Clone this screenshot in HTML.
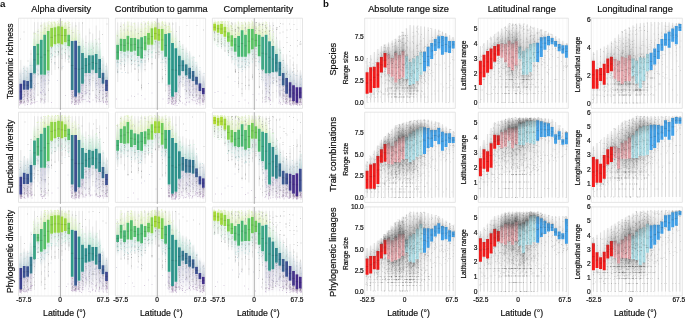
<!DOCTYPE html>
<html><head><meta charset="utf-8"><style>
html,body{margin:0;padding:0;background:#fff;width:685px;height:318px;overflow:hidden}
svg{display:block;will-change:transform}
text{font-family:"Liberation Sans",sans-serif;fill:#111;stroke:#111;stroke-width:.2px;text-anchor:middle}
path{fill:none}
stop{stop-color:#555}
</style></head><body>
<svg xmlns="http://www.w3.org/2000/svg" width="685" height="318" viewBox="0 0 685 318">
<defs><linearGradient id="g0" gradientUnits="userSpaceOnUse" x1="0" y1="58" x2="0" y2="100"><stop offset="0" stop-opacity="0"/><stop offset=".14" stop-opacity=".02"/><stop offset=".24" stop-opacity=".05"/><stop offset=".3" stop-opacity=".07"/><stop offset=".34" stop-opacity=".08"/><stop offset=".49" stop-opacity=".02"/><stop offset=".65" stop-opacity=".01"/><stop offset=".85" stop-opacity="0"/><stop offset=".85" stop-opacity=".04"/><stop offset=".9" stop-opacity=".02"/><stop offset=".94" stop-opacity=".01"/><stop offset="1" stop-opacity="0"/></linearGradient><linearGradient id="g1" gradientUnits="userSpaceOnUse" x1="0" y1="55" x2="0" y2="99.5"><stop offset="0" stop-opacity="0"/><stop offset=".11" stop-opacity=".03"/><stop offset=".19" stop-opacity=".06"/><stop offset=".25" stop-opacity=".09"/><stop offset=".27" stop-opacity=".1"/><stop offset=".45" stop-opacity=".02"/><stop offset=".62" stop-opacity=".01"/><stop offset=".85" stop-opacity="0"/><stop offset=".85" stop-opacity=".04"/><stop offset=".89" stop-opacity=".02"/><stop offset=".94" stop-opacity=".01"/><stop offset="1" stop-opacity="0"/></linearGradient><linearGradient id="g2" gradientUnits="userSpaceOnUse" x1="0" y1="52" x2="0" y2="99"><stop offset="0" stop-opacity="0"/><stop offset=".13" stop-opacity=".03"/><stop offset=".22" stop-opacity=".06"/><stop offset=".28" stop-opacity=".09"/><stop offset=".31" stop-opacity=".1"/><stop offset=".45" stop-opacity=".03"/><stop offset=".58" stop-opacity=".01"/><stop offset=".76" stop-opacity="0"/><stop offset=".77" stop-opacity=".05"/><stop offset=".84" stop-opacity=".03"/><stop offset=".91" stop-opacity=".01"/><stop offset="1" stop-opacity="0"/></linearGradient><linearGradient id="g3" gradientUnits="userSpaceOnUse" x1="0" y1="49" x2="0" y2="98.5"><stop offset="0" stop-opacity="0"/><stop offset=".11" stop-opacity=".05"/><stop offset=".19" stop-opacity=".09"/><stop offset=".24" stop-opacity=".12"/><stop offset=".27" stop-opacity=".14"/><stop offset=".42" stop-opacity=".03"/><stop offset=".58" stop-opacity=".02"/><stop offset=".78" stop-opacity="0"/><stop offset=".78" stop-opacity=".06"/><stop offset=".85" stop-opacity=".04"/><stop offset=".91" stop-opacity=".02"/><stop offset="1" stop-opacity="0"/></linearGradient><linearGradient id="g4" gradientUnits="userSpaceOnUse" x1="0" y1="46" x2="0" y2="98"><stop offset="0" stop-opacity="0"/><stop offset=".08" stop-opacity=".07"/><stop offset=".15" stop-opacity=".15"/><stop offset=".19" stop-opacity=".2"/><stop offset=".21" stop-opacity=".22"/><stop offset=".3" stop-opacity=".06"/><stop offset=".39" stop-opacity=".04"/><stop offset=".51" stop-opacity=".01"/><stop offset=".51" stop-opacity=".08"/><stop offset=".66" stop-opacity=".05"/><stop offset=".8" stop-opacity=".02"/><stop offset="1" stop-opacity="0"/></linearGradient><linearGradient id="g5" gradientUnits="userSpaceOnUse" x1="0" y1="44.1" x2="0" y2="97.9"><stop offset="0" stop-opacity="0"/><stop offset=".07" stop-opacity=".11"/><stop offset=".12" stop-opacity=".21"/><stop offset=".15" stop-opacity=".28"/><stop offset=".16" stop-opacity=".32"/><stop offset=".25" stop-opacity=".09"/><stop offset=".33" stop-opacity=".05"/><stop offset=".44" stop-opacity=".01"/><stop offset=".44" stop-opacity=".09"/><stop offset=".61" stop-opacity=".05"/><stop offset=".77" stop-opacity=".02"/><stop offset="1" stop-opacity="0"/></linearGradient><linearGradient id="g6" gradientUnits="userSpaceOnUse" x1="0" y1="42.3" x2="0" y2="97.8"><stop offset="0" stop-opacity="0"/><stop offset=".09" stop-opacity=".12"/><stop offset=".16" stop-opacity=".24"/><stop offset=".2" stop-opacity=".31"/><stop offset=".22" stop-opacity=".35"/><stop offset=".33" stop-opacity=".1"/><stop offset=".43" stop-opacity=".05"/><stop offset=".57" stop-opacity=".01"/><stop offset=".57" stop-opacity=".15"/><stop offset=".7" stop-opacity=".09"/><stop offset=".83" stop-opacity=".04"/><stop offset="1" stop-opacity="0"/></linearGradient><linearGradient id="g7" gradientUnits="userSpaceOnUse" x1="0" y1="40.5" x2="0" y2="97.6"><stop offset="0" stop-opacity="0"/><stop offset=".12" stop-opacity=".11"/><stop offset=".21" stop-opacity=".21"/><stop offset=".28" stop-opacity=".28"/><stop offset=".31" stop-opacity=".32"/><stop offset=".41" stop-opacity=".12"/><stop offset=".5" stop-opacity=".07"/><stop offset=".63" stop-opacity=".01"/><stop offset=".64" stop-opacity=".2"/><stop offset=".75" stop-opacity=".12"/><stop offset=".85" stop-opacity=".05"/><stop offset="1" stop-opacity="0"/></linearGradient><linearGradient id="g8" gradientUnits="userSpaceOnUse" x1="0" y1="38.6" x2="0" y2="97.5"><stop offset="0" stop-opacity="0"/><stop offset=".1" stop-opacity=".16"/><stop offset=".17" stop-opacity=".3"/><stop offset=".22" stop-opacity=".39"/><stop offset=".24" stop-opacity=".44"/><stop offset=".39" stop-opacity=".1"/><stop offset=".54" stop-opacity=".05"/><stop offset=".74" stop-opacity=".01"/><stop offset=".75" stop-opacity=".24"/><stop offset=".82" stop-opacity=".15"/><stop offset=".9" stop-opacity=".07"/><stop offset="1" stop-opacity="0"/></linearGradient><linearGradient id="g9" gradientUnits="userSpaceOnUse" x1="0" y1="35.2" x2="0" y2="97.5"><stop offset="0" stop-opacity="0"/><stop offset=".13" stop-opacity=".13"/><stop offset=".22" stop-opacity=".25"/><stop offset=".29" stop-opacity=".33"/><stop offset=".32" stop-opacity=".37"/><stop offset=".43" stop-opacity=".13"/><stop offset=".55" stop-opacity=".07"/><stop offset=".7" stop-opacity=".01"/><stop offset=".7" stop-opacity=".26"/><stop offset=".79" stop-opacity=".16"/><stop offset=".88" stop-opacity=".07"/><stop offset="1" stop-opacity="0"/></linearGradient><linearGradient id="g10" gradientUnits="userSpaceOnUse" x1="0" y1="31.8" x2="0" y2="97.5"><stop offset="0" stop-opacity="0"/><stop offset=".12" stop-opacity=".14"/><stop offset=".2" stop-opacity=".27"/><stop offset=".26" stop-opacity=".35"/><stop offset=".29" stop-opacity=".39"/><stop offset=".41" stop-opacity=".12"/><stop offset=".53" stop-opacity=".07"/><stop offset=".69" stop-opacity=".01"/><stop offset=".7" stop-opacity=".27"/><stop offset=".79" stop-opacity=".17"/><stop offset=".88" stop-opacity=".08"/><stop offset="1" stop-opacity="0"/></linearGradient><linearGradient id="g11" gradientUnits="userSpaceOnUse" x1="0" y1="28.4" x2="0" y2="97.5"><stop offset="0" stop-opacity="0"/><stop offset=".16" stop-opacity=".09"/><stop offset=".28" stop-opacity=".19"/><stop offset=".36" stop-opacity=".25"/><stop offset=".4" stop-opacity=".28"/><stop offset=".5" stop-opacity=".14"/><stop offset=".6" stop-opacity=".08"/><stop offset=".73" stop-opacity=".01"/><stop offset=".73" stop-opacity=".26"/><stop offset=".81" stop-opacity=".16"/><stop offset=".89" stop-opacity=".07"/><stop offset="1" stop-opacity="0"/></linearGradient><linearGradient id="g12" gradientUnits="userSpaceOnUse" x1="0" y1="25" x2="0" y2="97.5"><stop offset="0" stop-opacity="0"/><stop offset=".2" stop-opacity=".06"/><stop offset=".36" stop-opacity=".13"/><stop offset=".46" stop-opacity=".18"/><stop offset=".51" stop-opacity=".2"/><stop offset=".61" stop-opacity=".12"/><stop offset=".7" stop-opacity=".07"/><stop offset=".83" stop-opacity=".01"/><stop offset=".83" stop-opacity=".23"/><stop offset=".88" stop-opacity=".15"/><stop offset=".93" stop-opacity=".07"/><stop offset="1" stop-opacity="0"/></linearGradient><linearGradient id="g13" gradientUnits="userSpaceOnUse" x1="0" y1="25.4" x2="0" y2="97.5"><stop offset="0" stop-opacity="0"/><stop offset=".18" stop-opacity=".06"/><stop offset=".32" stop-opacity=".12"/><stop offset=".41" stop-opacity=".16"/><stop offset=".46" stop-opacity=".18"/><stop offset=".56" stop-opacity=".09"/><stop offset=".67" stop-opacity=".05"/><stop offset=".81" stop-opacity=".01"/><stop offset=".81" stop-opacity=".2"/><stop offset=".87" stop-opacity=".12"/><stop offset=".93" stop-opacity=".05"/><stop offset="1" stop-opacity="0"/></linearGradient><linearGradient id="g14" gradientUnits="userSpaceOnUse" x1="0" y1="25.8" x2="0" y2="97.5"><stop offset="0" stop-opacity="0"/><stop offset=".17" stop-opacity=".05"/><stop offset=".29" stop-opacity=".1"/><stop offset=".38" stop-opacity=".14"/><stop offset=".42" stop-opacity=".16"/><stop offset=".53" stop-opacity=".08"/><stop offset=".63" stop-opacity=".04"/><stop offset=".77" stop-opacity=".01"/><stop offset=".77" stop-opacity=".16"/><stop offset=".84" stop-opacity=".1"/><stop offset=".91" stop-opacity=".04"/><stop offset="1" stop-opacity="0"/></linearGradient><linearGradient id="g15" gradientUnits="userSpaceOnUse" x1="0" y1="26.2" x2="0" y2="97.5"><stop offset="0" stop-opacity="0"/><stop offset=".14" stop-opacity=".04"/><stop offset=".25" stop-opacity=".09"/><stop offset=".33" stop-opacity=".12"/><stop offset=".36" stop-opacity=".14"/><stop offset=".46" stop-opacity=".06"/><stop offset=".55" stop-opacity=".03"/><stop offset=".68" stop-opacity="0"/><stop offset=".68" stop-opacity=".11"/><stop offset=".78" stop-opacity=".07"/><stop offset=".87" stop-opacity=".03"/><stop offset="1" stop-opacity="0"/></linearGradient><linearGradient id="g16" gradientUnits="userSpaceOnUse" x1="0" y1="26.6" x2="0" y2="97.5"><stop offset="0" stop-opacity="0"/><stop offset=".14" stop-opacity=".03"/><stop offset=".25" stop-opacity=".07"/><stop offset=".32" stop-opacity=".09"/><stop offset=".36" stop-opacity=".1"/><stop offset=".44" stop-opacity=".05"/><stop offset=".52" stop-opacity=".03"/><stop offset=".63" stop-opacity="0"/><stop offset=".63" stop-opacity=".07"/><stop offset=".74" stop-opacity=".04"/><stop offset=".85" stop-opacity=".02"/><stop offset="1" stop-opacity="0"/></linearGradient><linearGradient id="g17" gradientUnits="userSpaceOnUse" x1="0" y1="27.4" x2="0" y2="96.9"><stop offset="0" stop-opacity="0"/><stop offset=".11" stop-opacity=".03"/><stop offset=".2" stop-opacity=".06"/><stop offset=".25" stop-opacity=".09"/><stop offset=".28" stop-opacity=".1"/><stop offset=".36" stop-opacity=".04"/><stop offset=".45" stop-opacity=".02"/><stop offset=".56" stop-opacity="0"/><stop offset=".56" stop-opacity=".05"/><stop offset=".69" stop-opacity=".03"/><stop offset=".82" stop-opacity=".01"/><stop offset="1" stop-opacity="0"/></linearGradient><linearGradient id="g18" gradientUnits="userSpaceOnUse" x1="0" y1="28.1" x2="0" y2="96.2"><stop offset="0" stop-opacity="0"/><stop offset=".09" stop-opacity=".03"/><stop offset=".15" stop-opacity=".06"/><stop offset=".2" stop-opacity=".09"/><stop offset=".22" stop-opacity=".1"/><stop offset=".29" stop-opacity=".03"/><stop offset=".36" stop-opacity=".02"/><stop offset=".45" stop-opacity="0"/><stop offset=".45" stop-opacity=".03"/><stop offset=".62" stop-opacity=".02"/><stop offset=".78" stop-opacity=".01"/><stop offset="1" stop-opacity="0"/></linearGradient><linearGradient id="g19" gradientUnits="userSpaceOnUse" x1="0" y1="28.9" x2="0" y2="95.6"><stop offset="0" stop-opacity="0"/><stop offset=".06" stop-opacity=".04"/><stop offset=".11" stop-opacity=".07"/><stop offset=".14" stop-opacity=".1"/><stop offset=".15" stop-opacity=".12"/><stop offset=".21" stop-opacity=".04"/><stop offset=".26" stop-opacity=".02"/><stop offset=".33" stop-opacity="0"/><stop offset=".33" stop-opacity=".02"/><stop offset=".53" stop-opacity=".01"/><stop offset=".73" stop-opacity=".01"/><stop offset="1" stop-opacity="0"/></linearGradient><linearGradient id="g20" gradientUnits="userSpaceOnUse" x1="0" y1="29.6" x2="0" y2="95"><stop offset="0" stop-opacity="0"/><stop offset=".04" stop-opacity=".03"/><stop offset=".07" stop-opacity=".07"/><stop offset=".09" stop-opacity=".1"/><stop offset=".1" stop-opacity=".11"/><stop offset=".16" stop-opacity=".03"/><stop offset=".21" stop-opacity=".02"/><stop offset=".29" stop-opacity="0"/><stop offset=".29" stop-opacity=".02"/><stop offset=".5" stop-opacity=".01"/><stop offset=".72" stop-opacity="0"/><stop offset="1" stop-opacity="0"/></linearGradient><linearGradient id="g21" gradientUnits="userSpaceOnUse" x1="0" y1="31.5" x2="0" y2="93.8"><stop offset="0" stop-opacity="0"/><stop offset=".03" stop-opacity=".03"/><stop offset=".05" stop-opacity=".06"/><stop offset=".07" stop-opacity=".09"/><stop offset=".07" stop-opacity=".1"/><stop offset=".16" stop-opacity=".02"/><stop offset=".25" stop-opacity=".01"/><stop offset=".37" stop-opacity="0"/><stop offset=".37" stop-opacity=".02"/><stop offset=".56" stop-opacity=".01"/><stop offset=".75" stop-opacity="0"/><stop offset="1" stop-opacity="0"/></linearGradient><linearGradient id="g22" gradientUnits="userSpaceOnUse" x1="0" y1="33.3" x2="0" y2="92.5"><stop offset="0" stop-opacity="0"/><stop offset=".02" stop-opacity=".03"/><stop offset=".04" stop-opacity=".06"/><stop offset=".05" stop-opacity=".09"/><stop offset=".06" stop-opacity=".1"/><stop offset=".14" stop-opacity=".02"/><stop offset=".22" stop-opacity=".01"/><stop offset=".32" stop-opacity="0"/><stop offset=".32" stop-opacity=".02"/><stop offset=".52" stop-opacity=".01"/><stop offset=".73" stop-opacity="0"/><stop offset="1" stop-opacity="0"/></linearGradient><linearGradient id="g23" gradientUnits="userSpaceOnUse" x1="0" y1="35.1" x2="0" y2="91.2"><stop offset="0" stop-opacity="0"/><stop offset=".04" stop-opacity=".03"/><stop offset=".07" stop-opacity=".06"/><stop offset=".09" stop-opacity=".09"/><stop offset=".1" stop-opacity=".1"/><stop offset=".17" stop-opacity=".03"/><stop offset=".23" stop-opacity=".02"/><stop offset=".32" stop-opacity="0"/><stop offset=".32" stop-opacity=".02"/><stop offset=".52" stop-opacity=".01"/><stop offset=".73" stop-opacity=".01"/><stop offset="1" stop-opacity="0"/></linearGradient><linearGradient id="g24" gradientUnits="userSpaceOnUse" x1="0" y1="37" x2="0" y2="90"><stop offset="0" stop-opacity="0"/><stop offset=".03" stop-opacity=".03"/><stop offset=".05" stop-opacity=".06"/><stop offset=".07" stop-opacity=".09"/><stop offset=".08" stop-opacity=".1"/><stop offset=".12" stop-opacity=".05"/><stop offset=".16" stop-opacity=".03"/><stop offset=".22" stop-opacity="0"/><stop offset=".22" stop-opacity=".02"/><stop offset=".45" stop-opacity=".01"/><stop offset=".69" stop-opacity="0"/><stop offset="1" stop-opacity="0"/></linearGradient><linearGradient id="g25" gradientUnits="userSpaceOnUse" x1="0" y1="46" x2="0" y2="100"><stop offset="0" stop-opacity="0"/><stop offset=".11" stop-opacity=".02"/><stop offset=".19" stop-opacity=".05"/><stop offset=".25" stop-opacity=".07"/><stop offset=".27" stop-opacity=".08"/><stop offset=".41" stop-opacity=".02"/><stop offset=".54" stop-opacity=".01"/><stop offset=".72" stop-opacity="0"/><stop offset=".72" stop-opacity=".04"/><stop offset=".81" stop-opacity=".02"/><stop offset=".89" stop-opacity=".01"/><stop offset="1" stop-opacity="0"/></linearGradient><linearGradient id="g26" gradientUnits="userSpaceOnUse" x1="0" y1="43" x2="0" y2="99"><stop offset="0" stop-opacity="0"/><stop offset=".08" stop-opacity=".03"/><stop offset=".15" stop-opacity=".07"/><stop offset=".19" stop-opacity=".09"/><stop offset=".21" stop-opacity=".1"/><stop offset=".33" stop-opacity=".02"/><stop offset=".45" stop-opacity=".01"/><stop offset=".61" stop-opacity="0"/><stop offset=".61" stop-opacity=".04"/><stop offset=".73" stop-opacity=".02"/><stop offset=".84" stop-opacity=".01"/><stop offset="1" stop-opacity="0"/></linearGradient><linearGradient id="g27" gradientUnits="userSpaceOnUse" x1="0" y1="40" x2="0" y2="98"><stop offset="0" stop-opacity="0"/><stop offset=".08" stop-opacity=".04"/><stop offset=".13" stop-opacity=".08"/><stop offset=".17" stop-opacity=".11"/><stop offset=".19" stop-opacity=".13"/><stop offset=".3" stop-opacity=".03"/><stop offset=".41" stop-opacity=".01"/><stop offset=".56" stop-opacity="0"/><stop offset=".56" stop-opacity=".04"/><stop offset=".69" stop-opacity=".03"/><stop offset=".83" stop-opacity=".01"/><stop offset="1" stop-opacity="0"/></linearGradient><linearGradient id="g28" gradientUnits="userSpaceOnUse" x1="0" y1="37" x2="0" y2="97"><stop offset="0" stop-opacity="0"/><stop offset=".08" stop-opacity=".05"/><stop offset=".13" stop-opacity=".1"/><stop offset=".17" stop-opacity=".14"/><stop offset=".19" stop-opacity=".16"/><stop offset=".3" stop-opacity=".04"/><stop offset=".4" stop-opacity=".02"/><stop offset=".54" stop-opacity="0"/><stop offset=".54" stop-opacity=".05"/><stop offset=".68" stop-opacity=".03"/><stop offset=".82" stop-opacity=".01"/><stop offset="1" stop-opacity="0"/></linearGradient><linearGradient id="g29" gradientUnits="userSpaceOnUse" x1="0" y1="34" x2="0" y2="96"><stop offset="0" stop-opacity="0"/><stop offset=".08" stop-opacity=".07"/><stop offset=".14" stop-opacity=".14"/><stop offset=".17" stop-opacity=".18"/><stop offset=".19" stop-opacity=".21"/><stop offset=".27" stop-opacity=".06"/><stop offset=".35" stop-opacity=".04"/><stop offset=".45" stop-opacity=".01"/><stop offset=".45" stop-opacity=".06"/><stop offset=".61" stop-opacity=".03"/><stop offset=".78" stop-opacity=".01"/><stop offset="1" stop-opacity="0"/></linearGradient><linearGradient id="g30" gradientUnits="userSpaceOnUse" x1="0" y1="31.4" x2="0" y2="95.6"><stop offset="0" stop-opacity="0"/><stop offset=".08" stop-opacity=".09"/><stop offset=".14" stop-opacity=".17"/><stop offset=".18" stop-opacity=".23"/><stop offset=".2" stop-opacity=".26"/><stop offset=".25" stop-opacity=".12"/><stop offset=".31" stop-opacity=".07"/><stop offset=".38" stop-opacity=".01"/><stop offset=".38" stop-opacity=".07"/><stop offset=".57" stop-opacity=".04"/><stop offset=".75" stop-opacity=".02"/><stop offset="1" stop-opacity="0"/></linearGradient><linearGradient id="g31" gradientUnits="userSpaceOnUse" x1="0" y1="28.8" x2="0" y2="95.2"><stop offset="0" stop-opacity="0"/><stop offset=".09" stop-opacity=".1"/><stop offset=".16" stop-opacity=".2"/><stop offset=".2" stop-opacity=".27"/><stop offset=".22" stop-opacity=".3"/><stop offset=".29" stop-opacity=".13"/><stop offset=".35" stop-opacity=".07"/><stop offset=".43" stop-opacity=".01"/><stop offset=".44" stop-opacity=".1"/><stop offset=".6" stop-opacity=".06"/><stop offset=".77" stop-opacity=".03"/><stop offset="1" stop-opacity="0"/></linearGradient><linearGradient id="g32" gradientUnits="userSpaceOnUse" x1="0" y1="26.1" x2="0" y2="94.9"><stop offset="0" stop-opacity="0"/><stop offset=".1" stop-opacity=".11"/><stop offset=".18" stop-opacity=".21"/><stop offset=".23" stop-opacity=".28"/><stop offset=".26" stop-opacity=".31"/><stop offset=".34" stop-opacity=".13"/><stop offset=".42" stop-opacity=".07"/><stop offset=".52" stop-opacity=".01"/><stop offset=".53" stop-opacity=".14"/><stop offset=".67" stop-opacity=".08"/><stop offset=".81" stop-opacity=".04"/><stop offset="1" stop-opacity="0"/></linearGradient><linearGradient id="g33" gradientUnits="userSpaceOnUse" x1="0" y1="23.5" x2="0" y2="94.5"><stop offset="0" stop-opacity="0"/><stop offset=".1" stop-opacity=".13"/><stop offset=".17" stop-opacity=".26"/><stop offset=".22" stop-opacity=".34"/><stop offset=".24" stop-opacity=".38"/><stop offset=".35" stop-opacity=".11"/><stop offset=".47" stop-opacity=".06"/><stop offset=".61" stop-opacity=".01"/><stop offset=".62" stop-opacity=".19"/><stop offset=".73" stop-opacity=".12"/><stop offset=".85" stop-opacity=".05"/><stop offset="1" stop-opacity="0"/></linearGradient><linearGradient id="g34" gradientUnits="userSpaceOnUse" x1="0" y1="23.5" x2="0" y2="94.5"><stop offset="0" stop-opacity="0"/><stop offset=".11" stop-opacity=".13"/><stop offset=".2" stop-opacity=".25"/><stop offset=".25" stop-opacity=".33"/><stop offset=".28" stop-opacity=".37"/><stop offset=".4" stop-opacity=".12"/><stop offset=".51" stop-opacity=".07"/><stop offset=".66" stop-opacity=".01"/><stop offset=".66" stop-opacity=".24"/><stop offset=".76" stop-opacity=".15"/><stop offset=".86" stop-opacity=".07"/><stop offset="1" stop-opacity="0"/></linearGradient><linearGradient id="g35" gradientUnits="userSpaceOnUse" x1="0" y1="23.5" x2="0" y2="94.5"><stop offset="0" stop-opacity="0"/><stop offset=".1" stop-opacity=".15"/><stop offset=".18" stop-opacity=".29"/><stop offset=".23" stop-opacity=".37"/><stop offset=".25" stop-opacity=".41"/><stop offset=".35" stop-opacity=".14"/><stop offset=".46" stop-opacity=".08"/><stop offset=".59" stop-opacity=".01"/><stop offset=".59" stop-opacity=".21"/><stop offset=".71" stop-opacity=".13"/><stop offset=".84" stop-opacity=".06"/><stop offset="1" stop-opacity="0"/></linearGradient><linearGradient id="g36" gradientUnits="userSpaceOnUse" x1="0" y1="23.5" x2="0" y2="94.5"><stop offset="0" stop-opacity="0"/><stop offset=".13" stop-opacity=".11"/><stop offset=".23" stop-opacity=".22"/><stop offset=".3" stop-opacity=".29"/><stop offset=".33" stop-opacity=".32"/><stop offset=".38" stop-opacity=".24"/><stop offset=".43" stop-opacity=".14"/><stop offset=".5" stop-opacity=".02"/><stop offset=".5" stop-opacity=".17"/><stop offset=".65" stop-opacity=".1"/><stop offset=".8" stop-opacity=".05"/><stop offset="1" stop-opacity="0"/></linearGradient><linearGradient id="g37" gradientUnits="userSpaceOnUse" x1="0" y1="23.5" x2="0" y2="94.5"><stop offset="0" stop-opacity="0"/><stop offset=".15" stop-opacity=".09"/><stop offset=".27" stop-opacity=".17"/><stop offset=".35" stop-opacity=".23"/><stop offset=".39" stop-opacity=".26"/><stop offset=".49" stop-opacity=".12"/><stop offset=".59" stop-opacity=".07"/><stop offset=".72" stop-opacity=".01"/><stop offset=".72" stop-opacity=".24"/><stop offset=".8" stop-opacity=".15"/><stop offset=".89" stop-opacity=".07"/><stop offset="1" stop-opacity="0"/></linearGradient><linearGradient id="g38" gradientUnits="userSpaceOnUse" x1="0" y1="24.6" x2="0" y2="94.5"><stop offset="0" stop-opacity="0"/><stop offset=".14" stop-opacity=".08"/><stop offset=".24" stop-opacity=".16"/><stop offset=".31" stop-opacity=".22"/><stop offset=".34" stop-opacity=".25"/><stop offset=".45" stop-opacity=".09"/><stop offset=".57" stop-opacity=".05"/><stop offset=".72" stop-opacity=".01"/><stop offset=".72" stop-opacity=".2"/><stop offset=".8" stop-opacity=".12"/><stop offset=".89" stop-opacity=".05"/><stop offset="1" stop-opacity="0"/></linearGradient><linearGradient id="g39" gradientUnits="userSpaceOnUse" x1="0" y1="25.8" x2="0" y2="94.5"><stop offset="0" stop-opacity="0"/><stop offset=".11" stop-opacity=".08"/><stop offset=".19" stop-opacity=".17"/><stop offset=".24" stop-opacity=".22"/><stop offset=".27" stop-opacity=".25"/><stop offset=".39" stop-opacity=".07"/><stop offset=".51" stop-opacity=".04"/><stop offset=".67" stop-opacity=".01"/><stop offset=".67" stop-opacity=".16"/><stop offset=".77" stop-opacity=".09"/><stop offset=".87" stop-opacity=".04"/><stop offset="1" stop-opacity="0"/></linearGradient><linearGradient id="g40" gradientUnits="userSpaceOnUse" x1="0" y1="26.9" x2="0" y2="94.5"><stop offset="0" stop-opacity="0"/><stop offset=".1" stop-opacity=".07"/><stop offset=".17" stop-opacity=".14"/><stop offset=".21" stop-opacity=".19"/><stop offset=".24" stop-opacity=".21"/><stop offset=".32" stop-opacity=".07"/><stop offset=".41" stop-opacity=".04"/><stop offset=".52" stop-opacity=".01"/><stop offset=".52" stop-opacity=".08"/><stop offset=".66" stop-opacity=".05"/><stop offset=".81" stop-opacity=".02"/><stop offset="1" stop-opacity="0"/></linearGradient><linearGradient id="g41" gradientUnits="userSpaceOnUse" x1="0" y1="28" x2="0" y2="94.5"><stop offset="0" stop-opacity="0"/><stop offset=".09" stop-opacity=".06"/><stop offset=".15" stop-opacity=".11"/><stop offset=".2" stop-opacity=".15"/><stop offset=".22" stop-opacity=".17"/><stop offset=".31" stop-opacity=".05"/><stop offset=".4" stop-opacity=".03"/><stop offset=".51" stop-opacity="0"/><stop offset=".51" stop-opacity=".06"/><stop offset=".66" stop-opacity=".04"/><stop offset=".8" stop-opacity=".02"/><stop offset="1" stop-opacity="0"/></linearGradient><linearGradient id="g42" gradientUnits="userSpaceOnUse" x1="0" y1="29.5" x2="0" y2="93.4"><stop offset="0" stop-opacity="0"/><stop offset=".05" stop-opacity=".06"/><stop offset=".09" stop-opacity=".12"/><stop offset=".11" stop-opacity=".16"/><stop offset=".12" stop-opacity=".18"/><stop offset=".21" stop-opacity=".04"/><stop offset=".31" stop-opacity=".02"/><stop offset=".43" stop-opacity="0"/><stop offset=".43" stop-opacity=".04"/><stop offset=".6" stop-opacity=".02"/><stop offset=".77" stop-opacity=".01"/><stop offset="1" stop-opacity="0"/></linearGradient><linearGradient id="g43" gradientUnits="userSpaceOnUse" x1="0" y1="31" x2="0" y2="92.2"><stop offset="0" stop-opacity="0"/><stop offset=".04" stop-opacity=".05"/><stop offset=".07" stop-opacity=".09"/><stop offset=".09" stop-opacity=".13"/><stop offset=".09" stop-opacity=".14"/><stop offset=".16" stop-opacity=".04"/><stop offset=".22" stop-opacity=".02"/><stop offset=".3" stop-opacity="0"/><stop offset=".31" stop-opacity=".03"/><stop offset=".51" stop-opacity=".02"/><stop offset=".72" stop-opacity=".01"/><stop offset="1" stop-opacity="0"/></linearGradient><linearGradient id="g44" gradientUnits="userSpaceOnUse" x1="0" y1="32.5" x2="0" y2="91.1"><stop offset="0" stop-opacity="0"/><stop offset=".02" stop-opacity=".04"/><stop offset=".04" stop-opacity=".08"/><stop offset=".05" stop-opacity=".1"/><stop offset=".06" stop-opacity=".12"/><stop offset=".11" stop-opacity=".05"/><stop offset=".15" stop-opacity=".03"/><stop offset=".22" stop-opacity="0"/><stop offset=".22" stop-opacity=".02"/><stop offset=".45" stop-opacity=".01"/><stop offset=".69" stop-opacity="0"/><stop offset="1" stop-opacity="0"/></linearGradient><linearGradient id="g45" gradientUnits="userSpaceOnUse" x1="0" y1="34" x2="0" y2="90"><stop offset="0" stop-opacity="0"/><stop offset=".03" stop-opacity=".03"/><stop offset=".05" stop-opacity=".07"/><stop offset=".06" stop-opacity=".1"/><stop offset=".07" stop-opacity=".11"/><stop offset=".11" stop-opacity=".05"/><stop offset=".14" stop-opacity=".03"/><stop offset=".18" stop-opacity="0"/><stop offset=".18" stop-opacity=".02"/><stop offset=".43" stop-opacity=".01"/><stop offset=".67" stop-opacity="0"/><stop offset="1" stop-opacity="0"/></linearGradient><linearGradient id="g46" gradientUnits="userSpaceOnUse" x1="0" y1="36.2" x2="0" y2="87.5"><stop offset="0" stop-opacity="0"/><stop offset=".04" stop-opacity=".03"/><stop offset=".06" stop-opacity=".06"/><stop offset=".08" stop-opacity=".09"/><stop offset=".09" stop-opacity=".1"/><stop offset=".13" stop-opacity=".05"/><stop offset=".16" stop-opacity=".03"/><stop offset=".2" stop-opacity="0"/><stop offset=".21" stop-opacity=".02"/><stop offset=".44" stop-opacity=".01"/><stop offset=".68" stop-opacity="0"/><stop offset="1" stop-opacity="0"/></linearGradient><linearGradient id="g47" gradientUnits="userSpaceOnUse" x1="0" y1="38.5" x2="0" y2="85"><stop offset="0" stop-opacity="0"/><stop offset=".05" stop-opacity=".03"/><stop offset=".08" stop-opacity=".06"/><stop offset=".11" stop-opacity=".09"/><stop offset=".12" stop-opacity=".1"/><stop offset=".17" stop-opacity=".05"/><stop offset=".21" stop-opacity=".03"/><stop offset=".27" stop-opacity="0"/><stop offset=".28" stop-opacity=".02"/><stop offset=".49" stop-opacity=".01"/><stop offset=".71" stop-opacity=".01"/><stop offset="1" stop-opacity="0"/></linearGradient><linearGradient id="g48" gradientUnits="userSpaceOnUse" x1="0" y1="40.8" x2="0" y2="82.5"><stop offset="0" stop-opacity="0"/><stop offset=".04" stop-opacity=".03"/><stop offset=".07" stop-opacity=".06"/><stop offset=".1" stop-opacity=".09"/><stop offset=".11" stop-opacity=".1"/><stop offset=".17" stop-opacity=".05"/><stop offset=".23" stop-opacity=".03"/><stop offset=".3" stop-opacity="0"/><stop offset=".31" stop-opacity=".03"/><stop offset=".51" stop-opacity=".02"/><stop offset=".72" stop-opacity=".01"/><stop offset="1" stop-opacity="0"/></linearGradient><linearGradient id="g49" gradientUnits="userSpaceOnUse" x1="0" y1="43" x2="0" y2="80"><stop offset="0" stop-opacity="0"/><stop offset=".02" stop-opacity=".03"/><stop offset=".04" stop-opacity=".06"/><stop offset=".05" stop-opacity=".09"/><stop offset=".06" stop-opacity=".1"/><stop offset=".16" stop-opacity=".03"/><stop offset=".26" stop-opacity=".02"/><stop offset=".4" stop-opacity="0"/><stop offset=".4" stop-opacity=".03"/><stop offset=".58" stop-opacity=".02"/><stop offset=".76" stop-opacity=".01"/><stop offset="1" stop-opacity="0"/></linearGradient><linearGradient id="g50" gradientUnits="userSpaceOnUse" x1="0" y1="52" x2="0" y2="100"><stop offset="0" stop-opacity="0"/><stop offset=".07" stop-opacity=".03"/><stop offset=".13" stop-opacity=".06"/><stop offset=".16" stop-opacity=".09"/><stop offset=".18" stop-opacity=".1"/><stop offset=".36" stop-opacity=".01"/><stop offset=".53" stop-opacity=".01"/><stop offset=".77" stop-opacity="0"/><stop offset=".77" stop-opacity=".03"/><stop offset=".84" stop-opacity=".02"/><stop offset=".91" stop-opacity=".01"/><stop offset="1" stop-opacity="0"/></linearGradient><linearGradient id="g51" gradientUnits="userSpaceOnUse" x1="0" y1="50.2" x2="0" y2="99.5"><stop offset="0" stop-opacity="0"/><stop offset=".16" stop-opacity=".02"/><stop offset=".27" stop-opacity=".04"/><stop offset=".35" stop-opacity=".05"/><stop offset=".39" stop-opacity=".06"/><stop offset=".51" stop-opacity=".02"/><stop offset=".62" stop-opacity=".01"/><stop offset=".78" stop-opacity="0"/><stop offset=".78" stop-opacity=".04"/><stop offset=".85" stop-opacity=".02"/><stop offset=".91" stop-opacity=".01"/><stop offset="1" stop-opacity="0"/></linearGradient><linearGradient id="g52" gradientUnits="userSpaceOnUse" x1="0" y1="48.4" x2="0" y2="99"><stop offset="0" stop-opacity="0"/><stop offset=".16" stop-opacity=".02"/><stop offset=".27" stop-opacity=".04"/><stop offset=".35" stop-opacity=".06"/><stop offset=".39" stop-opacity=".07"/><stop offset=".46" stop-opacity=".04"/><stop offset=".54" stop-opacity=".02"/><stop offset=".64" stop-opacity="0"/><stop offset=".65" stop-opacity=".05"/><stop offset=".75" stop-opacity=".03"/><stop offset=".86" stop-opacity=".01"/><stop offset="1" stop-opacity="0"/></linearGradient><linearGradient id="g53" gradientUnits="userSpaceOnUse" x1="0" y1="46.5" x2="0" y2="98.5"><stop offset="0" stop-opacity="0"/><stop offset=".13" stop-opacity=".03"/><stop offset=".23" stop-opacity=".07"/><stop offset=".3" stop-opacity=".09"/><stop offset=".33" stop-opacity=".1"/><stop offset=".45" stop-opacity=".03"/><stop offset=".57" stop-opacity=".02"/><stop offset=".73" stop-opacity="0"/><stop offset=".74" stop-opacity=".06"/><stop offset=".81" stop-opacity=".04"/><stop offset=".89" stop-opacity=".02"/><stop offset="1" stop-opacity="0"/></linearGradient><linearGradient id="g54" gradientUnits="userSpaceOnUse" x1="0" y1="44.7" x2="0" y2="98"><stop offset="0" stop-opacity="0"/><stop offset=".1" stop-opacity=".06"/><stop offset=".18" stop-opacity=".11"/><stop offset=".23" stop-opacity=".15"/><stop offset=".26" stop-opacity=".17"/><stop offset=".34" stop-opacity=".06"/><stop offset=".42" stop-opacity=".04"/><stop offset=".53" stop-opacity=".01"/><stop offset=".53" stop-opacity=".07"/><stop offset=".67" stop-opacity=".04"/><stop offset=".81" stop-opacity=".02"/><stop offset="1" stop-opacity="0"/></linearGradient><linearGradient id="g55" gradientUnits="userSpaceOnUse" x1="0" y1="41.3" x2="0" y2="97.5"><stop offset="0" stop-opacity="0"/><stop offset=".11" stop-opacity=".07"/><stop offset=".19" stop-opacity=".14"/><stop offset=".25" stop-opacity=".18"/><stop offset=".28" stop-opacity=".21"/><stop offset=".35" stop-opacity=".09"/><stop offset=".43" stop-opacity=".05"/><stop offset=".53" stop-opacity=".01"/><stop offset=".53" stop-opacity=".1"/><stop offset=".67" stop-opacity=".06"/><stop offset=".81" stop-opacity=".03"/><stop offset="1" stop-opacity="0"/></linearGradient><linearGradient id="g56" gradientUnits="userSpaceOnUse" x1="0" y1="37.9" x2="0" y2="97"><stop offset="0" stop-opacity="0"/><stop offset=".14" stop-opacity=".07"/><stop offset=".25" stop-opacity=".14"/><stop offset=".32" stop-opacity=".18"/><stop offset=".36" stop-opacity=".21"/><stop offset=".46" stop-opacity=".09"/><stop offset=".56" stop-opacity=".05"/><stop offset=".69" stop-opacity=".01"/><stop offset=".69" stop-opacity=".15"/><stop offset=".78" stop-opacity=".09"/><stop offset=".88" stop-opacity=".04"/><stop offset="1" stop-opacity="0"/></linearGradient><linearGradient id="g57" gradientUnits="userSpaceOnUse" x1="0" y1="34.4" x2="0" y2="96.5"><stop offset="0" stop-opacity="0"/><stop offset=".17" stop-opacity=".07"/><stop offset=".3" stop-opacity=".14"/><stop offset=".38" stop-opacity=".19"/><stop offset=".42" stop-opacity=".21"/><stop offset=".52" stop-opacity=".11"/><stop offset=".62" stop-opacity=".06"/><stop offset=".75" stop-opacity=".01"/><stop offset=".76" stop-opacity=".19"/><stop offset=".83" stop-opacity=".11"/><stop offset=".9" stop-opacity=".05"/><stop offset="1" stop-opacity="0"/></linearGradient><linearGradient id="g58" gradientUnits="userSpaceOnUse" x1="0" y1="31" x2="0" y2="96"><stop offset="0" stop-opacity="0"/><stop offset=".16" stop-opacity=".09"/><stop offset=".28" stop-opacity=".17"/><stop offset=".36" stop-opacity=".23"/><stop offset=".4" stop-opacity=".25"/><stop offset=".52" stop-opacity=".1"/><stop offset=".65" stop-opacity=".05"/><stop offset=".82" stop-opacity=".01"/><stop offset=".82" stop-opacity=".22"/><stop offset=".87" stop-opacity=".14"/><stop offset=".93" stop-opacity=".06"/><stop offset="1" stop-opacity="0"/></linearGradient><linearGradient id="g59" gradientUnits="userSpaceOnUse" x1="0" y1="29.1" x2="0" y2="96"><stop offset="0" stop-opacity="0"/><stop offset=".17" stop-opacity=".09"/><stop offset=".3" stop-opacity=".17"/><stop offset=".38" stop-opacity=".23"/><stop offset=".43" stop-opacity=".26"/><stop offset=".53" stop-opacity=".12"/><stop offset=".64" stop-opacity=".07"/><stop offset=".78" stop-opacity=".01"/><stop offset=".78" stop-opacity=".24"/><stop offset=".85" stop-opacity=".15"/><stop offset=".91" stop-opacity=".07"/><stop offset="1" stop-opacity="0"/></linearGradient><linearGradient id="g60" gradientUnits="userSpaceOnUse" x1="0" y1="27.2" x2="0" y2="96"><stop offset="0" stop-opacity="0"/><stop offset=".16" stop-opacity=".09"/><stop offset=".28" stop-opacity=".18"/><stop offset=".37" stop-opacity=".24"/><stop offset=".41" stop-opacity=".27"/><stop offset=".52" stop-opacity=".12"/><stop offset=".63" stop-opacity=".07"/><stop offset=".79" stop-opacity=".01"/><stop offset=".79" stop-opacity=".25"/><stop offset=".85" stop-opacity=".16"/><stop offset=".91" stop-opacity=".07"/><stop offset="1" stop-opacity="0"/></linearGradient><linearGradient id="g61" gradientUnits="userSpaceOnUse" x1="0" y1="25.4" x2="0" y2="96"><stop offset="0" stop-opacity="0"/><stop offset=".19" stop-opacity=".08"/><stop offset=".33" stop-opacity=".15"/><stop offset=".42" stop-opacity=".2"/><stop offset=".47" stop-opacity=".23"/><stop offset=".54" stop-opacity=".16"/><stop offset=".62" stop-opacity=".09"/><stop offset=".72" stop-opacity=".01"/><stop offset=".72" stop-opacity=".24"/><stop offset=".8" stop-opacity=".15"/><stop offset=".89" stop-opacity=".07"/><stop offset="1" stop-opacity="0"/></linearGradient><linearGradient id="g62" gradientUnits="userSpaceOnUse" x1="0" y1="23.5" x2="0" y2="96"><stop offset="0" stop-opacity="0"/><stop offset=".21" stop-opacity=".06"/><stop offset=".36" stop-opacity=".12"/><stop offset=".46" stop-opacity=".16"/><stop offset=".51" stop-opacity=".18"/><stop offset=".61" stop-opacity=".11"/><stop offset=".7" stop-opacity=".06"/><stop offset=".83" stop-opacity=".01"/><stop offset=".83" stop-opacity=".22"/><stop offset=".88" stop-opacity=".14"/><stop offset=".93" stop-opacity=".06"/><stop offset="1" stop-opacity="0"/></linearGradient><linearGradient id="g63" gradientUnits="userSpaceOnUse" x1="0" y1="23.1" x2="0" y2="95.8"><stop offset="0" stop-opacity="0"/><stop offset=".19" stop-opacity=".05"/><stop offset=".33" stop-opacity=".11"/><stop offset=".42" stop-opacity=".15"/><stop offset=".47" stop-opacity=".17"/><stop offset=".6" stop-opacity=".07"/><stop offset=".73" stop-opacity=".04"/><stop offset=".9" stop-opacity=".01"/><stop offset=".9" stop-opacity=".19"/><stop offset=".93" stop-opacity=".11"/><stop offset=".96" stop-opacity=".05"/><stop offset="1" stop-opacity="0"/></linearGradient><linearGradient id="g64" gradientUnits="userSpaceOnUse" x1="0" y1="22.8" x2="0" y2="95.5"><stop offset="0" stop-opacity="0"/><stop offset=".19" stop-opacity=".04"/><stop offset=".34" stop-opacity=".08"/><stop offset=".43" stop-opacity=".11"/><stop offset=".48" stop-opacity=".13"/><stop offset=".58" stop-opacity=".07"/><stop offset=".67" stop-opacity=".04"/><stop offset=".8" stop-opacity=".01"/><stop offset=".8" stop-opacity=".15"/><stop offset=".86" stop-opacity=".09"/><stop offset=".92" stop-opacity=".04"/><stop offset="1" stop-opacity="0"/></linearGradient><linearGradient id="g65" gradientUnits="userSpaceOnUse" x1="0" y1="22.4" x2="0" y2="95.2"><stop offset="0" stop-opacity="0"/><stop offset=".17" stop-opacity=".03"/><stop offset=".3" stop-opacity=".07"/><stop offset=".39" stop-opacity=".1"/><stop offset=".43" stop-opacity=".11"/><stop offset=".51" stop-opacity=".07"/><stop offset=".58" stop-opacity=".04"/><stop offset=".67" stop-opacity=".01"/><stop offset=".67" stop-opacity=".1"/><stop offset=".77" stop-opacity=".06"/><stop offset=".87" stop-opacity=".03"/><stop offset="1" stop-opacity="0"/></linearGradient><linearGradient id="g66" gradientUnits="userSpaceOnUse" x1="0" y1="22" x2="0" y2="95"><stop offset="0" stop-opacity="0"/><stop offset=".17" stop-opacity=".03"/><stop offset=".29" stop-opacity=".05"/><stop offset=".38" stop-opacity=".07"/><stop offset=".42" stop-opacity=".08"/><stop offset=".49" stop-opacity=".05"/><stop offset=".56" stop-opacity=".03"/><stop offset=".66" stop-opacity="0"/><stop offset=".66" stop-opacity=".07"/><stop offset=".76" stop-opacity=".04"/><stop offset=".86" stop-opacity=".02"/><stop offset="1" stop-opacity="0"/></linearGradient><linearGradient id="g67" gradientUnits="userSpaceOnUse" x1="0" y1="22" x2="0" y2="93.8"><stop offset="0" stop-opacity="0"/><stop offset=".15" stop-opacity=".02"/><stop offset=".26" stop-opacity=".04"/><stop offset=".33" stop-opacity=".06"/><stop offset=".37" stop-opacity=".07"/><stop offset=".44" stop-opacity=".04"/><stop offset=".5" stop-opacity=".02"/><stop offset=".59" stop-opacity="0"/><stop offset=".59" stop-opacity=".05"/><stop offset=".71" stop-opacity=".03"/><stop offset=".84" stop-opacity=".01"/><stop offset="1" stop-opacity="0"/></linearGradient><linearGradient id="g68" gradientUnits="userSpaceOnUse" x1="0" y1="22" x2="0" y2="92.5"><stop offset="0" stop-opacity="0"/><stop offset=".12" stop-opacity=".02"/><stop offset=".22" stop-opacity=".04"/><stop offset=".28" stop-opacity=".06"/><stop offset=".31" stop-opacity=".06"/><stop offset=".38" stop-opacity=".03"/><stop offset=".44" stop-opacity=".02"/><stop offset=".52" stop-opacity="0"/><stop offset=".53" stop-opacity=".03"/><stop offset=".67" stop-opacity=".02"/><stop offset=".81" stop-opacity=".01"/><stop offset="1" stop-opacity="0"/></linearGradient><linearGradient id="g69" gradientUnits="userSpaceOnUse" x1="0" y1="22" x2="0" y2="91.2"><stop offset="0" stop-opacity="0"/><stop offset=".1" stop-opacity=".02"/><stop offset=".17" stop-opacity=".04"/><stop offset=".22" stop-opacity=".06"/><stop offset=".25" stop-opacity=".07"/><stop offset=".3" stop-opacity=".04"/><stop offset=".35" stop-opacity=".02"/><stop offset=".41" stop-opacity="0"/><stop offset=".42" stop-opacity=".02"/><stop offset=".59" stop-opacity=".01"/><stop offset=".77" stop-opacity=".01"/><stop offset="1" stop-opacity="0"/></linearGradient><linearGradient id="g70" gradientUnits="userSpaceOnUse" x1="0" y1="22" x2="0" y2="90"><stop offset="0" stop-opacity="0"/><stop offset=".07" stop-opacity=".03"/><stop offset=".12" stop-opacity=".06"/><stop offset=".15" stop-opacity=".08"/><stop offset=".17" stop-opacity=".09"/><stop offset=".22" stop-opacity=".03"/><stop offset=".28" stop-opacity=".02"/><stop offset=".35" stop-opacity="0"/><stop offset=".35" stop-opacity=".02"/><stop offset=".54" stop-opacity=".01"/><stop offset=".74" stop-opacity="0"/><stop offset="1" stop-opacity="0"/></linearGradient><linearGradient id="g71" gradientUnits="userSpaceOnUse" x1="0" y1="22.4" x2="0" y2="87.5"><stop offset="0" stop-opacity="0"/><stop offset=".06" stop-opacity=".03"/><stop offset=".1" stop-opacity=".06"/><stop offset=".13" stop-opacity=".08"/><stop offset=".14" stop-opacity=".09"/><stop offset=".22" stop-opacity=".02"/><stop offset=".29" stop-opacity=".01"/><stop offset=".39" stop-opacity="0"/><stop offset=".39" stop-opacity=".02"/><stop offset=".57" stop-opacity=".01"/><stop offset=".76" stop-opacity="0"/><stop offset="1" stop-opacity="0"/></linearGradient><linearGradient id="g72" gradientUnits="userSpaceOnUse" x1="0" y1="22.8" x2="0" y2="85"><stop offset="0" stop-opacity="0"/><stop offset=".04" stop-opacity=".03"/><stop offset=".06" stop-opacity=".06"/><stop offset=".08" stop-opacity=".08"/><stop offset=".09" stop-opacity=".09"/><stop offset=".16" stop-opacity=".03"/><stop offset=".22" stop-opacity=".01"/><stop offset=".31" stop-opacity="0"/><stop offset=".31" stop-opacity=".02"/><stop offset=".51" stop-opacity=".01"/><stop offset=".72" stop-opacity="0"/><stop offset="1" stop-opacity="0"/></linearGradient><linearGradient id="g73" gradientUnits="userSpaceOnUse" x1="0" y1="23.1" x2="0" y2="82.5"><stop offset="0" stop-opacity="0"/><stop offset=".02" stop-opacity=".03"/><stop offset=".03" stop-opacity=".06"/><stop offset=".04" stop-opacity=".08"/><stop offset=".05" stop-opacity=".09"/><stop offset=".14" stop-opacity=".02"/><stop offset=".23" stop-opacity=".01"/><stop offset=".36" stop-opacity="0"/><stop offset=".36" stop-opacity=".02"/><stop offset=".55" stop-opacity=".01"/><stop offset=".74" stop-opacity="0"/><stop offset="1" stop-opacity="0"/></linearGradient><linearGradient id="g74" gradientUnits="userSpaceOnUse" x1="0" y1="23" x2="0" y2="80"><stop offset="0" stop-opacity="0"/><stop offset=".01" stop-opacity=".03"/><stop offset=".01" stop-opacity=".06"/><stop offset=".02" stop-opacity=".08"/><stop offset=".02" stop-opacity=".09"/><stop offset=".05" stop-opacity=".04"/><stop offset=".09" stop-opacity=".02"/><stop offset=".14" stop-opacity="0"/><stop offset=".14" stop-opacity=".01"/><stop offset=".4" stop-opacity=".01"/><stop offset=".66" stop-opacity="0"/><stop offset="1" stop-opacity="0"/></linearGradient><linearGradient id="g75" gradientUnits="userSpaceOnUse" x1="0" y1="161" x2="0" y2="192"><stop offset="0" stop-opacity="0"/><stop offset=".13" stop-opacity=".05"/><stop offset=".22" stop-opacity=".09"/><stop offset=".28" stop-opacity=".13"/><stop offset=".31" stop-opacity=".14"/><stop offset=".49" stop-opacity=".03"/><stop offset=".66" stop-opacity=".02"/><stop offset=".89" stop-opacity="0"/><stop offset=".9" stop-opacity=".05"/><stop offset=".93" stop-opacity=".03"/><stop offset=".96" stop-opacity=".01"/><stop offset="1" stop-opacity="0"/></linearGradient><linearGradient id="g76" gradientUnits="userSpaceOnUse" x1="0" y1="155.8" x2="0" y2="190.5"><stop offset="0" stop-opacity="0"/><stop offset=".1" stop-opacity=".05"/><stop offset=".18" stop-opacity=".1"/><stop offset=".23" stop-opacity=".14"/><stop offset=".25" stop-opacity=".16"/><stop offset=".46" stop-opacity=".03"/><stop offset=".67" stop-opacity=".01"/><stop offset=".95" stop-opacity="0"/><stop offset=".95" stop-opacity=".05"/><stop offset=".96" stop-opacity=".03"/><stop offset=".98" stop-opacity=".01"/><stop offset="1" stop-opacity="0"/></linearGradient><linearGradient id="g77" gradientUnits="userSpaceOnUse" x1="0" y1="150.5" x2="0" y2="189.7"><stop offset="0" stop-opacity="0"/><stop offset=".13" stop-opacity=".05"/><stop offset=".23" stop-opacity=".1"/><stop offset=".29" stop-opacity=".13"/><stop offset=".33" stop-opacity=".15"/><stop offset=".52" stop-opacity=".03"/><stop offset=".72" stop-opacity=".02"/><stop offset=".97" stop-opacity="0"/><stop offset=".98" stop-opacity=".06"/><stop offset=".98" stop-opacity=".04"/><stop offset=".99" stop-opacity=".02"/><stop offset="1" stop-opacity="0"/></linearGradient><linearGradient id="g78" gradientUnits="userSpaceOnUse" x1="0" y1="145.2" x2="0" y2="187.5"><stop offset="0" stop-opacity="0"/><stop offset=".1" stop-opacity=".08"/><stop offset=".18" stop-opacity=".15"/><stop offset=".23" stop-opacity=".2"/><stop offset=".25" stop-opacity=".23"/><stop offset=".45" stop-opacity=".04"/><stop offset=".65" stop-opacity=".02"/><stop offset=".92" stop-opacity="0"/><stop offset=".92" stop-opacity=".09"/><stop offset=".94" stop-opacity=".05"/><stop offset=".97" stop-opacity=".02"/><stop offset="1" stop-opacity="0"/></linearGradient><linearGradient id="g79" gradientUnits="userSpaceOnUse" x1="0" y1="140" x2="0" y2="186"><stop offset="0" stop-opacity="0"/><stop offset=".08" stop-opacity=".11"/><stop offset=".14" stop-opacity=".21"/><stop offset=".18" stop-opacity=".28"/><stop offset=".2" stop-opacity=".32"/><stop offset=".29" stop-opacity=".1"/><stop offset=".38" stop-opacity=".06"/><stop offset=".49" stop-opacity=".01"/><stop offset=".5" stop-opacity=".11"/><stop offset=".65" stop-opacity=".07"/><stop offset=".8" stop-opacity=".03"/><stop offset="1" stop-opacity="0"/></linearGradient><linearGradient id="g80" gradientUnits="userSpaceOnUse" x1="0" y1="136.2" x2="0" y2="185.1"><stop offset="0" stop-opacity="0"/><stop offset=".06" stop-opacity=".15"/><stop offset=".11" stop-opacity=".29"/><stop offset=".14" stop-opacity=".37"/><stop offset=".16" stop-opacity=".42"/><stop offset=".27" stop-opacity=".11"/><stop offset=".38" stop-opacity=".06"/><stop offset=".52" stop-opacity=".01"/><stop offset=".52" stop-opacity=".15"/><stop offset=".66" stop-opacity=".09"/><stop offset=".81" stop-opacity=".04"/><stop offset="1" stop-opacity="0"/></linearGradient><linearGradient id="g81" gradientUnits="userSpaceOnUse" x1="0" y1="132.5" x2="0" y2="184.2"><stop offset="0" stop-opacity="0"/><stop offset=".08" stop-opacity=".18"/><stop offset=".15" stop-opacity=".34"/><stop offset=".19" stop-opacity=".44"/><stop offset=".21" stop-opacity=".49"/><stop offset=".33" stop-opacity=".12"/><stop offset=".45" stop-opacity=".07"/><stop offset=".6" stop-opacity=".01"/><stop offset=".61" stop-opacity=".21"/><stop offset=".72" stop-opacity=".13"/><stop offset=".84" stop-opacity=".06"/><stop offset="1" stop-opacity="0"/></linearGradient><linearGradient id="g82" gradientUnits="userSpaceOnUse" x1="0" y1="128.8" x2="0" y2="183.4"><stop offset="0" stop-opacity="0"/><stop offset=".13" stop-opacity=".15"/><stop offset=".22" stop-opacity=".29"/><stop offset=".28" stop-opacity=".38"/><stop offset=".32" stop-opacity=".42"/><stop offset=".42" stop-opacity=".17"/><stop offset=".52" stop-opacity=".1"/><stop offset=".65" stop-opacity=".01"/><stop offset=".66" stop-opacity=".26"/><stop offset=".76" stop-opacity=".16"/><stop offset=".86" stop-opacity=".07"/><stop offset="1" stop-opacity="0"/></linearGradient><linearGradient id="g83" gradientUnits="userSpaceOnUse" x1="0" y1="125" x2="0" y2="182.5"><stop offset="0" stop-opacity="0"/><stop offset=".11" stop-opacity=".19"/><stop offset=".2" stop-opacity=".35"/><stop offset=".25" stop-opacity=".45"/><stop offset=".28" stop-opacity=".5"/><stop offset=".39" stop-opacity=".18"/><stop offset=".5" stop-opacity=".1"/><stop offset=".65" stop-opacity=".02"/><stop offset=".65" stop-opacity=".31"/><stop offset=".76" stop-opacity=".2"/><stop offset=".86" stop-opacity=".09"/><stop offset="1" stop-opacity="0"/></linearGradient><linearGradient id="g84" gradientUnits="userSpaceOnUse" x1="0" y1="123.9" x2="0" y2="182.5"><stop offset="0" stop-opacity="0"/><stop offset=".09" stop-opacity=".24"/><stop offset=".16" stop-opacity=".44"/><stop offset=".21" stop-opacity=".55"/><stop offset=".24" stop-opacity=".6"/><stop offset=".36" stop-opacity=".17"/><stop offset=".49" stop-opacity=".1"/><stop offset=".66" stop-opacity=".01"/><stop offset=".66" stop-opacity=".34"/><stop offset=".76" stop-opacity=".22"/><stop offset=".86" stop-opacity=".1"/><stop offset="1" stop-opacity="0"/></linearGradient><linearGradient id="g85" gradientUnits="userSpaceOnUse" x1="0" y1="122.8" x2="0" y2="182.5"><stop offset="0" stop-opacity="0"/><stop offset=".09" stop-opacity=".26"/><stop offset=".16" stop-opacity=".46"/><stop offset=".2" stop-opacity=".57"/><stop offset=".23" stop-opacity=".62"/><stop offset=".34" stop-opacity=".19"/><stop offset=".46" stop-opacity=".11"/><stop offset=".62" stop-opacity=".02"/><stop offset=".62" stop-opacity=".34"/><stop offset=".73" stop-opacity=".22"/><stop offset=".85" stop-opacity=".1"/><stop offset="1" stop-opacity="0"/></linearGradient><linearGradient id="g86" gradientUnits="userSpaceOnUse" x1="0" y1="121.7" x2="0" y2="182.5"><stop offset="0" stop-opacity="0"/><stop offset=".1" stop-opacity=".22"/><stop offset=".18" stop-opacity=".4"/><stop offset=".23" stop-opacity=".51"/><stop offset=".25" stop-opacity=".56"/><stop offset=".36" stop-opacity=".19"/><stop offset=".47" stop-opacity=".11"/><stop offset=".61" stop-opacity=".02"/><stop offset=".61" stop-opacity=".32"/><stop offset=".73" stop-opacity=".2"/><stop offset=".84" stop-opacity=".09"/><stop offset="1" stop-opacity="0"/></linearGradient><linearGradient id="g87" gradientUnits="userSpaceOnUse" x1="0" y1="120.6" x2="0" y2="182.5"><stop offset="0" stop-opacity="0"/><stop offset=".08" stop-opacity=".23"/><stop offset=".14" stop-opacity=".42"/><stop offset=".19" stop-opacity=".54"/><stop offset=".21" stop-opacity=".58"/><stop offset=".35" stop-opacity=".13"/><stop offset=".49" stop-opacity=".08"/><stop offset=".67" stop-opacity=".01"/><stop offset=".68" stop-opacity=".31"/><stop offset=".77" stop-opacity=".2"/><stop offset=".87" stop-opacity=".09"/><stop offset="1" stop-opacity="0"/></linearGradient><linearGradient id="g88" gradientUnits="userSpaceOnUse" x1="0" y1="120.2" x2="0" y2="182.5"><stop offset="0" stop-opacity="0"/><stop offset=".07" stop-opacity=".23"/><stop offset=".12" stop-opacity=".41"/><stop offset=".16" stop-opacity=".52"/><stop offset=".18" stop-opacity=".57"/><stop offset=".32" stop-opacity=".11"/><stop offset=".46" stop-opacity=".06"/><stop offset=".64" stop-opacity=".01"/><stop offset=".64" stop-opacity=".26"/><stop offset=".75" stop-opacity=".16"/><stop offset=".86" stop-opacity=".07"/><stop offset="1" stop-opacity="0"/></linearGradient><linearGradient id="g89" gradientUnits="userSpaceOnUse" x1="0" y1="119.8" x2="0" y2="182.5"><stop offset="0" stop-opacity="0"/><stop offset=".06" stop-opacity=".2"/><stop offset=".1" stop-opacity=".36"/><stop offset=".13" stop-opacity=".47"/><stop offset=".15" stop-opacity=".51"/><stop offset=".28" stop-opacity=".09"/><stop offset=".41" stop-opacity=".05"/><stop offset=".59" stop-opacity=".01"/><stop offset=".59" stop-opacity=".18"/><stop offset=".71" stop-opacity=".11"/><stop offset=".84" stop-opacity=".05"/><stop offset="1" stop-opacity="0"/></linearGradient><linearGradient id="g90" gradientUnits="userSpaceOnUse" x1="0" y1="119.4" x2="0" y2="182.5"><stop offset="0" stop-opacity="0"/><stop offset=".05" stop-opacity=".15"/><stop offset=".08" stop-opacity=".29"/><stop offset=".11" stop-opacity=".37"/><stop offset=".12" stop-opacity=".42"/><stop offset=".26" stop-opacity=".07"/><stop offset=".39" stop-opacity=".04"/><stop offset=".57" stop-opacity=".01"/><stop offset=".57" stop-opacity=".13"/><stop offset=".7" stop-opacity=".08"/><stop offset=".83" stop-opacity=".04"/><stop offset="1" stop-opacity="0"/></linearGradient><linearGradient id="g91" gradientUnits="userSpaceOnUse" x1="0" y1="119" x2="0" y2="182.5"><stop offset="0" stop-opacity="0"/><stop offset=".05" stop-opacity=".11"/><stop offset=".09" stop-opacity=".21"/><stop offset=".12" stop-opacity=".28"/><stop offset=".13" stop-opacity=".32"/><stop offset=".26" stop-opacity=".05"/><stop offset=".38" stop-opacity=".03"/><stop offset=".55" stop-opacity="0"/><stop offset=".55" stop-opacity=".09"/><stop offset=".69" stop-opacity=".06"/><stop offset=".82" stop-opacity=".02"/><stop offset="1" stop-opacity="0"/></linearGradient><linearGradient id="g92" gradientUnits="userSpaceOnUse" x1="0" y1="119.8" x2="0" y2="179.4"><stop offset="0" stop-opacity="0"/><stop offset=".06" stop-opacity=".08"/><stop offset=".1" stop-opacity=".16"/><stop offset=".12" stop-opacity=".22"/><stop offset=".14" stop-opacity=".24"/><stop offset=".24" stop-opacity=".05"/><stop offset=".34" stop-opacity=".03"/><stop offset=".47" stop-opacity="0"/><stop offset=".47" stop-opacity=".06"/><stop offset=".63" stop-opacity=".04"/><stop offset=".79" stop-opacity=".02"/><stop offset="1" stop-opacity="0"/></linearGradient><linearGradient id="g93" gradientUnits="userSpaceOnUse" x1="0" y1="120.5" x2="0" y2="176.2"><stop offset="0" stop-opacity="0"/><stop offset=".07" stop-opacity=".06"/><stop offset=".12" stop-opacity=".12"/><stop offset=".15" stop-opacity=".17"/><stop offset=".17" stop-opacity=".19"/><stop offset=".26" stop-opacity=".04"/><stop offset=".35" stop-opacity=".02"/><stop offset=".47" stop-opacity="0"/><stop offset=".48" stop-opacity=".05"/><stop offset=".63" stop-opacity=".03"/><stop offset=".79" stop-opacity=".01"/><stop offset="1" stop-opacity="0"/></linearGradient><linearGradient id="g94" gradientUnits="userSpaceOnUse" x1="0" y1="121.2" x2="0" y2="173.1"><stop offset="0" stop-opacity="0"/><stop offset=".07" stop-opacity=".05"/><stop offset=".12" stop-opacity=".1"/><stop offset=".15" stop-opacity=".14"/><stop offset=".17" stop-opacity=".16"/><stop offset=".23" stop-opacity=".06"/><stop offset=".3" stop-opacity=".03"/><stop offset=".38" stop-opacity="0"/><stop offset=".38" stop-opacity=".04"/><stop offset=".57" stop-opacity=".02"/><stop offset=".75" stop-opacity=".01"/><stop offset="1" stop-opacity="0"/></linearGradient><linearGradient id="g95" gradientUnits="userSpaceOnUse" x1="0" y1="122" x2="0" y2="170"><stop offset="0" stop-opacity="0"/><stop offset=".05" stop-opacity=".05"/><stop offset=".09" stop-opacity=".09"/><stop offset=".11" stop-opacity=".13"/><stop offset=".12" stop-opacity=".14"/><stop offset=".23" stop-opacity=".03"/><stop offset=".33" stop-opacity=".02"/><stop offset=".46" stop-opacity="0"/><stop offset=".46" stop-opacity=".04"/><stop offset=".62" stop-opacity=".02"/><stop offset=".79" stop-opacity=".01"/><stop offset="1" stop-opacity="0"/></linearGradient><linearGradient id="g96" gradientUnits="userSpaceOnUse" x1="0" y1="124.2" x2="0" y2="167.5"><stop offset="0" stop-opacity="0"/><stop offset=".07" stop-opacity=".05"/><stop offset=".12" stop-opacity=".09"/><stop offset=".16" stop-opacity=".13"/><stop offset=".17" stop-opacity=".14"/><stop offset=".3" stop-opacity=".03"/><stop offset=".44" stop-opacity=".02"/><stop offset=".61" stop-opacity="0"/><stop offset=".62" stop-opacity=".05"/><stop offset=".73" stop-opacity=".03"/><stop offset=".85" stop-opacity=".01"/><stop offset="1" stop-opacity="0"/></linearGradient><linearGradient id="g97" gradientUnits="userSpaceOnUse" x1="0" y1="126.5" x2="0" y2="165"><stop offset="0" stop-opacity="0"/><stop offset=".07" stop-opacity=".04"/><stop offset=".12" stop-opacity=".09"/><stop offset=".16" stop-opacity=".12"/><stop offset=".18" stop-opacity=".13"/><stop offset=".28" stop-opacity=".04"/><stop offset=".39" stop-opacity=".02"/><stop offset=".53" stop-opacity="0"/><stop offset=".53" stop-opacity=".05"/><stop offset=".67" stop-opacity=".03"/><stop offset=".81" stop-opacity=".01"/><stop offset="1" stop-opacity="0"/></linearGradient><linearGradient id="g98" gradientUnits="userSpaceOnUse" x1="0" y1="128.8" x2="0" y2="162.5"><stop offset="0" stop-opacity="0"/><stop offset=".05" stop-opacity=".04"/><stop offset=".09" stop-opacity=".09"/><stop offset=".12" stop-opacity=".12"/><stop offset=".13" stop-opacity=".13"/><stop offset=".22" stop-opacity=".05"/><stop offset=".31" stop-opacity=".03"/><stop offset=".42" stop-opacity="0"/><stop offset=".42" stop-opacity=".05"/><stop offset=".6" stop-opacity=".03"/><stop offset=".77" stop-opacity=".01"/><stop offset="1" stop-opacity="0"/></linearGradient><linearGradient id="g99" gradientUnits="userSpaceOnUse" x1="0" y1="131" x2="0" y2="160"><stop offset="0" stop-opacity="0"/><stop offset=".08" stop-opacity=".04"/><stop offset=".14" stop-opacity=".09"/><stop offset=".19" stop-opacity=".12"/><stop offset=".21" stop-opacity=".13"/><stop offset=".27" stop-opacity=".06"/><stop offset=".33" stop-opacity=".04"/><stop offset=".41" stop-opacity=".01"/><stop offset=".42" stop-opacity=".05"/><stop offset=".59" stop-opacity=".03"/><stop offset=".77" stop-opacity=".01"/><stop offset="1" stop-opacity="0"/></linearGradient><linearGradient id="g100" gradientUnits="userSpaceOnUse" x1="0" y1="146" x2="0" y2="192"><stop offset="0" stop-opacity="0"/><stop offset=".11" stop-opacity=".04"/><stop offset=".19" stop-opacity=".07"/><stop offset=".24" stop-opacity=".1"/><stop offset=".27" stop-opacity=".11"/><stop offset=".38" stop-opacity=".03"/><stop offset=".5" stop-opacity=".02"/><stop offset=".66" stop-opacity="0"/><stop offset=".66" stop-opacity=".05"/><stop offset=".76" stop-opacity=".03"/><stop offset=".86" stop-opacity=".01"/><stop offset="1" stop-opacity="0"/></linearGradient><linearGradient id="g101" gradientUnits="userSpaceOnUse" x1="0" y1="140" x2="0" y2="189"><stop offset="0" stop-opacity="0"/><stop offset=".08" stop-opacity=".05"/><stop offset=".13" stop-opacity=".1"/><stop offset=".17" stop-opacity=".13"/><stop offset=".19" stop-opacity=".15"/><stop offset=".31" stop-opacity=".03"/><stop offset=".43" stop-opacity=".02"/><stop offset=".58" stop-opacity="0"/><stop offset=".59" stop-opacity=".05"/><stop offset=".71" stop-opacity=".03"/><stop offset=".83" stop-opacity=".01"/><stop offset="1" stop-opacity="0"/></linearGradient><linearGradient id="g102" gradientUnits="userSpaceOnUse" x1="0" y1="134" x2="0" y2="186"><stop offset="0" stop-opacity="0"/><stop offset=".13" stop-opacity=".03"/><stop offset=".23" stop-opacity=".07"/><stop offset=".3" stop-opacity=".09"/><stop offset=".33" stop-opacity=".11"/><stop offset=".45" stop-opacity=".03"/><stop offset=".57" stop-opacity=".02"/><stop offset=".72" stop-opacity="0"/><stop offset=".73" stop-opacity=".06"/><stop offset=".81" stop-opacity=".04"/><stop offset=".89" stop-opacity=".02"/><stop offset="1" stop-opacity="0"/></linearGradient><linearGradient id="g103" gradientUnits="userSpaceOnUse" x1="0" y1="128" x2="0" y2="183"><stop offset="0" stop-opacity="0"/><stop offset=".11" stop-opacity=".05"/><stop offset=".19" stop-opacity=".1"/><stop offset=".25" stop-opacity=".14"/><stop offset=".28" stop-opacity=".16"/><stop offset=".41" stop-opacity=".04"/><stop offset=".55" stop-opacity=".02"/><stop offset=".72" stop-opacity="0"/><stop offset=".72" stop-opacity=".08"/><stop offset=".81" stop-opacity=".05"/><stop offset=".89" stop-opacity=".02"/><stop offset="1" stop-opacity="0"/></linearGradient><linearGradient id="g104" gradientUnits="userSpaceOnUse" x1="0" y1="122" x2="0" y2="180"><stop offset="0" stop-opacity="0"/><stop offset=".09" stop-opacity=".08"/><stop offset=".15" stop-opacity=".16"/><stop offset=".2" stop-opacity=".22"/><stop offset=".22" stop-opacity=".24"/><stop offset=".29" stop-opacity=".09"/><stop offset=".36" stop-opacity=".05"/><stop offset=".46" stop-opacity=".01"/><stop offset=".46" stop-opacity=".08"/><stop offset=".62" stop-opacity=".05"/><stop offset=".78" stop-opacity=".02"/><stop offset="1" stop-opacity="0"/></linearGradient><linearGradient id="g105" gradientUnits="userSpaceOnUse" x1="0" y1="120.9" x2="0" y2="179"><stop offset="0" stop-opacity="0"/><stop offset=".1" stop-opacity=".1"/><stop offset=".17" stop-opacity=".19"/><stop offset=".22" stop-opacity=".26"/><stop offset=".25" stop-opacity=".29"/><stop offset=".3" stop-opacity=".17"/><stop offset=".35" stop-opacity=".1"/><stop offset=".41" stop-opacity=".02"/><stop offset=".42" stop-opacity=".1"/><stop offset=".59" stop-opacity=".06"/><stop offset=".77" stop-opacity=".03"/><stop offset="1" stop-opacity="0"/></linearGradient><linearGradient id="g106" gradientUnits="userSpaceOnUse" x1="0" y1="119.8" x2="0" y2="178"><stop offset="0" stop-opacity="0"/><stop offset=".08" stop-opacity=".15"/><stop offset=".15" stop-opacity=".29"/><stop offset=".19" stop-opacity=".37"/><stop offset=".21" stop-opacity=".41"/><stop offset=".29" stop-opacity=".14"/><stop offset=".38" stop-opacity=".08"/><stop offset=".49" stop-opacity=".01"/><stop offset=".49" stop-opacity=".15"/><stop offset=".64" stop-opacity=".09"/><stop offset=".8" stop-opacity=".04"/><stop offset="1" stop-opacity="0"/></linearGradient><linearGradient id="g107" gradientUnits="userSpaceOnUse" x1="0" y1="118.6" x2="0" y2="177"><stop offset="0" stop-opacity="0"/><stop offset=".08" stop-opacity=".2"/><stop offset=".14" stop-opacity=".37"/><stop offset=".18" stop-opacity=".47"/><stop offset=".2" stop-opacity=".52"/><stop offset=".28" stop-opacity=".17"/><stop offset=".37" stop-opacity=".1"/><stop offset=".48" stop-opacity=".02"/><stop offset=".48" stop-opacity=".18"/><stop offset=".64" stop-opacity=".11"/><stop offset=".79" stop-opacity=".05"/><stop offset="1" stop-opacity="0"/></linearGradient><linearGradient id="g108" gradientUnits="userSpaceOnUse" x1="0" y1="117.5" x2="0" y2="176"><stop offset="0" stop-opacity="0"/><stop offset=".07" stop-opacity=".26"/><stop offset=".13" stop-opacity=".46"/><stop offset=".16" stop-opacity=".57"/><stop offset=".18" stop-opacity=".62"/><stop offset=".25" stop-opacity=".25"/><stop offset=".31" stop-opacity=".15"/><stop offset=".4" stop-opacity=".02"/><stop offset=".4" stop-opacity=".19"/><stop offset=".58" stop-opacity=".12"/><stop offset=".76" stop-opacity=".05"/><stop offset="1" stop-opacity="0"/></linearGradient><linearGradient id="g109" gradientUnits="userSpaceOnUse" x1="0" y1="117.5" x2="0" y2="176"><stop offset="0" stop-opacity="0"/><stop offset=".07" stop-opacity=".28"/><stop offset=".13" stop-opacity=".5"/><stop offset=".16" stop-opacity=".61"/><stop offset=".18" stop-opacity=".66"/><stop offset=".28" stop-opacity=".19"/><stop offset=".39" stop-opacity=".11"/><stop offset=".53" stop-opacity=".02"/><stop offset=".53" stop-opacity=".26"/><stop offset=".67" stop-opacity=".16"/><stop offset=".81" stop-opacity=".07"/><stop offset="1" stop-opacity="0"/></linearGradient><linearGradient id="g110" gradientUnits="userSpaceOnUse" x1="0" y1="117.5" x2="0" y2="176"><stop offset="0" stop-opacity="0"/><stop offset=".07" stop-opacity=".3"/><stop offset=".12" stop-opacity=".53"/><stop offset=".15" stop-opacity=".65"/><stop offset=".17" stop-opacity=".7"/><stop offset=".26" stop-opacity=".23"/><stop offset=".34" stop-opacity=".13"/><stop offset=".46" stop-opacity=".02"/><stop offset=".46" stop-opacity=".24"/><stop offset=".62" stop-opacity=".15"/><stop offset=".78" stop-opacity=".07"/><stop offset="1" stop-opacity="0"/></linearGradient><linearGradient id="g111" gradientUnits="userSpaceOnUse" x1="0" y1="117.5" x2="0" y2="176"><stop offset="0" stop-opacity="0"/><stop offset=".04" stop-opacity=".29"/><stop offset=".07" stop-opacity=".51"/><stop offset=".09" stop-opacity=".63"/><stop offset=".1" stop-opacity=".68"/><stop offset=".21" stop-opacity=".18"/><stop offset=".32" stop-opacity=".1"/><stop offset=".47" stop-opacity=".02"/><stop offset=".47" stop-opacity=".23"/><stop offset=".63" stop-opacity=".15"/><stop offset=".79" stop-opacity=".07"/><stop offset="1" stop-opacity="0"/></linearGradient><linearGradient id="g112" gradientUnits="userSpaceOnUse" x1="0" y1="117.5" x2="0" y2="176"><stop offset="0" stop-opacity="0"/><stop offset=".03" stop-opacity=".27"/><stop offset=".06" stop-opacity=".47"/><stop offset=".08" stop-opacity=".59"/><stop offset=".09" stop-opacity=".64"/><stop offset=".2" stop-opacity=".15"/><stop offset=".32" stop-opacity=".09"/><stop offset=".47" stop-opacity=".01"/><stop offset=".47" stop-opacity=".21"/><stop offset=".63" stop-opacity=".13"/><stop offset=".79" stop-opacity=".06"/><stop offset="1" stop-opacity="0"/></linearGradient><linearGradient id="g113" gradientUnits="userSpaceOnUse" x1="0" y1="117.5" x2="0" y2="176"><stop offset="0" stop-opacity="0"/><stop offset=".02" stop-opacity=".23"/><stop offset=".04" stop-opacity=".41"/><stop offset=".05" stop-opacity=".52"/><stop offset=".06" stop-opacity=".57"/><stop offset=".17" stop-opacity=".13"/><stop offset=".28" stop-opacity=".08"/><stop offset=".43" stop-opacity=".01"/><stop offset=".43" stop-opacity=".17"/><stop offset=".6" stop-opacity=".1"/><stop offset=".77" stop-opacity=".05"/><stop offset="1" stop-opacity="0"/></linearGradient><linearGradient id="g114" gradientUnits="userSpaceOnUse" x1="0" y1="117.5" x2="0" y2="176"><stop offset="0" stop-opacity="0"/><stop offset=".02" stop-opacity=".18"/><stop offset=".04" stop-opacity=".34"/><stop offset=".05" stop-opacity=".44"/><stop offset=".06" stop-opacity=".48"/><stop offset=".17" stop-opacity=".1"/><stop offset=".29" stop-opacity=".06"/><stop offset=".44" stop-opacity=".01"/><stop offset=".44" stop-opacity=".13"/><stop offset=".61" stop-opacity=".08"/><stop offset=".78" stop-opacity=".04"/><stop offset="1" stop-opacity="0"/></linearGradient><linearGradient id="g115" gradientUnits="userSpaceOnUse" x1="0" y1="117.5" x2="0" y2="176"><stop offset="0" stop-opacity="0"/><stop offset=".02" stop-opacity=".14"/><stop offset=".04" stop-opacity=".27"/><stop offset=".05" stop-opacity=".35"/><stop offset=".06" stop-opacity=".39"/><stop offset=".18" stop-opacity=".07"/><stop offset=".3" stop-opacity=".04"/><stop offset=".46" stop-opacity=".01"/><stop offset=".46" stop-opacity=".11"/><stop offset=".62" stop-opacity=".06"/><stop offset=".78" stop-opacity=".03"/><stop offset="1" stop-opacity="0"/></linearGradient><linearGradient id="g116" gradientUnits="userSpaceOnUse" x1="0" y1="117.5" x2="0" y2="176"><stop offset="0" stop-opacity="0"/><stop offset=".02" stop-opacity=".1"/><stop offset=".03" stop-opacity=".2"/><stop offset=".04" stop-opacity=".27"/><stop offset=".05" stop-opacity=".3"/><stop offset=".15" stop-opacity=".06"/><stop offset=".26" stop-opacity=".03"/><stop offset=".4" stop-opacity=".01"/><stop offset=".4" stop-opacity=".07"/><stop offset=".58" stop-opacity=".04"/><stop offset=".76" stop-opacity=".02"/><stop offset="1" stop-opacity="0"/></linearGradient><linearGradient id="g117" gradientUnits="userSpaceOnUse" x1="0" y1="117.9" x2="0" y2="173.2"><stop offset="0" stop-opacity="0"/><stop offset=".02" stop-opacity=".08"/><stop offset=".04" stop-opacity=".15"/><stop offset=".06" stop-opacity=".2"/><stop offset=".06" stop-opacity=".23"/><stop offset=".15" stop-opacity=".06"/><stop offset=".23" stop-opacity=".03"/><stop offset=".34" stop-opacity="0"/><stop offset=".35" stop-opacity=".05"/><stop offset=".54" stop-opacity=".03"/><stop offset=".74" stop-opacity=".01"/><stop offset="1" stop-opacity="0"/></linearGradient><linearGradient id="g118" gradientUnits="userSpaceOnUse" x1="0" y1="118.2" x2="0" y2="170.5"><stop offset="0" stop-opacity="0"/><stop offset=".03" stop-opacity=".06"/><stop offset=".06" stop-opacity=".11"/><stop offset=".07" stop-opacity=".15"/><stop offset=".08" stop-opacity=".18"/><stop offset=".16" stop-opacity=".05"/><stop offset=".25" stop-opacity=".03"/><stop offset=".36" stop-opacity="0"/><stop offset=".36" stop-opacity=".04"/><stop offset=".55" stop-opacity=".02"/><stop offset=".74" stop-opacity=".01"/><stop offset="1" stop-opacity="0"/></linearGradient><linearGradient id="g119" gradientUnits="userSpaceOnUse" x1="0" y1="118.6" x2="0" y2="167.8"><stop offset="0" stop-opacity="0"/><stop offset=".04" stop-opacity=".05"/><stop offset=".07" stop-opacity=".1"/><stop offset=".09" stop-opacity=".13"/><stop offset=".1" stop-opacity=".15"/><stop offset=".17" stop-opacity=".05"/><stop offset=".25" stop-opacity=".03"/><stop offset=".36" stop-opacity="0"/><stop offset=".36" stop-opacity=".04"/><stop offset=".55" stop-opacity=".02"/><stop offset=".74" stop-opacity=".01"/><stop offset="1" stop-opacity="0"/></linearGradient><linearGradient id="g120" gradientUnits="userSpaceOnUse" x1="0" y1="119" x2="0" y2="165"><stop offset="0" stop-opacity="0"/><stop offset=".07" stop-opacity=".04"/><stop offset=".12" stop-opacity=".09"/><stop offset=".16" stop-opacity=".12"/><stop offset=".17" stop-opacity=".13"/><stop offset=".24" stop-opacity=".05"/><stop offset=".3" stop-opacity=".03"/><stop offset=".38" stop-opacity="0"/><stop offset=".39" stop-opacity=".04"/><stop offset=".57" stop-opacity=".02"/><stop offset=".75" stop-opacity=".01"/><stop offset="1" stop-opacity="0"/></linearGradient><linearGradient id="g121" gradientUnits="userSpaceOnUse" x1="0" y1="122" x2="0" y2="162.5"><stop offset="0" stop-opacity="0"/><stop offset=".12" stop-opacity=".03"/><stop offset=".21" stop-opacity=".07"/><stop offset=".27" stop-opacity=".09"/><stop offset=".3" stop-opacity=".1"/><stop offset=".37" stop-opacity=".05"/><stop offset=".44" stop-opacity=".03"/><stop offset=".53" stop-opacity="0"/><stop offset=".54" stop-opacity=".04"/><stop offset=".68" stop-opacity=".03"/><stop offset=".81" stop-opacity=".01"/><stop offset="1" stop-opacity="0"/></linearGradient><linearGradient id="g122" gradientUnits="userSpaceOnUse" x1="0" y1="125" x2="0" y2="160"><stop offset="0" stop-opacity="0"/><stop offset=".07" stop-opacity=".04"/><stop offset=".13" stop-opacity=".08"/><stop offset=".16" stop-opacity=".11"/><stop offset=".18" stop-opacity=".13"/><stop offset=".25" stop-opacity=".06"/><stop offset=".32" stop-opacity=".03"/><stop offset=".42" stop-opacity="0"/><stop offset=".42" stop-opacity=".04"/><stop offset=".59" stop-opacity=".03"/><stop offset=".77" stop-opacity=".01"/><stop offset="1" stop-opacity="0"/></linearGradient><linearGradient id="g123" gradientUnits="userSpaceOnUse" x1="0" y1="128" x2="0" y2="157.5"><stop offset="0" stop-opacity="0"/><stop offset=".15" stop-opacity=".04"/><stop offset=".27" stop-opacity=".07"/><stop offset=".34" stop-opacity=".1"/><stop offset=".38" stop-opacity=".11"/><stop offset=".44" stop-opacity=".06"/><stop offset=".49" stop-opacity=".03"/><stop offset=".56" stop-opacity=".01"/><stop offset=".57" stop-opacity=".04"/><stop offset=".7" stop-opacity=".03"/><stop offset=".83" stop-opacity=".01"/><stop offset="1" stop-opacity="0"/></linearGradient><linearGradient id="g124" gradientUnits="userSpaceOnUse" x1="0" y1="131" x2="0" y2="155"><stop offset="0" stop-opacity="0"/><stop offset=".02" stop-opacity=".04"/><stop offset=".04" stop-opacity=".08"/><stop offset=".06" stop-opacity=".11"/><stop offset=".06" stop-opacity=".13"/><stop offset=".21" stop-opacity=".04"/><stop offset=".35" stop-opacity=".02"/><stop offset=".55" stop-opacity="0"/><stop offset=".55" stop-opacity=".04"/><stop offset=".68" stop-opacity=".03"/><stop offset=".82" stop-opacity=".01"/><stop offset="1" stop-opacity="0"/></linearGradient><linearGradient id="g125" gradientUnits="userSpaceOnUse" x1="0" y1="146" x2="0" y2="192"><stop offset="0" stop-opacity="0"/><stop offset=".1" stop-opacity=".04"/><stop offset=".17" stop-opacity=".07"/><stop offset=".22" stop-opacity=".1"/><stop offset=".24" stop-opacity=".11"/><stop offset=".43" stop-opacity=".02"/><stop offset=".63" stop-opacity=".01"/><stop offset=".89" stop-opacity="0"/><stop offset=".89" stop-opacity=".04"/><stop offset=".92" stop-opacity=".03"/><stop offset=".96" stop-opacity=".01"/><stop offset="1" stop-opacity="0"/></linearGradient><linearGradient id="g126" gradientUnits="userSpaceOnUse" x1="0" y1="143" x2="0" y2="190.2"><stop offset="0" stop-opacity="0"/><stop offset=".14" stop-opacity=".03"/><stop offset=".24" stop-opacity=".06"/><stop offset=".31" stop-opacity=".08"/><stop offset=".34" stop-opacity=".09"/><stop offset=".49" stop-opacity=".02"/><stop offset=".64" stop-opacity=".01"/><stop offset=".84" stop-opacity="0"/><stop offset=".84" stop-opacity=".05"/><stop offset=".89" stop-opacity=".03"/><stop offset=".94" stop-opacity=".01"/><stop offset="1" stop-opacity="0"/></linearGradient><linearGradient id="g127" gradientUnits="userSpaceOnUse" x1="0" y1="140" x2="0" y2="188.5"><stop offset="0" stop-opacity="0"/><stop offset=".2" stop-opacity=".02"/><stop offset=".34" stop-opacity=".05"/><stop offset=".44" stop-opacity=".06"/><stop offset=".49" stop-opacity=".07"/><stop offset=".61" stop-opacity=".03"/><stop offset=".72" stop-opacity=".02"/><stop offset=".88" stop-opacity="0"/><stop offset=".88" stop-opacity=".06"/><stop offset=".92" stop-opacity=".03"/><stop offset=".95" stop-opacity=".02"/><stop offset="1" stop-opacity="0"/></linearGradient><linearGradient id="g128" gradientUnits="userSpaceOnUse" x1="0" y1="137" x2="0" y2="186.8"><stop offset="0" stop-opacity="0"/><stop offset=".14" stop-opacity=".04"/><stop offset=".25" stop-opacity=".08"/><stop offset=".33" stop-opacity=".11"/><stop offset=".36" stop-opacity=".12"/><stop offset=".5" stop-opacity=".04"/><stop offset=".65" stop-opacity=".02"/><stop offset=".84" stop-opacity="0"/><stop offset=".84" stop-opacity=".08"/><stop offset=".89" stop-opacity=".05"/><stop offset=".94" stop-opacity=".02"/><stop offset="1" stop-opacity="0"/></linearGradient><linearGradient id="g129" gradientUnits="userSpaceOnUse" x1="0" y1="134" x2="0" y2="185"><stop offset="0" stop-opacity="0"/><stop offset=".12" stop-opacity=".06"/><stop offset=".21" stop-opacity=".13"/><stop offset=".27" stop-opacity=".17"/><stop offset=".3" stop-opacity=".2"/><stop offset=".39" stop-opacity=".08"/><stop offset=".48" stop-opacity=".04"/><stop offset=".6" stop-opacity=".01"/><stop offset=".6" stop-opacity=".1"/><stop offset=".72" stop-opacity=".06"/><stop offset=".84" stop-opacity=".03"/><stop offset="1" stop-opacity="0"/></linearGradient><linearGradient id="g130" gradientUnits="userSpaceOnUse" x1="0" y1="131" x2="0" y2="183.8"><stop offset="0" stop-opacity="0"/><stop offset=".12" stop-opacity=".09"/><stop offset=".21" stop-opacity=".17"/><stop offset=".27" stop-opacity=".23"/><stop offset=".3" stop-opacity=".25"/><stop offset=".38" stop-opacity=".1"/><stop offset=".47" stop-opacity=".06"/><stop offset=".59" stop-opacity=".01"/><stop offset=".59" stop-opacity=".14"/><stop offset=".71" stop-opacity=".08"/><stop offset=".84" stop-opacity=".04"/><stop offset="1" stop-opacity="0"/></linearGradient><linearGradient id="g131" gradientUnits="userSpaceOnUse" x1="0" y1="128" x2="0" y2="182.5"><stop offset="0" stop-opacity="0"/><stop offset=".13" stop-opacity=".1"/><stop offset=".24" stop-opacity=".19"/><stop offset=".3" stop-opacity=".26"/><stop offset=".34" stop-opacity=".29"/><stop offset=".4" stop-opacity=".17"/><stop offset=".47" stop-opacity=".1"/><stop offset=".56" stop-opacity=".02"/><stop offset=".56" stop-opacity=".17"/><stop offset=".69" stop-opacity=".1"/><stop offset=".82" stop-opacity=".05"/><stop offset="1" stop-opacity="0"/></linearGradient><linearGradient id="g132" gradientUnits="userSpaceOnUse" x1="0" y1="125" x2="0" y2="181.2"><stop offset="0" stop-opacity="0"/><stop offset=".16" stop-opacity=".1"/><stop offset=".29" stop-opacity=".2"/><stop offset=".37" stop-opacity=".26"/><stop offset=".41" stop-opacity=".3"/><stop offset=".52" stop-opacity=".13"/><stop offset=".63" stop-opacity=".08"/><stop offset=".78" stop-opacity=".01"/><stop offset=".78" stop-opacity=".23"/><stop offset=".84" stop-opacity=".14"/><stop offset=".91" stop-opacity=".06"/><stop offset="1" stop-opacity="0"/></linearGradient><linearGradient id="g133" gradientUnits="userSpaceOnUse" x1="0" y1="122" x2="0" y2="180"><stop offset="0" stop-opacity="0"/><stop offset=".14" stop-opacity=".13"/><stop offset=".25" stop-opacity=".25"/><stop offset=".33" stop-opacity=".33"/><stop offset=".36" stop-opacity=".37"/><stop offset=".44" stop-opacity=".2"/><stop offset=".52" stop-opacity=".12"/><stop offset=".63" stop-opacity=".02"/><stop offset=".63" stop-opacity=".27"/><stop offset=".74" stop-opacity=".17"/><stop offset=".85" stop-opacity=".08"/><stop offset="1" stop-opacity="0"/></linearGradient><linearGradient id="g134" gradientUnits="userSpaceOnUse" x1="0" y1="120.5" x2="0" y2="180"><stop offset="0" stop-opacity="0"/><stop offset=".14" stop-opacity=".15"/><stop offset=".24" stop-opacity=".28"/><stop offset=".31" stop-opacity=".37"/><stop offset=".34" stop-opacity=".41"/><stop offset=".43" stop-opacity=".2"/><stop offset=".52" stop-opacity=".12"/><stop offset=".64" stop-opacity=".02"/><stop offset=".64" stop-opacity=".3"/><stop offset=".75" stop-opacity=".19"/><stop offset=".86" stop-opacity=".09"/><stop offset="1" stop-opacity="0"/></linearGradient><linearGradient id="g135" gradientUnits="userSpaceOnUse" x1="0" y1="119" x2="0" y2="180"><stop offset="0" stop-opacity="0"/><stop offset=".12" stop-opacity=".17"/><stop offset=".21" stop-opacity=".32"/><stop offset=".27" stop-opacity=".41"/><stop offset=".3" stop-opacity=".45"/><stop offset=".41" stop-opacity=".18"/><stop offset=".51" stop-opacity=".1"/><stop offset=".65" stop-opacity=".02"/><stop offset=".65" stop-opacity=".31"/><stop offset=".76" stop-opacity=".19"/><stop offset=".86" stop-opacity=".09"/><stop offset="1" stop-opacity="0"/></linearGradient><linearGradient id="g136" gradientUnits="userSpaceOnUse" x1="0" y1="117.5" x2="0" y2="180"><stop offset="0" stop-opacity="0"/><stop offset=".11" stop-opacity=".17"/><stop offset=".2" stop-opacity=".32"/><stop offset=".25" stop-opacity=".42"/><stop offset=".28" stop-opacity=".46"/><stop offset=".39" stop-opacity=".16"/><stop offset=".5" stop-opacity=".09"/><stop offset=".65" stop-opacity=".01"/><stop offset=".65" stop-opacity=".3"/><stop offset=".76" stop-opacity=".19"/><stop offset=".86" stop-opacity=".09"/><stop offset="1" stop-opacity="0"/></linearGradient><linearGradient id="g137" gradientUnits="userSpaceOnUse" x1="0" y1="116" x2="0" y2="180"><stop offset="0" stop-opacity="0"/><stop offset=".09" stop-opacity=".18"/><stop offset=".16" stop-opacity=".34"/><stop offset=".21" stop-opacity=".43"/><stop offset=".23" stop-opacity=".48"/><stop offset=".36" stop-opacity=".12"/><stop offset=".49" stop-opacity=".07"/><stop offset=".66" stop-opacity=".01"/><stop offset=".66" stop-opacity=".27"/><stop offset=".76" stop-opacity=".17"/><stop offset=".86" stop-opacity=".08"/><stop offset="1" stop-opacity="0"/></linearGradient><linearGradient id="g138" gradientUnits="userSpaceOnUse" x1="0" y1="116" x2="0" y2="180"><stop offset="0" stop-opacity="0"/><stop offset=".07" stop-opacity=".19"/><stop offset=".13" stop-opacity=".36"/><stop offset=".16" stop-opacity=".46"/><stop offset=".18" stop-opacity=".5"/><stop offset=".31" stop-opacity=".1"/><stop offset=".45" stop-opacity=".06"/><stop offset=".62" stop-opacity=".01"/><stop offset=".62" stop-opacity=".21"/><stop offset=".74" stop-opacity=".13"/><stop offset=".85" stop-opacity=".06"/><stop offset="1" stop-opacity="0"/></linearGradient><linearGradient id="g139" gradientUnits="userSpaceOnUse" x1="0" y1="116" x2="0" y2="180"><stop offset="0" stop-opacity="0"/><stop offset=".06" stop-opacity=".17"/><stop offset=".11" stop-opacity=".32"/><stop offset=".14" stop-opacity=".42"/><stop offset=".15" stop-opacity=".46"/><stop offset=".29" stop-opacity=".07"/><stop offset=".43" stop-opacity=".04"/><stop offset=".62" stop-opacity=".01"/><stop offset=".62" stop-opacity=".17"/><stop offset=".74" stop-opacity=".1"/><stop offset=".85" stop-opacity=".05"/><stop offset="1" stop-opacity="0"/></linearGradient><linearGradient id="g140" gradientUnits="userSpaceOnUse" x1="0" y1="116" x2="0" y2="180"><stop offset="0" stop-opacity="0"/><stop offset=".06" stop-opacity=".13"/><stop offset=".11" stop-opacity=".25"/><stop offset=".14" stop-opacity=".33"/><stop offset=".15" stop-opacity=".37"/><stop offset=".29" stop-opacity=".06"/><stop offset=".42" stop-opacity=".03"/><stop offset=".6" stop-opacity="0"/><stop offset=".61" stop-opacity=".12"/><stop offset=".72" stop-opacity=".07"/><stop offset=".84" stop-opacity=".03"/><stop offset="1" stop-opacity="0"/></linearGradient><linearGradient id="g141" gradientUnits="userSpaceOnUse" x1="0" y1="116" x2="0" y2="180"><stop offset="0" stop-opacity="0"/><stop offset=".05" stop-opacity=".1"/><stop offset=".1" stop-opacity=".19"/><stop offset=".12" stop-opacity=".25"/><stop offset=".14" stop-opacity=".28"/><stop offset=".25" stop-opacity=".05"/><stop offset=".37" stop-opacity=".03"/><stop offset=".53" stop-opacity="0"/><stop offset=".53" stop-opacity=".08"/><stop offset=".67" stop-opacity=".05"/><stop offset=".81" stop-opacity=".02"/><stop offset="1" stop-opacity="0"/></linearGradient><linearGradient id="g142" gradientUnits="userSpaceOnUse" x1="0" y1="116" x2="0" y2="177.5"><stop offset="0" stop-opacity="0"/><stop offset=".06" stop-opacity=".07"/><stop offset=".1" stop-opacity=".14"/><stop offset=".13" stop-opacity=".19"/><stop offset=".14" stop-opacity=".21"/><stop offset=".26" stop-opacity=".04"/><stop offset=".37" stop-opacity=".02"/><stop offset=".52" stop-opacity="0"/><stop offset=".52" stop-opacity=".06"/><stop offset=".66" stop-opacity=".03"/><stop offset=".81" stop-opacity=".01"/><stop offset="1" stop-opacity="0"/></linearGradient><linearGradient id="g143" gradientUnits="userSpaceOnUse" x1="0" y1="116" x2="0" y2="175"><stop offset="0" stop-opacity="0"/><stop offset=".06" stop-opacity=".05"/><stop offset=".11" stop-opacity=".11"/><stop offset=".14" stop-opacity=".15"/><stop offset=".15" stop-opacity=".17"/><stop offset=".24" stop-opacity=".04"/><stop offset=".33" stop-opacity=".02"/><stop offset=".45" stop-opacity="0"/><stop offset=".45" stop-opacity=".04"/><stop offset=".61" stop-opacity=".02"/><stop offset=".78" stop-opacity=".01"/><stop offset="1" stop-opacity="0"/></linearGradient><linearGradient id="g144" gradientUnits="userSpaceOnUse" x1="0" y1="116" x2="0" y2="172.5"><stop offset="0" stop-opacity="0"/><stop offset=".07" stop-opacity=".05"/><stop offset=".12" stop-opacity=".09"/><stop offset=".16" stop-opacity=".13"/><stop offset=".17" stop-opacity=".14"/><stop offset=".25" stop-opacity=".04"/><stop offset=".32" stop-opacity=".02"/><stop offset=".42" stop-opacity="0"/><stop offset=".42" stop-opacity=".03"/><stop offset=".59" stop-opacity=".02"/><stop offset=".77" stop-opacity=".01"/><stop offset="1" stop-opacity="0"/></linearGradient><linearGradient id="g145" gradientUnits="userSpaceOnUse" x1="0" y1="116" x2="0" y2="170"><stop offset="0" stop-opacity="0"/><stop offset=".03" stop-opacity=".04"/><stop offset=".06" stop-opacity=".08"/><stop offset=".07" stop-opacity=".11"/><stop offset=".08" stop-opacity=".13"/><stop offset=".17" stop-opacity=".03"/><stop offset=".26" stop-opacity=".02"/><stop offset=".38" stop-opacity="0"/><stop offset=".38" stop-opacity=".03"/><stop offset=".57" stop-opacity=".02"/><stop offset=".75" stop-opacity=".01"/><stop offset="1" stop-opacity="0"/></linearGradient><linearGradient id="g146" gradientUnits="userSpaceOnUse" x1="0" y1="116" x2="0" y2="166.2"><stop offset="0" stop-opacity="0"/><stop offset=".05" stop-opacity=".04"/><stop offset=".08" stop-opacity=".08"/><stop offset=".11" stop-opacity=".1"/><stop offset=".12" stop-opacity=".12"/><stop offset=".23" stop-opacity=".03"/><stop offset=".33" stop-opacity=".01"/><stop offset=".47" stop-opacity="0"/><stop offset=".47" stop-opacity=".03"/><stop offset=".63" stop-opacity=".02"/><stop offset=".79" stop-opacity=".01"/><stop offset="1" stop-opacity="0"/></linearGradient><linearGradient id="g147" gradientUnits="userSpaceOnUse" x1="0" y1="116" x2="0" y2="162.5"><stop offset="0" stop-opacity="0"/><stop offset=".02" stop-opacity=".04"/><stop offset=".03" stop-opacity=".08"/><stop offset=".04" stop-opacity=".1"/><stop offset=".04" stop-opacity=".12"/><stop offset=".16" stop-opacity=".03"/><stop offset=".27" stop-opacity=".01"/><stop offset=".42" stop-opacity="0"/><stop offset=".43" stop-opacity=".03"/><stop offset=".6" stop-opacity=".02"/><stop offset=".77" stop-opacity=".01"/><stop offset="1" stop-opacity="0"/></linearGradient><linearGradient id="g148" gradientUnits="userSpaceOnUse" x1="0" y1="116" x2="0" y2="158.8"><stop offset="0" stop-opacity="0"/><stop offset=".01" stop-opacity=".04"/><stop offset=".02" stop-opacity=".08"/><stop offset=".02" stop-opacity=".1"/><stop offset=".02" stop-opacity=".12"/><stop offset=".07" stop-opacity=".06"/><stop offset=".12" stop-opacity=".03"/><stop offset=".18" stop-opacity="0"/><stop offset=".18" stop-opacity=".03"/><stop offset=".43" stop-opacity=".01"/><stop offset=".67" stop-opacity=".01"/><stop offset="1" stop-opacity="0"/></linearGradient><linearGradient id="g149" gradientUnits="userSpaceOnUse" x1="0" y1="116" x2="0" y2="155"><stop offset="0" stop-opacity="0"/><stop offset=".02" stop-opacity=".04"/><stop offset=".03" stop-opacity=".08"/><stop offset=".03" stop-opacity=".1"/><stop offset=".04" stop-opacity=".12"/><stop offset=".09" stop-opacity=".06"/><stop offset=".13" stop-opacity=".03"/><stop offset=".2" stop-opacity="0"/><stop offset=".2" stop-opacity=".03"/><stop offset=".44" stop-opacity=".02"/><stop offset=".68" stop-opacity=".01"/><stop offset="1" stop-opacity="0"/></linearGradient><linearGradient id="g150" gradientUnits="userSpaceOnUse" x1="0" y1="248" x2="0" y2="286"><stop offset="0" stop-opacity="0"/><stop offset=".11" stop-opacity=".06"/><stop offset=".19" stop-opacity=".11"/><stop offset=".25" stop-opacity=".15"/><stop offset=".28" stop-opacity=".17"/><stop offset=".4" stop-opacity=".04"/><stop offset=".53" stop-opacity=".02"/><stop offset=".7" stop-opacity="0"/><stop offset=".7" stop-opacity=".06"/><stop offset=".79" stop-opacity=".04"/><stop offset=".88" stop-opacity=".02"/><stop offset="1" stop-opacity="0"/></linearGradient><linearGradient id="g151" gradientUnits="userSpaceOnUse" x1="0" y1="245.5" x2="0" y2="285.2"><stop offset="0" stop-opacity="0"/><stop offset=".11" stop-opacity=".06"/><stop offset=".18" stop-opacity=".13"/><stop offset=".24" stop-opacity=".17"/><stop offset=".26" stop-opacity=".2"/><stop offset=".4" stop-opacity=".05"/><stop offset=".53" stop-opacity=".03"/><stop offset=".7" stop-opacity="0"/><stop offset=".71" stop-opacity=".07"/><stop offset=".79" stop-opacity=".04"/><stop offset=".88" stop-opacity=".02"/><stop offset="1" stop-opacity="0"/></linearGradient><linearGradient id="g152" gradientUnits="userSpaceOnUse" x1="0" y1="243" x2="0" y2="284.5"><stop offset="0" stop-opacity="0"/><stop offset=".13" stop-opacity=".06"/><stop offset=".22" stop-opacity=".13"/><stop offset=".28" stop-opacity=".17"/><stop offset=".31" stop-opacity=".19"/><stop offset=".41" stop-opacity=".07"/><stop offset=".51" stop-opacity=".04"/><stop offset=".63" stop-opacity=".01"/><stop offset=".63" stop-opacity=".09"/><stop offset=".74" stop-opacity=".05"/><stop offset=".85" stop-opacity=".02"/><stop offset="1" stop-opacity="0"/></linearGradient><linearGradient id="g153" gradientUnits="userSpaceOnUse" x1="0" y1="240.5" x2="0" y2="283.8"><stop offset="0" stop-opacity="0"/><stop offset=".1" stop-opacity=".1"/><stop offset=".17" stop-opacity=".19"/><stop offset=".22" stop-opacity=".26"/><stop offset=".24" stop-opacity=".29"/><stop offset=".37" stop-opacity=".07"/><stop offset=".5" stop-opacity=".04"/><stop offset=".67" stop-opacity=".01"/><stop offset=".68" stop-opacity=".11"/><stop offset=".77" stop-opacity=".07"/><stop offset=".87" stop-opacity=".03"/><stop offset="1" stop-opacity="0"/></linearGradient><linearGradient id="g154" gradientUnits="userSpaceOnUse" x1="0" y1="238" x2="0" y2="283"><stop offset="0" stop-opacity="0"/><stop offset=".05" stop-opacity=".14"/><stop offset=".09" stop-opacity=".27"/><stop offset=".12" stop-opacity=".35"/><stop offset=".13" stop-opacity=".39"/><stop offset=".23" stop-opacity=".12"/><stop offset=".33" stop-opacity=".07"/><stop offset=".45" stop-opacity=".01"/><stop offset=".46" stop-opacity=".13"/><stop offset=".62" stop-opacity=".08"/><stop offset=".78" stop-opacity=".04"/><stop offset="1" stop-opacity="0"/></linearGradient><linearGradient id="g155" gradientUnits="userSpaceOnUse" x1="0" y1="234" x2="0" y2="282.9"><stop offset="0" stop-opacity="0"/><stop offset=".05" stop-opacity=".19"/><stop offset=".08" stop-opacity=".35"/><stop offset=".11" stop-opacity=".45"/><stop offset=".12" stop-opacity=".49"/><stop offset=".21" stop-opacity=".16"/><stop offset=".3" stop-opacity=".09"/><stop offset=".41" stop-opacity=".01"/><stop offset=".42" stop-opacity=".16"/><stop offset=".59" stop-opacity=".1"/><stop offset=".77" stop-opacity=".04"/><stop offset="1" stop-opacity="0"/></linearGradient><linearGradient id="g156" gradientUnits="userSpaceOnUse" x1="0" y1="230" x2="0" y2="282.8"><stop offset="0" stop-opacity="0"/><stop offset=".06" stop-opacity=".24"/><stop offset=".11" stop-opacity=".44"/><stop offset=".14" stop-opacity=".55"/><stop offset=".16" stop-opacity=".6"/><stop offset=".28" stop-opacity=".15"/><stop offset=".4" stop-opacity=".08"/><stop offset=".55" stop-opacity=".01"/><stop offset=".56" stop-opacity=".25"/><stop offset=".69" stop-opacity=".15"/><stop offset=".82" stop-opacity=".07"/><stop offset="1" stop-opacity="0"/></linearGradient><linearGradient id="g157" gradientUnits="userSpaceOnUse" x1="0" y1="226" x2="0" y2="282.6"><stop offset="0" stop-opacity="0"/><stop offset=".1" stop-opacity=".22"/><stop offset=".18" stop-opacity=".41"/><stop offset=".23" stop-opacity=".51"/><stop offset=".25" stop-opacity=".56"/><stop offset=".37" stop-opacity=".18"/><stop offset=".48" stop-opacity=".11"/><stop offset=".63" stop-opacity=".02"/><stop offset=".63" stop-opacity=".32"/><stop offset=".74" stop-opacity=".2"/><stop offset=".85" stop-opacity=".09"/><stop offset="1" stop-opacity="0"/></linearGradient><linearGradient id="g158" gradientUnits="userSpaceOnUse" x1="0" y1="222" x2="0" y2="282.5"><stop offset="0" stop-opacity="0"/><stop offset=".1" stop-opacity=".25"/><stop offset=".18" stop-opacity=".45"/><stop offset=".23" stop-opacity=".56"/><stop offset=".25" stop-opacity=".61"/><stop offset=".37" stop-opacity=".21"/><stop offset=".48" stop-opacity=".12"/><stop offset=".63" stop-opacity=".02"/><stop offset=".63" stop-opacity=".37"/><stop offset=".74" stop-opacity=".24"/><stop offset=".85" stop-opacity=".11"/><stop offset="1" stop-opacity="0"/></linearGradient><linearGradient id="g159" gradientUnits="userSpaceOnUse" x1="0" y1="219.4" x2="0" y2="282.5"><stop offset="0" stop-opacity="0"/><stop offset=".09" stop-opacity=".28"/><stop offset=".16" stop-opacity=".5"/><stop offset=".21" stop-opacity=".62"/><stop offset=".23" stop-opacity=".67"/><stop offset=".35" stop-opacity=".21"/><stop offset=".46" stop-opacity=".12"/><stop offset=".62" stop-opacity=".02"/><stop offset=".62" stop-opacity=".38"/><stop offset=".73" stop-opacity=".25"/><stop offset=".85" stop-opacity=".12"/><stop offset="1" stop-opacity="0"/></linearGradient><linearGradient id="g160" gradientUnits="userSpaceOnUse" x1="0" y1="216.8" x2="0" y2="282.5"><stop offset="0" stop-opacity="0"/><stop offset=".1" stop-opacity=".25"/><stop offset=".18" stop-opacity=".45"/><stop offset=".24" stop-opacity=".57"/><stop offset=".26" stop-opacity=".62"/><stop offset=".36" stop-opacity=".24"/><stop offset=".46" stop-opacity=".14"/><stop offset=".6" stop-opacity=".02"/><stop offset=".6" stop-opacity=".36"/><stop offset=".72" stop-opacity=".23"/><stop offset=".84" stop-opacity=".11"/><stop offset="1" stop-opacity="0"/></linearGradient><linearGradient id="g161" gradientUnits="userSpaceOnUse" x1="0" y1="214.1" x2="0" y2="282.5"><stop offset="0" stop-opacity="0"/><stop offset=".15" stop-opacity=".17"/><stop offset=".26" stop-opacity=".33"/><stop offset=".34" stop-opacity=".42"/><stop offset=".38" stop-opacity=".47"/><stop offset=".43" stop-opacity=".37"/><stop offset=".49" stop-opacity=".22"/><stop offset=".56" stop-opacity=".04"/><stop offset=".56" stop-opacity=".32"/><stop offset=".69" stop-opacity=".2"/><stop offset=".83" stop-opacity=".09"/><stop offset="1" stop-opacity="0"/></linearGradient><linearGradient id="g162" gradientUnits="userSpaceOnUse" x1="0" y1="211.5" x2="0" y2="282.5"><stop offset="0" stop-opacity="0"/><stop offset=".14" stop-opacity=".16"/><stop offset=".24" stop-opacity=".31"/><stop offset=".31" stop-opacity=".4"/><stop offset=".34" stop-opacity=".45"/><stop offset=".45" stop-opacity=".18"/><stop offset=".56" stop-opacity=".11"/><stop offset=".71" stop-opacity=".02"/><stop offset=".71" stop-opacity=".38"/><stop offset=".8" stop-opacity=".24"/><stop offset=".88" stop-opacity=".11"/><stop offset="1" stop-opacity="0"/></linearGradient><linearGradient id="g163" gradientUnits="userSpaceOnUse" x1="0" y1="211.6" x2="0" y2="282.5"><stop offset="0" stop-opacity="0"/><stop offset=".12" stop-opacity=".15"/><stop offset=".22" stop-opacity=".29"/><stop offset=".28" stop-opacity=".37"/><stop offset=".31" stop-opacity=".41"/><stop offset=".43" stop-opacity=".14"/><stop offset=".56" stop-opacity=".08"/><stop offset=".72" stop-opacity=".01"/><stop offset=".72" stop-opacity=".32"/><stop offset=".8" stop-opacity=".2"/><stop offset=".89" stop-opacity=".09"/><stop offset="1" stop-opacity="0"/></linearGradient><linearGradient id="g164" gradientUnits="userSpaceOnUse" x1="0" y1="211.8" x2="0" y2="282.5"><stop offset="0" stop-opacity="0"/><stop offset=".1" stop-opacity=".15"/><stop offset=".17" stop-opacity=".29"/><stop offset=".22" stop-opacity=".38"/><stop offset=".24" stop-opacity=".42"/><stop offset=".37" stop-opacity=".11"/><stop offset=".5" stop-opacity=".06"/><stop offset=".67" stop-opacity=".01"/><stop offset=".67" stop-opacity=".25"/><stop offset=".77" stop-opacity=".16"/><stop offset=".87" stop-opacity=".07"/><stop offset="1" stop-opacity="0"/></linearGradient><linearGradient id="g165" gradientUnits="userSpaceOnUse" x1="0" y1="211.9" x2="0" y2="282.5"><stop offset="0" stop-opacity="0"/><stop offset=".07" stop-opacity=".16"/><stop offset=".12" stop-opacity=".3"/><stop offset=".15" stop-opacity=".39"/><stop offset=".17" stop-opacity=".43"/><stop offset=".29" stop-opacity=".08"/><stop offset=".42" stop-opacity=".05"/><stop offset=".58" stop-opacity=".01"/><stop offset=".58" stop-opacity=".15"/><stop offset=".7" stop-opacity=".09"/><stop offset=".83" stop-opacity=".04"/><stop offset="1" stop-opacity="0"/></linearGradient><linearGradient id="g166" gradientUnits="userSpaceOnUse" x1="0" y1="212" x2="0" y2="282.5"><stop offset="0" stop-opacity="0"/><stop offset=".09" stop-opacity=".09"/><stop offset=".16" stop-opacity=".17"/><stop offset=".21" stop-opacity=".23"/><stop offset=".23" stop-opacity=".26"/><stop offset=".33" stop-opacity=".07"/><stop offset=".44" stop-opacity=".04"/><stop offset=".58" stop-opacity=".01"/><stop offset=".58" stop-opacity=".11"/><stop offset=".7" stop-opacity=".07"/><stop offset=".83" stop-opacity=".03"/><stop offset="1" stop-opacity="0"/></linearGradient><linearGradient id="g167" gradientUnits="userSpaceOnUse" x1="0" y1="213" x2="0" y2="279.4"><stop offset="0" stop-opacity="0"/><stop offset=".09" stop-opacity=".07"/><stop offset=".16" stop-opacity=".14"/><stop offset=".21" stop-opacity=".18"/><stop offset=".23" stop-opacity=".21"/><stop offset=".32" stop-opacity=".07"/><stop offset=".41" stop-opacity=".04"/><stop offset=".52" stop-opacity=".01"/><stop offset=".52" stop-opacity=".08"/><stop offset=".67" stop-opacity=".05"/><stop offset=".81" stop-opacity=".02"/><stop offset="1" stop-opacity="0"/></linearGradient><linearGradient id="g168" gradientUnits="userSpaceOnUse" x1="0" y1="214" x2="0" y2="276.2"><stop offset="0" stop-opacity="0"/><stop offset=".09" stop-opacity=".06"/><stop offset=".17" stop-opacity=".11"/><stop offset=".21" stop-opacity=".15"/><stop offset=".24" stop-opacity=".17"/><stop offset=".3" stop-opacity=".08"/><stop offset=".36" stop-opacity=".04"/><stop offset=".44" stop-opacity=".01"/><stop offset=".44" stop-opacity=".06"/><stop offset=".61" stop-opacity=".03"/><stop offset=".78" stop-opacity=".01"/><stop offset="1" stop-opacity="0"/></linearGradient><linearGradient id="g169" gradientUnits="userSpaceOnUse" x1="0" y1="215" x2="0" y2="273.1"><stop offset="0" stop-opacity="0"/><stop offset=".07" stop-opacity=".06"/><stop offset=".13" stop-opacity=".13"/><stop offset=".17" stop-opacity=".17"/><stop offset=".18" stop-opacity=".19"/><stop offset=".24" stop-opacity=".08"/><stop offset=".3" stop-opacity=".04"/><stop offset=".37" stop-opacity=".01"/><stop offset=".37" stop-opacity=".04"/><stop offset=".56" stop-opacity=".03"/><stop offset=".75" stop-opacity=".01"/><stop offset="1" stop-opacity="0"/></linearGradient><linearGradient id="g170" gradientUnits="userSpaceOnUse" x1="0" y1="216" x2="0" y2="270"><stop offset="0" stop-opacity="0"/><stop offset=".05" stop-opacity=".06"/><stop offset=".09" stop-opacity=".12"/><stop offset=".12" stop-opacity=".16"/><stop offset=".13" stop-opacity=".18"/><stop offset=".19" stop-opacity=".07"/><stop offset=".25" stop-opacity=".04"/><stop offset=".33" stop-opacity=".01"/><stop offset=".33" stop-opacity=".04"/><stop offset=".53" stop-opacity=".02"/><stop offset=".73" stop-opacity=".01"/><stop offset="1" stop-opacity="0"/></linearGradient><linearGradient id="g171" gradientUnits="userSpaceOnUse" x1="0" y1="218.2" x2="0" y2="267.5"><stop offset="0" stop-opacity="0"/><stop offset=".06" stop-opacity=".06"/><stop offset=".11" stop-opacity=".11"/><stop offset=".14" stop-opacity=".15"/><stop offset=".16" stop-opacity=".17"/><stop offset=".24" stop-opacity=".05"/><stop offset=".33" stop-opacity=".03"/><stop offset=".45" stop-opacity="0"/><stop offset=".45" stop-opacity=".05"/><stop offset=".61" stop-opacity=".03"/><stop offset=".78" stop-opacity=".01"/><stop offset="1" stop-opacity="0"/></linearGradient><linearGradient id="g172" gradientUnits="userSpaceOnUse" x1="0" y1="220.5" x2="0" y2="265"><stop offset="0" stop-opacity="0"/><stop offset=".06" stop-opacity=".05"/><stop offset=".1" stop-opacity=".11"/><stop offset=".13" stop-opacity=".15"/><stop offset=".15" stop-opacity=".17"/><stop offset=".23" stop-opacity=".05"/><stop offset=".31" stop-opacity=".03"/><stop offset=".42" stop-opacity="0"/><stop offset=".42" stop-opacity=".05"/><stop offset=".6" stop-opacity=".03"/><stop offset=".77" stop-opacity=".01"/><stop offset="1" stop-opacity="0"/></linearGradient><linearGradient id="g173" gradientUnits="userSpaceOnUse" x1="0" y1="222.8" x2="0" y2="262.5"><stop offset="0" stop-opacity="0"/><stop offset=".08" stop-opacity=".05"/><stop offset=".13" stop-opacity=".11"/><stop offset=".17" stop-opacity=".15"/><stop offset=".19" stop-opacity=".17"/><stop offset=".27" stop-opacity=".06"/><stop offset=".36" stop-opacity=".03"/><stop offset=".47" stop-opacity="0"/><stop offset=".47" stop-opacity=".06"/><stop offset=".63" stop-opacity=".03"/><stop offset=".79" stop-opacity=".02"/><stop offset="1" stop-opacity="0"/></linearGradient><linearGradient id="g174" gradientUnits="userSpaceOnUse" x1="0" y1="225" x2="0" y2="260"><stop offset="0" stop-opacity="0"/><stop offset=".07" stop-opacity=".05"/><stop offset=".13" stop-opacity=".11"/><stop offset=".17" stop-opacity=".15"/><stop offset=".19" stop-opacity=".17"/><stop offset=".23" stop-opacity=".08"/><stop offset=".28" stop-opacity=".05"/><stop offset=".34" stop-opacity=".01"/><stop offset=".34" stop-opacity=".06"/><stop offset=".54" stop-opacity=".03"/><stop offset=".74" stop-opacity=".01"/><stop offset="1" stop-opacity="0"/></linearGradient><linearGradient id="g175" gradientUnits="userSpaceOnUse" x1="0" y1="231" x2="0" y2="286"><stop offset="0" stop-opacity="0"/><stop offset=".05" stop-opacity=".06"/><stop offset=".09" stop-opacity=".12"/><stop offset=".12" stop-opacity=".16"/><stop offset=".13" stop-opacity=".18"/><stop offset=".26" stop-opacity=".03"/><stop offset=".39" stop-opacity=".02"/><stop offset=".56" stop-opacity="0"/><stop offset=".56" stop-opacity=".06"/><stop offset=".69" stop-opacity=".03"/><stop offset=".82" stop-opacity=".02"/><stop offset="1" stop-opacity="0"/></linearGradient><linearGradient id="g176" gradientUnits="userSpaceOnUse" x1="0" y1="227.2" x2="0" y2="284"><stop offset="0" stop-opacity="0"/><stop offset=".1" stop-opacity=".05"/><stop offset=".18" stop-opacity=".09"/><stop offset=".23" stop-opacity=".13"/><stop offset=".26" stop-opacity=".15"/><stop offset=".34" stop-opacity=".06"/><stop offset=".42" stop-opacity=".03"/><stop offset=".52" stop-opacity="0"/><stop offset=".52" stop-opacity=".06"/><stop offset=".66" stop-opacity=".04"/><stop offset=".81" stop-opacity=".02"/><stop offset="1" stop-opacity="0"/></linearGradient><linearGradient id="g177" gradientUnits="userSpaceOnUse" x1="0" y1="223.5" x2="0" y2="282"><stop offset="0" stop-opacity="0"/><stop offset=".11" stop-opacity=".05"/><stop offset=".19" stop-opacity=".11"/><stop offset=".24" stop-opacity=".15"/><stop offset=".26" stop-opacity=".16"/><stop offset=".36" stop-opacity=".05"/><stop offset=".46" stop-opacity=".03"/><stop offset=".6" stop-opacity="0"/><stop offset=".6" stop-opacity=".08"/><stop offset=".72" stop-opacity=".05"/><stop offset=".84" stop-opacity=".02"/><stop offset="1" stop-opacity="0"/></linearGradient><linearGradient id="g178" gradientUnits="userSpaceOnUse" x1="0" y1="219.8" x2="0" y2="280"><stop offset="0" stop-opacity="0"/><stop offset=".09" stop-opacity=".08"/><stop offset=".16" stop-opacity=".15"/><stop offset=".2" stop-opacity=".21"/><stop offset=".22" stop-opacity=".23"/><stop offset=".32" stop-opacity=".06"/><stop offset=".43" stop-opacity=".03"/><stop offset=".56" stop-opacity=".01"/><stop offset=".56" stop-opacity=".09"/><stop offset=".69" stop-opacity=".06"/><stop offset=".82" stop-opacity=".02"/><stop offset="1" stop-opacity="0"/></linearGradient><linearGradient id="g179" gradientUnits="userSpaceOnUse" x1="0" y1="216" x2="0" y2="278"><stop offset="0" stop-opacity="0"/><stop offset=".08" stop-opacity=".11"/><stop offset=".15" stop-opacity=".21"/><stop offset=".19" stop-opacity=".28"/><stop offset=".21" stop-opacity=".31"/><stop offset=".29" stop-opacity=".1"/><stop offset=".38" stop-opacity=".06"/><stop offset=".49" stop-opacity=".01"/><stop offset=".49" stop-opacity=".11"/><stop offset=".64" stop-opacity=".06"/><stop offset=".8" stop-opacity=".03"/><stop offset="1" stop-opacity="0"/></linearGradient><linearGradient id="g180" gradientUnits="userSpaceOnUse" x1="0" y1="214.9" x2="0" y2="277.6"><stop offset="0" stop-opacity="0"/><stop offset=".1" stop-opacity=".12"/><stop offset=".18" stop-opacity=".23"/><stop offset=".23" stop-opacity=".31"/><stop offset=".26" stop-opacity=".35"/><stop offset=".31" stop-opacity=".21"/><stop offset=".36" stop-opacity=".12"/><stop offset=".42" stop-opacity=".02"/><stop offset=".43" stop-opacity=".13"/><stop offset=".6" stop-opacity=".08"/><stop offset=".77" stop-opacity=".03"/><stop offset="1" stop-opacity="0"/></linearGradient><linearGradient id="g181" gradientUnits="userSpaceOnUse" x1="0" y1="213.8" x2="0" y2="277.2"><stop offset="0" stop-opacity="0"/><stop offset=".08" stop-opacity=".2"/><stop offset=".14" stop-opacity=".37"/><stop offset=".18" stop-opacity=".47"/><stop offset=".2" stop-opacity=".52"/><stop offset=".28" stop-opacity=".18"/><stop offset=".36" stop-opacity=".11"/><stop offset=".46" stop-opacity=".02"/><stop offset=".46" stop-opacity=".18"/><stop offset=".62" stop-opacity=".11"/><stop offset=".79" stop-opacity=".05"/><stop offset="1" stop-opacity="0"/></linearGradient><linearGradient id="g182" gradientUnits="userSpaceOnUse" x1="0" y1="212.6" x2="0" y2="276.9"><stop offset="0" stop-opacity="0"/><stop offset=".07" stop-opacity=".28"/><stop offset=".12" stop-opacity=".49"/><stop offset=".16" stop-opacity=".61"/><stop offset=".17" stop-opacity=".66"/><stop offset=".27" stop-opacity=".19"/><stop offset=".37" stop-opacity=".11"/><stop offset=".5" stop-opacity=".02"/><stop offset=".5" stop-opacity=".23"/><stop offset=".65" stop-opacity=".15"/><stop offset=".8" stop-opacity=".07"/><stop offset="1" stop-opacity="0"/></linearGradient><linearGradient id="g183" gradientUnits="userSpaceOnUse" x1="0" y1="211.5" x2="0" y2="276.5"><stop offset="0" stop-opacity="0"/><stop offset=".08" stop-opacity=".3"/><stop offset=".13" stop-opacity=".52"/><stop offset=".17" stop-opacity=".64"/><stop offset=".19" stop-opacity=".69"/><stop offset=".27" stop-opacity=".26"/><stop offset=".35" stop-opacity=".15"/><stop offset=".46" stop-opacity=".02"/><stop offset=".46" stop-opacity=".26"/><stop offset=".62" stop-opacity=".16"/><stop offset=".78" stop-opacity=".07"/><stop offset="1" stop-opacity="0"/></linearGradient><linearGradient id="g184" gradientUnits="userSpaceOnUse" x1="0" y1="211.5" x2="0" y2="276.5"><stop offset="0" stop-opacity="0"/><stop offset=".08" stop-opacity=".32"/><stop offset=".13" stop-opacity=".55"/><stop offset=".17" stop-opacity=".67"/><stop offset=".19" stop-opacity=".7"/><stop offset=".29" stop-opacity=".25"/><stop offset=".38" stop-opacity=".15"/><stop offset=".51" stop-opacity=".02"/><stop offset=".51" stop-opacity=".31"/><stop offset=".66" stop-opacity=".19"/><stop offset=".8" stop-opacity=".09"/><stop offset="1" stop-opacity="0"/></linearGradient><linearGradient id="g185" gradientUnits="userSpaceOnUse" x1="0" y1="211.5" x2="0" y2="276.5"><stop offset="0" stop-opacity="0"/><stop offset=".06" stop-opacity=".4"/><stop offset=".11" stop-opacity=".65"/><stop offset=".14" stop-opacity=".7"/><stop offset=".15" stop-opacity=".7"/><stop offset=".25" stop-opacity=".26"/><stop offset=".34" stop-opacity=".16"/><stop offset=".46" stop-opacity=".02"/><stop offset=".46" stop-opacity=".29"/><stop offset=".62" stop-opacity=".18"/><stop offset=".78" stop-opacity=".08"/><stop offset="1" stop-opacity="0"/></linearGradient><linearGradient id="g186" gradientUnits="userSpaceOnUse" x1="0" y1="211.5" x2="0" y2="276.5"><stop offset="0" stop-opacity="0"/><stop offset=".08" stop-opacity=".31"/><stop offset=".14" stop-opacity=".53"/><stop offset=".18" stop-opacity=".65"/><stop offset=".2" stop-opacity=".7"/><stop offset=".3" stop-opacity=".25"/><stop offset=".4" stop-opacity=".14"/><stop offset=".53" stop-opacity=".02"/><stop offset=".53" stop-opacity=".31"/><stop offset=".67" stop-opacity=".2"/><stop offset=".81" stop-opacity=".09"/><stop offset="1" stop-opacity="0"/></linearGradient><linearGradient id="g187" gradientUnits="userSpaceOnUse" x1="0" y1="211.5" x2="0" y2="276.5"><stop offset="0" stop-opacity="0"/><stop offset=".07" stop-opacity=".31"/><stop offset=".13" stop-opacity=".54"/><stop offset=".16" stop-opacity=".66"/><stop offset=".18" stop-opacity=".7"/><stop offset=".32" stop-opacity=".16"/><stop offset=".46" stop-opacity=".09"/><stop offset=".64" stop-opacity=".01"/><stop offset=".64" stop-opacity=".36"/><stop offset=".75" stop-opacity=".23"/><stop offset=".86" stop-opacity=".11"/><stop offset="1" stop-opacity="0"/></linearGradient><linearGradient id="g188" gradientUnits="userSpaceOnUse" x1="0" y1="211.5" x2="0" y2="276.5"><stop offset="0" stop-opacity="0"/><stop offset=".06" stop-opacity=".3"/><stop offset=".1" stop-opacity=".53"/><stop offset=".13" stop-opacity=".64"/><stop offset=".14" stop-opacity=".69"/><stop offset=".25" stop-opacity=".17"/><stop offset=".36" stop-opacity=".09"/><stop offset=".51" stop-opacity=".01"/><stop offset=".51" stop-opacity=".24"/><stop offset=".66" stop-opacity=".15"/><stop offset=".8" stop-opacity=".07"/><stop offset="1" stop-opacity="0"/></linearGradient><linearGradient id="g189" gradientUnits="userSpaceOnUse" x1="0" y1="211.5" x2="0" y2="276.5"><stop offset="0" stop-opacity="0"/><stop offset=".03" stop-opacity=".24"/><stop offset=".05" stop-opacity=".44"/><stop offset=".06" stop-opacity=".55"/><stop offset=".07" stop-opacity=".6"/><stop offset=".2" stop-opacity=".11"/><stop offset=".34" stop-opacity=".06"/><stop offset=".51" stop-opacity=".01"/><stop offset=".51" stop-opacity=".19"/><stop offset=".66" stop-opacity=".12"/><stop offset=".8" stop-opacity=".05"/><stop offset="1" stop-opacity="0"/></linearGradient><linearGradient id="g190" gradientUnits="userSpaceOnUse" x1="0" y1="211.5" x2="0" y2="276.5"><stop offset="0" stop-opacity="0"/><stop offset=".02" stop-opacity=".19"/><stop offset=".04" stop-opacity=".35"/><stop offset=".05" stop-opacity=".45"/><stop offset=".06" stop-opacity=".5"/><stop offset=".18" stop-opacity=".09"/><stop offset=".3" stop-opacity=".05"/><stop offset=".47" stop-opacity=".01"/><stop offset=".47" stop-opacity=".13"/><stop offset=".63" stop-opacity=".08"/><stop offset=".79" stop-opacity=".04"/><stop offset="1" stop-opacity="0"/></linearGradient><linearGradient id="g191" gradientUnits="userSpaceOnUse" x1="0" y1="211.5" x2="0" y2="276.5"><stop offset="0" stop-opacity="0"/><stop offset=".03" stop-opacity=".14"/><stop offset=".05" stop-opacity=".27"/><stop offset=".07" stop-opacity=".35"/><stop offset=".08" stop-opacity=".39"/><stop offset=".2" stop-opacity=".07"/><stop offset=".32" stop-opacity=".04"/><stop offset=".48" stop-opacity=".01"/><stop offset=".48" stop-opacity=".1"/><stop offset=".64" stop-opacity=".06"/><stop offset=".79" stop-opacity=".03"/><stop offset="1" stop-opacity="0"/></linearGradient><linearGradient id="g192" gradientUnits="userSpaceOnUse" x1="0" y1="212.6" x2="0" y2="273.6"><stop offset="0" stop-opacity="0"/><stop offset=".04" stop-opacity=".1"/><stop offset=".06" stop-opacity=".2"/><stop offset=".08" stop-opacity=".27"/><stop offset=".09" stop-opacity=".3"/><stop offset=".18" stop-opacity=".07"/><stop offset=".28" stop-opacity=".04"/><stop offset=".4" stop-opacity=".01"/><stop offset=".4" stop-opacity=".07"/><stop offset=".58" stop-opacity=".04"/><stop offset=".76" stop-opacity=".02"/><stop offset="1" stop-opacity="0"/></linearGradient><linearGradient id="g193" gradientUnits="userSpaceOnUse" x1="0" y1="213.8" x2="0" y2="270.8"><stop offset="0" stop-opacity="0"/><stop offset=".05" stop-opacity=".08"/><stop offset=".09" stop-opacity=".16"/><stop offset=".11" stop-opacity=".22"/><stop offset=".12" stop-opacity=".24"/><stop offset=".19" stop-opacity=".07"/><stop offset=".26" stop-opacity=".04"/><stop offset=".35" stop-opacity=".01"/><stop offset=".36" stop-opacity=".05"/><stop offset=".55" stop-opacity=".03"/><stop offset=".74" stop-opacity=".01"/><stop offset="1" stop-opacity="0"/></linearGradient><linearGradient id="g194" gradientUnits="userSpaceOnUse" x1="0" y1="214.9" x2="0" y2="267.9"><stop offset="0" stop-opacity="0"/><stop offset=".06" stop-opacity=".07"/><stop offset=".11" stop-opacity=".14"/><stop offset=".14" stop-opacity=".18"/><stop offset=".16" stop-opacity=".21"/><stop offset=".2" stop-opacity=".1"/><stop offset=".25" stop-opacity=".05"/><stop offset=".31" stop-opacity=".01"/><stop offset=".31" stop-opacity=".04"/><stop offset=".52" stop-opacity=".03"/><stop offset=".73" stop-opacity=".01"/><stop offset="1" stop-opacity="0"/></linearGradient><linearGradient id="g195" gradientUnits="userSpaceOnUse" x1="0" y1="216" x2="0" y2="265"><stop offset="0" stop-opacity="0"/><stop offset=".07" stop-opacity=".06"/><stop offset=".11" stop-opacity=".12"/><stop offset=".15" stop-opacity=".16"/><stop offset=".16" stop-opacity=".18"/><stop offset=".21" stop-opacity=".09"/><stop offset=".25" stop-opacity=".05"/><stop offset=".31" stop-opacity=".01"/><stop offset=".31" stop-opacity=".04"/><stop offset=".51" stop-opacity=".02"/><stop offset=".72" stop-opacity=".01"/><stop offset="1" stop-opacity="0"/></linearGradient><linearGradient id="g196" gradientUnits="userSpaceOnUse" x1="0" y1="216" x2="0" y2="262.5"><stop offset="0" stop-opacity="0"/><stop offset=".1" stop-opacity=".05"/><stop offset=".18" stop-opacity=".09"/><stop offset=".24" stop-opacity=".13"/><stop offset=".26" stop-opacity=".15"/><stop offset=".31" stop-opacity=".09"/><stop offset=".36" stop-opacity=".05"/><stop offset=".42" stop-opacity=".01"/><stop offset=".42" stop-opacity=".05"/><stop offset=".6" stop-opacity=".03"/><stop offset=".77" stop-opacity=".01"/><stop offset="1" stop-opacity="0"/></linearGradient><linearGradient id="g197" gradientUnits="userSpaceOnUse" x1="0" y1="216" x2="0" y2="260"><stop offset="0" stop-opacity="0"/><stop offset=".14" stop-opacity=".04"/><stop offset=".25" stop-opacity=".07"/><stop offset=".32" stop-opacity=".1"/><stop offset=".35" stop-opacity=".11"/><stop offset=".41" stop-opacity=".08"/><stop offset=".46" stop-opacity=".05"/><stop offset=".53" stop-opacity=".01"/><stop offset=".53" stop-opacity=".06"/><stop offset=".67" stop-opacity=".03"/><stop offset=".81" stop-opacity=".02"/><stop offset="1" stop-opacity="0"/></linearGradient><linearGradient id="g198" gradientUnits="userSpaceOnUse" x1="0" y1="216" x2="0" y2="257.5"><stop offset="0" stop-opacity="0"/><stop offset=".17" stop-opacity=".03"/><stop offset=".29" stop-opacity=".06"/><stop offset=".37" stop-opacity=".09"/><stop offset=".41" stop-opacity=".1"/><stop offset=".46" stop-opacity=".08"/><stop offset=".5" stop-opacity=".05"/><stop offset=".56" stop-opacity=".01"/><stop offset=".56" stop-opacity=".06"/><stop offset=".69" stop-opacity=".03"/><stop offset=".82" stop-opacity=".02"/><stop offset="1" stop-opacity="0"/></linearGradient><linearGradient id="g199" gradientUnits="userSpaceOnUse" x1="0" y1="216" x2="0" y2="255"><stop offset="0" stop-opacity="0"/><stop offset=".03" stop-opacity=".05"/><stop offset=".05" stop-opacity=".11"/><stop offset=".07" stop-opacity=".15"/><stop offset=".08" stop-opacity=".17"/><stop offset=".27" stop-opacity=".03"/><stop offset=".46" stop-opacity=".01"/><stop offset=".71" stop-opacity="0"/><stop offset=".71" stop-opacity=".06"/><stop offset=".8" stop-opacity=".03"/><stop offset=".88" stop-opacity=".02"/><stop offset="1" stop-opacity="0"/></linearGradient><linearGradient id="g200" gradientUnits="userSpaceOnUse" x1="0" y1="237" x2="0" y2="286"><stop offset="0" stop-opacity="0"/><stop offset=".05" stop-opacity=".05"/><stop offset=".09" stop-opacity=".1"/><stop offset=".11" stop-opacity=".13"/><stop offset=".13" stop-opacity=".15"/><stop offset=".29" stop-opacity=".02"/><stop offset=".46" stop-opacity=".01"/><stop offset=".68" stop-opacity="0"/><stop offset=".68" stop-opacity=".05"/><stop offset=".77" stop-opacity=".03"/><stop offset=".87" stop-opacity=".01"/><stop offset="1" stop-opacity="0"/></linearGradient><linearGradient id="g201" gradientUnits="userSpaceOnUse" x1="0" y1="234.8" x2="0" y2="285"><stop offset="0" stop-opacity="0"/><stop offset=".14" stop-opacity=".03"/><stop offset=".24" stop-opacity=".06"/><stop offset=".31" stop-opacity=".09"/><stop offset=".35" stop-opacity=".1"/><stop offset=".44" stop-opacity=".04"/><stop offset=".54" stop-opacity=".02"/><stop offset=".66" stop-opacity="0"/><stop offset=".66" stop-opacity=".06"/><stop offset=".76" stop-opacity=".03"/><stop offset=".86" stop-opacity=".02"/><stop offset="1" stop-opacity="0"/></linearGradient><linearGradient id="g202" gradientUnits="userSpaceOnUse" x1="0" y1="232.5" x2="0" y2="284"><stop offset="0" stop-opacity="0"/><stop offset=".19" stop-opacity=".03"/><stop offset=".34" stop-opacity=".05"/><stop offset=".43" stop-opacity=".07"/><stop offset=".48" stop-opacity=".08"/><stop offset=".55" stop-opacity=".07"/><stop offset=".62" stop-opacity=".04"/><stop offset=".71" stop-opacity=".01"/><stop offset=".71" stop-opacity=".07"/><stop offset=".8" stop-opacity=".04"/><stop offset=".88" stop-opacity=".02"/><stop offset="1" stop-opacity="0"/></linearGradient><linearGradient id="g203" gradientUnits="userSpaceOnUse" x1="0" y1="230.2" x2="0" y2="283"><stop offset="0" stop-opacity="0"/><stop offset=".16" stop-opacity=".04"/><stop offset=".29" stop-opacity=".08"/><stop offset=".37" stop-opacity=".11"/><stop offset=".41" stop-opacity=".13"/><stop offset=".51" stop-opacity=".06"/><stop offset=".62" stop-opacity=".03"/><stop offset=".76" stop-opacity="0"/><stop offset=".76" stop-opacity=".09"/><stop offset=".83" stop-opacity=".06"/><stop offset=".9" stop-opacity=".02"/><stop offset="1" stop-opacity="0"/></linearGradient><linearGradient id="g204" gradientUnits="userSpaceOnUse" x1="0" y1="228" x2="0" y2="282"><stop offset="0" stop-opacity="0"/><stop offset=".12" stop-opacity=".07"/><stop offset=".22" stop-opacity=".14"/><stop offset=".28" stop-opacity=".19"/><stop offset=".31" stop-opacity=".21"/><stop offset=".39" stop-opacity=".1"/><stop offset=".46" stop-opacity=".06"/><stop offset=".56" stop-opacity=".01"/><stop offset=".57" stop-opacity=".12"/><stop offset=".7" stop-opacity=".07"/><stop offset=".83" stop-opacity=".03"/><stop offset="1" stop-opacity="0"/></linearGradient><linearGradient id="g205" gradientUnits="userSpaceOnUse" x1="0" y1="225.8" x2="0" y2="281.4"><stop offset="0" stop-opacity="0"/><stop offset=".11" stop-opacity=".1"/><stop offset=".19" stop-opacity=".2"/><stop offset=".25" stop-opacity=".27"/><stop offset=".27" stop-opacity=".31"/><stop offset=".36" stop-opacity=".13"/><stop offset=".44" stop-opacity=".07"/><stop offset=".55" stop-opacity=".01"/><stop offset=".55" stop-opacity=".15"/><stop offset=".68" stop-opacity=".09"/><stop offset=".82" stop-opacity=".04"/><stop offset="1" stop-opacity="0"/></linearGradient><linearGradient id="g206" gradientUnits="userSpaceOnUse" x1="0" y1="223.5" x2="0" y2="280.8"><stop offset="0" stop-opacity="0"/><stop offset=".12" stop-opacity=".12"/><stop offset=".21" stop-opacity=".24"/><stop offset=".28" stop-opacity=".31"/><stop offset=".31" stop-opacity=".35"/><stop offset=".39" stop-opacity=".15"/><stop offset=".48" stop-opacity=".09"/><stop offset=".6" stop-opacity=".01"/><stop offset=".6" stop-opacity=".21"/><stop offset=".72" stop-opacity=".13"/><stop offset=".84" stop-opacity=".06"/><stop offset="1" stop-opacity="0"/></linearGradient><linearGradient id="g207" gradientUnits="userSpaceOnUse" x1="0" y1="221.2" x2="0" y2="280.1"><stop offset="0" stop-opacity="0"/><stop offset=".15" stop-opacity=".12"/><stop offset=".27" stop-opacity=".24"/><stop offset=".34" stop-opacity=".31"/><stop offset=".38" stop-opacity=".35"/><stop offset=".48" stop-opacity=".16"/><stop offset=".58" stop-opacity=".09"/><stop offset=".72" stop-opacity=".01"/><stop offset=".72" stop-opacity=".27"/><stop offset=".8" stop-opacity=".17"/><stop offset=".89" stop-opacity=".08"/><stop offset="1" stop-opacity="0"/></linearGradient><linearGradient id="g208" gradientUnits="userSpaceOnUse" x1="0" y1="219" x2="0" y2="279.5"><stop offset="0" stop-opacity="0"/><stop offset=".14" stop-opacity=".16"/><stop offset=".24" stop-opacity=".3"/><stop offset=".31" stop-opacity=".39"/><stop offset=".34" stop-opacity=".43"/><stop offset=".44" stop-opacity=".21"/><stop offset=".53" stop-opacity=".12"/><stop offset=".65" stop-opacity=".02"/><stop offset=".65" stop-opacity=".32"/><stop offset=".76" stop-opacity=".2"/><stop offset=".86" stop-opacity=".09"/><stop offset="1" stop-opacity="0"/></linearGradient><linearGradient id="g209" gradientUnits="userSpaceOnUse" x1="0" y1="217.1" x2="0" y2="279.5"><stop offset="0" stop-opacity="0"/><stop offset=".12" stop-opacity=".19"/><stop offset=".22" stop-opacity=".35"/><stop offset=".28" stop-opacity=".45"/><stop offset=".31" stop-opacity=".49"/><stop offset=".42" stop-opacity=".2"/><stop offset=".52" stop-opacity=".11"/><stop offset=".66" stop-opacity=".02"/><stop offset=".66" stop-opacity=".35"/><stop offset=".76" stop-opacity=".22"/><stop offset=".87" stop-opacity=".1"/><stop offset="1" stop-opacity="0"/></linearGradient><linearGradient id="g210" gradientUnits="userSpaceOnUse" x1="0" y1="215.2" x2="0" y2="279.5"><stop offset="0" stop-opacity="0"/><stop offset=".12" stop-opacity=".2"/><stop offset=".2" stop-opacity=".37"/><stop offset=".26" stop-opacity=".47"/><stop offset=".29" stop-opacity=".52"/><stop offset=".41" stop-opacity=".18"/><stop offset=".53" stop-opacity=".1"/><stop offset=".68" stop-opacity=".02"/><stop offset=".69" stop-opacity=".36"/><stop offset=".78" stop-opacity=".23"/><stop offset=".87" stop-opacity=".11"/><stop offset="1" stop-opacity="0"/></linearGradient><linearGradient id="g211" gradientUnits="userSpaceOnUse" x1="0" y1="213.4" x2="0" y2="279.5"><stop offset="0" stop-opacity="0"/><stop offset=".14" stop-opacity=".16"/><stop offset=".24" stop-opacity=".31"/><stop offset=".3" stop-opacity=".4"/><stop offset=".34" stop-opacity=".44"/><stop offset=".44" stop-opacity=".19"/><stop offset=".55" stop-opacity=".11"/><stop offset=".69" stop-opacity=".02"/><stop offset=".7" stop-opacity=".35"/><stop offset=".79" stop-opacity=".22"/><stop offset=".88" stop-opacity=".1"/><stop offset="1" stop-opacity="0"/></linearGradient><linearGradient id="g212" gradientUnits="userSpaceOnUse" x1="0" y1="211.5" x2="0" y2="279.5"><stop offset="0" stop-opacity="0"/><stop offset=".12" stop-opacity=".16"/><stop offset=".21" stop-opacity=".31"/><stop offset=".26" stop-opacity=".4"/><stop offset=".29" stop-opacity=".44"/><stop offset=".42" stop-opacity=".14"/><stop offset=".55" stop-opacity=".08"/><stop offset=".72" stop-opacity=".01"/><stop offset=".72" stop-opacity=".32"/><stop offset=".8" stop-opacity=".2"/><stop offset=".89" stop-opacity=".09"/><stop offset="1" stop-opacity="0"/></linearGradient><linearGradient id="g213" gradientUnits="userSpaceOnUse" x1="0" y1="211.1" x2="0" y2="279.5"><stop offset="0" stop-opacity="0"/><stop offset=".1" stop-opacity=".15"/><stop offset=".18" stop-opacity=".29"/><stop offset=".23" stop-opacity=".38"/><stop offset=".26" stop-opacity=".42"/><stop offset=".42" stop-opacity=".09"/><stop offset=".58" stop-opacity=".05"/><stop offset=".79" stop-opacity=".01"/><stop offset=".79" stop-opacity=".27"/><stop offset=".85" stop-opacity=".17"/><stop offset=".92" stop-opacity=".08"/><stop offset="1" stop-opacity="0"/></linearGradient><linearGradient id="g214" gradientUnits="userSpaceOnUse" x1="0" y1="210.8" x2="0" y2="279.5"><stop offset="0" stop-opacity="0"/><stop offset=".1" stop-opacity=".13"/><stop offset=".17" stop-opacity=".25"/><stop offset=".22" stop-opacity=".33"/><stop offset=".24" stop-opacity=".37"/><stop offset=".4" stop-opacity=".08"/><stop offset=".55" stop-opacity=".04"/><stop offset=".75" stop-opacity=".01"/><stop offset=".76" stop-opacity=".22"/><stop offset=".83" stop-opacity=".14"/><stop offset=".9" stop-opacity=".06"/><stop offset="1" stop-opacity="0"/></linearGradient><linearGradient id="g215" gradientUnits="userSpaceOnUse" x1="0" y1="210.4" x2="0" y2="279.5"><stop offset="0" stop-opacity="0"/><stop offset=".08" stop-opacity=".12"/><stop offset=".13" stop-opacity=".23"/><stop offset=".17" stop-opacity=".3"/><stop offset=".19" stop-opacity=".34"/><stop offset=".32" stop-opacity=".07"/><stop offset=".44" stop-opacity=".04"/><stop offset=".61" stop-opacity=".01"/><stop offset=".61" stop-opacity=".14"/><stop offset=".73" stop-opacity=".08"/><stop offset=".84" stop-opacity=".04"/><stop offset="1" stop-opacity="0"/></linearGradient><linearGradient id="g216" gradientUnits="userSpaceOnUse" x1="0" y1="210" x2="0" y2="279.5"><stop offset="0" stop-opacity="0"/><stop offset=".09" stop-opacity=".08"/><stop offset=".15" stop-opacity=".15"/><stop offset=".2" stop-opacity=".2"/><stop offset=".22" stop-opacity=".23"/><stop offset=".32" stop-opacity=".06"/><stop offset=".42" stop-opacity=".03"/><stop offset=".55" stop-opacity=".01"/><stop offset=".55" stop-opacity=".09"/><stop offset=".69" stop-opacity=".05"/><stop offset=".82" stop-opacity=".02"/><stop offset="1" stop-opacity="0"/></linearGradient><linearGradient id="g217" gradientUnits="userSpaceOnUse" x1="0" y1="210" x2="0" y2="277.1"><stop offset="0" stop-opacity="0"/><stop offset=".09" stop-opacity=".06"/><stop offset=".15" stop-opacity=".12"/><stop offset=".2" stop-opacity=".16"/><stop offset=".22" stop-opacity=".18"/><stop offset=".31" stop-opacity=".05"/><stop offset=".4" stop-opacity=".03"/><stop offset=".52" stop-opacity="0"/><stop offset=".52" stop-opacity=".06"/><stop offset=".66" stop-opacity=".04"/><stop offset=".81" stop-opacity=".02"/><stop offset="1" stop-opacity="0"/></linearGradient><linearGradient id="g218" gradientUnits="userSpaceOnUse" x1="0" y1="210" x2="0" y2="274.8"><stop offset="0" stop-opacity="0"/><stop offset=".09" stop-opacity=".04"/><stop offset=".16" stop-opacity=".09"/><stop offset=".21" stop-opacity=".12"/><stop offset=".23" stop-opacity=".14"/><stop offset=".3" stop-opacity=".05"/><stop offset=".37" stop-opacity=".03"/><stop offset=".46" stop-opacity="0"/><stop offset=".46" stop-opacity=".04"/><stop offset=".62" stop-opacity=".03"/><stop offset=".78" stop-opacity=".01"/><stop offset="1" stop-opacity="0"/></linearGradient><linearGradient id="g219" gradientUnits="userSpaceOnUse" x1="0" y1="210" x2="0" y2="272.4"><stop offset="0" stop-opacity="0"/><stop offset=".07" stop-opacity=".05"/><stop offset=".13" stop-opacity=".09"/><stop offset=".17" stop-opacity=".13"/><stop offset=".18" stop-opacity=".15"/><stop offset=".24" stop-opacity=".05"/><stop offset=".3" stop-opacity=".03"/><stop offset=".38" stop-opacity="0"/><stop offset=".38" stop-opacity=".03"/><stop offset=".57" stop-opacity=".02"/><stop offset=".75" stop-opacity=".01"/><stop offset="1" stop-opacity="0"/></linearGradient><linearGradient id="g220" gradientUnits="userSpaceOnUse" x1="0" y1="210" x2="0" y2="270"><stop offset="0" stop-opacity="0"/><stop offset=".04" stop-opacity=".05"/><stop offset=".06" stop-opacity=".1"/><stop offset=".08" stop-opacity=".13"/><stop offset=".09" stop-opacity=".15"/><stop offset=".15" stop-opacity=".05"/><stop offset=".21" stop-opacity=".03"/><stop offset=".29" stop-opacity="0"/><stop offset=".29" stop-opacity=".03"/><stop offset=".5" stop-opacity=".02"/><stop offset=".72" stop-opacity=".01"/><stop offset="1" stop-opacity="0"/></linearGradient><linearGradient id="g221" gradientUnits="userSpaceOnUse" x1="0" y1="210" x2="0" y2="266.2"><stop offset="0" stop-opacity="0"/><stop offset=".03" stop-opacity=".05"/><stop offset=".06" stop-opacity=".09"/><stop offset=".08" stop-opacity=".13"/><stop offset=".09" stop-opacity=".14"/><stop offset=".17" stop-opacity=".03"/><stop offset=".25" stop-opacity=".02"/><stop offset=".37" stop-opacity="0"/><stop offset=".37" stop-opacity=".03"/><stop offset=".56" stop-opacity=".02"/><stop offset=".75" stop-opacity=".01"/><stop offset="1" stop-opacity="0"/></linearGradient><linearGradient id="g222" gradientUnits="userSpaceOnUse" x1="0" y1="210" x2="0" y2="262.5"><stop offset="0" stop-opacity="0"/><stop offset=".02" stop-opacity=".05"/><stop offset=".03" stop-opacity=".09"/><stop offset=".04" stop-opacity=".13"/><stop offset=".04" stop-opacity=".14"/><stop offset=".13" stop-opacity=".04"/><stop offset=".22" stop-opacity=".02"/><stop offset=".33" stop-opacity="0"/><stop offset=".33" stop-opacity=".03"/><stop offset=".53" stop-opacity=".02"/><stop offset=".73" stop-opacity=".01"/><stop offset="1" stop-opacity="0"/></linearGradient><linearGradient id="g223" gradientUnits="userSpaceOnUse" x1="0" y1="210" x2="0" y2="258.8"><stop offset="0" stop-opacity="0"/><stop offset=".01" stop-opacity=".05"/><stop offset=".02" stop-opacity=".09"/><stop offset=".03" stop-opacity=".13"/><stop offset=".03" stop-opacity=".14"/><stop offset=".12" stop-opacity=".04"/><stop offset=".21" stop-opacity=".02"/><stop offset=".32" stop-opacity="0"/><stop offset=".32" stop-opacity=".03"/><stop offset=".53" stop-opacity=".02"/><stop offset=".73" stop-opacity=".01"/><stop offset="1" stop-opacity="0"/></linearGradient><linearGradient id="g224" gradientUnits="userSpaceOnUse" x1="0" y1="210" x2="0" y2="255"><stop offset="0" stop-opacity="0"/><stop offset=".01" stop-opacity=".05"/><stop offset=".02" stop-opacity=".09"/><stop offset=".02" stop-opacity=".13"/><stop offset=".02" stop-opacity=".14"/><stop offset=".05" stop-opacity=".07"/><stop offset=".08" stop-opacity=".04"/><stop offset=".12" stop-opacity=".01"/><stop offset=".12" stop-opacity=".03"/><stop offset=".38" stop-opacity=".02"/><stop offset=".65" stop-opacity=".01"/><stop offset="1" stop-opacity="0"/></linearGradient><linearGradient id="wu" x1="0" y1="0" x2="0" y2="1"><stop offset="0" style="stop-color:#fff" stop-opacity="0"/><stop offset="1" style="stop-color:#fff"/></linearGradient><linearGradient id="wd" x1="0" y1="0" x2="0" y2="1"><stop offset="0" style="stop-color:#fff"/><stop offset="1" style="stop-color:#fff" stop-opacity="0"/></linearGradient><mask id="mu" maskContentUnits="objectBoundingBox"><rect width="1" height="1" fill="url(#wu)"/></mask><mask id="md" maskContentUnits="objectBoundingBox"><rect width="1" height="1" fill="url(#wd)"/></mask></defs>
<rect width="685" height="318" fill="#fff"/>
<path d="M20.8 18.2V108.4M24.2 18.2V108.4M27.6 18.2V108.4M31 18.2V108.4M34.5 18.2V108.4M37.9 18.2V108.4M41.3 18.2V108.4M44.7 18.2V108.4M48.2 18.2V108.4M51.6 18.2V108.4M55 18.2V108.4M58.5 18.2V108.4M61.9 18.2V108.4M65.3 18.2V108.4M68.7 18.2V108.4M72.2 18.2V108.4M75.6 18.2V108.4M79 18.2V108.4M82.5 18.2V108.4M85.9 18.2V108.4M89.3 18.2V108.4M92.7 18.2V108.4M96.2 18.2V108.4M99.6 18.2V108.4M103 18.2V108.4M106.5 18.2V108.4M117.7 18.2V108.4M121.1 18.2V108.4M124.5 18.2V108.4M127.9 18.2V108.4M131.4 18.2V108.4M134.8 18.2V108.4M138.2 18.2V108.4M141.6 18.2V108.4M145.1 18.2V108.4M148.5 18.2V108.4M151.9 18.2V108.4M155.4 18.2V108.4M158.8 18.2V108.4M162.2 18.2V108.4M165.6 18.2V108.4M169.1 18.2V108.4M172.5 18.2V108.4M175.9 18.2V108.4M179.4 18.2V108.4M182.8 18.2V108.4M186.2 18.2V108.4M189.6 18.2V108.4M193.1 18.2V108.4M196.5 18.2V108.4M199.9 18.2V108.4M203.3 18.2V108.4M214.7 18.2V108.4M218.1 18.2V108.4M221.5 18.2V108.4M224.9 18.2V108.4M228.4 18.2V108.4M231.8 18.2V108.4M235.2 18.2V108.4M238.6 18.2V108.4M242.1 18.2V108.4M245.5 18.2V108.4M248.9 18.2V108.4M252.4 18.2V108.4M255.8 18.2V108.4M259.2 18.2V108.4M262.6 18.2V108.4M266.1 18.2V108.4M269.5 18.2V108.4M272.9 18.2V108.4M276.4 18.2V108.4M279.8 18.2V108.4M283.2 18.2V108.4M286.6 18.2V108.4M290.1 18.2V108.4M293.5 18.2V108.4M296.9 18.2V108.4M300.3 18.2V108.4M20.8 112.2V202.4M24.2 112.2V202.4M27.6 112.2V202.4M31 112.2V202.4M34.5 112.2V202.4M37.9 112.2V202.4M41.3 112.2V202.4M44.7 112.2V202.4M48.2 112.2V202.4M51.6 112.2V202.4M55 112.2V202.4M58.5 112.2V202.4M61.9 112.2V202.4M65.3 112.2V202.4M68.7 112.2V202.4M72.2 112.2V202.4M75.6 112.2V202.4M79 112.2V202.4M82.5 112.2V202.4M85.9 112.2V202.4M89.3 112.2V202.4M92.7 112.2V202.4M96.2 112.2V202.4M99.6 112.2V202.4M103 112.2V202.4M106.5 112.2V202.4M117.7 112.2V202.4M121.1 112.2V202.4M124.5 112.2V202.4M127.9 112.2V202.4M131.4 112.2V202.4M134.8 112.2V202.4M138.2 112.2V202.4M141.6 112.2V202.4M145.1 112.2V202.4M148.5 112.2V202.4M151.9 112.2V202.4M155.4 112.2V202.4M158.8 112.2V202.4M162.2 112.2V202.4M165.6 112.2V202.4M169.1 112.2V202.4M172.5 112.2V202.4M175.9 112.2V202.4M179.4 112.2V202.4M182.8 112.2V202.4M186.2 112.2V202.4M189.6 112.2V202.4M193.1 112.2V202.4M196.5 112.2V202.4M199.9 112.2V202.4M203.3 112.2V202.4M214.7 112.2V202.4M218.1 112.2V202.4M221.5 112.2V202.4M224.9 112.2V202.4M228.4 112.2V202.4M231.8 112.2V202.4M235.2 112.2V202.4M238.6 112.2V202.4M242.1 112.2V202.4M245.5 112.2V202.4M248.9 112.2V202.4M252.4 112.2V202.4M255.8 112.2V202.4M259.2 112.2V202.4M262.6 112.2V202.4M266.1 112.2V202.4M269.5 112.2V202.4M272.9 112.2V202.4M276.4 112.2V202.4M279.8 112.2V202.4M283.2 112.2V202.4M286.6 112.2V202.4M290.1 112.2V202.4M293.5 112.2V202.4M296.9 112.2V202.4M300.3 112.2V202.4M20.8 206.9V296M24.2 206.9V296M27.6 206.9V296M31 206.9V296M34.5 206.9V296M37.9 206.9V296M41.3 206.9V296M44.7 206.9V296M48.2 206.9V296M51.6 206.9V296M55 206.9V296M58.5 206.9V296M61.9 206.9V296M65.3 206.9V296M68.7 206.9V296M72.2 206.9V296M75.6 206.9V296M79 206.9V296M82.5 206.9V296M85.9 206.9V296M89.3 206.9V296M92.7 206.9V296M96.2 206.9V296M99.6 206.9V296M103 206.9V296M106.5 206.9V296M117.7 206.9V296M121.1 206.9V296M124.5 206.9V296M127.9 206.9V296M131.4 206.9V296M134.8 206.9V296M138.2 206.9V296M141.6 206.9V296M145.1 206.9V296M148.5 206.9V296M151.9 206.9V296M155.4 206.9V296M158.8 206.9V296M162.2 206.9V296M165.6 206.9V296M169.1 206.9V296M172.5 206.9V296M175.9 206.9V296M179.4 206.9V296M182.8 206.9V296M186.2 206.9V296M189.6 206.9V296M193.1 206.9V296M196.5 206.9V296M199.9 206.9V296M203.3 206.9V296M214.7 206.9V296M218.1 206.9V296M221.5 206.9V296M224.9 206.9V296M228.4 206.9V296M231.8 206.9V296M235.2 206.9V296M238.6 206.9V296M242.1 206.9V296M245.5 206.9V296M248.9 206.9V296M252.4 206.9V296M255.8 206.9V296M259.2 206.9V296M262.6 206.9V296M266.1 206.9V296M269.5 206.9V296M272.9 206.9V296M276.4 206.9V296M279.8 206.9V296M283.2 206.9V296M286.6 206.9V296M290.1 206.9V296M293.5 206.9V296M296.9 206.9V296M300.3 206.9V296M367.1 18.2V108.4M370.7 18.2V108.4M374.3 18.2V108.4M377.9 18.2V108.4M381.4 18.2V108.4M385 18.2V108.4M388.6 18.2V108.4M392.2 18.2V108.4M395.8 18.2V108.4M399.4 18.2V108.4M403 18.2V108.4M406.6 18.2V108.4M410.1 18.2V108.4M413.7 18.2V108.4M417.3 18.2V108.4M420.9 18.2V108.4M424.5 18.2V108.4M428.1 18.2V108.4M431.7 18.2V108.4M435.3 18.2V108.4M438.8 18.2V108.4M442.4 18.2V108.4M446 18.2V108.4M449.6 18.2V108.4M453.2 18.2V108.4M480.4 18.2V108.4M484 18.2V108.4M487.6 18.2V108.4M491.1 18.2V108.4M494.7 18.2V108.4M498.3 18.2V108.4M501.9 18.2V108.4M505.5 18.2V108.4M509.1 18.2V108.4M512.6 18.2V108.4M516.2 18.2V108.4M519.8 18.2V108.4M523.4 18.2V108.4M527 18.2V108.4M530.6 18.2V108.4M534.1 18.2V108.4M537.7 18.2V108.4M541.3 18.2V108.4M544.9 18.2V108.4M548.5 18.2V108.4M552.1 18.2V108.4M555.6 18.2V108.4M559.2 18.2V108.4M562.8 18.2V108.4M566.4 18.2V108.4M593.4 18.2V108.4M597 18.2V108.4M600.6 18.2V108.4M604.2 18.2V108.4M607.8 18.2V108.4M611.4 18.2V108.4M615 18.2V108.4M618.6 18.2V108.4M622.2 18.2V108.4M625.8 18.2V108.4M629.4 18.2V108.4M633 18.2V108.4M636.6 18.2V108.4M640.3 18.2V108.4M643.9 18.2V108.4M647.5 18.2V108.4M651.1 18.2V108.4M654.7 18.2V108.4M658.3 18.2V108.4M661.9 18.2V108.4M665.5 18.2V108.4M669.1 18.2V108.4M672.7 18.2V108.4M676.3 18.2V108.4M679.9 18.2V108.4M367.1 112.2V202.4M370.7 112.2V202.4M374.3 112.2V202.4M377.9 112.2V202.4M381.4 112.2V202.4M385 112.2V202.4M388.6 112.2V202.4M392.2 112.2V202.4M395.8 112.2V202.4M399.4 112.2V202.4M403 112.2V202.4M406.6 112.2V202.4M410.1 112.2V202.4M413.7 112.2V202.4M417.3 112.2V202.4M420.9 112.2V202.4M424.5 112.2V202.4M428.1 112.2V202.4M431.7 112.2V202.4M435.3 112.2V202.4M438.8 112.2V202.4M442.4 112.2V202.4M446 112.2V202.4M449.6 112.2V202.4M453.2 112.2V202.4M480.4 112.2V202.4M484 112.2V202.4M487.6 112.2V202.4M491.1 112.2V202.4M494.7 112.2V202.4M498.3 112.2V202.4M501.9 112.2V202.4M505.5 112.2V202.4M509.1 112.2V202.4M512.6 112.2V202.4M516.2 112.2V202.4M519.8 112.2V202.4M523.4 112.2V202.4M527 112.2V202.4M530.6 112.2V202.4M534.1 112.2V202.4M537.7 112.2V202.4M541.3 112.2V202.4M544.9 112.2V202.4M548.5 112.2V202.4M552.1 112.2V202.4M555.6 112.2V202.4M559.2 112.2V202.4M562.8 112.2V202.4M566.4 112.2V202.4M593.4 112.2V202.4M597 112.2V202.4M600.6 112.2V202.4M604.2 112.2V202.4M607.8 112.2V202.4M611.4 112.2V202.4M615 112.2V202.4M618.6 112.2V202.4M622.2 112.2V202.4M625.8 112.2V202.4M629.4 112.2V202.4M633 112.2V202.4M636.6 112.2V202.4M640.3 112.2V202.4M643.9 112.2V202.4M647.5 112.2V202.4M651.1 112.2V202.4M654.7 112.2V202.4M658.3 112.2V202.4M661.9 112.2V202.4M665.5 112.2V202.4M669.1 112.2V202.4M672.7 112.2V202.4M676.3 112.2V202.4M679.9 112.2V202.4M367.1 206.9V296M370.7 206.9V296M374.3 206.9V296M377.9 206.9V296M381.4 206.9V296M385 206.9V296M388.6 206.9V296M392.2 206.9V296M395.8 206.9V296M399.4 206.9V296M403 206.9V296M406.6 206.9V296M410.1 206.9V296M413.7 206.9V296M417.3 206.9V296M420.9 206.9V296M424.5 206.9V296M428.1 206.9V296M431.7 206.9V296M435.3 206.9V296M438.8 206.9V296M442.4 206.9V296M446 206.9V296M449.6 206.9V296M453.2 206.9V296M480.4 206.9V296M484 206.9V296M487.6 206.9V296M491.1 206.9V296M494.7 206.9V296M498.3 206.9V296M501.9 206.9V296M505.5 206.9V296M509.1 206.9V296M512.6 206.9V296M516.2 206.9V296M519.8 206.9V296M523.4 206.9V296M527 206.9V296M530.6 206.9V296M534.1 206.9V296M537.7 206.9V296M541.3 206.9V296M544.9 206.9V296M548.5 206.9V296M552.1 206.9V296M555.6 206.9V296M559.2 206.9V296M562.8 206.9V296M566.4 206.9V296M593.4 206.9V296M597 206.9V296M600.6 206.9V296M604.2 206.9V296M607.8 206.9V296M611.4 206.9V296M615 206.9V296M618.6 206.9V296M622.2 206.9V296M625.8 206.9V296M629.4 206.9V296M633 206.9V296M636.6 206.9V296M640.3 206.9V296M643.9 206.9V296M647.5 206.9V296M651.1 206.9V296M654.7 206.9V296M658.3 206.9V296M661.9 206.9V296M665.5 206.9V296M669.1 206.9V296M672.7 206.9V296M676.3 206.9V296M679.9 206.9V296" stroke="#f3f3f3" stroke-width="0.5"/>
<path d="M18.5 18.2H108.6V108.4H18.5ZM115.4 18.2H205.6V108.4H115.4ZM212.4 18.2H302.5V108.4H212.4ZM18.5 112.2H108.6V202.4H18.5ZM115.4 112.2H205.6V202.4H115.4ZM212.4 112.2H302.5V202.4H212.4ZM18.5 206.9H108.6V296H18.5ZM115.4 206.9H205.6V296H115.4ZM212.4 206.9H302.5V296H212.4ZM364.7 18.2H455.3V108.4H364.7ZM478.3 18.2H568.3V108.4H478.3ZM591.3 18.2H682.3V108.4H591.3ZM364.7 112.2H455.3V202.4H364.7ZM478.3 112.2H568.3V202.4H478.3ZM591.3 112.2H682.3V202.4H591.3ZM364.7 206.9H455.3V296H364.7ZM478.3 206.9H568.3V296H478.3ZM591.3 206.9H682.3V296H591.3Z" stroke="#dedede" stroke-width="0.8"/>
<rect x="19.1" y="67.8" width="3.4" height="16" fill="#a3bacc" fill-opacity=".65" mask="url(#mu)"/><rect x="19.1" y="99.7" width="3.4" height="5.7" fill="#b59cbd" fill-opacity=".55" mask="url(#md)"/><rect x="22.5" y="64.2" width="3.4" height="16" fill="#a0bfcc" fill-opacity=".65" mask="url(#mu)"/><rect x="22.5" y="89.7" width="3.4" height="15.7" fill="#b6a6c6" fill-opacity=".55" mask="url(#md)"/><rect x="25.9" y="65" width="3.4" height="16" fill="#a1becc" fill-opacity=".65" mask="url(#mu)"/><rect x="25.9" y="89.7" width="3.4" height="15.7" fill="#b6a6c6" fill-opacity=".55" mask="url(#md)"/><rect x="29.3" y="57" width="3.4" height="16" fill="#9dc9cc" fill-opacity=".65" mask="url(#mu)"/><rect x="29.3" y="88.5" width="3.4" height="16.9" fill="#b6a7c7" fill-opacity=".55" mask="url(#md)"/><rect x="32.8" y="30" width="3.4" height="16" fill="#c0e9b2" fill-opacity=".65" mask="url(#mu)"/><rect x="32.8" y="73.5" width="3.4" height="31.9" fill="#b3b4cf" fill-opacity=".55" mask="url(#md)"/><rect x="36.2" y="27.8" width="3.4" height="16" fill="#c8ebae" fill-opacity=".65" mask="url(#mu)"/><rect x="36.2" y="64.7" width="3.4" height="15" fill="#abc6d2" fill-opacity=".4" mask="url(#md)"/><rect x="39.6" y="23.8" width="3.4" height="16" fill="#d5eea5" fill-opacity=".65" mask="url(#mu)"/><rect x="39.6" y="74.7" width="3.4" height="30.7" fill="#b3b3ce" fill-opacity=".55" mask="url(#md)"/><rect x="43" y="21.2" width="3.4" height="13.6" fill="#d5eea5" fill-opacity=".75" mask="url(#mu)"/><rect x="43" y="74.7" width="3.4" height="30.7" fill="#b3b3ce" fill-opacity=".55" mask="url(#md)"/><rect x="46.5" y="21.2" width="3.4" height="9.8" fill="#d5eea5" fill-opacity=".75" mask="url(#mu)"/><rect x="46.5" y="70.5" width="3.4" height="15" fill="#aebfd1" fill-opacity=".4" mask="url(#md)"/><rect x="49.9" y="21.2" width="3.4" height="6.8" fill="#d5eea5" fill-opacity=".75" mask="url(#mu)"/><rect x="49.9" y="46.8" width="3.4" height="15" fill="#a7d9cf" fill-opacity=".4" mask="url(#md)"/><rect x="53.3" y="21.2" width="3.4" height="6" fill="#d5eea5" fill-opacity=".75" mask="url(#mu)"/><rect x="53.3" y="44.3" width="3.4" height="15" fill="#a7dcce" fill-opacity=".4" mask="url(#md)"/><rect x="56.8" y="21.2" width="3.4" height="5.1" fill="#d5eea5" fill-opacity=".75" mask="url(#mu)"/><rect x="56.8" y="43.5" width="3.4" height="15" fill="#a7ddcd" fill-opacity=".4" mask="url(#md)"/><rect x="60.2" y="21.2" width="3.4" height="5.6" fill="#d5eea5" fill-opacity=".75" mask="url(#mu)"/><rect x="60.2" y="44.3" width="3.4" height="15" fill="#a7dcce" fill-opacity=".4" mask="url(#md)"/><rect x="63.6" y="21.2" width="3.4" height="7.8" fill="#d5eea5" fill-opacity=".75" mask="url(#mu)"/><rect x="63.6" y="42.3" width="3.4" height="15" fill="#a9decd" fill-opacity=".4" mask="url(#md)"/><rect x="67" y="21.2" width="3.4" height="13.6" fill="#d5eea5" fill-opacity=".75" mask="url(#mu)"/><rect x="67" y="46" width="3.4" height="15" fill="#a7dacf" fill-opacity=".4" mask="url(#md)"/><rect x="70.5" y="25" width="3.4" height="16" fill="#d2eda7" fill-opacity=".65" mask="url(#mu)"/><rect x="70.5" y="90" width="3.4" height="15.4" fill="#b5a5c6" fill-opacity=".55" mask="url(#md)"/><rect x="73.9" y="24.7" width="3.4" height="16" fill="#d3eea6" fill-opacity=".65" mask="url(#mu)"/><rect x="73.9" y="96.7" width="3.4" height="8.7" fill="#b59fc0" fill-opacity=".55" mask="url(#md)"/><rect x="77.3" y="29.7" width="3.4" height="16" fill="#c1eab2" fill-opacity=".65" mask="url(#mu)"/><rect x="77.3" y="92.7" width="3.4" height="12.7" fill="#b5a3c3" fill-opacity=".55" mask="url(#md)"/><rect x="80.8" y="37" width="3.4" height="16" fill="#ace3be" fill-opacity=".65" mask="url(#mu)"/><rect x="80.8" y="83.8" width="3.4" height="21.6" fill="#b5abca" fill-opacity=".55" mask="url(#md)"/><rect x="84.2" y="42" width="3.4" height="16" fill="#a2dcc4" fill-opacity=".65" mask="url(#mu)"/><rect x="84.2" y="73" width="3.4" height="32.4" fill="#b3b4cf" fill-opacity=".55" mask="url(#md)"/><rect x="87.6" y="39.2" width="3.4" height="16" fill="#a7e0c1" fill-opacity=".65" mask="url(#mu)"/><rect x="87.6" y="73" width="3.4" height="32.4" fill="#b3b4cf" fill-opacity=".55" mask="url(#md)"/><rect x="91" y="39.2" width="3.4" height="16" fill="#a7e0c1" fill-opacity=".65" mask="url(#mu)"/><rect x="91" y="69.7" width="3.4" height="15" fill="#aec0d1" fill-opacity=".4" mask="url(#md)"/><rect x="94.5" y="38" width="3.4" height="16" fill="#aae1c0" fill-opacity=".65" mask="url(#mu)"/><rect x="94.5" y="73" width="3.4" height="32.4" fill="#b3b4cf" fill-opacity=".55" mask="url(#md)"/><rect x="97.9" y="43" width="3.4" height="16" fill="#a0dbc5" fill-opacity=".65" mask="url(#mu)"/><rect x="97.9" y="78" width="3.4" height="27.4" fill="#b4b0cd" fill-opacity=".55" mask="url(#md)"/><rect x="101.3" y="56.7" width="3.4" height="16" fill="#9cc9cc" fill-opacity=".65" mask="url(#mu)"/><rect x="101.3" y="83.8" width="3.4" height="21.6" fill="#b5abca" fill-opacity=".55" mask="url(#md)"/><rect x="104.8" y="63.7" width="3.4" height="16" fill="#a0c0cc" fill-opacity=".65" mask="url(#mu)"/><rect x="104.8" y="91" width="3.4" height="14.4" fill="#b5a5c5" fill-opacity=".55" mask="url(#md)"/><rect x="116" y="28.8" width="3.4" height="16" fill="#c4ebb0" fill-opacity=".65" mask="url(#mu)"/><rect x="116" y="59.7" width="3.4" height="15" fill="#a9cbd2" fill-opacity=".4" mask="url(#md)"/><rect x="119.4" y="22.8" width="3.4" height="16" fill="#d5eea5" fill-opacity=".65" mask="url(#mu)"/><rect x="119.4" y="51" width="3.4" height="15" fill="#a6d5d0" fill-opacity=".4" mask="url(#md)"/><rect x="122.8" y="23" width="3.4" height="16" fill="#d5eea5" fill-opacity=".65" mask="url(#mu)"/><rect x="122.8" y="51.8" width="3.4" height="15" fill="#a6d4d1" fill-opacity=".4" mask="url(#md)"/><rect x="126.2" y="21.2" width="3.4" height="14.5" fill="#d5eea5" fill-opacity=".75" mask="url(#mu)"/><rect x="126.2" y="50.7" width="3.4" height="15" fill="#a6d5d0" fill-opacity=".4" mask="url(#md)"/><rect x="129.7" y="22" width="3.4" height="16" fill="#d5eea5" fill-opacity=".65" mask="url(#mu)"/><rect x="129.7" y="51.8" width="3.4" height="15" fill="#a6d4d1" fill-opacity=".4" mask="url(#md)"/><rect x="133.1" y="22" width="3.4" height="16" fill="#d5eea5" fill-opacity=".65" mask="url(#mu)"/><rect x="133.1" y="50.7" width="3.4" height="15" fill="#a6d5d0" fill-opacity=".4" mask="url(#md)"/><rect x="136.5" y="23.3" width="3.4" height="16" fill="#d5eea5" fill-opacity=".65" mask="url(#mu)"/><rect x="136.5" y="56" width="3.4" height="15" fill="#a7cfd1" fill-opacity=".4" mask="url(#md)"/><rect x="139.9" y="21.2" width="3.4" height="16" fill="#d5eea5" fill-opacity=".65" mask="url(#mu)"/><rect x="139.9" y="58.5" width="3.4" height="15" fill="#a9cdd1" fill-opacity=".4" mask="url(#md)"/><rect x="143.4" y="21.2" width="3.4" height="14.8" fill="#d5eea5" fill-opacity=".75" mask="url(#mu)"/><rect x="143.4" y="50.2" width="3.4" height="15" fill="#a6d6d0" fill-opacity=".4" mask="url(#md)"/><rect x="146.8" y="21.2" width="3.4" height="11.8" fill="#d5eea5" fill-opacity=".75" mask="url(#mu)"/><rect x="146.8" y="44.7" width="3.4" height="15" fill="#a7dbce" fill-opacity=".4" mask="url(#md)"/><rect x="150.2" y="21.2" width="3.4" height="7" fill="#d5eea5" fill-opacity=".75" mask="url(#mu)"/><rect x="150.2" y="44.7" width="3.4" height="15" fill="#a7dbce" fill-opacity=".4" mask="url(#md)"/><rect x="153.7" y="21.2" width="3.4" height="6" fill="#d5eea5" fill-opacity=".75" mask="url(#mu)"/><rect x="153.7" y="39.8" width="3.4" height="15" fill="#ade0ca" fill-opacity=".4" mask="url(#md)"/><rect x="157.1" y="21.2" width="3.4" height="7.8" fill="#d5eea5" fill-opacity=".75" mask="url(#mu)"/><rect x="157.1" y="40.7" width="3.4" height="15" fill="#abdfcb" fill-opacity=".4" mask="url(#md)"/><rect x="160.5" y="21.2" width="3.4" height="7.8" fill="#d5eea5" fill-opacity=".75" mask="url(#mu)"/><rect x="160.5" y="50.7" width="3.4" height="15" fill="#a6d5d0" fill-opacity=".4" mask="url(#md)"/><rect x="163.9" y="21.2" width="3.4" height="12.8" fill="#d5eea5" fill-opacity=".75" mask="url(#mu)"/><rect x="163.9" y="56.8" width="3.4" height="15" fill="#a8cfd1" fill-opacity=".4" mask="url(#md)"/><rect x="167.4" y="21.2" width="3.4" height="12" fill="#d5eea5" fill-opacity=".75" mask="url(#mu)"/><rect x="167.4" y="84.7" width="3.4" height="20.7" fill="#b5aac9" fill-opacity=".55" mask="url(#md)"/><rect x="170.8" y="27" width="3.4" height="16" fill="#cbecac" fill-opacity=".65" mask="url(#mu)"/><rect x="170.8" y="96.7" width="3.4" height="8.7" fill="#b59fc0" fill-opacity=".55" mask="url(#md)"/><rect x="174.2" y="32.2" width="3.4" height="16" fill="#bae7b6" fill-opacity=".65" mask="url(#mu)"/><rect x="174.2" y="92.2" width="3.4" height="13.2" fill="#b5a3c4" fill-opacity=".55" mask="url(#md)"/><rect x="177.7" y="39.7" width="3.4" height="16" fill="#a6dfc1" fill-opacity=".65" mask="url(#mu)"/><rect x="177.7" y="75.5" width="3.4" height="29.9" fill="#b3b2ce" fill-opacity=".55" mask="url(#md)"/><rect x="181.1" y="44.2" width="3.4" height="16" fill="#9edac6" fill-opacity=".65" mask="url(#mu)"/><rect x="181.1" y="71" width="3.4" height="15" fill="#aebfd1" fill-opacity=".4" mask="url(#md)"/><rect x="184.5" y="48.3" width="3.4" height="16" fill="#9cd4c9" fill-opacity=".65" mask="url(#mu)"/><rect x="184.5" y="75.5" width="3.4" height="29.9" fill="#b3b2ce" fill-opacity=".55" mask="url(#md)"/><rect x="187.9" y="51.7" width="3.4" height="16" fill="#9bd0ca" fill-opacity=".65" mask="url(#mu)"/><rect x="187.9" y="78.8" width="3.4" height="26.6" fill="#b4afcc" fill-opacity=".55" mask="url(#md)"/><rect x="191.4" y="55" width="3.4" height="16" fill="#9ccccb" fill-opacity=".65" mask="url(#mu)"/><rect x="191.4" y="81" width="3.4" height="24.4" fill="#b5adcb" fill-opacity=".55" mask="url(#md)"/><rect x="194.8" y="60.7" width="3.4" height="16" fill="#9fc4cc" fill-opacity=".65" mask="url(#mu)"/><rect x="194.8" y="84.7" width="3.4" height="20.7" fill="#b5aac9" fill-opacity=".55" mask="url(#md)"/><rect x="198.2" y="67.3" width="3.4" height="16" fill="#a2bbcc" fill-opacity=".65" mask="url(#mu)"/><rect x="198.2" y="91" width="3.4" height="14.4" fill="#b5a5c5" fill-opacity=".55" mask="url(#md)"/><rect x="201.6" y="72" width="3.4" height="16" fill="#a5b4cb" fill-opacity=".65" mask="url(#mu)"/><rect x="201.6" y="94.3" width="3.4" height="11.1" fill="#b5a1c2" fill-opacity=".55" mask="url(#md)"/><rect x="212.9" y="21.2" width="3.4" height="2.6" fill="#d5eea5" fill-opacity=".75" mask="url(#mu)"/><rect x="212.9" y="30.7" width="3.4" height="15" fill="#bee9c0" fill-opacity=".4" mask="url(#md)"/><rect x="216.4" y="21.2" width="3.4" height="3.5" fill="#d5eea5" fill-opacity=".75" mask="url(#mu)"/><rect x="216.4" y="32.7" width="3.4" height="15" fill="#b9e7c3" fill-opacity=".4" mask="url(#md)"/><rect x="219.8" y="21.2" width="3.4" height="2.8" fill="#d5eea5" fill-opacity=".75" mask="url(#mu)"/><rect x="219.8" y="34" width="3.4" height="15" fill="#b6e6c5" fill-opacity=".4" mask="url(#md)"/><rect x="223.2" y="21.2" width="3.4" height="5.6" fill="#d5eea5" fill-opacity=".75" mask="url(#mu)"/><rect x="223.2" y="36.8" width="3.4" height="15" fill="#b1e3c8" fill-opacity=".4" mask="url(#md)"/><rect x="226.7" y="21.2" width="3.4" height="11" fill="#d5eea5" fill-opacity=".75" mask="url(#mu)"/><rect x="226.7" y="41.8" width="3.4" height="15" fill="#a9decc" fill-opacity=".4" mask="url(#md)"/><rect x="230.1" y="21.2" width="3.4" height="14" fill="#d5eea5" fill-opacity=".75" mask="url(#mu)"/><rect x="230.1" y="46.5" width="3.4" height="15" fill="#a7d9cf" fill-opacity=".4" mask="url(#md)"/><rect x="233.5" y="22" width="3.4" height="16" fill="#d5eea5" fill-opacity=".65" mask="url(#mu)"/><rect x="233.5" y="51.8" width="3.4" height="15" fill="#a6d4d1" fill-opacity=".4" mask="url(#md)"/><rect x="236.9" y="21.2" width="3.4" height="14.8" fill="#d5eea5" fill-opacity=".75" mask="url(#mu)"/><rect x="236.9" y="56.8" width="3.4" height="15" fill="#a8cfd1" fill-opacity=".4" mask="url(#md)"/><rect x="240.4" y="21.2" width="3.4" height="9" fill="#d5eea5" fill-opacity=".75" mask="url(#mu)"/><rect x="240.4" y="56.8" width="3.4" height="15" fill="#a8cfd1" fill-opacity=".4" mask="url(#md)"/><rect x="243.8" y="21.2" width="3.4" height="13.6" fill="#d5eea5" fill-opacity=".75" mask="url(#mu)"/><rect x="243.8" y="56.8" width="3.4" height="15" fill="#a8cfd1" fill-opacity=".4" mask="url(#md)"/><rect x="247.2" y="21.2" width="3.4" height="7.8" fill="#d5eea5" fill-opacity=".75" mask="url(#mu)"/><rect x="247.2" y="53.5" width="3.4" height="15" fill="#a7d2d1" fill-opacity=".4" mask="url(#md)"/><rect x="250.7" y="21.2" width="3.4" height="7.8" fill="#d5eea5" fill-opacity=".75" mask="url(#mu)"/><rect x="250.7" y="49.3" width="3.4" height="15" fill="#a6d7d0" fill-opacity=".4" mask="url(#md)"/><rect x="254.1" y="21.2" width="3.4" height="12.8" fill="#d5eea5" fill-opacity=".75" mask="url(#mu)"/><rect x="254.1" y="46.8" width="3.4" height="15" fill="#a7d9cf" fill-opacity=".4" mask="url(#md)"/><rect x="257.5" y="21.2" width="3.4" height="13.6" fill="#d5eea5" fill-opacity=".75" mask="url(#mu)"/><rect x="257.5" y="56.2" width="3.4" height="15" fill="#a7cfd1" fill-opacity=".4" mask="url(#md)"/><rect x="260.9" y="21.2" width="3.4" height="15.6" fill="#d5eea5" fill-opacity=".65" mask="url(#mu)"/><rect x="260.9" y="69.7" width="3.4" height="15" fill="#aec0d1" fill-opacity=".4" mask="url(#md)"/><rect x="264.4" y="21.2" width="3.4" height="13.6" fill="#d5eea5" fill-opacity=".75" mask="url(#mu)"/><rect x="264.4" y="73.3" width="3.4" height="32.1" fill="#b3b4cf" fill-opacity=".55" mask="url(#md)"/><rect x="267.8" y="25.3" width="3.4" height="16" fill="#d1eda8" fill-opacity=".65" mask="url(#mu)"/><rect x="267.8" y="73.3" width="3.4" height="32.1" fill="#b3b4cf" fill-opacity=".55" mask="url(#md)"/><rect x="271.2" y="30" width="3.4" height="16" fill="#c0e9b2" fill-opacity=".65" mask="url(#mu)"/><rect x="271.2" y="72.2" width="3.4" height="15" fill="#afbdd1" fill-opacity=".4" mask="url(#md)"/><rect x="274.7" y="38" width="3.4" height="16" fill="#aae1c0" fill-opacity=".65" mask="url(#mu)"/><rect x="274.7" y="71.7" width="3.4" height="15" fill="#afbed1" fill-opacity=".4" mask="url(#md)"/><rect x="278.1" y="45.8" width="3.4" height="16" fill="#9cd7c8" fill-opacity=".65" mask="url(#mu)"/><rect x="278.1" y="76" width="3.4" height="29.4" fill="#b3b1cd" fill-opacity=".55" mask="url(#md)"/><rect x="281.5" y="57" width="3.4" height="16" fill="#9dc9cc" fill-opacity=".65" mask="url(#mu)"/><rect x="281.5" y="85.5" width="3.4" height="19.9" fill="#b5a9c9" fill-opacity=".55" mask="url(#md)"/><rect x="284.9" y="62" width="3.4" height="16" fill="#9fc2cc" fill-opacity=".65" mask="url(#mu)"/><rect x="284.9" y="93.8" width="3.4" height="11.6" fill="#b5a2c3" fill-opacity=".55" mask="url(#md)"/><rect x="288.4" y="66.2" width="3.4" height="16" fill="#a2bccc" fill-opacity=".65" mask="url(#mu)"/><rect x="288.4" y="97.7" width="3.4" height="7.7" fill="#b59ebf" fill-opacity=".55" mask="url(#md)"/><rect x="291.8" y="69.2" width="3.4" height="16" fill="#a4b8cc" fill-opacity=".65" mask="url(#mu)"/><rect x="291.8" y="101" width="3.4" height="4.4" fill="#b59bbc" fill-opacity=".55" mask="url(#md)"/><rect x="295.2" y="71.2" width="3.4" height="16" fill="#a5b5cb" fill-opacity=".65" mask="url(#mu)"/><rect x="295.2" y="102.7" width="3.4" height="2.7" fill="#b499bb" fill-opacity=".55" mask="url(#md)"/><rect x="298.6" y="71.2" width="3.4" height="16" fill="#a5b5cb" fill-opacity=".65" mask="url(#mu)"/><rect x="298.6" y="98.5" width="3.4" height="6.9" fill="#b59dbf" fill-opacity=".55" mask="url(#md)"/><rect x="19.1" y="160.7" width="3.4" height="16" fill="#a2bccc" fill-opacity=".65" mask="url(#mu)"/><rect x="19.1" y="194.5" width="3.4" height="4.9" fill="#b59cbd" fill-opacity=".55" mask="url(#md)"/><rect x="22.5" y="156.8" width="3.4" height="16" fill="#a0c1cc" fill-opacity=".65" mask="url(#mu)"/><rect x="22.5" y="184" width="3.4" height="15.4" fill="#b5a5c6" fill-opacity=".55" mask="url(#md)"/><rect x="25.9" y="157.7" width="3.4" height="16" fill="#a0c0cc" fill-opacity=".65" mask="url(#mu)"/><rect x="25.9" y="184" width="3.4" height="15.4" fill="#b5a5c6" fill-opacity=".55" mask="url(#md)"/><rect x="29.3" y="149" width="3.4" height="16" fill="#9ccccb" fill-opacity=".65" mask="url(#mu)"/><rect x="29.3" y="182.5" width="3.4" height="16.9" fill="#b6a7c7" fill-opacity=".55" mask="url(#md)"/><rect x="32.8" y="124.5" width="3.4" height="16" fill="#bfe9b3" fill-opacity=".65" mask="url(#mu)"/><rect x="32.8" y="165.3" width="3.4" height="15" fill="#afbfd1" fill-opacity=".4" mask="url(#md)"/><rect x="36.2" y="122" width="3.4" height="16" fill="#c7ebae" fill-opacity=".65" mask="url(#mu)"/><rect x="36.2" y="155.7" width="3.4" height="15" fill="#aac9d2" fill-opacity=".4" mask="url(#md)"/><rect x="39.6" y="117.8" width="3.4" height="16" fill="#d5eea5" fill-opacity=".65" mask="url(#mu)"/><rect x="39.6" y="167.8" width="3.4" height="31.6" fill="#b3b3cf" fill-opacity=".55" mask="url(#md)"/><rect x="43" y="115.2" width="3.4" height="12.6" fill="#d5eea5" fill-opacity=".75" mask="url(#mu)"/><rect x="43" y="167.8" width="3.4" height="31.6" fill="#b3b3cf" fill-opacity=".55" mask="url(#md)"/><rect x="46.5" y="115.2" width="3.4" height="10.6" fill="#d5eea5" fill-opacity=".75" mask="url(#mu)"/><rect x="46.5" y="161.2" width="3.4" height="15" fill="#adc3d1" fill-opacity=".4" mask="url(#md)"/><rect x="49.9" y="115.2" width="3.4" height="6.8" fill="#d5eea5" fill-opacity=".75" mask="url(#mu)"/><rect x="49.9" y="140.8" width="3.4" height="15" fill="#a7d9cf" fill-opacity=".4" mask="url(#md)"/><rect x="53.3" y="115.2" width="3.4" height="6.8" fill="#d5eea5" fill-opacity=".75" mask="url(#mu)"/><rect x="53.3" y="138.3" width="3.4" height="15" fill="#a7dcce" fill-opacity=".4" mask="url(#md)"/><rect x="56.8" y="115.2" width="3.4" height="5.6" fill="#d5eea5" fill-opacity=".75" mask="url(#mu)"/><rect x="56.8" y="137" width="3.4" height="15" fill="#a8ddcd" fill-opacity=".4" mask="url(#md)"/><rect x="60.2" y="115.2" width="3.4" height="6.1" fill="#d5eea5" fill-opacity=".75" mask="url(#mu)"/><rect x="60.2" y="138.3" width="3.4" height="15" fill="#a7dcce" fill-opacity=".4" mask="url(#md)"/><rect x="63.6" y="115.2" width="3.4" height="9" fill="#d5eea5" fill-opacity=".75" mask="url(#mu)"/><rect x="63.6" y="137" width="3.4" height="15" fill="#a8ddcd" fill-opacity=".4" mask="url(#md)"/><rect x="67" y="115.2" width="3.4" height="13.6" fill="#d5eea5" fill-opacity=".75" mask="url(#mu)"/><rect x="67" y="140" width="3.4" height="15" fill="#a7dacf" fill-opacity=".4" mask="url(#md)"/><rect x="70.5" y="119" width="3.4" height="16" fill="#d2eda7" fill-opacity=".65" mask="url(#mu)"/><rect x="70.5" y="184.5" width="3.4" height="14.9" fill="#b5a5c5" fill-opacity=".55" mask="url(#md)"/><rect x="73.9" y="119" width="3.4" height="16" fill="#d2eda7" fill-opacity=".65" mask="url(#mu)"/><rect x="73.9" y="191.7" width="3.4" height="7.7" fill="#b59ebf" fill-opacity=".55" mask="url(#md)"/><rect x="77.3" y="124" width="3.4" height="16" fill="#c0e9b2" fill-opacity=".65" mask="url(#mu)"/><rect x="77.3" y="187.3" width="3.4" height="12.1" fill="#b5a2c3" fill-opacity=".55" mask="url(#md)"/><rect x="80.8" y="132" width="3.4" height="16" fill="#aae1c0" fill-opacity=".65" mask="url(#mu)"/><rect x="80.8" y="178.7" width="3.4" height="20.7" fill="#b5aac9" fill-opacity=".55" mask="url(#md)"/><rect x="84.2" y="137" width="3.4" height="16" fill="#a0dbc5" fill-opacity=".65" mask="url(#mu)"/><rect x="84.2" y="167.3" width="3.4" height="32.1" fill="#b3b4cf" fill-opacity=".55" mask="url(#md)"/><rect x="87.6" y="133.7" width="3.4" height="16" fill="#a6dfc1" fill-opacity=".65" mask="url(#mu)"/><rect x="87.6" y="167.8" width="3.4" height="31.6" fill="#b3b3cf" fill-opacity=".55" mask="url(#md)"/><rect x="91" y="134.8" width="3.4" height="16" fill="#a4dec3" fill-opacity=".65" mask="url(#mu)"/><rect x="91" y="165" width="3.4" height="15" fill="#aebfd1" fill-opacity=".4" mask="url(#md)"/><rect x="94.5" y="132.8" width="3.4" height="16" fill="#a8e0c0" fill-opacity=".65" mask="url(#mu)"/><rect x="94.5" y="168.7" width="3.4" height="30.7" fill="#b3b3ce" fill-opacity=".55" mask="url(#md)"/><rect x="97.9" y="137.3" width="3.4" height="16" fill="#a0dbc5" fill-opacity=".65" mask="url(#mu)"/><rect x="97.9" y="172" width="3.4" height="27.4" fill="#b4b0cd" fill-opacity=".55" mask="url(#md)"/><rect x="101.3" y="151" width="3.4" height="16" fill="#9dc9cc" fill-opacity=".65" mask="url(#mu)"/><rect x="101.3" y="178.3" width="3.4" height="21.1" fill="#b5abc9" fill-opacity=".55" mask="url(#md)"/><rect x="104.8" y="158" width="3.4" height="16" fill="#a0c0cc" fill-opacity=".65" mask="url(#mu)"/><rect x="104.8" y="185" width="3.4" height="14.4" fill="#b5a5c5" fill-opacity=".55" mask="url(#md)"/><rect x="116" y="124" width="3.4" height="16" fill="#c0e9b2" fill-opacity=".65" mask="url(#mu)"/><rect x="116" y="150.8" width="3.4" height="15" fill="#a8cfd1" fill-opacity=".4" mask="url(#md)"/><rect x="119.4" y="115.2" width="3.4" height="13.6" fill="#d5eea5" fill-opacity=".75" mask="url(#mu)"/><rect x="119.4" y="143" width="3.4" height="15" fill="#a6d7d0" fill-opacity=".4" mask="url(#md)"/><rect x="122.8" y="115.2" width="3.4" height="11" fill="#d5eea5" fill-opacity=".75" mask="url(#mu)"/><rect x="122.8" y="143.8" width="3.4" height="15" fill="#a6d6d0" fill-opacity=".4" mask="url(#md)"/><rect x="126.2" y="115.2" width="3.4" height="6.8" fill="#d5eea5" fill-opacity=".75" mask="url(#mu)"/><rect x="126.2" y="143.3" width="3.4" height="15" fill="#a6d7d0" fill-opacity=".4" mask="url(#md)"/><rect x="129.7" y="115.2" width="3.4" height="14.5" fill="#d5eea5" fill-opacity=".75" mask="url(#mu)"/><rect x="129.7" y="147" width="3.4" height="15" fill="#a6d3d1" fill-opacity=".4" mask="url(#md)"/><rect x="133.1" y="117.3" width="3.4" height="16" fill="#d5eea5" fill-opacity=".65" mask="url(#mu)"/><rect x="133.1" y="145" width="3.4" height="15" fill="#a6d5d0" fill-opacity=".4" mask="url(#md)"/><rect x="136.5" y="118.2" width="3.4" height="16" fill="#d5eea5" fill-opacity=".65" mask="url(#mu)"/><rect x="136.5" y="150" width="3.4" height="15" fill="#a7cfd1" fill-opacity=".4" mask="url(#md)"/><rect x="139.9" y="116" width="3.4" height="16" fill="#d5eea5" fill-opacity=".65" mask="url(#mu)"/><rect x="139.9" y="150.8" width="3.4" height="15" fill="#a8cfd1" fill-opacity=".4" mask="url(#md)"/><rect x="143.4" y="115.2" width="3.4" height="16" fill="#d5eea5" fill-opacity=".65" mask="url(#mu)"/><rect x="143.4" y="144.2" width="3.4" height="15" fill="#a6d6d0" fill-opacity=".4" mask="url(#md)"/><rect x="146.8" y="115.2" width="3.4" height="13.6" fill="#d5eea5" fill-opacity=".75" mask="url(#mu)"/><rect x="146.8" y="139.7" width="3.4" height="15" fill="#a7dacf" fill-opacity=".4" mask="url(#md)"/><rect x="150.2" y="115.2" width="3.4" height="9" fill="#d5eea5" fill-opacity=".75" mask="url(#mu)"/><rect x="150.2" y="139.7" width="3.4" height="15" fill="#a7dacf" fill-opacity=".4" mask="url(#md)"/><rect x="153.7" y="115.2" width="3.4" height="6" fill="#d5eea5" fill-opacity=".75" mask="url(#mu)"/><rect x="153.7" y="133" width="3.4" height="15" fill="#aee1c9" fill-opacity=".4" mask="url(#md)"/><rect x="157.1" y="115.2" width="3.4" height="6" fill="#d5eea5" fill-opacity=".75" mask="url(#mu)"/><rect x="157.1" y="133" width="3.4" height="15" fill="#aee1c9" fill-opacity=".4" mask="url(#md)"/><rect x="160.5" y="115.2" width="3.4" height="7.8" fill="#d5eea5" fill-opacity=".75" mask="url(#mu)"/><rect x="160.5" y="144.7" width="3.4" height="15" fill="#a6d5d0" fill-opacity=".4" mask="url(#md)"/><rect x="163.9" y="115.2" width="3.4" height="14.8" fill="#d5eea5" fill-opacity=".75" mask="url(#mu)"/><rect x="163.9" y="148.7" width="3.4" height="15" fill="#a7d1d1" fill-opacity=".4" mask="url(#md)"/><rect x="167.4" y="115.2" width="3.4" height="14.8" fill="#d5eea5" fill-opacity=".75" mask="url(#mu)"/><rect x="167.4" y="184.5" width="3.4" height="14.9" fill="#b5a5c5" fill-opacity=".55" mask="url(#md)"/><rect x="170.8" y="122" width="3.4" height="16" fill="#c7ebae" fill-opacity=".65" mask="url(#mu)"/><rect x="170.8" y="193.7" width="3.4" height="5.7" fill="#b59cbd" fill-opacity=".55" mask="url(#md)"/><rect x="174.2" y="127" width="3.4" height="16" fill="#b7e6b7" fill-opacity=".65" mask="url(#mu)"/><rect x="174.2" y="191.7" width="3.4" height="7.7" fill="#b59ebf" fill-opacity=".55" mask="url(#md)"/><rect x="177.7" y="135.3" width="3.4" height="16" fill="#a3ddc3" fill-opacity=".65" mask="url(#mu)"/><rect x="177.7" y="178.7" width="3.4" height="20.7" fill="#b5aac9" fill-opacity=".55" mask="url(#md)"/><rect x="181.1" y="141" width="3.4" height="16" fill="#9cd6c8" fill-opacity=".65" mask="url(#mu)"/><rect x="181.1" y="170.8" width="3.4" height="28.6" fill="#b4b1cd" fill-opacity=".55" mask="url(#md)"/><rect x="184.5" y="143" width="3.4" height="16" fill="#9cd3c9" fill-opacity=".65" mask="url(#mu)"/><rect x="184.5" y="172.8" width="3.4" height="26.6" fill="#b4afcc" fill-opacity=".55" mask="url(#md)"/><rect x="187.9" y="143.5" width="3.4" height="16" fill="#9cd3c9" fill-opacity=".65" mask="url(#mu)"/><rect x="187.9" y="172.8" width="3.4" height="26.6" fill="#b4afcc" fill-opacity=".55" mask="url(#md)"/><rect x="191.4" y="144" width="3.4" height="16" fill="#9bd2c9" fill-opacity=".65" mask="url(#mu)"/><rect x="191.4" y="173.7" width="3.4" height="25.7" fill="#b4aecc" fill-opacity=".55" mask="url(#md)"/><rect x="194.8" y="152.3" width="3.4" height="16" fill="#9dc7cc" fill-opacity=".65" mask="url(#mu)"/><rect x="194.8" y="177.3" width="3.4" height="22.1" fill="#b5abca" fill-opacity=".55" mask="url(#md)"/><rect x="198.2" y="160.2" width="3.4" height="16" fill="#a2bccc" fill-opacity=".65" mask="url(#mu)"/><rect x="198.2" y="184.5" width="3.4" height="14.9" fill="#b5a5c5" fill-opacity=".55" mask="url(#md)"/><rect x="201.6" y="162.3" width="3.4" height="16" fill="#a3b9cc" fill-opacity=".65" mask="url(#mu)"/><rect x="201.6" y="187.8" width="3.4" height="11.6" fill="#b5a2c3" fill-opacity=".55" mask="url(#md)"/><rect x="212.9" y="115.2" width="3.4" height="1.8" fill="#d5eea5" fill-opacity=".75" mask="url(#mu)"/><rect x="212.9" y="124.2" width="3.4" height="15" fill="#bfe9bf" fill-opacity=".4" mask="url(#md)"/><rect x="216.4" y="115.2" width="3.4" height="2.8" fill="#d5eea5" fill-opacity=".75" mask="url(#mu)"/><rect x="216.4" y="125.8" width="3.4" height="15" fill="#bbe8c2" fill-opacity=".4" mask="url(#md)"/><rect x="219.8" y="115.2" width="3.4" height="1.8" fill="#d5eea5" fill-opacity=".75" mask="url(#mu)"/><rect x="219.8" y="125.3" width="3.4" height="15" fill="#bde8c1" fill-opacity=".4" mask="url(#md)"/><rect x="223.2" y="115.2" width="3.4" height="3.5" fill="#d5eea5" fill-opacity=".75" mask="url(#mu)"/><rect x="223.2" y="129.7" width="3.4" height="15" fill="#b3e5c7" fill-opacity=".4" mask="url(#md)"/><rect x="226.7" y="115.2" width="3.4" height="10.1" fill="#d5eea5" fill-opacity=".75" mask="url(#mu)"/><rect x="226.7" y="139.7" width="3.4" height="15" fill="#a7dacf" fill-opacity=".4" mask="url(#md)"/><rect x="230.1" y="115.2" width="3.4" height="14.8" fill="#d5eea5" fill-opacity=".75" mask="url(#mu)"/><rect x="230.1" y="142.5" width="3.4" height="15" fill="#a6d7cf" fill-opacity=".4" mask="url(#md)"/><rect x="233.5" y="116" width="3.4" height="16" fill="#d5eea5" fill-opacity=".65" mask="url(#mu)"/><rect x="233.5" y="146.3" width="3.4" height="15" fill="#a6d3d1" fill-opacity=".4" mask="url(#md)"/><rect x="236.9" y="115.2" width="3.4" height="14.5" fill="#d5eea5" fill-opacity=".75" mask="url(#mu)"/><rect x="236.9" y="147" width="3.4" height="15" fill="#a6d3d1" fill-opacity=".4" mask="url(#md)"/><rect x="240.4" y="115.2" width="3.4" height="9" fill="#d5eea5" fill-opacity=".75" mask="url(#mu)"/><rect x="240.4" y="146.7" width="3.4" height="15" fill="#a6d3d1" fill-opacity=".4" mask="url(#md)"/><rect x="243.8" y="115.2" width="3.4" height="14.8" fill="#d5eea5" fill-opacity=".75" mask="url(#mu)"/><rect x="243.8" y="149.7" width="3.4" height="15" fill="#a7d0d1" fill-opacity=".4" mask="url(#md)"/><rect x="247.2" y="115.2" width="3.4" height="9.8" fill="#d5eea5" fill-opacity=".75" mask="url(#mu)"/><rect x="247.2" y="148" width="3.4" height="15" fill="#a7d2d1" fill-opacity=".4" mask="url(#md)"/><rect x="250.7" y="115.2" width="3.4" height="7.8" fill="#d5eea5" fill-opacity=".75" mask="url(#mu)"/><rect x="250.7" y="138.7" width="3.4" height="15" fill="#a7dbce" fill-opacity=".4" mask="url(#md)"/><rect x="254.1" y="115.2" width="3.4" height="11" fill="#d5eea5" fill-opacity=".75" mask="url(#mu)"/><rect x="254.1" y="138.7" width="3.4" height="15" fill="#a7dbce" fill-opacity=".4" mask="url(#md)"/><rect x="257.5" y="115.2" width="3.4" height="13.5" fill="#d5eea5" fill-opacity=".75" mask="url(#mu)"/><rect x="257.5" y="151.7" width="3.4" height="15" fill="#a8cdd1" fill-opacity=".4" mask="url(#md)"/><rect x="260.9" y="115.7" width="3.4" height="16" fill="#d5eea5" fill-opacity=".65" mask="url(#mu)"/><rect x="260.9" y="161.2" width="3.4" height="15" fill="#adc3d1" fill-opacity=".4" mask="url(#md)"/><rect x="264.4" y="117" width="3.4" height="16" fill="#d5eea5" fill-opacity=".65" mask="url(#mu)"/><rect x="264.4" y="169.5" width="3.4" height="29.9" fill="#b3b2ce" fill-opacity=".55" mask="url(#md)"/><rect x="267.8" y="127" width="3.4" height="16" fill="#b7e6b7" fill-opacity=".65" mask="url(#mu)"/><rect x="267.8" y="184.5" width="3.4" height="14.9" fill="#b5a5c5" fill-opacity=".55" mask="url(#md)"/><rect x="271.2" y="131" width="3.4" height="16" fill="#ace3be" fill-opacity=".65" mask="url(#mu)"/><rect x="271.2" y="176.7" width="3.4" height="22.7" fill="#b5acca" fill-opacity=".55" mask="url(#md)"/><rect x="274.7" y="138.7" width="3.4" height="16" fill="#9dd9c7" fill-opacity=".65" mask="url(#mu)"/><rect x="274.7" y="178.7" width="3.4" height="20.7" fill="#b5aac9" fill-opacity=".55" mask="url(#md)"/><rect x="278.1" y="147.3" width="3.4" height="16" fill="#9bcecb" fill-opacity=".65" mask="url(#mu)"/><rect x="278.1" y="176.7" width="3.4" height="22.7" fill="#b5acca" fill-opacity=".55" mask="url(#md)"/><rect x="281.5" y="154.8" width="3.4" height="16" fill="#9fc4cc" fill-opacity=".65" mask="url(#mu)"/><rect x="281.5" y="184.5" width="3.4" height="14.9" fill="#b5a5c5" fill-opacity=".55" mask="url(#md)"/><rect x="284.9" y="157.3" width="3.4" height="16" fill="#a0c0cc" fill-opacity=".65" mask="url(#mu)"/><rect x="284.9" y="184.5" width="3.4" height="14.9" fill="#b5a5c5" fill-opacity=".55" mask="url(#md)"/><rect x="288.4" y="157.7" width="3.4" height="16" fill="#a0c0cc" fill-opacity=".65" mask="url(#mu)"/><rect x="288.4" y="190.7" width="3.4" height="8.7" fill="#b59fc0" fill-opacity=".55" mask="url(#md)"/><rect x="291.8" y="159" width="3.4" height="16" fill="#a1becc" fill-opacity=".65" mask="url(#mu)"/><rect x="291.8" y="193.7" width="3.4" height="5.7" fill="#b59cbd" fill-opacity=".55" mask="url(#md)"/><rect x="295.2" y="157.3" width="3.4" height="16" fill="#a0c0cc" fill-opacity=".65" mask="url(#mu)"/><rect x="295.2" y="196.2" width="3.4" height="3.2" fill="#b49abb" fill-opacity=".55" mask="url(#md)"/><rect x="298.6" y="152.7" width="3.4" height="16" fill="#9dc7cc" fill-opacity=".65" mask="url(#mu)"/><rect x="298.6" y="191.7" width="3.4" height="7.7" fill="#b59ebf" fill-opacity=".55" mask="url(#md)"/><rect x="19.1" y="252" width="3.4" height="16" fill="#a0c0cc" fill-opacity=".65" mask="url(#mu)"/><rect x="19.1" y="289.3" width="3.4" height="3.7" fill="#b49bbc" fill-opacity=".55" mask="url(#md)"/><rect x="22.5" y="250" width="3.4" height="16" fill="#9fc2cc" fill-opacity=".65" mask="url(#mu)"/><rect x="22.5" y="277.7" width="3.4" height="15.3" fill="#b5a5c6" fill-opacity=".55" mask="url(#md)"/><rect x="25.9" y="250.3" width="3.4" height="16" fill="#9fc2cc" fill-opacity=".65" mask="url(#mu)"/><rect x="25.9" y="276.8" width="3.4" height="16.2" fill="#b6a6c7" fill-opacity=".55" mask="url(#md)"/><rect x="29.3" y="240.8" width="3.4" height="16" fill="#9bcfcb" fill-opacity=".65" mask="url(#mu)"/><rect x="29.3" y="273.5" width="3.4" height="19.5" fill="#b5a9c9" fill-opacity=".55" mask="url(#md)"/><rect x="32.8" y="218" width="3.4" height="16" fill="#c2eab2" fill-opacity=".65" mask="url(#mu)"/><rect x="32.8" y="259.3" width="3.4" height="15" fill="#afbfd1" fill-opacity=".4" mask="url(#md)"/><rect x="36.2" y="218" width="3.4" height="16" fill="#c2eab2" fill-opacity=".65" mask="url(#mu)"/><rect x="36.2" y="241.5" width="3.4" height="15" fill="#a7d3d1" fill-opacity=".4" mask="url(#md)"/><rect x="39.6" y="213" width="3.4" height="16" fill="#d4eea6" fill-opacity=".65" mask="url(#mu)"/><rect x="39.6" y="251.8" width="3.4" height="15" fill="#abc7d2" fill-opacity=".4" mask="url(#md)"/><rect x="43" y="209.9" width="3.4" height="12.1" fill="#d5eea5" fill-opacity=".75" mask="url(#mu)"/><rect x="43" y="249.3" width="3.4" height="15" fill="#a9cad2" fill-opacity=".4" mask="url(#md)"/><rect x="46.5" y="209.9" width="3.4" height="9.9" fill="#d5eea5" fill-opacity=".75" mask="url(#mu)"/><rect x="46.5" y="242.8" width="3.4" height="15" fill="#a7d1d1" fill-opacity=".4" mask="url(#md)"/><rect x="49.9" y="209.9" width="3.4" height="6.1" fill="#d5eea5" fill-opacity=".75" mask="url(#mu)"/><rect x="49.9" y="233.7" width="3.4" height="15" fill="#a7dbce" fill-opacity=".4" mask="url(#md)"/><rect x="53.3" y="209.9" width="3.4" height="5.3" fill="#d5eea5" fill-opacity=".75" mask="url(#mu)"/><rect x="53.3" y="232.7" width="3.4" height="15" fill="#a7dbce" fill-opacity=".4" mask="url(#md)"/><rect x="56.8" y="209.9" width="3.4" height="5.3" fill="#d5eea5" fill-opacity=".75" mask="url(#mu)"/><rect x="56.8" y="232.7" width="3.4" height="15" fill="#a7dbce" fill-opacity=".4" mask="url(#md)"/><rect x="60.2" y="209.9" width="3.4" height="6.6" fill="#d5eea5" fill-opacity=".75" mask="url(#mu)"/><rect x="60.2" y="232.3" width="3.4" height="15" fill="#a7dcce" fill-opacity=".4" mask="url(#md)"/><rect x="63.6" y="209.9" width="3.4" height="8.3" fill="#d5eea5" fill-opacity=".75" mask="url(#mu)"/><rect x="63.6" y="231" width="3.4" height="15" fill="#a8ddcd" fill-opacity=".4" mask="url(#md)"/><rect x="67" y="209.9" width="3.4" height="12.8" fill="#d5eea5" fill-opacity=".75" mask="url(#mu)"/><rect x="67" y="234" width="3.4" height="15" fill="#a7dacf" fill-opacity=".4" mask="url(#md)"/><rect x="70.5" y="213.8" width="3.4" height="16" fill="#d1eda8" fill-opacity=".65" mask="url(#mu)"/><rect x="70.5" y="276.8" width="3.4" height="16.2" fill="#b6a6c7" fill-opacity=".55" mask="url(#md)"/><rect x="73.9" y="214.7" width="3.4" height="16" fill="#ceedaa" fill-opacity=".65" mask="url(#mu)"/><rect x="73.9" y="285.7" width="3.4" height="7.3" fill="#b59ebf" fill-opacity=".55" mask="url(#md)"/><rect x="77.3" y="220.5" width="3.4" height="16" fill="#bae7b6" fill-opacity=".65" mask="url(#mu)"/><rect x="77.3" y="280.7" width="3.4" height="12.3" fill="#b5a3c3" fill-opacity=".55" mask="url(#md)"/><rect x="80.8" y="228.8" width="3.4" height="16" fill="#a5dec2" fill-opacity=".65" mask="url(#mu)"/><rect x="80.8" y="271.8" width="3.4" height="21.2" fill="#b5abca" fill-opacity=".55" mask="url(#md)"/><rect x="84.2" y="232.2" width="3.4" height="16" fill="#9fdac6" fill-opacity=".65" mask="url(#mu)"/><rect x="84.2" y="262.7" width="3.4" height="30.3" fill="#b3b3ce" fill-opacity=".55" mask="url(#md)"/><rect x="87.6" y="228.8" width="3.4" height="16" fill="#a5dec2" fill-opacity=".65" mask="url(#mu)"/><rect x="87.6" y="261.8" width="3.4" height="31.2" fill="#b3b3cf" fill-opacity=".55" mask="url(#md)"/><rect x="91" y="231" width="3.4" height="16" fill="#a1dbc4" fill-opacity=".65" mask="url(#mu)"/><rect x="91" y="260.7" width="3.4" height="32.3" fill="#b3b4cf" fill-opacity=".55" mask="url(#md)"/><rect x="94.5" y="231" width="3.4" height="16" fill="#a1dbc4" fill-opacity=".65" mask="url(#mu)"/><rect x="94.5" y="264.7" width="3.4" height="28.3" fill="#b4b1cd" fill-opacity=".55" mask="url(#md)"/><rect x="97.9" y="237.5" width="3.4" height="16" fill="#9cd3c9" fill-opacity=".65" mask="url(#mu)"/><rect x="97.9" y="269.3" width="3.4" height="23.7" fill="#b5adcb" fill-opacity=".55" mask="url(#md)"/><rect x="101.3" y="249.2" width="3.4" height="16" fill="#9fc3cc" fill-opacity=".65" mask="url(#mu)"/><rect x="101.3" y="274.3" width="3.4" height="18.7" fill="#b5a9c9" fill-opacity=".55" mask="url(#md)"/><rect x="104.8" y="255.8" width="3.4" height="16" fill="#a3bacc" fill-opacity=".65" mask="url(#mu)"/><rect x="104.8" y="281" width="3.4" height="12" fill="#b5a3c3" fill-opacity=".55" mask="url(#md)"/><rect x="116" y="218.8" width="3.4" height="16" fill="#c0e9b3" fill-opacity=".65" mask="url(#mu)"/><rect x="116" y="242" width="3.4" height="15" fill="#a7d2d1" fill-opacity=".4" mask="url(#md)"/><rect x="119.4" y="209.9" width="3.4" height="14.9" fill="#d5eea5" fill-opacity=".65" mask="url(#mu)"/><rect x="119.4" y="238.7" width="3.4" height="15" fill="#a6d5d0" fill-opacity=".4" mask="url(#md)"/><rect x="122.8" y="214.3" width="3.4" height="16" fill="#cfeda9" fill-opacity=".65" mask="url(#mu)"/><rect x="122.8" y="242" width="3.4" height="15" fill="#a7d2d1" fill-opacity=".4" mask="url(#md)"/><rect x="126.2" y="209.9" width="3.4" height="12.9" fill="#d5eea5" fill-opacity=".75" mask="url(#mu)"/><rect x="126.2" y="239.5" width="3.4" height="15" fill="#a6d5d1" fill-opacity=".4" mask="url(#md)"/><rect x="129.7" y="209.9" width="3.4" height="10.3" fill="#d5eea5" fill-opacity=".75" mask="url(#mu)"/><rect x="129.7" y="239.8" width="3.4" height="15" fill="#a6d4d1" fill-opacity=".4" mask="url(#md)"/><rect x="133.1" y="210" width="3.4" height="16" fill="#d5eea5" fill-opacity=".65" mask="url(#mu)"/><rect x="133.1" y="237" width="3.4" height="15" fill="#a6d7cf" fill-opacity=".4" mask="url(#md)"/><rect x="136.5" y="211.8" width="3.4" height="16" fill="#d5eea5" fill-opacity=".65" mask="url(#mu)"/><rect x="136.5" y="241.5" width="3.4" height="15" fill="#a7d3d1" fill-opacity=".4" mask="url(#md)"/><rect x="139.9" y="209.9" width="3.4" height="14.4" fill="#d5eea5" fill-opacity=".75" mask="url(#mu)"/><rect x="139.9" y="243.2" width="3.4" height="15" fill="#a7d1d1" fill-opacity=".4" mask="url(#md)"/><rect x="143.4" y="210" width="3.4" height="16" fill="#d5eea5" fill-opacity=".65" mask="url(#mu)"/><rect x="143.4" y="237" width="3.4" height="15" fill="#a6d7cf" fill-opacity=".4" mask="url(#md)"/><rect x="146.8" y="209.9" width="3.4" height="12.9" fill="#d5eea5" fill-opacity=".75" mask="url(#mu)"/><rect x="146.8" y="232.3" width="3.4" height="15" fill="#a7dcce" fill-opacity=".4" mask="url(#md)"/><rect x="150.2" y="209.9" width="3.4" height="7.4" fill="#d5eea5" fill-opacity=".75" mask="url(#mu)"/><rect x="150.2" y="233.2" width="3.4" height="15" fill="#a7dbce" fill-opacity=".4" mask="url(#md)"/><rect x="153.7" y="209.9" width="3.4" height="5.8" fill="#d5eea5" fill-opacity=".75" mask="url(#mu)"/><rect x="153.7" y="227.3" width="3.4" height="15" fill="#aee1c9" fill-opacity=".4" mask="url(#md)"/><rect x="157.1" y="209.9" width="3.4" height="6.6" fill="#d5eea5" fill-opacity=".75" mask="url(#mu)"/><rect x="157.1" y="228.7" width="3.4" height="15" fill="#ace0cb" fill-opacity=".4" mask="url(#md)"/><rect x="160.5" y="209.9" width="3.4" height="8.3" fill="#d5eea5" fill-opacity=".75" mask="url(#mu)"/><rect x="160.5" y="239" width="3.4" height="15" fill="#a6d5d0" fill-opacity=".4" mask="url(#md)"/><rect x="163.9" y="209.9" width="3.4" height="15.8" fill="#d5eea5" fill-opacity=".65" mask="url(#mu)"/><rect x="163.9" y="243.7" width="3.4" height="15" fill="#a7d0d1" fill-opacity=".4" mask="url(#md)"/><rect x="167.4" y="209.9" width="3.4" height="14.9" fill="#d5eea5" fill-opacity=".65" mask="url(#mu)"/><rect x="167.4" y="271.8" width="3.4" height="21.2" fill="#b5abca" fill-opacity=".55" mask="url(#md)"/><rect x="170.8" y="218.8" width="3.4" height="16" fill="#c0e9b3" fill-opacity=".65" mask="url(#mu)"/><rect x="170.8" y="286" width="3.4" height="7" fill="#b59ebf" fill-opacity=".55" mask="url(#md)"/><rect x="174.2" y="223.8" width="3.4" height="16" fill="#b0e4bc" fill-opacity=".65" mask="url(#mu)"/><rect x="174.2" y="281.8" width="3.4" height="11.2" fill="#b5a2c2" fill-opacity=".55" mask="url(#md)"/><rect x="177.7" y="231.3" width="3.4" height="16" fill="#a0dbc5" fill-opacity=".65" mask="url(#mu)"/><rect x="177.7" y="266" width="3.4" height="27" fill="#b4b0cd" fill-opacity=".55" mask="url(#md)"/><rect x="181.1" y="234.7" width="3.4" height="16" fill="#9cd6c8" fill-opacity=".65" mask="url(#mu)"/><rect x="181.1" y="260.7" width="3.4" height="32.3" fill="#b3b4cf" fill-opacity=".55" mask="url(#md)"/><rect x="184.5" y="237" width="3.4" height="16" fill="#9cd4c9" fill-opacity=".65" mask="url(#mu)"/><rect x="184.5" y="264" width="3.4" height="29" fill="#b3b1cd" fill-opacity=".55" mask="url(#md)"/><rect x="187.9" y="239.7" width="3.4" height="16" fill="#9bd0ca" fill-opacity=".65" mask="url(#mu)"/><rect x="187.9" y="266.8" width="3.4" height="26.2" fill="#b4afcc" fill-opacity=".55" mask="url(#md)"/><rect x="191.4" y="243.3" width="3.4" height="16" fill="#9ccccb" fill-opacity=".65" mask="url(#mu)"/><rect x="191.4" y="268.5" width="3.4" height="24.5" fill="#b5aecb" fill-opacity=".55" mask="url(#md)"/><rect x="194.8" y="250.8" width="3.4" height="16" fill="#a0c1cc" fill-opacity=".65" mask="url(#mu)"/><rect x="194.8" y="274" width="3.4" height="19" fill="#b5a9c9" fill-opacity=".55" mask="url(#md)"/><rect x="198.2" y="257" width="3.4" height="16" fill="#a4b8cc" fill-opacity=".65" mask="url(#mu)"/><rect x="198.2" y="279" width="3.4" height="14" fill="#b5a4c5" fill-opacity=".55" mask="url(#md)"/><rect x="201.6" y="260.8" width="3.4" height="16" fill="#a6b3cb" fill-opacity=".65" mask="url(#mu)"/><rect x="201.6" y="284" width="3.4" height="9" fill="#b59fc1" fill-opacity=".55" mask="url(#md)"/><rect x="212.9" y="209.9" width="3.4" height="1.6" fill="#d5eea5" fill-opacity=".75" mask="url(#mu)"/><rect x="212.9" y="220.7" width="3.4" height="15" fill="#bae7c2" fill-opacity=".4" mask="url(#md)"/><rect x="216.4" y="209.9" width="3.4" height="2.8" fill="#d5eea5" fill-opacity=".75" mask="url(#mu)"/><rect x="216.4" y="221.2" width="3.4" height="15" fill="#b9e7c3" fill-opacity=".4" mask="url(#md)"/><rect x="219.8" y="209.9" width="3.4" height="3.3" fill="#d5eea5" fill-opacity=".75" mask="url(#mu)"/><rect x="219.8" y="224.8" width="3.4" height="15" fill="#b2e4c7" fill-opacity=".4" mask="url(#md)"/><rect x="223.2" y="209.9" width="3.4" height="4.9" fill="#d5eea5" fill-opacity=".75" mask="url(#mu)"/><rect x="223.2" y="226" width="3.4" height="15" fill="#b0e3c8" fill-opacity=".4" mask="url(#md)"/><rect x="226.7" y="209.9" width="3.4" height="9.1" fill="#d5eea5" fill-opacity=".75" mask="url(#mu)"/><rect x="226.7" y="231.5" width="3.4" height="15" fill="#a7ddcd" fill-opacity=".4" mask="url(#md)"/><rect x="230.1" y="209.9" width="3.4" height="13.3" fill="#d5eea5" fill-opacity=".75" mask="url(#mu)"/><rect x="230.1" y="234" width="3.4" height="15" fill="#a7dacf" fill-opacity=".4" mask="url(#md)"/><rect x="233.5" y="210" width="3.4" height="16" fill="#d5eea5" fill-opacity=".65" mask="url(#mu)"/><rect x="233.5" y="240.7" width="3.4" height="15" fill="#a6d3d1" fill-opacity=".4" mask="url(#md)"/><rect x="236.9" y="209.9" width="3.4" height="14.1" fill="#d5eea5" fill-opacity=".75" mask="url(#mu)"/><rect x="236.9" y="245.7" width="3.4" height="15" fill="#a8ced1" fill-opacity=".4" mask="url(#md)"/><rect x="240.4" y="209.9" width="3.4" height="10.8" fill="#d5eea5" fill-opacity=".75" mask="url(#mu)"/><rect x="240.4" y="241.5" width="3.4" height="15" fill="#a7d3d1" fill-opacity=".4" mask="url(#md)"/><rect x="243.8" y="209.9" width="3.4" height="14.9" fill="#d5eea5" fill-opacity=".65" mask="url(#mu)"/><rect x="243.8" y="241" width="3.4" height="15" fill="#a6d3d1" fill-opacity=".4" mask="url(#md)"/><rect x="247.2" y="209.9" width="3.4" height="8.3" fill="#d5eea5" fill-opacity=".75" mask="url(#mu)"/><rect x="247.2" y="241" width="3.4" height="15" fill="#a6d3d1" fill-opacity=".4" mask="url(#md)"/><rect x="250.7" y="209.9" width="3.4" height="7.1" fill="#d5eea5" fill-opacity=".75" mask="url(#mu)"/><rect x="250.7" y="233.2" width="3.4" height="15" fill="#a7dbce" fill-opacity=".4" mask="url(#md)"/><rect x="254.1" y="209.9" width="3.4" height="10.8" fill="#d5eea5" fill-opacity=".75" mask="url(#mu)"/><rect x="254.1" y="232" width="3.4" height="15" fill="#a7dcce" fill-opacity=".4" mask="url(#md)"/><rect x="257.5" y="209.9" width="3.4" height="12.9" fill="#d5eea5" fill-opacity=".75" mask="url(#mu)"/><rect x="257.5" y="244.8" width="3.4" height="15" fill="#a8cfd1" fill-opacity=".4" mask="url(#md)"/><rect x="260.9" y="209.9" width="3.4" height="15.8" fill="#d5eea5" fill-opacity=".65" mask="url(#mu)"/><rect x="260.9" y="251.3" width="3.4" height="15" fill="#abc7d2" fill-opacity=".4" mask="url(#md)"/><rect x="264.4" y="209.9" width="3.4" height="14.9" fill="#d5eea5" fill-opacity=".65" mask="url(#mu)"/><rect x="264.4" y="261.3" width="3.4" height="31.7" fill="#b3b4cf" fill-opacity=".55" mask="url(#md)"/><rect x="267.8" y="221.3" width="3.4" height="16" fill="#b8e7b7" fill-opacity=".65" mask="url(#mu)"/><rect x="267.8" y="270.7" width="3.4" height="22.3" fill="#b5acca" fill-opacity=".55" mask="url(#md)"/><rect x="271.2" y="225.5" width="3.4" height="16" fill="#abe2be" fill-opacity=".65" mask="url(#mu)"/><rect x="271.2" y="269.3" width="3.4" height="23.7" fill="#b5adcb" fill-opacity=".55" mask="url(#md)"/><rect x="274.7" y="232" width="3.4" height="16" fill="#9fdac6" fill-opacity=".65" mask="url(#mu)"/><rect x="274.7" y="262.7" width="3.4" height="30.3" fill="#b3b3ce" fill-opacity=".55" mask="url(#md)"/><rect x="278.1" y="237" width="3.4" height="16" fill="#9cd4c9" fill-opacity=".65" mask="url(#mu)"/><rect x="278.1" y="265.7" width="3.4" height="27.3" fill="#b4b0cd" fill-opacity=".55" mask="url(#md)"/><rect x="281.5" y="243" width="3.4" height="16" fill="#9ccccb" fill-opacity=".65" mask="url(#mu)"/><rect x="281.5" y="271.8" width="3.4" height="21.2" fill="#b5abca" fill-opacity=".55" mask="url(#md)"/><rect x="284.9" y="245.3" width="3.4" height="16" fill="#9dc9cc" fill-opacity=".65" mask="url(#mu)"/><rect x="284.9" y="276.8" width="3.4" height="16.2" fill="#b6a6c7" fill-opacity=".55" mask="url(#md)"/><rect x="288.4" y="250" width="3.4" height="16" fill="#9fc2cc" fill-opacity=".65" mask="url(#mu)"/><rect x="288.4" y="280.7" width="3.4" height="12.3" fill="#b5a3c3" fill-opacity=".55" mask="url(#md)"/><rect x="291.8" y="255" width="3.4" height="16" fill="#a2bbcc" fill-opacity=".65" mask="url(#mu)"/><rect x="291.8" y="285.7" width="3.4" height="7.3" fill="#b59ebf" fill-opacity=".55" mask="url(#md)"/><rect x="295.2" y="258.3" width="3.4" height="16" fill="#a4b7cc" fill-opacity=".65" mask="url(#mu)"/><rect x="295.2" y="289" width="3.4" height="4" fill="#b49bbc" fill-opacity=".55" mask="url(#md)"/><rect x="298.6" y="260.8" width="3.4" height="16" fill="#a6b3cb" fill-opacity=".65" mask="url(#mu)"/><rect x="298.6" y="288.5" width="3.4" height="4.5" fill="#b59bbd" fill-opacity=".55" mask="url(#md)"/>
<path d="M20.8 59.9V102.4M24.2 66V102.4M27.6 67.9V102.4M31 49.8V102.4M34.5 22.2V102.4M37.9 22.2V96.1M41.3 22.2V102.4M44.7 22.2V102.4M48.2 22.2V102.4M51.6 22.2V75M55 22.2V69.9M58.5 22.2V69.3M61.9 22.2V70.5M65.3 22.2V62.2M68.7 22.2V62.8M72.2 22.2V102.4M75.6 22.2V102.4M79 22.2V102.4M82.5 22.2V102.4M85.9 35.5V95.5M89.3 28.5V99.7M92.7 33.5V91.5M96.2 25.5V101.5M99.6 30.5V102.4M103 56.1V100.4M106.5 62.8V102.4M117.7 22.4V82.1M121.1 22.2V69.3M124.5 22.2V71M127.9 22.2V73.2M131.4 22.2V72.5M134.8 22.2V69.8M138.2 22.2V81.1M141.6 22.2V90.4M145.1 22.2V71.5M148.5 22.2V62.3M151.9 22.2V69.5M155.4 22.2V58.7M158.8 22.2V58.3M162.2 22.2V83.2M165.6 22.2V91M169.1 22.2V102.4M172.5 22.2V102.4M175.9 22.2V102.4M179.4 26V102.4M182.8 44V87.2M186.2 47.5V92.3M189.6 51.1V95.4M193.1 56V96M196.5 64.7V96.7M199.9 71.3V102.4M203.3 76V102.4M214.7 22.2V41M218.1 22.2V44.7M221.5 22.2V49M224.9 22.2V51.8M228.4 22.2V56.2M231.8 22.2V63.4M235.2 22.2V72.5M238.6 22.2V88M242.1 22.2V96.7M245.5 22.2V89.8M248.9 22.2V90.2M252.4 22.2V79.8M255.8 22.2V66M259.2 22.2V88.3M262.6 22.2V102.4M266.1 22.2V102.4M269.5 22.2V102.4M272.9 22.2V102.4M276.4 27.4V98.2M279.8 40.5V97.3M283.2 54.2V102.4M286.6 54.3V102.4M290.1 59V102.4M293.5 61.5V102.4M296.9 64V102.4M300.3 70.2V102.4M20.8 150V196.4M24.2 156V196.4M27.6 158.2V196.4M31 138.8V196.4M34.5 116.2V196.4M37.9 116.2V182.2M41.3 116.2V196.4M44.7 116.2V196.4M48.2 116.2V196.4M51.6 116.2V169M55 116.2V162.8M58.5 116.2V161.3M61.9 116.2V163.8M65.3 116.2V156.2M68.7 116.2V156.8M72.2 116.2V196.4M75.6 116.2V196.4M79 116.2V196.4M82.5 116.2V196.4M85.9 131.5V188.8M89.3 122.5V195M92.7 129.5V186.3M96.2 119V196.4M99.6 125.3V196.4M103 150V195.3M106.5 157.5V196.4M117.7 123.8V167M121.1 116.2V164.3M124.5 116.2V170.2M127.9 116.2V175.3M131.4 116.2V173M134.8 116.2V162.5M138.2 116.2V173.7M141.6 116.2V179M145.1 116.2V163.7M148.5 116.2V156M151.9 116.2V162.9M155.4 116.2V150.7M158.8 116.2V150.7M162.2 116.2V177.2M165.6 116.2V176.7M169.1 116.2V196.4M172.5 116.2V196.4M175.9 116.2V196.4M179.4 116.2V196.4M182.8 136.3V191.5M186.2 138.3V193.5M189.6 139.5V192.8M193.1 139.5V194.2M196.5 154.8V190.8M199.9 163.7V196.4M203.3 164.1V196.4M214.7 116.2V135M218.1 116.2V137.5M221.5 116.2V137.8M224.9 116.2V146.2M228.4 116.2V161.3M231.8 116.2V161.2M235.2 116.2V167.8M238.6 116.2V173M242.1 116.2V180.4M245.5 116.2V179.2M248.9 116.2V182.5M252.4 116.2V162.2M255.8 116.2V157.4M259.2 116.2V186.2M262.6 116.2V196.4M266.1 116.2V196.4M269.5 116.2V196.4M272.9 116.2V196.4M276.4 118.7V196.4M279.8 143.2V196.4M283.2 150.3V196.4M286.6 156.5V196.4M290.1 148.2V196.4M293.5 147V196.4M296.9 139V196.4M300.3 134.2V196.4M20.8 236V290M24.2 248.5V290M27.6 250.6V290M31 231.8V290M34.5 210.9V290M37.9 222V252.8M41.3 210.9V286M44.7 210.9V290M48.2 210.9V277.3M51.6 210.9V260.2M55 210.9V258.9M58.5 210.9V258.9M61.9 210.9V256M65.3 210.9V250.2M68.7 210.9V251M72.2 210.9V290M75.6 210.9V290M79 210.9V290M82.5 210.9V290M85.9 226.4V284.4M89.3 219.3V287.3M92.7 226.5V281.2M96.2 220.5V290M99.6 229.8V290M103 251.5V288M106.5 258V290M117.7 222.8V252.8M121.1 210.9V259.5M124.5 212.8V259.5M127.9 210.9V264.5M131.4 210.9V269.2M134.8 210.9V253.5M138.2 210.9V262M141.6 210.9V271.5M145.1 210.9V253.5M148.5 210.9V246.6M151.9 210.9V257M155.4 210.9V244.7M158.8 210.9V247M162.2 210.9V270.2M165.6 210.9V270.7M169.1 210.9V290M172.5 210.9V290M175.9 210.9V290M179.4 219.3V290M182.8 235.7V275.7M186.2 236.5V280.5M189.6 239V283.5M193.1 245.5V282.3M196.5 254.8V284.8M199.9 261V289M203.3 264.8V290M214.7 210.9V234.5M218.1 210.9V233.9M221.5 210.9V242.2M224.9 210.9V242.8M228.4 210.9V250.2M231.8 210.9V250.2M235.2 210.9V262.8M238.6 210.9V278.2M242.1 210.9V272.7M245.5 210.9V265.3M248.9 210.9V275.2M252.4 210.9V257.5M255.8 210.9V249M259.2 210.9V277.8M262.6 210.9V289.7M266.1 210.9V290M269.5 210.9V290M272.9 210.9V290M276.4 226V284.8M279.8 234V284.8M283.2 239.8V290M286.6 238.1V290M290.1 244V290M293.5 249V290M296.9 252.3V290M300.3 259.2V290" stroke="#d0d0d0" stroke-width="0.5"/>
<path d="M367.1 58V102.5M370.7 55V102.5M374.3 52V102.5M377.9 49V102.5M381.4 46V102.5M385 44.1V102.5M388.6 42.3V102.5M392.2 40.5V102.5M395.8 38.6V102.5M399.4 35.2V102.5M403 31.8V102.5M406.6 28.4V102.5M410.1 25V102.5M413.7 25.4V102.5M417.3 25.8V102.5M420.9 26.2V102.5M424.5 26.6V102.5M428.1 27.4V102.5M431.7 28.1V102.5M435.3 28.9V102.5M438.8 29.6V102.5M442.4 31.5V102.5M446 33.3V102.5M449.6 35.1V102.5M453.2 37V102.5M480.4 46V102.7M484 43V102.7M487.6 40V102.7M491.1 37V102.7M494.7 34V102.7M498.3 31.4V102.7M501.9 28.8V102.7M505.5 26.1V102.7M509.1 23.5V102.7M512.6 23.5V102.7M516.2 23.5V102.7M519.8 23.5V102.7M523.4 23.5V102.7M527 24.6V102.7M530.6 25.8V102.7M534.1 26.9V102.7M537.7 28V102.7M541.3 29.5V102.7M544.9 31V102.7M548.5 32.5V102.7M552.1 34V102.7M555.6 36.2V102.7M559.2 38.5V102.7M562.8 40.8V102.7M566.4 43V102.7M593.4 52V103.2M597 50.2V103.2M600.6 48.4V103.2M604.2 46.5V103.2M607.8 44.7V103.2M611.4 41.3V103.2M615 37.9V103.2M618.6 34.4V103.2M622.2 31V103.2M625.8 29.1V103.2M629.4 27.2V103.2M633 25.4V103.2M636.6 23.5V103.2M640.3 23.1V103.2M643.9 22.8V103.2M647.5 22.4V103.2M651.1 22V103.2M654.7 22V103.2M658.3 22V103.2M661.9 22V103.2M665.5 22V103.2M669.1 22.4V103.2M672.7 22.8V103.2M676.3 23.1V103.2M679.9 23V103.2M367.1 161V197.6M370.7 155.8V197.6M374.3 150.5V197.6M377.9 145.2V197.6M381.4 140V197.6M385 136.2V197.6M388.6 132.5V197.6M392.2 128.8V197.6M395.8 125V197.6M399.4 123.9V197.6M403 122.8V197.6M406.6 121.7V197.6M410.1 120.6V197.6M413.7 120.2V197.6M417.3 119.8V197.6M420.9 119.4V197.6M424.5 119V197.6M428.1 119.8V197.6M431.7 120.5V197.6M435.3 121.2V197.6M438.8 122V197.6M442.4 124.2V197.6M446 126.5V197.6M449.6 128.8V197.6M453.2 131V197.6M480.4 146V197.6M484 140V197.6M487.6 134V197.6M491.1 128V197.6M494.7 122V197.6M498.3 120.9V197.6M501.9 119.8V197.6M505.5 118.6V197.6M509.1 117.5V197.6M512.6 117.5V197.6M516.2 117.5V197.6M519.8 117.5V197.6M523.4 117.5V197.6M527 117.5V197.6M530.6 117.5V197.6M534.1 117.5V197.6M537.7 117.5V197.6M541.3 117.9V197.6M544.9 118.2V197.6M548.5 118.6V197.6M552.1 119V197.6M555.6 122V197.6M559.2 125V197.6M562.8 128V197.6M566.4 131V197.6M593.4 146V197M597 143V197M600.6 140V197M604.2 137V197M607.8 134V197M611.4 131V197M615 128V197M618.6 125V197M622.2 122V197M625.8 120.5V197M629.4 119V197M633 117.5V197M636.6 116V197M640.3 116V197M643.9 116V197M647.5 116V197M651.1 116V197M654.7 116V197M658.3 116V197M661.9 116V197M665.5 116V197M669.1 116V197M672.7 116V197M676.3 116V197M679.9 116V197M367.1 248V291M370.7 245.5V291M374.3 243V291M377.9 240.5V291M381.4 238V291M385 234V291M388.6 230V291M392.2 226V291M395.8 222V291M399.4 219.4V291M403 216.8V291M406.6 214.1V291M410.1 211.5V291M413.7 211.6V291M417.3 211.8V291M420.9 211.9V291M424.5 212V291M428.1 213V291M431.7 214V291M435.3 215V291M438.8 216V291M442.4 218.2V291M446 220.5V291M449.6 222.8V291M453.2 225V291M480.4 231V291.6M484 227.2V291.6M487.6 223.5V291.6M491.1 219.8V291.6M494.7 216V291.6M498.3 214.9V291.6M501.9 213.8V291.6M505.5 212.6V291.6M509.1 211.5V291.6M512.6 211.5V291.6M516.2 211.5V291.6M519.8 211.5V291.6M523.4 211.5V291.6M527 211.5V291.6M530.6 211.5V291.6M534.1 211.5V291.6M537.7 211.5V291.6M541.3 212.6V291.6M544.9 213.8V291.6M548.5 214.9V291.6M552.1 216V291.6M555.6 216V291.6M559.2 216V291.6M562.8 216V291.6M566.4 216V291.6M593.4 237V291.6M597 234.8V291.6M600.6 232.5V291.6M604.2 230.2V291.6M607.8 228V291.6M611.4 225.8V291.6M615 223.5V291.6M618.6 221.2V291.6M622.2 219V291.6M625.8 217.1V291.6M629.4 215.2V291.6M633 213.4V291.6M636.6 211.5V291.6M640.3 211.1V291.6M643.9 210.8V291.6M647.5 210.4V291.6M651.1 210V291.6M654.7 210V291.6M658.3 210V291.6M661.9 210V291.6M665.5 210V291.6M669.1 210V291.6M672.7 210V291.6M676.3 210V291.6M679.9 210V291.6" stroke="#bbb" stroke-width="0.5"/>
<path transform="scale(.5)" d="M0 0m66 149h2m2 0h2m-3 184h2m-3 1h2m-2 185h2m-3 0h2m-2 0h2m-2 3h2m-2 3h2m-2 1h2m4-388h2m0 2h2m-1 9h2m-3 179h2m6-177h2m-4 187h2m0 176h2m-5 1h2m0 3h2m-4 4h2m5-372h2m-2 366h2m-1 2h2m4-374h2m-2 2h2m-6 4h2m1 179h2m-1 5h2m1-193h2m-2 3h2m-3 1h2m-2 187h2m-1 2h2m-2 1h2m70-189h2m-2 5h2m-2 188h2m0 188h2m6-381h2m-2 5h2m-3 0h2m-4 188h2m-2 186h2m5-385h2m0 0h2m-3 2h2m-3 5h2m0 1h2m-3 182h2m-2 1h2m-3 0h2m0 1h2m-4 190h2m-1 0h2m-3 2h2m0 1h2m-1-385h2m3 6h2m-6 185h2m1 8h2m-6 187h2m47-382h2m43 181h2m48-188h2m27 14h2m3-8h2m-1 0h2m-4 379h2m-1 1h2m-1 2h2m-2 2h2m-1-383h2m106 371h2m8-376h2m2 187h2m26-187h2m-1 189h2m-2 189h2m5-375h2m-3 4h2m-2 182h2m0 5h2m-3 1h2m-2 191h2m6-2h2m4-376h2m-4 2h2m-1 1h2m-2 1h2m6-1h2m4-6h2m-7 1h2m2 382h2m1-382h2m-2 381h2" stroke="#9cc0cc"/>
<path transform="scale(.5)" d="M0 0m76 130h2m-5 0h2m-2 0h2m1 184h2m-5 3h2m-1 2h2m0 1h2m-5 1h2m-2 177h2m0 5h2m4 2h2m-3 2h2m6-8h2m-3 2h2m-1 6h2m3-184h2m0 181h2m-4 1h2m-5 1h2m141-381h2m-2 190h2m0-191h2m-1 1h2m-4 7h2m0 184h2m-2 185h2m-2 0h2m5-378h2m-5 4h2m0 372h2m5-377h2m-3 6h2m-2 373h2m-1 3h2m-4 7h2m5-198h2m-2 192h2m-2 1h2m0 1h2m5-380h2m-3 187h2m-2 5h2m-2 182h2m-4 3h2m6-381h2m-2 187h2m-1 8h2m-3 183h2m-1 1h2m3-379h2m-1 9h2m-3 183h2m-6 1h2m2 183h2m5-378h2m-2 2h2m-2 2h2m-6 5h2m-2 1h2m-3 179h2m3 9h2m-6 6h2m-2 174h2m2 2h2m-1-379h2m-1 3h2m-3 191h2m-1 195h2m4-387h2m-1 377h2m29-376h2m-1 186h2m1-186h2m2 8h2m-2 179h2m-6 185h2m-2 5h2m-3 2h2m3 1h2m0-382h2m-1 3h2m-4 183h2m-2 198h2m-2 3h2m136-382h2m1 185h2m-2 1h2m-2 2h2m-2 188h2m-3 2h2m-1 3h2m3-387h2m-3 8h2m0 0h2m-4 2h2m0 3h2m-3 175h2m0 4h2m-3 0h2m-4 7h2m-1 176h2m-2 0h2m-2 6h2m-3 0h2m5-371h2m0 0h2m-5 3h2m-1 175h2m-1 3h2m-2 188h2m4-378h2m-1 6h2m-4 5h2m-1 176h2m-1 14h2m-1 0h2m-3 174h2m-3 8h2m-1 0h2m0-382h2m1 7h2m-5 193h2m1 184h2m1-381h2m-2 197h2m-2 176h2m-2 3h2m4-379h2m9 381h2m-1-382h2m0 1h2m-3 0h2m-1 187h2m-1 1h2m-2 4h2m-3 6h2m-1 176h2m-5 7h2m4 0h2m2 1h2m-3 1h2m-1 1h2m-6 5h2" stroke="#9ccccc"/>
<path transform="scale(.5)" d="M0 0m100 108h2m0 187h2m-1 0h2m5-190h2m-1 191h2m3-192h2m-3 188h2m-3 190h2m6-374h2m-2 184h2m1 192h2m1-379h2m-2 190h2m0 186h2m-3 2h2m6-1h2m104-378h2m-2 377h2m-4 3h2m5-377h2m-1 186h2m-3 1h2m0 0h2m-6 190h2m1 1h2m2-381h2m-1 2h2m1 0h2m4 188h2m-2 0h2m-5 2h2m6-192h2m-2 0h2m-2 4h2m-6 374h2m2 1h2m0-1h2m15-190h2m2 1h2m3 0h2m-3 187h2m-3 1h2m8-377h2m-4 1h2m-1 1h2m-2 190h2m7-191h2m9 0h2m-4 1h2m-1 186h2m-2 189h2m0 0h2m-1 2h2m137-191h2m-2 1h2m-3 191h2m3-378h2m-1 2h2m-2 185h2m-2 1h2m0 189h2m9 0h2m13-1h2m3-186h2m-1 185h2m-7 1h2m6-374h2m-3 186h2m-3 190h2m5-192h2m-2 2h2m-2 2h2" stroke="#9cd8c0"/>
<path transform="scale(.5)" d="M0 0m75 485h2m-2 0h2m-1 3h2m-2 7h2m16-8h2m-1 4h2m-2 1h2m3-378h2m-1 373h2m-6 5h2m5-382h2m-2 0h2m-3 2h2m-1 190h2m-3 4h2m-2 181h2m-3 1h2m-2 3h2m-2 0h2m5-195h2m0 4h2m-2 187h2m-2 3h2m2-380h2m-2 382h2m7-193h2m-5 2h2m-2 186h2m14-374h2m-4 6h2m-2 179h2m-2 5h2m-1 2h2m0-191h2m93 191h2m-2 187h2m-2 2h2m0-374h2m2 177h2m-7 6h2m-2 0h2m-1 4h2m-2 186h2m-2 1h2m4-382h2m0 3h2m-3 181h2m-4 4h2m0 1h2m-1 1h2m-4 3h2m-3 183h2m0 2h2m-3 3h2m4-384h2m1 1h2m-3 4h2m-4 185h2m-2 8h2m0 189h2m2-386h2m1 190h2m-5 1h2m-1 186h2m1 7h2m-6 1h2m8-384h2m-4 1h2m-3 6h2m0 1h2m-1 1h2m-2 181h2m-2 188h2m-2 2h2m-2 2h2m3-191h2m-1 0h2m-2 2h2m-2 187h2m-3 1h2m4-377h2m-2 1h2m-5 2h2m2 186h2m-2 182h2m-2 6h2m-1-189h2m-2 1h2m3 183h2m-3 4h2m-5 2h2m-3 2h2m9-379h2m-6 1h2m-3 185h2m0 0h2m-2 3h2m-2 185h2m-3 6h2m3-386h2m-2 5h2m1 187h2m-3 193h2m3-387h2m-2 4h2m0 193h2m-4 1h2m1 180h2m3-372h2m-2 0h2m-3 190h2m19-1h2m-2 1h2m0-190h2m2 2h2m-7 1h2m3 183h2m0-184h2m-3 183h2m0 2h2m-2 4h2m-2 184h2m-2 4h2m-4 2h2m122-188h2m0-196h2m-1 190h2m-3 1h2m6-184h2m-1 0h2m-4 181h2m-2 6h2m-2 183h2m4-379h2m-2 6h2m0 4h2m-5 187h2m-1 183h2m-2 5h2m6-378h2m-2 180h2m-4 5h2m-2 191h2m7-378h2m-2 6h2m-4 176h2m0 2h2m-1 0h2m-5 2h2m-1 186h2m-2 3h2m-2 1h2m-3 5h2m7-379h2m-5 3h2m0 189h2m-1 180h2m-4 1h2m0 6h2m2-387h2m0 1h2m-4 10h2m0 177h2m-2 3h2m-3 2h2m-1 189h2m-1-380h2m-1 196h2m-3 0h2m6-192h2m1 0h2m-3 2h2m-5 187h2m4-3h2m6-187h2m-3 3h2m-1 192h2m-2 184h2m-2 1h2" stroke="#9cd8cc"/>
<path transform="scale(.5)" d="M0 0m40 204h2m-1 185h2m-3 1h2m-1 7h2m-4 182h2m0 0h2m-3 0h2m-2 0h2m-2 5h2m0-381h2m-2 2h2m3 0h2m-7 185h2m-2 1h2m-2 1h2m-2 194h2m4-192h2m-1 188h2m5-380h2m-3 3h2m-1 373h2m85 2h2m-3 1h2m4-376h2m-1 4h2m-7 182h2m3 2h2m-2 5h2m-6 180h2m1 1h2m-2 2h2m0-378h2m0 1h2m-2 4h2m-2 182h2m-2 186h2m1 3h2m0-378h2m0 3h2m-5 4h2m56-4h2m-3 5h2m-2 183h2m-3 190h2m-1 3h2m122-191h2m4-185h2m1 0h2m-4 181h2m-4 0h2m1 3h2m-4 5h2m-2 179h2m-1 4h2m-2 0h2m4-380h2m-3 6h2m-2 3h2m2 1h2m-6 178h2m-1 7h2m-3 1h2m-1 1h2m-1 182h2m47-186h2m2-192h2m-1 3h2m-2 188h2m0 190h2m-5 2h2m131-195h2m26-1h2m-3 3h2m7-192h2m-3 4h2m-4 2h2m1 2h2m3-7h2m1 0h2m-2 10h2m-4 178h2m-2 2h2m-3 3h2m0 1h2m-4 1h2m1 183h2m-2 1h2m-4 5h2m4-383h2m-2 1h2m-2 0h2m-1 0h2m-3 3h2m0 1h2m-2 183h2m-3 0h2m-1 1h2m-5 1h2m0 2h2m-4 183h2m-1 0h2m-3 1h2m-2 2h2m-1 4h2m6-378h2m-3 3h2m-2 184h2m-6 1h2m1 0h2m0 2h2m-3 2h2m-3 181h2m0 0h2m-4 2h2m-1 0h2m-2 3h2m5-380h2m-7 1h2m-2 1h2m2 3h2m-6 1h2m-2 0h2m3 0h2m-7 182h2m-2 6h2m3 179h2m-2 3h2m-7 6h2m5-382h2m-2 1h2m-3 185h2m-1 4h2m-2 4h2m-1 179h2m-4 0h2m-2 2h2m-1 6h2" stroke="#a890b4"/>
<path transform="scale(.5)" d="M0 0m40 199h2m-3 1h2m-2 0h2m11 187h2m5 0h2m1-188h2m82 376h2m9-188h2m-1 1h2m-1 187h2m50-188h2m129 1h2m-2 0h2m6 0h2m0 186h2m47-187h2m5-188h2m127 188h2m31-188h2m-1 189h2m7-189h2m17 1h2m-1 188h2" stroke="#a890c0"/>
<path transform="scale(.5)" d="M0 0m45 195h2m-1 180h2m-1 189h2m-2 4h2m0-380h2m-2 4h2m-3 0h2m-1 186h2m2 1h2m-2 3h2m-2 4h2m-3 178h2m2-376h2m-4 3h2m-1 3h2m-2 186h2m5-192h2m-1 9h2m-3 187h2m-4 188h2m-1 0h2m79-383h2m-2 8h2m-1 189h2m-2 180h2m-3 3h2m1-380h2m-2 5h2m-2 182h2m-3 8h2m3 0h2m-2 1h2m-3 189h2m2-379h2m-4 189h2m3 179h2m-5 10h2m-3 0h2m5-380h2m-2 182h2m-3 0h2m-3 2h2m0 7h2m-3 181h2m-2 5h2m4-383h2m-2 5h2m1 371h2m-3 7h2m36-6h2m0 4h2m-3 4h2m6-379h2m-4 0h2m2 187h2m-2 5h2m-2 179h2m-4 0h2m-3 2h2m-3 5h2m123-7h2m-1-373h2m1 2h2m-4 4h2m-1 180h2m-4 2h2m0 7h2m-4 176h2m-1 1h2m-1 4h2m5-374h2m-2 1h2m-4 1h2m-3 0h2m2 377h2m-5 1h2m-2 0h2m8-383h2m-5 195h2m1 182h2m-6 3h2m0 0h2m-3 3h2m32-383h2m0 185h2m-2 189h2m5-374h2m-3 190h2m-1 190h2m5-383h2m-4 7h2m0 1h2m-3 2h2m-4 1h2m0 181h2m-2 4h2m-1 180h2m-4 0h2m-1 3h2m-3 3h2m5-378h2m0 1h2m-5 184h2m-2 0h2m0 1h2m-4 1h2m-2 6h2m-1 186h2m-1 0h2m-1 1h2m-3 1h2m0-376h2m126 373h2m13-192h2m4 1h2m-6 2h2m8 1h2m0-194h2m0 5h2m-3 187h2m-1 2h2m-2 182h2m-5 0h2m5-365h2m-2 178h2m-2 9h2m1 0h2m-2 178h2m-4 1h2m-2 5h2m7-373h2m-4 0h2m0 188h2m-3 185h2m-4 2h2m-3 1h2m5 0h2m12-187h2m0 1h2" stroke="#a89cc0"/>
<path transform="scale(.5)" d="M0 0m47 558h2m-1-374h2m3 0h2m-6 187h2m-2 3h2m-2 184h2m5-184h2m-4 185h2m4-377h2m81 187h2m-4 5h2m2-191h2m8 379h2m1-376h2m-2 0h2m5 184h2m-5 2h2m-2 186h2m0 3h2m34-380h2m-4 376h2m0 5h2m3-381h2m-1 1h2m-2 187h2m-4 3h2m-1 185h2m-1 5h2m6-380h2m-2 3h2m-6 185h2m0 1h2m123 0h2m-1 2h2m-3 187h2m11-375h2m6 185h2m-1 1h2m12-1h2m2 0h2m-2 2h2m0-1h2m4 186h2m6-184h2m4-189h2m-2 186h2m-1 4h2m-5 184h2m1 1h2m134-186h2m2-4h2m3 0h2m-7 1h2m-2 1h2m2 190h2m0 1h2m9-189h2m-6 1h2m8-193h2m3 2h2m-4 187h2m5 1h2m-1 2h2m-3 184h2" stroke="#a8a8c0"/>
<path transform="scale(.5)" d="M0 0m46 556h2m0-188h2m9 0h2m-2 180h2m-5 6h2m-4 0h2m-1 1h2m5-376h2m-4 2h2m-1 187h2m-1 0h2m-1 0h2m-5 179h2m-1 3h2m-3 4h2m7-381h2m11 2h2m3 184h2m0 1h2m-1 0h2m50-180h2m19-9h2m-2 0h2m-2 1h2m-2 4h2m-2 184h2m-1 2h2m-1 2h2m-2 191h2m2-4h2m6-3h2m11-184h2m4-5h2m-1 9h2m4-196h2m-6 2h2m2 195h2m-5 186h2m1 1h2m2-377h2m-5 184h2m1 1h2m-4 3h2m131-191h2m-1 3h2m-5 374h2m21-192h2m-2 3h2m-5 5h2m1 183h2m11-186h2m0 2h2m2-197h2m3 2h2m-6 6h2m2 183h2m-6 191h2m5-377h2m-3 3h2m0 181h2m-5 187h2m-1 3h2m0 4h2m3-377h2m-2 0h2m-4 1h2m2 184h2m-3 0h2m-3 1h2m-3 1h2m-3 186h2m-1 1h2m-1 3h2m-2 1h2m-1 1h2m135-385h2m0 1h2m-5 187h2m-1 5h2m1 184h2m4 4h2m-5 0h2m-1 3h2m4-193h2m-1 3h2m-3 3h2m-1 184h2m1-193h2m-3 2h2m2 5h2m-6 183h2m3 3h2m0-381h2m-2 189h2m-2 3h2m2 193h2m-1-384h2m3 8h2m-7 186h2m3 184h2m-7 4h2m0 1h2m3-382h2m-1 378h2m-1 3h2m5 0h2m-2 0h2" stroke="#a8a8cc"/>
<path transform="scale(.5)" d="M0 0m41 167h2m23 0h2m2 1h2m-5 179h2m-2 4h2m-1 6h2m-2 1h2m11-202h2m-2 2h2m-2 7h2m-2 185h2m0 8h2m3-200h2m-3 2h2m0 188h2m-7 2h2m4-189h2m3 7h2m-7 191h2m72 0h2m-1 186h2m2-385h2m-2 2h2m0 4h2m-4 179h2m2 3h2m-3 7h2m-4 1h2m-2 177h2m-2 3h2m-2 8h2m4-384h2m0 3h2m-1 3h2m-4 180h2m-3 4h2m-1 5h2m-2 1h2m0 185h2m-3 1h2m3-193h2m-5 184h2m2 5h2m4-374h2m-2 3h2m-2 3h2m-1 188h2m-2 178h2m-4 2h2m0 0h2m-4 0h2m-2 1h2m2-383h2m2 3h2m-3 3h2m-5 4h2m2 180h2m-2 6h2m-7 2h2m3 0h2m-7 183h2m2 7h2m1-378h2m-3 4h2m-1 177h2m-3 192h2m-1 2h2m3-372h2m-2 1h2m4 374h2m123-374h2m22-7h2m-4 3h2m-3 4h2m-1 188h2m0 176h2m-4 3h2m-1 2h2m-4 1h2m1 5h2m-1-388h2m-2 6h2m1 1h2m0 187h2m-3 1h2m-3 1h2m0 4h2m-2 180h2m-2 3h2m3-384h2m-1 7h2m-4 3h2m-1 184h2m-6 5h2m2 182h2m-2 7h2m1-387h2m-2 193h2m2 1h2m-6 3h2m-3 183h2m2 3h2m-5 4h2m3-386h2m-1 2h2m-3 6h2m-1 4h2m-2 179h2m-2 1h2m-1 184h2m-4 0h2m0 4h2m-4 6h2m5-381h2m0 6h2m-5 180h2m1 6h2m-2 1h2m-2 183h2m4-369h2m-4 0h2m5-4h2m-2 186h2m-3 189h2m7-377h2m-1 4h2m-5 2h2m-1 186h2m-1 193h2m114-390h2m2 1h2m-3 186h2m-1 1h2m3-181h2m-3 1h2m1 179h2m-2 7h2m-4 5h2m-3 175h2m-1 0h2m0 4h2m-3 1h2m4 5h2m4-380h2m-6 3h2m2 373h2m-6 4h2m5-387h2m-2 4h2m-3 6h2m2 366h2m-6 10h2m9-384h2m-6 5h2m2 193h2m-7 176h2m3 4h2m0-377h2m-2 0h2m-3 1h2m-2 9h2m-2 187h2m-2 1h2m0 182h2m4 5h2m16-375h2m0 373h2m3-375h2m-1 3h2m-3 371h2m7-372h2m-1 378h2" stroke="#a8b4cc"/>
<path transform="scale(.5)" d="M0 0m39 148h2m-1 4h2m-3 7h2m-3 180h2m-1 189h2m-2 2h2m-1 4h2m3-387h2m0 11h2m-3 371h2m5-374h2m-5 176h2m1 8h2m-6 2h2m-3 1h2m2 188h2m1-383h2m-1 188h2m-2 191h2m5-380h2m2 8h2m6 363h2m4-365h2m-3 188h2m-2 2h2m5-189h2m0 191h2m33 176h2m45-367h2m-4 186h2m-1 190h2m5-189h2m-3 191h2m12-190h2m-1 1h2m18-187h2m1 1h2m-6 188h2m2 4h2m-4 173h2m-3 10h2m-3 3h2m31-389h2m5 0h2m49 188h2m14 185h2m13-187h2m30-179h2m-2 191h2m4-191h2m-6 2h2m2 374h2m-2 1h2m0-376h2m17 0h2m-3 179h2m2 200h2m2-383h2m1 185h2m-6 15h2m-1 173h2m-1 4h2m-1 12h2m5-391h2m-5 188h2m1 14h2m-5 185h2m1 3h2m48-21h2m11 6h2m11-379h2m37 11h2m0 1h2m-2 185h2m5-189h2m-3 4h2m-2 185h2m8-186h2m10-2h2m-2 2h2m-1 377h2m4 0h2m6-387h2m-3 197h2m6-197h2m-2 0h2m-4 11h2m-1 176h2m-1 15h2m-5 0h2m4-197h2m1 3h2m-2 1h2m-1 9h2m-3 171h2m-1 2h2m-5 4h2m1 5h2m-5 180h2m-3 8h2m5-387h2m1 4h2m-2 12h2m-5 171h2m1 1h2m-5 5h2m1 185h2m2-372h2m0 0h2m-2 374h2m-2 7h2m-3 0h2m0-198h2m-2 2h2m2 1h2m-1 189h2m-2 4h2m0-378h2m-2 6h2m-1 0h2" stroke="#a8c0cc"/>
<path transform="scale(.5)" d="M0 0m125 133h2m-6 189h2" stroke="#a8c0d8"/>
<path transform="scale(.5)" d="M0 0m39 322h2m0 1h2m-4 5h2m0 179h2m3-370h2m-1 369h2m-2 12h2m4-382h2m-6 5h2m1 2h2m-6 171h2m3 200h2m-6 3h2m8-386h2m-7 193h2m-1 5h2m2 177h2m-6 1h2m3-376h2m1 0h2m-3 194h2m-3 5h2m0 179h2m138-369h2m-2 365h2m0-375h2m-1 196h2m-1 0h2m-5 185h2m5-378h2m-2 9h2m1 180h2m-5 8h2m28 156h2m4-182h2m121 11h2m5-187h2m-2 5h2m-7 184h2m4-189h2m-2 187h2m-1 1h2m2 192h2m-1-369h2m0 177h2m-2 0h2m-2 190h2m-3 8h2m-2 0h2m5-379h2m-3 3h2m-1 176h2m-4 15h2m0 180h2m0 1h2m-5 5h2m6-380h2m-3 8h2m0 185h2m2-1h2m157-197h2m-7 193h2m-1 1h2m-3 180h2m0 2h2m4-380h2m-1 190h2m-3 6h2m-2 3h2m-2 180h2m-4 1h2m7-375h2m-3 188h2m-2 185h2m-1 5h2m-4 5h2m6-9h2m-4 11h2m5-195h2m0 190h2m-2 7h2m5-194h2m-4 4h2m5 0h2m-2 2h2" stroke="#a8cccc"/>
<path transform="scale(.5)" d="M0 0m108 126h2m19 189h2" stroke="#a8ccd8"/>
<path transform="scale(.5)" d="M0 0m102 290h2m11-187h2m-1 185h2m-2 1h2m-3 1h2m4-190h2m0 192h2m-4 0h2m1 186h2m10-189h2m-2 189h2m-4 0h2m2-378h2m-2 377h2m-2 0h2m102-374h2m5 186h2m6-187h2m-5 1h2m-3 185h2m15-187h2m19 0h2m-4 1h2m-2 187h2m0 1h2m-4 1h2m4-188h2m-2 188h2m1 188h2m3-376h2m-4 187h2m2 2h2m-4 186h2m-1 1h2m9-377h2m0 189h2m-2 187h2m4-188h2m-4 0h2m124 187h2m-2 2h2m6-378h2m-2 1h2m-2 187h2m4-189h2m-5 378h2m1 1h2m1-191h2m37-185h2m-1-1h2m3 188h2m-6 190h2m4-377h2m-3 375h2m-1 2h2" stroke="#a8d8c0"/>
<path transform="scale(.5)" d="M0 0m59 301h2m-1 0h2m-2 187h2m-1 6h2m72-398h2m27 384h2m0 8h2m3-378h2m-4 3h2m-1 3h2m-2 184h2m-3 5h2m-2 180h2m5-378h2m-1 191h2m-3 190h2m6-189h2m-1 190h2m-3 3h2m0-387h2m2 190h2m-6 5h2m2 192h2m1-388h2m2 0h2m-3 382h2m-5 3h2m4-376h2m2 4h2m-2 5h2m-5 369h2m-4 2h2m-2 1h2m5-188h2m-1 0h2m-3 192h2m-3 4h2m36-209h2m63-197h2m48 14h2m-1 182h2m-1 1h2m-3 8h2m-2 180h2m-4 7h2m7-382h2m-2 12h2m-3 175h2m-3 2h2m-2 1h2m0 14h2m-3 175h2m-4 5h2m1 1h2m-1-373h2m3 2h2m-4 189h2m-1 0h2m-3 177h2m0 8h2m-6 6h2m4-393h2m-1 5h2m-3 6h2m2 2h2m-2 188h2m-7 172h2m0 11h2m7-375h2m-2 191h2m-7 174h2m0 5h2m-2 1h2m-3 2h2m6-374h2m-5 9h2m5 1h2m-1 182h2m151-15h2m-4 1h2m5-188h2m-1 379h2m-3 0h2m1-187h2m-3 7h2m3 8h2m-6 184h2m5-391h2m-4 14h2m0 190h2m-2 176h2m-4 10h2m4-374h2m0 368h2m-2 3h2m3 8h2m28-191h2" stroke="#a8d8cc"/>
<path transform="scale(.5)" d="M0 0m103 94h2m-2 189h2m-3 185h2m6-374h2m-1 4h2m-3 184h2m-3 192h2m-3 2h2m6-383h2m-3 381h2m-1 2h2m6-380h2m-3 0h2m-4 379h2m0 1h2m6-385h2m-3 189h2m-1 3h2m-5 190h2m-1 3h2m4-381h2m-2 186h2m0 2h2m-4 191h2m1-381h2m24 7h2m-1 187h2m-2 1h2m2-191h2m-2 380h2m8-377h2m-2 376h2m-2 1h2m1-378h2m12 189h2m55-1h2m1 0h2m31 187h2m-3 1h2m-2 1h2m1 0h2m5-377h2m-4 0h2m-3 181h2m-2 1h2m-1 190h2m7-187h2m-3 1h2m-2 185h2m-5 1h2m8 1h2m2-190h2m-2 2h2m-1 1h2m-3 190h2m33-190h2m11-186h2m22 190h2m38 179h2m6-375h2m5-1h2m-3 379h2m-1 3h2m0-5h2m9-189h2m-7 4h2m2 184h2m1-375h2m2 4h2m-5 1h2m-2 186h2m-3 187h2m-3 3h2m6-380h2m-4 2h2m-2 189h2m-2 184h2m0 4h2m-1 1h2m35-375h2m-1 374h2m-3 2h2m0-194h2m0 3h2m-4 192h2m4-382h2m-2 0h2m-1 4h2m-2 187h2m-3 184h2m27-185h2m-1 2h2m15-188h2m-6 1h2m4 0h2" stroke="#a8e4c0"/>
<path transform="scale(.5)" d="M0 0m162 102h2m12-1h2m1 190h2m3 187h2m0 1h2m164-1h2m3-376h2m21 188h2m163 187h2m3-375h2" stroke="#a8e4cc"/>
<path transform="scale(.5)" d="M0 0m39 201h2m-2 1h2m0 1h2m-2 1h2m-5 1h2m0 0h2m-2 1h2m-2 0h2m-1 1h2m-4 1h2m-3 2h2m1 181h2m-2 2h2m-2 0h2m-3 1h2m-1 0h2m-2 2h2m-3 0h2m-3 183h2m0 1h2m-2 0h2m-2 1h2m-4 0h2m-2 1h2m-1 0h2m-2 2h2m-3 0h2m-2 0h2m5-385h2m-3 3h2m-5 2h2m2 0h2m-3 2h2m-1 0h2m-3 181h2m-5 3h2m-1 3h2m-2 0h2m-3 0h2m3 2h2m-7 1h2m2 175h2m-2 7h2m-3 0h2m0 1h2m-6 2h2m0 0h2m-1 1h2m-6 1h2m2 0h2m5-386h2m-7 1h2m2 4h2m-6 1h2m-1 3h2m-2 4h2m-2 174h2m-3 1h2m-2 2h2m-1 1h2m-3 0h2m-2 7h2m-1 2h2m2 178h2m-5 3h2m0 2h2m-2 1h2m-5 1h2m-2 1h2m1 0h2m-5 1h2m8-389h2m-7 2h2m0 3h2m-4 1h2m0 1h2m-4 7h2m-2 0h2m0 175h2m-4 0h2m0 2h2m1 1h2m-5 3h2m-3 0h2m-2 2h2m-3 0h2m-1 1h2m-2 2h2m0 181h2m0 1h2m-5 2h2m-2 0h2m-2 1h2m-2 0h2m1 0h2m-7 4h2m7-383h2m-2 4h2m-3 0h2m-1 2h2m-4 1h2m-3 0h2m-2 176h2m1 0h2m-2 4h2m-4 1h2m0 0h2m-2 1h2m-3 1h2m-1 5h2m-2 175h2m-2 0h2m-2 0h2m-4 2h2m-2 2h2m-3 1h2m-1 5h2m4-385h2m-1 0h2m-1 8h2m-4 1h2m-1 1h2m3-3h2m5-6h2m-2 3h2m-2 4h2m-1 185h2m-1 0h2m-4 1h2m1 3h2m-2 0h2m-1-195h2m3 1h2m-4 1h2m-1 2h2m-3 4h2m-2 178h2m-2 7h2m-3 1h2m-1 1h2m-5 1h2m-2 3h2m4-13h2m-2 2h2m1 0h2m-5 11h2m10-192h2m-1 181h2m12 187h2m13 0h2m9-370h2m-2 1h2m-3 0h2m-2 3h2m-2 177h2m-1 1h2m-3 2h2m-2 4h2m-2 2h2m-2 1h2m-2 1h2m-1 181h2m-2 0h2m0-381h2m-3 3h2m2 1h2m-1 2h2m-2 1h2m-3 6h2m-2 1h2m-1 0h2m-2 176h2m-3 6h2m-5 3h2m1 2h2m-5 1h2m-1 174h2m-3 2h2m2 0h2m-6 6h2m2 0h2m-6 2h2m1 0h2m-6 1h2m-1 0h2m3-385h2m3 2h2m-7 1h2m3 1h2m-5 1h2m-2 0h2m-2 0h2m1 2h2m-2 1h2m-7 1h2m-1 182h2m-1 2h2m-2 0h2m-4 1h2m0 1h2m-2 3h2m-4 0h2m-1 0h2m-2 1h2m0 178h2m-3 2h2m1 1h2m-5 1h2m-4 0h2m-1 1h2m-3 1h2m-1 1h2m-3 0h2m-1 2h2m6-387h2m-3 4h2m-2 0h2m-3 1h2m-2 2h2m0 2h2m-5 3h2m-2 176h2m-1 1h2m0 3h2m-5 3h2m0 1h2m-2 0h2m-4 1h2m-2 2h2m0 1h2m-4 0h2m1 175h2m-5 2h2m-2 3h2m-2 2h2m-2 0h2m-2 1h2m0 0h2m-2 3h2m-1 1h2m1-387h2m1 3h2m-2 0h2m-5 1h2m-2 186h2m-1 1h2m0 2h2m-1 3h2m-3 2h2m-2 181h2m-3 0h2m-3 3h2m0 1h2m-3 1h2m-4 5h2m5-386h2m2 4h2m-4 185h2m-2 2h2m-2 0h2m-2 1h2m-4 3h2m-1 178h2m6-375h2m-4 5h2m0 1h2m-2 1h2m-1 0h2m-4 179h2m-2 4h2m0 2h2m-2 3h2m-3 180h2m-4 6h2m-1 5h2m6-383h2m-4 190h2m-5 1h2m1 183h2m-1 4h2m-1 1h2m-3 2h2m-6 3h2m9-389h2m-2 193h2m-3 2h2m-1 181h2m-3 1h2m-2 9h2m-2 2h2m1-386h2m2 1h2m-2 5h2m-7 1h2m-2 184h2m-1 2h2m-1 3h2m0 0h2m-6 179h2m3 8h2m-2 3h2m-1-384h2m3 3h2m-5 1h2m-2 188h2m-3 0h2m-1 1h2m-4 0h2m0 1h2m-4 2h2m3 179h2m-7 1h2m-2 1h2m-2 0h2m3 1h2m-7 1h2m3 0h2m-1-381h2m0 5h2m-2 2h2m-2 0h2m-2 1h2m-1 180h2m-2 5h2m-5 1h2m-2 1h2m1 1h2m-3 3h2m-2 176h2m-1 1h2m-3 5h2m-3 4h2m-1 2h2m4-382h2m-4 1h2m2 0h2m-6 1h2m-1 1h2m-1 3h2m-4 179h2m-2 0h2m-1 2h2m-2 1h2m1 3h2m-5 0h2m0 179h2m-2 1h2m-2 1h2m-3 0h2m-1 1h2m-2 1h2m-2 1h2m-2 0h2m-2 1h2m-5 0h2m20-380h2m21 2h2m-2 195h2m9-9h2m-1 187h2m6-175h2m12-200h2m-3 373h2m35-373h2m8 0h2m-2 4h2m-2 5h2m-2 369h2m-1-379h2m0 0h2m-1 3h2m-4 5h2m-3 1h2m-2 178h2m-2 1h2m0 1h2m-4 1h2m0 4h2m-4 0h2m-2 1h2m0 0h2m-3 1h2m-1 0h2m-1 181h2m-3 1h2m-3 3h2m0 6h2m4-387h2m-4 2h2m1 2h2m-2 1h2m-6 0h2m-2 1h2m1 0h2m-5 1h2m0 1h2m-4 2h2m-1 0h2m1 1h2m-6 181h2m0 0h2m-1 0h2m-2 1h2m-3 1h2m-1 0h2m-5 1h2m-2 1h2m-1 1h2m-3 1h2m2 3h2m-5 0h2m-2 179h2m0 0h2m-2 1h2m-5 1h2m0 1h2m0 0h2m-4 1h2m-2 1h2m-1 0h2m-1 2h2m-6 0h2m0 0h2m3-387h2m-2 5h2m0 1h2m-1 0h2m-5 1h2m-1 1h2m-1 1h2m-4 1h2m1 179h2m-4 1h2m-2 4h2m0 0h2m-4 2h2m0 0h2m-3 1h2m-2 0h2m-3 1h2m-1 0h2m-4 3h2m-2 0h2m1 176h2m-4 0h2m-3 0h2m1 1h2m-3 3h2m-4 2h2m-1 1h2m-3 0h2m-1 1h2m-1 1h2m-1 2h2m3-386h2m0 2h2m-5 6h2m-1 178h2m-3 5h2m-1 3h2m0 1h2m-3 3h2m-4 1h2m-1 175h2m-2 0h2m0 2h2m-6 0h2m0 0h2m0 2h2m-3 2h2m0-376h2m2 3h2m-4 178h2m-1 1h2m-2 3h2m-2 3h2m0 0h2m-5 180h2m1 2h2m-3 4h2m-3 1h2m-1 3h2m-2 0h2m4-384h2m-3 11h2m0 2h2m-6 184h2m1 1h2m-6 1h2m2 185h2m-3 4h2m2-389h2m-3 8h2m3 0h2m-7 1h2m-1 180h2m1 2h2m-1 1h2m-6 1h2m2 3h2m-2 0h2m-7 2h2m3 182h2m-6 3h2m8-380h2m-7 5h2m0 179h2m-4 5h2m0 3h2m-4 5h2m3 0h2m-5 175h2m-4 3h2m-2 0h2m-2 3h2m-2 0h2m-2 0h2m0 3h2m4-385h2m-1 0h2m-5 5h2m1 1h2m-2 190h2m-5 1h2m-2 1h2m-2 1h2m0 178h2m-2 1h2m-4 0h2m-2 1h2m0 3h2m-1 2h2m4-380h2m-1 1h2m-6 2h2m2 1h2m-4 4h2m-1 1h2m-3 177h2m0 0h2m-5 1h2m1 1h2m-3 1h2m-5 0h2m-1 2h2m1 3h2m-2 181h2m-3 1h2m-3 0h2m-4 0h2m-1 3h2m0 0h2m-3 2h2m0 1h2m1-386h2m1 2h2m-5 0h2m-2 1h2m0 7h2m-4 0h2m0 2h2m-2 3h2m-4 175h2m0 0h2m-1 2h2m-2 2h2m-2 0h2m-4 1h2m-3 0h2m-2 3h2m-2 178h2m0 1h2m0 0h2m-5 4h2m1 3h2m-2 2h2m-4 1h2m0 1h2m-3 0h2m-3 1h2m6-389h2m-4 2h2m-3 1h2m-3 0h2m-1 2h2m-2 0h2m-2 1h2m1 1h2m-4 0h2m-3 1h2m-1 1h2m-2 5h2m-3 177h2m0 0h2m-3 3h2m-3 1h2m1 1h2m-4 0h2m-1 1h2m-4 1h2m-1 0h2m-3 1h2m-1 2h2m-3 177h2m0 2h2m-4 2h2m-2 0h2m-2 1h2m1 1h2m-3 1h2m-1 1h2m-4 0h2m-1 0h2m-3 1h2m1-11h2m20-183h2m-2 185h2m10-369h2m-2 184h2m3 183h2m28-368h2m10-3h2m-1 189h2m-4 183h2m6-366h2m-3 180h2m-1 192h2m14-378h2m-4 195h2m-2 187h2m12-378h2m-4 370h2m7-378h2m-4 3h2m-2 5h2m1 185h2m-2 0h2m-4 4h2m-3 2h2m2 180h2m-5 1h2m-1 4h2m-3 3h2m-1 1h2m4-389h2m-3 1h2m1 2h2m-3 0h2m-3 1h2m-3 187h2m-1 0h2m-3 2h2m1 0h2m-3 3h2m-2 0h2m-4 1h2m-2 4h2m-2 2h2m0 174h2m-1 0h2m-3 4h2m-4 1h2m-1 0h2m-1 0h2m-3 3h2m1-380h2m-2 1h2m-2 8h2m3 175h2m-2 6h2m-2 5h2m-7 1h2m1 176h2m-2 3h2m-2 4h2m6-189h2m-3 4h2m-2 177h2m-2 1h2m-1 1h2m4-367h2m-2 178h2m-6 1h2m-2 2h2m-2 0h2m-1 7h2m1 0h2m-6 1h2m-3 3h2m4-198h2m-2 3h2m0 2h2m-2 3h2m-4 180h2m-2 1h2m-2 4h2m3 0h2m-7 1h2m-1 2h2m-3 175h2m-1 4h2m0 0h2m-5 5h2m6-383h2m-3 1h2m0 6h2m-5 5h2m-2 175h2m0 1h2m-1 1h2m-3 4h2m-4 0h2m1 1h2m-4 0h2m-1 2h2m-4 1h2m1 2h2m-2 2h2m-2 174h2m-4 0h2m-3 1h2m0 1h2m-1 0h2m-3 2h2m-4 5h2m5-383h2m1 0h2m-5 0h2m0 2h2m-4 3h2m-2 1h2m1 1h2m-5 1h2m-2 1h2m1 177h2m-6 2h2m1 0h2m-3 3h2m-3 2h2m-1 1h2m-4 1h2m1 0h2m-1 1h2m-5 182h2m-1 0h2m0 1h2m-4 3h2m-2 5h2m-2 0h2m6-387h2m-4 0h2m-2 2h2m1 1h2m-5 2h2m-3 1h2m-1 2h2m-2 0h2m0 1h2m-1 1h2m-5 1h2m0 0h2m-4 176h2m1 1h2m-6 0h2m0 4h2m-2 2h2m-1 1h2m-3 1h2m-1 0h2m-5 0h2m-2 2h2m-2 1h2m0 175h2m-4 2h2m1 0h2m-1 1h2m-4 2h2m0 0h2m-5 0h2m1 1h2m-3 1h2m-4 1h2m1 3h2m2-380h2m0 0h2m-5 1h2m-1 2h2m-3 0h2m-1 1h2m-3 0h2m-1 2h2m0 0h2m-3 1h2m-2 179h2m-2 1h2m-1 1h2m-3 2h2m-2 0h2m-1 0h2m-3 1h2m-2 2h2m-2 1h2m-3 1h2m-2 178h2m-2 1h2m0 1h2m-4 0h2m0 1h2m-3 2h2m-1 0h2m-4 0h2m0 2h2m-4 0h2m1-379h2m3 1h2m-7 1h2m1 0h2m-1 0h2m-3 1h2m-1 0h2m-3 1h2m-1 0h2m-3 1h2m-2 183h2m-5 1h2m-2 0h2m3 0h2m-2 1h2m-2 1h2m-2 1h2m-3 1h2m-2 0h2m-2 1h2m-6 175h2m-2 5h2m1 1h2m0 0h2m-4 0h2m-2 2h2m-1 3h2m-3 0h2m6-385h2m-3 4h2m-1 1h2m-2 0h2m-6 1h2m1 0h2m-2 0h2m-5 2h2m-3 0h2m-2 0h2m3 1h2m-3 2h2m-2 181h2m-6 2h2m-1 0h2m2 2h2m-6 1h2m-3 0h2m-2 183h2m-1 1h2m-3 0h2m2 0h2m-6 2h2m2 0h2m-1 0h2m-7 1h2m-2 3h2m4-383h2m-2 1h2m0 2h2m-2 3h2m-3 177h2m-1 1h2m-3 1h2m-3 1h2m-1 1h2m-2 1h2m-2 1h2m-2 0h2m-2 1h2m-1 2h2m-3 183h2m-3 1h2m-2 1h2m0 0h2m-4 0h2m-1 1h2m-2 2h2m-1 0h2m-3 1h2" stroke="#b49cc0"/>
<path transform="scale(.5)" d="M0 0m45 189h2m0 4h2m-2 1h2m4 183h2m-6 3h2m-2 2h2m2 0h2m-3 188h2m0-381h2m-2 3h2m3 189h2m-1-190h2m-2 0h2m-1 1h2m-1 1h2m-4 189h2m-2 183h2m4-373h2m-1 2h2m14-5h2m-5 189h2m5-187h2m-1 187h2m-3 4h2m1-192h2m-2 191h2m38-190h2m3 377h2m5-375h2m-3 188h2m-1 186h2m1-375h2m-1 1h2m-4 1h2m-1 376h2m8-191h2m0-185h2m-3 188h2m0 183h2m-4 3h2m8-376h2m-6 3h2m2 371h2m-5 1h2m1 3h2m2-191h2m0 189h2m2-374h2m-1 183h2m-2 2h2m0 1h2m1 185h2m0 2h2m-4 1h2m1 1h2m3-379h2m-1 5h2m-4 187h2m6-193h2m-6 4h2m2 2h2m-5 182h2m-3 188h2m-3 5h2m4-377h2m-1 186h2m2 3h2m-7 184h2m3 0h2m1-372h2m-2 1h2m-4 0h2m0 187h2m-4 0h2m6-191h2m0 1h2m-3 0h2m-5 1h2m1 186h2m-2 1h2m-1 1h2m-6 1h2m1 0h2m-2 183h2m-1 3h2m34-1h2m10-375h2m4 1h2m-6 373h2m16-375h2m19 378h2m6-191h2m9-1h2m6 193h2m4-379h2m-2 190h2m-2 185h2m0 1h2m-4 0h2m1 2h2m-5 1h2m11-379h2m-3 2h2m1 1h2m-1 0h2m-2 371h2m6-372h2m-2 1h2m1 189h2m-5 182h2m8-188h2m-6 1h2m2 1h2m-6 3h2m3 188h2m0-190h2m4-189h2m-3 4h2m0 185h2m-4 188h2m-1 0h2m3-379h2m-2 1h2m-1 2h2m-1 186h2m-1 190h2m-4 1h2m4-379h2m-2 2h2m-1 2h2m-1 183h2m-5 6h2m-1 185h2m-3 1h2m5-379h2m1 2h2m-3 1h2m0 185h2m-5 1h2m-2 0h2m1 4h2m-5 183h2m4-184h2m59-191h2m35 190h2m1-192h2m13 189h2m8-185h2m0 0h2m-5 2h2m2 186h2m-6 2h2m0 182h2m3-370h2m0 184h2m-2 186h2m-3 1h2m-1 3h2m0-379h2m3 188h2m-2 0h2m-7 1h2m1 2h2m-2 184h2m-1 3h2m-6 2h2m2 0h2m-1 0h2m3-188h2m-2 1h2m-2 184h2m2 1h2m1 2h2m0-381h2m-3 1h2m0 0h2m-3 2h2m2 3h2m-5 185h2m-4 0h2m0 0h2m3-190h2m0 0h2m-5 0h2m1 1h2m-4 2h2m0 0h2m-4 375h2m6-376h2m-1 0h2m-6 2h2m2 183h2m-5 1h2m-2 1h2m1 187h2m-4 3h2m-4 0h2m0 1h2m4-187h2m-1 185h2" stroke="#b4a8c0"/>
<path transform="scale(.5)" d="M0 0m46 375h2m4 182h2m-4 3h2m3-372h2m-2 1h2m2 185h2m-7 1h2m3 179h2m-1-372h2m-2 382h2m5-384h2m-3 6h2m0 2h2m-3 176h2m-3 191h2m6-183h2m4-188h2m-2 1h2m-1 0h2m-2 1h2m-1 0h2m-5 180h2m-1 10h2m4-197h2m-4 2h2m2 1h2m-4 2h2m1 2h2m-1 178h2m-2 13h2m23-1h2m26-192h2m-2 1h2m-3 188h2m-1 3h2m0 187h2m-2 1h2m16-386h2m-3 7h2m0 2h2m-2 0h2m-4 0h2m2 179h2m-4 1h2m-4 1h2m-1 1h2m-3 4h2m0 1h2m-4 2h2m-1 177h2m1 2h2m-5 5h2m8-380h2m-4 0h2m-3 3h2m-3 0h2m2 2h2m-5 1h2m0 0h2m-5 2h2m-3 187h2m1 1h2m-4 1h2m1 179h2m-3 0h2m-3 1h2m-1 1h2m-1 1h2m-1 1h2m-3 2h2m3-381h2m-1 7h2m-1 0h2m-2 186h2m-4 179h2m-2 1h2m-2 6h2m4-2h2m5-188h2m-1 3h2m-2 183h2m0-185h2m1 4h2m2-2h2m-3 2h2m-3 185h2m-2 2h2m0 1h2m-4 1h2m4-383h2m-1 7h2m-2 176h2m0 6h2m-3 5h2m-2 177h2m-3 2h2m0 4h2m1-371h2m2 1h2m-3 188h2m42 177h2m16-365h2m5 178h2m12 194h2m5-374h2m4 366h2m28-371h2m-2 4h2m-3 3h2m-4 188h2m0 178h2m-4 6h2m18-378h2m-2 3h2m-1 182h2m-3 3h2m1 2h2m-6 3h2m-1 2h2m1 183h2m3-186h2m-1 181h2m-4 4h2m0 4h2m2-384h2m0 9h2m-4 182h2m0 6h2m-3 182h2m-2 1h2m-6 5h2m8-386h2m-1 8h2m-7 179h2m0 4h2m-4 2h2m-2 181h2m-1 2h2m-1 4h2m-4 0h2m-1 4h2m3-381h2m1 3h2m-3 1h2m-3 4h2m-2 175h2m-1 2h2m1 2h2m-5 5h2m1 186h2m-7 4h2m3 0h2m2-386h2m-2 3h2m-2 4h2m-3 2h2m-4 183h2m1 2h2m-5 3h2m-2 178h2m5-372h2m-3 4h2m1 1h2m-4 181h2m-1 197h2m6-378h2m-1 378h2m26-378h2m4-2h2m-3 381h2m13-378h2m-2 190h2m4-4h2m6 1h2m18 2h2m32-187h2m-3 369h2m15-375h2m-3 1h2m-2 3h2m-3 2h2m-1 183h2m-1 1h2m-2 2h2m-3 1h2m-2 177h2m-3 2h2m0 1h2m-5 9h2m4-380h2m0 2h2m-4 374h2m6-196h2m-2 6h2m-3 190h2m-2 0h2m1-192h2m-2 2h2m-2 187h2m-2 6h2m-2 0h2m2 1h2m0-382h2m3 2h2m-6 187h2m2 4h2m-7 183h2m3 0h2m-2 1h2m-6 3h2m-1 1h2m3-377h2m-3 185h2m0 182h2m-4 3h2m-1 2h2m2 3h2m-6 1h2m5-383h2m-4 374h2m1 8h2m-1 1h2m2-1h2m-3 3h2" stroke="#b4a8cc"/>
<path transform="scale(.5)" d="M0 0m67 175h2m12-4h2m-3 184h2m0 0h2m3-193h2m-1 13h2m-2 367h2m7-381h2m-3 389h2m10-6h2m4-383h2m19 189h2m29-180h2m4 1h2m-5 178h2m1 9h2m-2 179h2m-5 5h2m-2 5h2m6-377h2m-2 176h2m0 5h2m-3 1h2m-1 187h2m-3 7h2m-3 2h2m-2 2h2m1-391h2m-2 11h2m0 379h2m6-391h2m-1 9h2m-3 7h2m-1 189h2m-2 173h2m-4 7h2m-4 5h2m0 1h2m0 1h2m1-384h2m0 1h2m-2 2h2m-5 2h2m-2 0h2m-2 189h2m5-198h2m-2 6h2m-4 7h2m0 187h2m-2 181h2m2-368h2m26 360h2m29-176h2m10 175h2m11-172h2m6-195h2m0 182h2m17-184h2m0 193h2m3 193h2m5-381h2m26-10h2m-3 8h2m-4 4h2m-1 2h2m-3 364h2m-2 6h2m-1 6h2m1-187h2m1 173h2m0 3h2m3-377h2m-1 8h2m-4 1h2m-5 177h2m6-185h2m-4 382h2m4-382h2m-2 7h2m0 379h2m3-190h2m0 4h2m-5 187h2m7-191h2m-1 192h2m10 0h2m25-195h2m29 184h2m3-377h2m-2 185h2m7 200h2m2-5h2m22 1h2m18-199h2m5-178h2m-3 2h2m-1 182h2m-2 7h2m-2 187h2m-4 1h2m12-189h2m-3 6h2m0-202h2m3 200h2m-3 190h2m0-16h2m-2 4h2m5-378h2m-2 389h2m37 3h2" stroke="#b4b4cc"/>
<path transform="scale(.5)" d="M0 0m70 154h2m9 372h2m18 0h2m7-183h2m61-192h2m-4 193h2m6 188h2m2-2h2m48-191h2m48 192h2m158-3h2m10-374h2m20 184h2" stroke="#b4c0cc"/>
<path transform="scale(.5)" d="M0 0m131 85h2m-3 2h2m-3 0h2m-1 187h2m-3 0h2m179-188h2m-2 186h2m5-184h2m-3 374h2m0-376h2m-2 188h2m-2 190h2m108-191h2m5 2h2m4-188h2m-1 187h2m0-188h2m4 377h2m2 1h2m54 0h2" stroke="#b4e4b4"/>
<path transform="scale(.5)" d="M0 0m68 280h2m-3 186h2m1 2h2m38-379h2m-3 1h2m-2 1h2m-3 186h2m0 1h2m-3 188h2m-1 1h2m6-378h2m-6 2h2m-2 187h2m2 0h2m-5 188h2m-1 0h2m6-377h2m-1 0h2m-6 188h2m0 188h2m4-375h2m-2 187h2m-1 189h2m-3 2h2m24 0h2m1-378h2m-1 189h2m5-186h2m-3 182h2m-5 195h2m6-191h2m-3 188h2m-2 2h2m5-381h2m1 191h2m-2 188h2m3-375h2m-2 186h2m-2 6h2m11-196h2m-6 6h2m-2 181h2m2 4h2m-6 188h2m-3 3h2m6-383h2m-2 191h2m-4 5h2m32-5h2m1-190h2m60 2h2m-2 375h2m4 3h2m0 0h2m1-380h2m-1 1h2m-1 187h2m-4 2h2m5-187h2m28 377h2m3-378h2m1 5h2m-4 185h2m4 185h2m1-372h2m67 373h2m2-377h2m-2 1h2m2 189h2m8-191h2m0 2h2m-4 0h2m-1 186h2m0 1h2m4 188h2m47-186h2m3 186h2m-2 2h2m28-1h2m9-1h2m1-184h2m-4 1h2" stroke="#b4e4c0"/>
<path transform="scale(.5)" d="M0 0m310 81h2m-4 1h2m1 185h2m-4 0h2m-3 1h2m-1 189h2m6-376h2m-2 186h2m-7 189h2m-2 1h2m1 0h2m-2 2h2m-5 1h2m4-377h2m109-4h2m-2 1h2m4 2h2m-3 375h2m5-375h2m-1 187h2m-3 187h2m-2 1h2m5 0h2m-3 3h2m1-377h2m4 1h2" stroke="#c0e4b4"/>
<path transform="scale(.5)" d="M0 0m70 274h2m1-190h2m1 187h2m79 192h2m6-381h2m-4 190h2m4 3h2m5-4h2m6-184h2m7-1h2m41 1h2m106-4h2m0 188h2m-6 1h2m2 190h2m2-379h2m1 377h2m-3 2h2m-4 0h2m6-379h2m-3 191h2m-1 190h2m178-190h2m3-191h2m0 381h2m-1-3h2" stroke="#c0e4c0"/>
<path transform="scale(.5)" d="M0 0m67 79h2m-1 189h2m73-187h2m-2 186h2m-2 189h2m3-378h2m-6 191h2m4-191h2m-2 2h2m-2 378h2m11 1h2m25-380h2m-1 190h2m-1-2h2m41 190h2m37-191h2m1 0h2m-2 1h2m-3 189h2m30-1h2m34-377h2m-2 189h2m5 0h2m-3 3h2m74 184h2m6-375h2m1 374h2m2-374h2m-1 186h2m100 2h2m0 0h2" stroke="#c0f0b4"/>
<path transform="scale(.5)" d="M0 0m156 82h2m395 0h2" stroke="#c0f0c0"/>
<path transform="scale(.5)" d="M0 0m427 72h2m-1 187h2m-2 188h2m-1 1h2m3-378h2m1 191h2m10-186h2m-4 186h2m-1 1h2m-6 188h2m2 2h2m0-378h2m-2 188h2" stroke="#ccf0a8"/>
<path transform="scale(.5)" d="M0 0m68 264h2m-4 185h2m8 0h2m-5 6h2m4-192h2m1 189h2m60-375h2m3 183h2m1-184h2m-4 379h2m4-196h2m-2 5h2m-1 186h2m81-373h2m5-4h2m-3 377h2m0 3h2m19-191h2m-3 187h2m0-373h2m2 2h2m-5 184h2m-3 1h2m-2 186h2m57-189h2m12-182h2m5-1h2m112 183h2m-4 0h2m4 0h2m2 189h2m50-188h2m-3 0h2m7 1h2m-4 2h2m-2 1h2m4-188h2m0 187h2m0-188h2m4-3h2m-2 380h2" stroke="#ccf0b4"/>
<path transform="scale(.5)" d="M0 0m426 63h2m1 188h2m11 0h2m-2 1h2m0-1h2" stroke="#d8f09c"/>
<path transform="scale(.5)" d="M0 0m70 67h2m-3 1h2m-4 0h2m-3 376h2m8-384h2m-2 10h2m-5 0h2m1 174h2m-4 1h2m-3 0h2m-2 191h2m0 2h2m6-388h2m-5 2h2m-1 13h2m0 0h2m-2 174h2m-5 7h2m-2 188h2m-2 4h2m5-390h2m-1 4h2m-1 4h2m-4 8h2m-2 4h2m-3 165h2m-2 11h2m-4 1h2m3 4h2m-2 3h2m-3 0h2m-1 2h2m-3 167h2m-2 1h2m-1 5h2m-4 1h2m0 1h2m-3 13h2m3-396h2m0 4h2m-7 4h2m1 1h2m0 1h2m-4 2h2m-5 2h2m2 2h2m-6 5h2m-2 1h2m-2 0h2m2 164h2m-6 1h2m-1 3h2m1 0h2m-6 10h2m1 3h2m0 0h2m-7 5h2m-2 167h2m2 0h2m-6 4h2m-2 4h2m3 1h2m-2 1h2m-6 1h2m2 0h2m-2 0h2m-3 1h2m-1 5h2m-2 1h2m-3 0h2m1-396h2m2 2h2m-6 6h2m-3 0h2m-1 2h2m-3 178h2m-2 1h2m-1 1h2m1 11h2m-5 5h2m-2 1h2m-2 2h2m2 168h2m-2 1h2m-2 7h2m-7 11h2m5-395h2m2 0h2m-2 1h2m-7 2h2m-2 0h2m-1 2h2m-1 1h2m-3 1h2m-2 2h2m-1 2h2m-2 0h2m-3 176h2m-1 2h2m-4 4h2m-1 4h2m-3 1h2m0 1h2m-3 0h2m-3 0h2m-1 0h2m2 182h2m-6 1h2m-2 2h2m2 0h2m-5 1h2m-4 0h2m0 1h2m-2 2h2m-3 0h2m3-388h2m-2 1h2m-2 1h2m-1 1h2m-1 2h2m-2 1h2m-3 2h2m0 2h2m-3 177h2m-2 0h2m-1 2h2m-5 1h2m0 5h2m-4 1h2m-2 1h2m-1 0h2m0 1h2m-4 1h2m-1 178h2m-4 0h2m-2 1h2m1 0h2m-4 4h2m-1 0h2m-3 0h2m-3 4h2m6-388h2m0 0h2m-6 1h2m0 4h2m-3 1h2m1 1h2m-6 1h2m-1 1h2m-1 1h2m-1 0h2m-3 179h2m-4 0h2m-2 0h2m1 1h2m-5 0h2m1 2h2m-3 1h2m-1 2h2m-2 2h2m-4 1h2m-3 180h2m0 1h2m-3 0h2m-2 0h2m-1 2h2m-4 2h2m1 1h2m-4 3h2m-1 1h2m-4 0h2m8-387h2m-4 0h2m-3 1h2m-1 0h2m-2 2h2m-3 1h2m1 4h2m-5 1h2m-1 1h2m-1 0h2m-1 178h2m-4 0h2m-3 2h2m-1 0h2m-3 1h2m0 1h2m-1 5h2m-4 0h2m-3 1h2m0 1h2m0 178h2m-6 2h2m-2 0h2m1 1h2m-5 3h2m0 0h2m0 2h2m-5 2h2m-3 1h2m2 2h2m3-387h2m-2 1h2m-3 0h2m-2 3h2m-1 1h2m-3 1h2m-3 1h2m-1 2h2m-1 2h2m-2 0h2m-3 174h2m-3 3h2m-1 1h2m-2 0h2m-3 1h2m0 7h2m-1 0h2m-5 2h2m-1 2h2m-4 1h2m-1 179h2m-2 1h2m1 0h2m-4 0h2m0 2h2m-4 1h2m-1 1h2m-2 4h2m3-393h2m-1 3h2m-3 1h2m-1 7h2m-2 3h2m-3 1h2m0 174h2m-2 0h2m-4 3h2m0 4h2m-3 11h2m-2 3h2m-3 0h2m-2 3h2m-2 0h2m0 166h2m-3 0h2m-1 2h2m-7 4h2m1 1h2m0 0h2m-2 1h2m-7 2h2m2 6h2m-4 2h2m-1 4h2m1-399h2m-1 4h2m-3 11h2m2 1h2m-6 2h2m3 2h2m-6 170h2m1 201h2m-6 2h2m2 2h2m-3 5h2m5-201h2m-6 3h2m-2 4h2m3 1h2m-2 188h2m4-379h2m-7 197h2m-2 182h2m6-371h2m-4 180h2m1 198h2m72-376h2m-3 180h2m-1 188h2m-3 8h2m5-198h2m-7 1h2m-1 6h2m-1 191h2m2-386h2m-1 5h2m-1 4h2m-2 166h2m-2 2h2m-3 7h2m-2 1h2m-3 1h2m1 0h2m-3 3h2m-3 3h2m-1 3h2m-3 165h2m0 6h2m-3 2h2m-1 9h2m1-388h2m-2 0h2m0 17h2m-1 165h2m-2 1h2m-3 9h2m-2 1h2m-3 0h2m-1 2h2m0 1h2m-4 0h2m-4 4h2m-1 2h2m-1 194h2m-1 0h2m3-402h2m1 0h2m-4 4h2m0 4h2m-4 0h2m-2 1h2m-3 10h2m-1 1h2m-1 1h2m-2 3h2m-3 163h2m-4 0h2m-2 1h2m0 0h2m-3 1h2m-1 1h2m0 1h2m-3 6h2m-2 1h2m-1 1h2m-5 183h2m-1 2h2m-3 3h2m1 2h2m-6 2h2m-1 8h2m-2 0h2m1 0h2m-3 0h2m-3 2h2m4-392h2m-1 11h2m-1 7h2m-2 161h2m-3 2h2m-4 6h2m-2 1h2m0 3h2m-1 5h2m-2 2h2m-4 1h2m-3 4h2m0 2h2m-3 163h2m-1 2h2m-2 0h2m-3 4h2m-3 0h2m0 1h2m-3 7h2m0 1h2m-2 3h2m-4 1h2m4-393h2m-1 1h2m-6 6h2m1 16h2m-3 179h2m-1 185h2m-1 7h2m5-383h2m-2 9h2m-4 1h2m-1 373h2m-2 0h2m5-393h2m-2 11h2m-2 3h2m-2 179h2m-3 3h2m-1 7h2m-7 5h2m3 167h2m-2 5h2m-7 1h2m3 7h2m4-393h2m-7 6h2m3 18h2m-7 165h2m-2 194h2m-2 4h2m-2 3h2m3 2h2m-7 1h2m3 0h2m-7 3h2m-1 1h2m-1 7h2m2-397h2m0 6h2m-2 1h2m-1 0h2m-5 1h2m-1 4h2m-1 3h2m-3 3h2m-3 166h2m-2 2h2m1 7h2m-5 13h2m-2 165h2m-1 24h2m5-402h2m-3 1h2m-3 2h2m0 1h2m-3 0h2m-3 5h2m1 1h2m-2 1h2m-1 4h2m-3 7h2m-1 167h2m-5 2h2m-2 9h2m-1 1h2m-1 0h2m-3 3h2m-3 5h2m-3 2h2m1 1h2m-3 0h2m-1 172h2m-5 1h2m-2 1h2m1 4h2m-2 1h2m-4 1h2m-3 4h2m-1 3h2m1 0h2m-3 2h2m4-400h2m-1 4h2m-2 0h2m-4 2h2m1 0h2m-5 3h2m-1 0h2m-1 3h2m-4 0h2m-3 0h2m-2 175h2m0 5h2m-1 1h2m-4 0h2m-2 5h2m0 2h2m-5 0h2m-2 1h2m0 1h2m-2 2h2m-1 173h2m-3 1h2m-3 1h2m-3 0h2m-1 2h2m-3 3h2m-2 0h2m-2 4h2m1 1h2m-2 1h2m2-391h2m0 1h2m-2 1h2m-4 3h2m-1 2h2m-1 0h2m-1 1h2m-4 1h2m0 1h2m-5 178h2m0 1h2m-1 4h2m-4 1h2m0 1h2m-2 0h2m-4 1h2m-3 3h2m-1 0h2m-2 178h2m-2 1h2m0 1h2m-5 0h2m-2 0h2m-2 2h2m1 1h2m-3 1h2m-4 3h2m5-382h2m-2 0h2m-2 0h2m-5 1h2m0 0h2m1 1h2m-5 8h2m-1 174h2m-2 0h2m0 2h2m-3 5h2m-3 1h2m-5 2h2m2 0h2m-3 180h2m-1 3h2m-6 1h2m1 1h2m0 0h2m-4 1h2m0 4h2m-3 2h2m-2 0h2m5-389h2m-2 2h2m-7 2h2m-2 4h2m3 1h2m-4 1h2m0 0h2m-6 1h2m-3 3h2m-2 176h2m-2 5h2m2 0h2m-2 2h2m-5 1h2m-3 0h2m2 1h2m-1 0h2m-2 0h2m-2 1h2m-2 1h2m-4 1h2m-1 174h2m-2 0h2m-1 0h2m-7 3h2m-2 3h2m3 0h2m-2 3h2m-4 3h2m-1 4h2m-1 0h2m-1-393h2m3 1h2m-6 2h2m-3 0h2m-2 0h2m0 3h2m1 9h2m-3 3h2m-1 171h2m-7 4h2m-1 3h2m2 16h2m-3 3h2m-1 164h2m-2 2h2m-6 3h2m-2 5h2m1 6h2m0-389h2m0 3h2m1 1h2m-6 1h2m-1 1h2m1 6h2m-6 2h2m-2 1h2m-1 3h2m-3 164h2m-1 7h2m-2 6h2m-3 5h2m-1 7h2m-2 3h2m-4 166h2m4-372h2m0 1h2m-2 3h2m-3 2h2m0 4h2m-2 0h2m-5 2h2m-2 1h2m1 172h2m-2 5h2m-2 1h2m-5 1h2m-1 2h2m-1 0h2m-3 0h2m-2 5h2m0 1h2m-5 2h2m1 175h2m-2 11h2m-3 3h2m-4 0h2m4-381h2m1 191h2m-1 188h2m-6 3h2m85-403h2m-1 2h2m-3 1h2m-3 0h2m0 1h2m-4 0h2m0 0h2m-4 1h2m-2 0h2m0 0h2m-2 184h2m-5 0h2m-3 0h2m1 1h2m-4 0h2m-2 0h2m-2 1h2m1 0h2m-4 0h2m-1 0h2m-1 20h2m-3 1h2m-4 166h2m-2 0h2m-1 1h2m-3 0h2m0 1h2m-1 1h2m-2 0h2m-3 0h2m-1 0h2m-5 0h2m1 19h2m4-399h2m-4 1h2m-1 0h2m0 0h2m-3 0h2m-5 1h2m1 0h2m-3 2h2m0 1h2m-4 1h2m-3 182h2m-1 0h2m-4 1h2m0 1h2m-3 0h2m-1 1h2m-2 0h2m-1 0h2m-3 1h2m-4 1h2m0 18h2m-4 0h2m1 3h2m-1 163h2m-3 0h2m-1 0h2m-3 0h2m-1 2h2m-6 1h2m2 1h2m-4 1h2m0 0h2m-4 0h2m-3 18h2m-1 0h2m-4 1h2m-1 0h2m6-401h2m-4 0h2m1 0h2m-2 1h2m-2 1h2m-3 0h2m-1 0h2m-3 2h2m-3 21h2m-3 163h2m0 0h2m-4 1h2m0 1h2m-1 0h2m-3 0h2m-2 0h2m-3 0h2m-2 1h2m-1 187h2m-4 1h2m-2 0h2m-1 1h2m-3 0h2m-1 2h2m-2 1h2m0 0h2m-1-383h2m1 0h2m-5 2h2m1 3h2m-1 1h2m-3 1h2m-1 2h2m-6 179h2m2 0h2m-2 2h2m-3 1h2m0 0h2m-3 1h2m-1 0h2m-2 1h2m-2 1h2m-4 183h2m-1 1h2m-3 0h2m0 0h2m-3 1h2m-6 2h2m-2 2h2m3 0h2m-4 0h2m1-383h2m2 0h2m-6 1h2m3 1h2m-7 4h2m2 1h2m-2 1h2m-6 1h2m-2 0h2m2 3h2m-2 2h2m-1 6h2m-3 170h2m-6 3h2m-2 0h2m2 6h2m-2 1h2m-2 1h2m-2 3h2m-2 3h2m-1 0h2m-7 172h2m3 1h2m-7 2h2m-1 1h2m2 4h2m-3 1h2m1-388h2m1 8h2m-1 2h2m-2 1h2m-7 2h2m-2 3h2m3 2h2m-2 5h2m-6 167h2m-3 12h2m3 3h2m-6 2h2m-2 175h2m-3 1h2m-1 1h2m-2 2h2m-3 2h2m-1 2h2m-1 3h2m2-384h2m-2 2h2m-2 1h2m0 2h2m-1 5h2m-5 172h2m-2 2h2m-1 6h2m-3 2h2m-1 0h2m-1 4h2m-3 1h2m-1 171h2m-4 3h2m-1 1h2m-2 0h2m-3 2h2m-2 3h2m0 2h2m-2 3h2m-4 1h2m0 5h2m5-390h2m-4 2h2m-2 10h2m-1 7h2m-1 164h2m-3 8h2m-1 1h2m-3 181h2m-4 5h2m0 14h2m4-398h2m-3 0h2m-1 3h2m-3 6h2m-2 1h2m1 1h2m-3 2h2m-4 9h2m0 1h2m-3 0h2m-3 166h2m-3 1h2m-1 0h2m1 1h2m-6 11h2m2 1h2m-3 1h2m-3 1h2m-3 7h2m1 1h2m-3 165h2m-4 1h2m-1 1h2m0 1h2m-2 1h2m-3 5h2m-2 5h2m-4 5h2m-1 3h2m-4 0h2m6-399h2m1 5h2m-3 1h2m-4 0h2m1 0h2m-2 3h2m-6 1h2m1 1h2m-2 3h2m-4 1h2m-1 173h2m-1 2h2m-5 1h2m-2 1h2m-2 5h2m2 1h2m-5 0h2m0 2h2m-5 1h2m-2 0h2m-1 175h2m-1 4h2m-3 1h2m-2 1h2m0 7h2m-3 0h2m0 3h2m-6 1h2m-2 2h2m-2 1h2m5-397h2m0 2h2m-2 2h2m-1 4h2m-5 9h2m1 2h2m-3 3h2m-2 0h2m-4 2h2m1 0h2m-3 163h2m-3 3h2m-2 1h2m-2 7h2m0 5h2m-2 4h2m-5 3h2m0 3h2m-1 1h2m-3 177h2m-4 7h2m6-398h2m-1 1h2m-4 5h2m0 3h2m-2 1h2m-3 1h2m-2 1h2m-2 175h2m-6 8h2m3 1h2m-2 2h2m-3 2h2m-3 1h2m-1 2h2m-1 2h2m-4 172h2m0 1h2m-2 4h2m-2 3h2m-4 1h2m-1 1h2m-1 1h2m-7 1h2m1 2h2m-5 10h2m8-403h2m-5 6h2m2 0h2m-7 1h2m-1 8h2m-3 175h2m3 0h2m-7 4h2m-2 2h2m2 3h2m-1 1h2m-3 2h2m-2 1h2m-2 0h2m-6 175h2m2 3h2m-2 1h2m-2 0h2m-1 1h2m-2 0h2m-7 5h2m2 2h2m-1 1h2m-2 1h2m0-390h2m-3 0h2m-2 2h2m-1 2h2m1 3h2m-5 2h2m2 0h2m-6 1h2m-2 2h2m-2 0h2m2 10h2m-2 1h2m-2 0h2m-2 1h2m-2 164h2m-6 7h2m-2 2h2m2 0h2m-6 1h2m-2 3h2m2 184h2m-6 1h2m-2 1h2m2 2h2m-2 1h2m-2 4h2m0-390h2m-1 8h2m-2 2h2m1 0h2m-6 4h2m2 5h2m-7 173h2m-2 1h2m-2 1h2m-1 2h2m-2 2h2m-2 0h2m-2 3h2m-2 3h2m-3 175h2m3 2h2m-5 3h2m-2 8h2m-3 0h2m-1 0h2m-4 1h2m5-393h2m0 4h2m-3 1h2m-1 1h2m-5 2h2m-1 6h2m-1 3h2m0 2h2m-5 164h2m-3 2h2m1 5h2m-5 2h2m1 2h2m-4 9h2m-2 0h2m0 3h2m-4 1h2m-2 2h2m-2 170h2m-2 1h2m-2 0h2m0 6h2m-3 1h2m0 1h2m-3 4h2m-5 0h2m-1 3h2m7-397h2m-5 2h2m-1 5h2m-2 6h2m-3 192h2m0 6h2m-5 167h2m-1 1h2m1 14h2m-5 1h2m5-396h2m0 1h2m-3 4h2m0 0h2m-6 2h2m2 4h2m-6 8h2m-1 1h2m-3 1h2m2 5h2m-5 181h2m0 178h2m-3 1h2m-4 4h2m-2 13h2m5-385h2m0 381h2m-2 2h2m0-389h2m2 5h2m-6 383h2m4-376h2" stroke="#d8f0a8"/>
<path transform="scale(.5)" d="M0 0m80 448h2m152-377h2" stroke="#d8f0b4"/>
<path transform="scale(.5)" d="M0 0m430 62h2m-3 0h2m-2 188h2" stroke="#e4f09c"/>
<path transform="scale(.5)" d="M0 0m40 78h2m-1 123h2m-2 1h2m-2 1h2m-2 0h2m-2 1h2m-3 131h2m-1 54h2m-2 1h2m-2 0h2m-2 2h2m-2 1h2m-2 117h2m-2 69h2m-2 0h2m-2 0h2m-2 0h2m-2 1h2m4-516h2m-1 119h2m-2 6h2m-2 1h2m-2 12h2m-2 2h2m-1 40h2m-3 132h2m-2 1h2m-2 3h2m-2 5h2m-2 3h2m-2 99h2m-2 69h2m-2 8h2m-2 7h2m-2 3h2m-2 2h2m5-454h2m-3 61h2m-2 4h2m-2 5h2m-2 6h2m-2 0h2m-1 91h2m-3 84h2m-2 4h2m-2 4h2m-2 7h2m-2 2h2m-2 38h2m-2 132h2m-2 2h2m-2 1h2m-2 10h2m-2 7h2m5-472h2m-2 71h2m-2 11h2m-2 5h2m-2 4h2m-2 1h2m-2 79h2m-2 92h2m-2 6h2m-2 1h2m-2 8h2m-2 6h2m-1 77h2m-3 88h2m-2 9h2m-2 3h2m-2 4h2m-2 4h2m4-511h2m-1 105h2m-2 5h2m-2 2h2m-2 21h2m-2 1h2m-2 73h2m-2 63h2m-2 2h2m-2 10h2m-2 7h2m-2 35h2m-2 68h2m-2 61h2m-2 14h2m-2 16h2m-2 15h2m-2 6h2m5-507h2m-2 79h2m-2 5h2m-2 3h2m-2 17h2m-2 23h2m-2 69h2m-2 63h2m-2 0h2m-2 4h2m-2 15h2m-2 8h2m-3 84h2m-1 53h2m-2 10h2m-2 8h2m-2 1h2m-2 0h2m4-453h2m-1 102h2m-2 2h2m-2 6h2m-2 36h2m-2 2h2m-3 36h2m-1 122h2m-2 3h2m-2 16h2m-2 5h2m-2 2h2m-3 54h2m-1 72h2m-2 9h2m-2 25h2m-2 4h2m-2 16h2m5-507h2m-2 111h2m-2 20h2m-2 1h2m-2 7h2m-2 8h2m-3 42h2m-1 90h2m-2 23h2m-2 3h2m-2 27h2m-2 1h2m-3 43h2m-1 101h2m-2 22h2m-2 3h2m-2 10h2m-2 8h2m5-427h2m-2 10h2m-2 6h2m-2 12h2m-2 3h2m-2 150h2m-2 24h2m-2 13h2m-2 12h2m-2 1h2m-2 128h2m-2 18h2m-2 3h2m-2 13h2m-2 9h2m4-457h2m-2 1h2m-2 11h2m-2 12h2m-2 5h2m-2 159h2m-2 23h2m-2 14h2m-2 10h2m-2 1h2m-2 139h2m-2 6h2m-2 18h2m-2 4h2m-2 16h2m5-411h2m-2 10h2m-2 1h2m-2 11h2m-2 3h2m-2 156h2m-2 11h2m-2 8h2m-2 0h2m-2 21h2m-2 149h2m-2 19h2m-2 12h2m-2 9h2m-2 3h2m5-412h2m-2 0h2m-2 0h2m-2 4h2m-2 27h2m-2 140h2m-2 2h2m-2 0h2m-2 4h2m-2 11h2m-2 176h2m-2 3h2m-2 1h2m-2 7h2m-2 20h2m5-401h2m-2 12h2m-2 4h2m-2 3h2m-2 19h2m-2 152h2m-2 8h2m-2 10h2m-2 4h2m-2 17h2m-2 141h2m-2 2h2m-2 6h2m-2 15h2m-2 11h2m5-403h2m-2 7h2m-2 2h2m-2 4h2m-2 4h2m-2 162h2m-2 1h2m-2 2h2m-2 11h2m-2 9h2m-2 162h2m-2 2h2m-2 7h2m-2 14h2m-2 12h2m5-443h2m-2 38h2m-2 18h2m-2 2h2m-2 3h2m-2 8h2m-3 118h2m-1 38h2m-2 6h2m-2 10h2m-2 6h2m-2 11h2m-2 109h2m-2 47h2m-2 16h2m-2 3h2m-2 2h2m-2 2h2m6-427h2m-3 120h2m-2 1h2m-2 4h2m-2 2h2m-2 12h2m-1 51h2m-3 115h2m-2 3h2m-2 6h2m-2 8h2m-2 5h2m-2 38h2m-2 127h2m-2 11h2m-2 5h2m-2 1h2m-2 2h2m5-524h2m-3 142h2m-2 0h2m-2 0h2m-2 8h2m-2 2h2m-1 54h2m-3 126h2m-2 2h2m-2 2h2m-2 1h2m-2 1h2m-1 41h2m-3 143h2m-2 3h2m-2 0h2m-2 1h2m-2 0h2m5-493h2m-2 102h2m-2 0h2m-2 2h2m-2 5h2m-2 4h2m-2 58h2m-2 120h2m-2 6h2m-2 0h2m-2 3h2m-2 7h2m-1 55h2m-3 118h2m-2 3h2m-2 4h2m-2 4h2m-2 0h2m5-530h2m-2 122h2m-2 13h2m-2 10h2m-2 1h2m-2 2h2m-3 58h2m-1 108h2m-2 8h2m-2 2h2m-2 14h2m-2 4h2m-2 65h2m-2 96h2m-2 0h2m-2 5h2m-2 7h2m-2 2h2m5-478h2m-2 62h2m-2 3h2m-2 21h2m-2 4h2m-2 12h2m-1 112h2m-3 43h2m-2 1h2m-2 1h2m-2 10h2m-2 11h2m-3 74h2m-1 94h2m-2 3h2m-2 4h2m-2 14h2m-2 11h2m6-499h2m-3 93h2m-2 3h2m-2 5h2m-2 14h2m-2 7h2m-1 97h2m-3 53h2m-2 2h2m-2 3h2m-2 34h2m-2 9h2m-3 38h2m-1 121h2m-2 8h2m-2 4h2m-2 6h2m-2 3h2m5-424h2m-2 3h2m-2 11h2m-2 5h2m-2 20h2m-2 154h2m-2 2h2m-2 7h2m-2 4h2m-2 15h2m-2 60h2m-2 120h2m-2 4h2m-2 1h2m-2 1h2m-2 13h2m-1-466h2m-2 152h2m3 226h2m4-396h2m-7 10h2m-2 73h2m-2 6h2m-2 12h2m-2 12h2m-2 11h2m-1 55h2m-3 87h2m-2 6h2m-2 7h2m-2 1h2m-2 30h2m-2 146h2m-2 14h2m-2 11h2m-2 9h2m-2 8h2m4-395h2m-2 3h2m-2 1h2m-2 0h2m-2 15h2m-2 65h2m-2 82h2m-2 12h2m-2 9h2m-2 7h2m-2 11h2m-2 39h2m-2 116h2m-2 4h2m-2 2h2m-2 13h2m-2 14h2m4-505h2m-1 99h2m-2 7h2m-2 14h2m-2 8h2m-2 3h2m-1 85h2m-3 78h2m-2 0h2m-2 4h2m-2 1h2m-2 13h2m-2 61h2m-2 108h2m-2 1h2m-2 1h2m-2 16h2m-2 3h2m6-523h2m-3 139h2m-2 1h2m-2 3h2m-2 7h2m-2 1h2m-2 57h2m-2 117h2m-2 8h2m-2 3h2m-2 2h2m-2 6h2m-3 54h2m-1 117h2m-2 4h2m-2 0h2m-2 4h2m-2 2h2m20-501h2m-2 50h2m-2 2h2m-2 16h2m-2 3h2m-2 2h2m-2 107h2m-2 52h2m-2 4h2m-2 0h2m-2 4h2m-2 6h2m-2 126h2m-2 40h2m-2 1h2m-2 5h2m-2 3h2m-2 8h2m4-448h2m-1 53h2m-2 14h2m-2 3h2m-2 7h2m-2 8h2m-3 99h2m-1 63h2m-2 3h2m-2 7h2m-2 3h2m-2 2h2m-3 125h2m-1 41h2m-2 5h2m-2 2h2m-2 9h2m-2 21h2m4-458h2m-1 50h2m-2 10h2m-2 9h2m-2 3h2m-2 1h2m-2 158h2m-2 0h2m-2 4h2m-2 5h2m-2 30h2m-3 120h2m-1 35h2m-2 2h2m-2 6h2m-2 16h2m-2 7h2m4-456h2m-1 42h2m-2 9h2m-2 2h2m-2 2h2m-2 31h2m-2 155h2m-2 2h2m-2 9h2m-2 37h2m-2 1h2m-2 73h2m-2 61h2m-2 25h2m-2 4h2m-2 5h2m-2 0h2m4-456h2m-1 52h2m-2 7h2m-2 0h2m-2 1h2m-2 7h2m-1 123h2m-3 63h2m-2 9h2m-2 8h2m-2 12h2m-2 0h2m-2 150h2m-2 15h2m-2 6h2m-2 0h2m-2 17h2m5-424h2m-2 13h2m-2 8h2m-2 8h2m-2 2h2m-3 113h2m-1 41h2m-2 7h2m-2 5h2m-2 0h2m-2 3h2m-2 173h2m-2 4h2m-2 9h2m-2 0h2m-2 12h2m-1-446h2m-2 380h2m9-377h2m-7 4h2m-2 56h2m-2 7h2m-2 10h2m-2 4h2m-2 16h2m3 76h2m-6 8h2m-3 78h2m-2 5h2m-2 9h2m-2 2h2m-2 3h2m-1 91h2m2 8h2m-7 55h2m-2 3h2m-2 5h2m-2 10h2m-2 11h2m4-403h2m-2 49h2m-2 2h2m-2 3h2m-2 1h2m-2 136h2m-2 9h2m-2 21h2m-2 1h2m-2 11h2m-2 132h2m-2 15h2m-2 8h2m-2 20h2m-2 8h2m6-489h2m-3 63h2m-2 10h2m-2 3h2m-2 6h2m-2 9h2m-2 98h2m-2 54h2m-2 12h2m-2 4h2m-2 2h2m-2 5h2m-3 110h2m-1 55h2m-2 0h2m-2 8h2m-2 14h2m-2 5h2m5-406h2m-2 4h2m-2 5h2m-2 9h2m-2 0h2m-2 126h2m-2 47h2m-2 6h2m-2 3h2m-2 1h2m-2 7h2m-2 120h2m-2 38h2m-2 10h2m-2 3h2m-2 1h2m-2 7h2m5-396h2m-2 3h2m-2 4h2m-2 29h2m-2 1h2m-2 169h2m-2 10h2m-2 4h2m-2 3h2m-2 10h2m-2 157h2m-2 5h2m-2 25h2m-2 1h2m-2 2h2m5-431h2m-2 1h2m-2 21h2m-2 7h2m-2 4h2m-2 150h2m-2 5h2m-2 3h2m-2 24h2m-2 1h2m-2 157h2m-2 5h2m-2 0h2m-2 2h2m-2 10h2m5-387h2m-2 8h2m-2 10h2m-2 0h2m-2 5h2m-2 167h2m-2 16h2m-2 0h2m-2 2h2m-2 1h2m-2 167h2m-2 7h2m-2 21h2m-2 1h2m-2 2h2m10-442h2m-7 68h2m-2 20h2m-2 15h2m-2 3h2m-2 1h2m-2 136h2m-2 2h2m-2 23h2m-2 7h2m-2 24h2m-2 158h2m-2 14h2m-2 8h2m-2 2h2m-2 3h2m4-418h2m-2 7h2m-2 17h2m-2 8h2m-2 33h2m-1 57h2m-3 63h2m-2 1h2m-2 3h2m-2 4h2m-2 36h2m-2 78h2m-2 65h2m-2 10h2m-2 7h2m-2 13h2m-2 4h2m6-475h2m-3 122h2m-2 3h2m-2 8h2m-2 6h2m-2 9h2m-3 54h2m-1 120h2m-2 11h2m-2 4h2m-2 7h2m-2 0h2m-3 51h2m-1 112h2m-2 1h2m-2 9h2m-2 7h2m-2 0h2m6-524h2m-3 147h2m-2 2h2m-2 0h2m-2 2h2m-2 5h2m-3 55h2m-1 129h2m-2 1h2m-2 0h2m-2 1h2m-2 1h2m-3 69h2m-1 113h2m-2 0h2m-2 2h2m-2 3h2m-2 1h2m6-516h2m-3 123h2m-2 3h2m-2 7h2m-2 3h2m-2 2h2m-2 49h2m-2 133h2m-2 1h2m-2 0h2m-2 1h2m-2 3h2m-3 35h2m-1 147h2m-2 4h2m-2 1h2m-2 0h2m-2 3h2m5-495h2m-2 69h2m-2 13h2m-2 26h2m-2 5h2m-2 5h2m-1 83h2m-3 75h2m-2 10h2m-2 3h2m-2 5h2m-2 12h2m-3 39h2m-1 115h2m-2 5h2m-2 3h2m-2 4h2m-2 7h2m5-463h2m-2 56h2m-2 1h2m-2 3h2m-2 10h2m-2 3h2m-2 188h2m-2 4h2m-2 6h2m-2 6h2m-2 1h2m-2 57h2m-2 91h2m-2 3h2m-2 5h2m-2 17h2m-2 1h2m-1-303h2m3 13h2m0-210h2m-3 102h2m-2 4h2m-2 24h2m-2 1h2m-2 1h2m3 108h2m-7 56h2m-2 19h2m-2 10h2m-2 1h2m-2 5h2m-1 60h2m-3 89h2m-2 2h2m-2 2h2m-2 20h2m-2 1h2m4-483h2m-2 88h2m-2 2h2m-2 2h2m-2 17h2m-2 8h2m-2 160h2m-2 7h2m-2 1h2m-2 5h2m-2 8h2m-1 125h2m-3 39h2m-2 1h2m-2 16h2m-2 2h2m-2 11h2m4-432h2m-1 36h2m-2 3h2m-2 0h2m-2 8h2m-2 11h2m-3 43h2m-1 118h2m-2 14h2m-2 2h2m-2 10h2m-2 5h2m-1 57h2m-3 101h2m-2 3h2m-2 1h2m-2 14h2m-2 3h2m6-511h2m-3 123h2m-2 5h2m-2 3h2m-2 7h2m-2 2h2m-2 107h2m-2 60h2m-2 5h2m-2 1h2m-2 3h2m-2 4h2m-2 140h2m-2 40h2m-2 6h2m-2 3h2m-2 1h2m-2 5h2m4-454h2m-1 71h2m-2 7h2m-2 1h2m-2 1h2m-2 10h2m-2 134h2m-2 33h2m-2 2h2m-2 13h2m-2 1h2m-2 3h2m-3 60h2m-1 112h2m-2 11h2m-2 2h2m-2 3h2m-2 0h2m5-516h2m-2 130h2m-2 1h2m-2 2h2m-2 7h2m-2 2h2m-1 91h2m-3 84h2m-2 1h2m-2 2h2m-2 4h2m-2 5h2m-2 143h2m-2 41h2m-2 1h2m-2 2h2m-2 1h2m-2 3h2m20-517h2m-2 2h2m-2 1h2m-2 11h2m-2 3h2m-2 173h2m-2 4h2m-2 4h2m-2 2h2m-2 0h2m-2 179h2m-2 9h2m-2 13h2m-2 1h2m-2 3h2m5-399h2m-2 7h2m-2 4h2m-2 3h2m-2 1h2m-2 174h2m-2 6h2m-2 7h2m-2 3h2m-2 1h2m-2 171h2m-2 9h2m-2 3h2m-2 4h2m-2 4h2m5-388h2m-2 5h2m-2 4h2m-2 2h2m-2 4h2m-2 160h2m-2 2h2m-2 4h2m-2 11h2m-2 5h2m-2 176h2m-2 0h2m-2 9h2m-2 12h2m-2 11h2m5-406h2m-2 4h2m-2 5h2m-2 6h2m-2 10h2m-2 159h2m-2 0h2m-2 13h2m-2 12h2m-2 1h2m-2 169h2m-2 13h2m-2 6h2m-2 7h2m-2 3h2m5-399h2m-2 6h2m-2 9h2m-2 3h2m-2 1h2m-2 179h2m-2 0h2m-2 17h2m-2 1h2m-2 19h2m-2 157h2m-2 0h2m-2 4h2m-2 4h2m-2 6h2m4-446h2m0 2h2m-4 4h2m-1 5h2m-2 4h2m-2 37h2m-2 0h2m-2 3h2m-2 12h2m-2 1h2m-2 119h2m-1 0h2m-4 1h2m0 5h2m-2 9h2m-3 39h2m-2 3h2m-2 6h2m-2 17h2m-2 6h2m-2 105h2m-3 3h2m-1 1h2m-2 2h2m-1 6h2m-3 38h2m-2 3h2m-2 7h2m-2 4h2m-2 5h2m5-434h2m-3 1h2m-1 0h2m-2 3h2m-2 6h2m-2 70h2m-2 2h2m-2 2h2m-2 1h2m-2 0h2m-1 88h2m-3 2h2m-2 0h2m-2 2h2m-1 14h2m-3 45h2m-2 3h2m-2 17h2m-2 12h2m-2 2h2m-1 95h2m-3 7h2m-1 9h2m-2 3h2m-2 2h2m-3 39h2m-2 4h2m-2 26h2m-2 0h2m-2 6h2m3-465h2m-1 1h2m-3 0h2m0 2h2m-3 4h2m-2 60h2m-2 23h2m-2 11h2m-2 8h2m-2 3h2m-2 70h2m-1 1h2m-2 1h2m-2 3h2m-3 6h2m-2 47h2m-2 7h2m-2 11h2m-2 17h2m-2 9h2m-3 85h2m-1 6h2m-3 1h2m0 3h2m-2 2h2m-3 72h2m-2 4h2m-2 14h2m-2 4h2m-2 24h2m5-431h2m-2 11h2m-2 33h2m-2 11h2m-2 9h2m-2 132h2m-2 5h2m-2 8h2m-2 24h2m-2 1h2m-2 130h2m-2 2h2m-2 29h2m-2 20h2m-2 2h2m5-492h2m-2 7h2m-3 1h2m-1 2h2m-1 4h2m-3 57h2m-2 9h2m-2 7h2m-2 19h2m-2 17h2m-3 71h2m-1 1h2m-1 5h2m-4 2h2m0 0h2m-3 51h2m-2 21h2m-2 26h2m-2 2h2m-2 8h2m-1 70h2m-3 3h2m-2 6h2m-2 2h2m-2 3h2m-2 49h2m-2 5h2m-2 2h2m-2 15h2m-2 3h2m5-391h2m-2 9h2m-2 26h2m-2 10h2m-2 1h2m-2 130h2m-2 10h2m-2 6h2m-2 0h2m-2 13h2m-2 157h2m-2 1h2m-2 1h2m-2 30h2m-2 19h2m5-429h2m-2 9h2m-2 32h2m-2 3h2m-2 2h2m-2 134h2m-2 1h2m-2 2h2m-2 2h2m-2 22h2m-2 158h2m-2 2h2m-2 9h2m-2 6h2m-2 13h2m5-459h2m-1 0h2m-3 9h2m-2 3h2m-3 4h2m-1 36h2m-2 12h2m-2 8h2m-2 6h2m-2 9h2m-2 156h2m-2 2h2m-2 13h2m-2 4h2m-2 4h2m-2 153h2m-2 10h2m-2 4h2m-2 7h2m-2 2h2m4-439h2m0 1h2m-4 2h2m-2 10h2m0 1h2m-3 58h2m-2 27h2m-2 6h2m-2 20h2m-2 2h2m-1 58h2m-3 2h2m-2 2h2m-3 1h2m-1 4h2m-2 77h2m-2 0h2m-2 35h2m-2 3h2m-2 1h2m-3 64h2m0 2h2m-3 5h2m-1 8h2m-4 1h2m-1 57h2m-2 0h2m-2 16h2m-2 18h2m-2 12h2m4-492h2m-1 0h2m-3 1h2m-2 9h2m-2 6h2m-2 76h2m-2 0h2m-2 41h2m-2 4h2m-2 10h2m-2 47h2m-3 6h2m-2 0h2m-1 4h2m-2 1h2m-2 71h2m-2 14h2m-2 21h2m-2 12h2m-2 13h2m-1 40h2m-3 2h2m-3 5h2m-2 0h2m0 6h2m-3 73h2m-2 19h2m-2 28h2m-2 1h2m-2 7h2m4-515h2m-2 3h2m-1 1h2m-1 2h2m-4 6h2m-1 84h2m-2 13h2m-2 17h2m-2 1h2m-2 25h2m-2 35h2m-1 0h2m-4 8h2m-1 5h2m-1 8h2m-3 81h2m-2 15h2m-2 9h2m-2 4h2m-2 15h2m-1 48h2m-4 0h2m0 10h2m-2 1h2m-2 1h2m-3 81h2m-2 8h2m-2 38h2m-2 6h2m-2 1h2m6-525h2m-2 9h2m-3 1h2m-2 1h2m-2 5h2m-2 104h2m-2 1h2m-2 6h2m-2 6h2m-2 1h2m-3 51h2m0 4h2m-4 2h2m-2 4h2m0 10h2m-3 118h2m-2 5h2m-2 3h2m-2 1h2m-2 6h2m-1 42h2m-2 7h2m-2 6h2m-4 10h2m0 2h2m-3 92h2m-2 5h2m-2 1h2m-2 3h2m-2 4h2m5-504h2m-3 22h2m-1 75h2m-2 2h2m-2 9h2m-2 0h2m-2 19h2m-3 48h2m-2 27h2m-1 5h2m-2 20h2m-2 73h2m-2 7h2m-2 1h2m-2 5h2m-2 6h2m-2 58h2m-3 11h2m-1 15h2m-2 16h2m-2 66h2m-2 19h2m-2 4h2m-2 8h2m-2 1h2m-1-524h2m-2 13h2m-2 20h2m-2 150h2m3 60h2m-2 5h2m-2 133h2m-2 13h2m-7 4h2m3 5h2m0-399h2m-2 1h2m-2 3h2m-3 0h2m-2 17h2m-2 68h2m-2 12h2m-2 5h2m-2 2h2m-2 1h2m-2 76h2m-2 38h2m-2 14h2m-2 68h2m-2 16h2m-2 7h2m-2 0h2m-2 9h2m-1 41h2m-2 17h2m-3 77h2m-2 0h2m-2 4h2m-2 13h2m-2 19h2m6-516h2m-4 6h2m-1 13h2m-2 35h2m-1 5h2m-3 63h2m-2 5h2m-2 7h2m-2 3h2m-2 3h2m-2 51h2m-3 2h2m-1 14h2m-1 22h2m-2 29h2m-3 48h2m-2 17h2m-2 5h2m-2 5h2m-2 1h2m-1 50h2m-2 2h2m-3 12h2m-1 16h2m-3 8h2m-2 64h2m-2 3h2m-2 11h2m-2 5h2m-2 2h2m4-506h2m-2 16h2m-1 31h2m-2 26h2m-2 14h2m-2 38h2m-2 5h2m-2 4h2m-2 8h2m-2 12h2m-1 55h2m-2 6h2m-4 22h2m-2 4h2m-2 34h2m-1 52h2m-2 6h2m-2 3h2m-2 6h2m-2 2h2m-1 31h2m-2 9h2m-2 38h2m-2 1h2m-2 14h2m-3 66h2m-2 2h2m-2 1h2m-2 1h2m-2 22h2m5-517h2m-2 15h2m-2 10h2m-3 62h2m-2 1h2m-2 42h2m-2 3h2m-2 4h2m-2 5h2m-2 1h2m-3 64h2m0 3h2m-3 37h2m-2 6h2m-2 5h2m-2 53h2m-2 6h2m-2 2h2m-2 3h2m-2 4h2m-3 61h2m-2 2h2m-2 5h2m-1 39h2m-2 19h2m-2 49h2m-2 6h2m-2 2h2m-2 2h2m-2 6h2m4-529h2m0 11h2m-2 32h2m-4 12h2m-1 9h2m-2 84h2m-2 0h2m-2 5h2m-2 0h2m-2 2h2m-3 30h2m-1 60h2m-2 14h2m-2 7h2m-2 24h2m-2 45h2m-2 4h2m-2 0h2m-2 3h2m-2 2h2m-3 37h2m-1 11h2m-3 6h2m-2 5h2m-1 10h2m-2 107h2m-2 1h2m-2 5h2m-2 0h2m-2 1h2m6-526h2m-4 67h2m-2 14h2m0 7h2m-4 6h2m-1 59h2m-2 1h2m-2 0h2m-2 1h2m-2 0h2m-2 31h2m-2 24h2m-3 5h2m-1 27h2m-1 44h2m-3 54h2m-2 0h2m-2 1h2m-2 1h2m-2 1h2m-3 38h2m0 31h2m-2 8h2m-2 20h2m-2 15h2m-3 69h2m-2 0h2m-2 1h2m-2 2h2m-2 1h2m5-518h2m-2 146h2m-2 0h2m-2 0h2m-2 0h2m-2 0h2m-2 88h2m-2 34h2m-2 6h2m-2 59h2m-2 1h2m-2 0h2m-2 0h2m-2 0h2m-3 60h2m-1 9h2m-2 52h2m-2 64h2m-2 1h2m-2 0h2m-2 1h2m-2 0h2m-1-499h2m3 5h2m-2 3h2m-7 3h2m-2 18h2m-2 32h2m-2 98h2m-2 50h2m3 13h2m-2 17h2m-7 165h2m-2 6h2m4-408h2m-1 5h2m-3 66h2m-2 45h2m-2 1h2m-2 0h2m-2 2h2m-2 2h2m-2 41h2m-2 47h2m-1 20h2m-3 73h2m-2 1h2m-2 3h2m-2 1h2m-2 1h2m-2 46h2m-1 49h2m-3 36h2m-2 14h2m-2 0h2m-2 42h2m-2 0h2m-2 2h2m-2 0h2m-2 0h2" stroke="#777" stroke-opacity=".6"/>
<path d="M60.4 18.2V109.9M157.3 18.2V109.9M254.3 18.2V109.9M60.4 112.2V203.9M157.3 112.2V203.9M254.3 112.2V203.9M60.4 206.9V297.5M157.3 206.9V297.5M254.3 206.9V297.5" stroke="#9a9a9a" stroke-width="0.8"/>
<path d="M19.4 83.8h2.8v15.9h-2.8zM19.4 268h2.8v21.3h-2.8z" fill="#3b3f8d" style="fill:#3b3f8d"/>
<path d="M22.8 80.2h2.8v9.5h-2.8zM22.8 172.8h2.8v11.2h-2.8zM22.8 266h2.8v11.7h-2.8z" fill="#3b5192" style="fill:#3b5192"/>
<path d="M26.2 81h2.8v8.7h-2.8zM26.2 173.7h2.8v10.3h-2.8zM26.2 266.3h2.8v10.5h-2.8z" fill="#3c5491" style="fill:#3c5491"/>
<path d="M29.6 73h2.8v15.5h-2.8zM101.6 72.7h2.8v11.1h-2.8zM29.6 165h2.8v17.5h-2.8zM101.6 167h2.8v11.3h-2.8zM98.2 253.5h2.8v15.8h-2.8z" fill="#3a6a92" style="fill:#3a6a92"/>
<path d="M33.1 46h2.8v27.5h-2.8z" fill="#36918c" style="fill:#36918c"/>
<path d="M36.5 43.8h2.8v20.9h-2.8z" fill="#4ab472" style="fill:#4ab472"/>
<path d="M39.9 39.8h2.8v34.9h-2.8z" fill="#3aa587" style="fill:#3aa587"/>
<path d="M43.3 34.8h2.8v39.9h-2.8zM43.3 127.8h2.8v40h-2.8z" fill="#43ad7b" style="fill:#43ad7b"/>
<path d="M46.8 31h2.8v39.5h-2.8z" fill="#6cc85a" style="fill:#6cc85a"/>
<path d="M50.2 28h2.8v18.8h-2.8zM50.2 122h2.8v18.8h-2.8z" fill="#8fd445" style="fill:#8fd445"/>
<path d="M53.6 27.2h2.8v17.1h-2.8zM57.1 26.3h2.8v17.2h-2.8zM53.6 122h2.8v16.3h-2.8zM57.1 120.8h2.8v16.2h-2.8z" fill="#8ed445" style="fill:#8ed445"/>
<path d="M60.5 26.8h2.8v17.5h-2.8zM60.5 121.3h2.8v17h-2.8zM63.9 218.2h2.8v12.8h-2.8z" fill="#98d53f" style="fill:#98d53f"/>
<path d="M63.9 29h2.8v13.3h-2.8zM63.9 124.2h2.8v12.8h-2.8z" fill="#8bd247" style="fill:#8bd247"/>
<path d="M67.3 34.8h2.8v11.2h-2.8zM67.3 128.8h2.8v11.2h-2.8z" fill="#5bc264" style="fill:#5bc264"/>
<path d="M70.8 41h2.8v49h-2.8zM70.8 135h2.8v49.5h-2.8z" fill="#36808d" style="fill:#36808d"/>
<path d="M74.2 40.7h2.8v56h-2.8z" fill="#3b5796" style="fill:#3b5796"/>
<path d="M77.6 45.7h2.8v47h-2.8zM77.6 140h2.8v47.3h-2.8z" fill="#36838d" style="fill:#36838d"/>
<path d="M81.1 53h2.8v30.8h-2.8zM81.1 148h2.8v30.7h-2.8z" fill="#338d8c" style="fill:#338d8c"/>
<path d="M84.5 58h2.8v15h-2.8zM84.5 153h2.8v14.3h-2.8z" fill="#32908b" style="fill:#32908b"/>
<path d="M87.9 55.2h2.8v17.8h-2.8zM94.8 54h2.8v19h-2.8zM87.9 149.7h2.8v18.1h-2.8zM94.8 148.8h2.8v19.9h-2.8z" fill="#33908b" style="fill:#33908b"/>
<path d="M91.3 55.2h2.8v14.5h-2.8zM91.3 150.8h2.8v14.2h-2.8z" fill="#32938a" style="fill:#32938a"/>
<path d="M98.2 59h2.8v19h-2.8zM98.2 153.3h2.8v18.7h-2.8z" fill="#34858d" style="fill:#34858d"/>
<path d="M105.1 79.7h2.8v11.3h-2.8zM105.1 174h2.8v11h-2.8z" fill="#3d4f90" style="fill:#3d4f90"/>
<path d="M116.2 44.8h2.8v14.9h-2.8z" fill="#48b26f" style="fill:#48b26f"/>
<path d="M119.7 38.8h2.8v12.2h-2.8zM123.1 39h2.8v12.8h-2.8zM130 38h2.8v13.8h-2.8zM133.4 38h2.8v12.7h-2.8zM119.7 128.8h2.8v14.2h-2.8zM143.7 131.2h2.8v13h-2.8z" fill="#55bd6a" style="fill:#55bd6a"/>
<path d="M126.5 35.7h2.8v15h-2.8zM247.5 125h2.8v23h-2.8z" fill="#5cc264" style="fill:#5cc264"/>
<path d="M136.8 39.3h2.8v16.7h-2.8zM136.8 227.8h2.8v13.7h-2.8zM140.2 224.3h2.8v18.9h-2.8z" fill="#4ab570" style="fill:#4ab570"/>
<path d="M140.2 37.2h2.8v21.3h-2.8z" fill="#48b371" style="fill:#48b371"/>
<path d="M143.7 36h2.8v14.2h-2.8zM247.5 29h2.8v24.5h-2.8zM254.4 34h2.8v12.8h-2.8z" fill="#5ac365" style="fill:#5ac365"/>
<path d="M147.1 33h2.8v11.7h-2.8zM160.8 123h2.8v21.7h-2.8z" fill="#6ecb57" style="fill:#6ecb57"/>
<path d="M150.5 28.2h2.8v16.5h-2.8zM150.5 217.3h2.8v15.9h-2.8z" fill="#85d24a" style="fill:#85d24a"/>
<path d="M154 27.2h2.8v12.6h-2.8zM60.5 216.5h2.8v15.8h-2.8zM157.4 216.5h2.8v12.2h-2.8z" fill="#a0d83b" style="fill:#a0d83b"/>
<path d="M157.4 29h2.8v11.7h-2.8zM157.4 121.2h2.8v11.8h-2.8z" fill="#9cd83b" style="fill:#9cd83b"/>
<path d="M160.8 29h2.8v21.7h-2.8z" fill="#7ccf52" style="fill:#7ccf52"/>
<path d="M164.2 34h2.8v22.8h-2.8z" fill="#3eaa7f" style="fill:#3eaa7f"/>
<path d="M167.7 33.2h2.8v51.5h-2.8z" fill="#2fa287" style="fill:#2fa287"/>
<path d="M171.1 43h2.8v53.7h-2.8z" fill="#2a9689" style="fill:#2a9689"/>
<path d="M174.5 48.2h2.8v44h-2.8z" fill="#2c958a" style="fill:#2c958a"/>
<path d="M178 55.7h2.8v19.8h-2.8zM178 151.3h2.8v27.4h-2.8zM87.9 244.8h2.8v17h-2.8z" fill="#2f8d8c" style="fill:#2f8d8c"/>
<path d="M181.4 60.2h2.8v10.8h-2.8z" fill="#30858d" style="fill:#30858d"/>
<path d="M184.8 64.3h2.8v11.2h-2.8z" fill="#31808d" style="fill:#31808d"/>
<path d="M188.2 67.7h2.8v11.1h-2.8z" fill="#34728f" style="fill:#34728f"/>
<path d="M191.7 71h2.8v10h-2.8z" fill="#36678f" style="fill:#36678f"/>
<path d="M195.1 76.7h2.8v8h-2.8z" fill="#3a5890" style="fill:#3a5890"/>
<path d="M198.5 83.3h2.8v7.7h-2.8z" fill="#3d4590" style="fill:#3d4590"/>
<path d="M201.9 88h2.8v6.3h-2.8z" fill="#40348c" style="fill:#40348c"/>
<path d="M213.2 23.8h2.8v6.9h-2.8z" fill="#a8d833" style="fill:#a8d833"/>
<path d="M216.7 24.7h2.8v8h-2.8z" fill="#9ed63a" style="fill:#9ed63a"/>
<path d="M220.1 24h2.8v10h-2.8z" fill="#a4d836" style="fill:#a4d836"/>
<path d="M223.5 26.8h2.8v10h-2.8z" fill="#a0d93d" style="fill:#a0d93d"/>
<path d="M227 32.2h2.8v9.6h-2.8z" fill="#7bd24f" style="fill:#7bd24f"/>
<path d="M230.4 35.2h2.8v11.3h-2.8z" fill="#6bcb5c" style="fill:#6bcb5c"/>
<path d="M233.8 38h2.8v13.8h-2.8zM257.8 34.8h2.8v21.4h-2.8z" fill="#4cba6e" style="fill:#4cba6e"/>
<path d="M237.2 36h2.8v20.8h-2.8z" fill="#41b475" style="fill:#41b475"/>
<path d="M240.7 30.2h2.8v26.6h-2.8z" fill="#47b873" style="fill:#47b873"/>
<path d="M244.1 34.8h2.8v22h-2.8z" fill="#4ab970" style="fill:#4ab970"/>
<path d="M251 29h2.8v20.3h-2.8z" fill="#5bc464" style="fill:#5bc464"/>
<path d="M261.2 36.8h2.8v32.9h-2.8z" fill="#3fa986" style="fill:#3fa986"/>
<path d="M264.7 34.8h2.8v38.5h-2.8z" fill="#3aa187" style="fill:#3aa187"/>
<path d="M268.1 41.3h2.8v32h-2.8z" fill="#379a89" style="fill:#379a89"/>
<path d="M271.5 46h2.8v26.2h-2.8z" fill="#34908c" style="fill:#34908c"/>
<path d="M275 54h2.8v17.7h-2.8z" fill="#33878d" style="fill:#33878d"/>
<path d="M278.4 61.8h2.8v14.2h-2.8z" fill="#2e7d8e" style="fill:#2e7d8e"/>
<path d="M281.8 73h2.8v12.5h-2.8zM281.8 259h2.8v12.8h-2.8z" fill="#3a5f8f" style="fill:#3a5f8f"/>
<path d="M285.2 78h2.8v15.8h-2.8z" fill="#3d4f8f" style="fill:#3d4f8f"/>
<path d="M288.7 82.2h2.8v15.5h-2.8z" fill="#433b8a" style="fill:#433b8a"/>
<path d="M292.1 85.2h2.8v15.8h-2.8z" fill="#45308a" style="fill:#45308a"/>
<path d="M295.5 87.2h2.8v15.5h-2.8z" fill="#45298a" style="fill:#45298a"/>
<path d="M298.9 87.2h2.8v11.3h-2.8z" fill="#432d88" style="fill:#432d88"/>
<path d="M19.4 176.7h2.8v17.8h-2.8z" fill="#3c418d" style="fill:#3c418d"/>
<path d="M33.1 140.5h2.8v24.8h-2.8zM33.1 234h2.8v25.3h-2.8z" fill="#3aa386" style="fill:#3aa386"/>
<path d="M36.5 138h2.8v17.7h-2.8z" fill="#49b172" style="fill:#49b172"/>
<path d="M39.9 133.8h2.8v34h-2.8z" fill="#3fa88a" style="fill:#3fa88a"/>
<path d="M46.8 125.8h2.8v35.4h-2.8z" fill="#5ec865" style="fill:#5ec865"/>
<path d="M74.2 135h2.8v56.7h-2.8z" fill="#3e4f8e" style="fill:#3e4f8e"/>
<path d="M116.2 140h2.8v10.8h-2.8z" fill="#45b074" style="fill:#45b074"/>
<path d="M123.1 126.2h2.8v17.6h-2.8z" fill="#58c067" style="fill:#58c067"/>
<path d="M126.5 122h2.8v21.3h-2.8z" fill="#5fc462" style="fill:#5fc462"/>
<path d="M130 129.7h2.8v17.3h-2.8z" fill="#51bb6c" style="fill:#51bb6c"/>
<path d="M133.4 133.3h2.8v11.7h-2.8z" fill="#4db86f" style="fill:#4db86f"/>
<path d="M136.8 134.2h2.8v15.8h-2.8z" fill="#46b272" style="fill:#46b272"/>
<path d="M140.2 132h2.8v18.8h-2.8z" fill="#4bb670" style="fill:#4bb670"/>
<path d="M147.1 128.8h2.8v10.9h-2.8z" fill="#64c75f" style="fill:#64c75f"/>
<path d="M150.5 124.2h2.8v15.5h-2.8z" fill="#7fd34e" style="fill:#7fd34e"/>
<path d="M154 121.2h2.8v11.8h-2.8z" fill="#a2da37" style="fill:#a2da37"/>
<path d="M164.2 130h2.8v18.7h-2.8zM39.9 229h2.8v22.8h-2.8z" fill="#4cb870" style="fill:#4cb870"/>
<path d="M167.7 130h2.8v54.5h-2.8z" fill="#2e9a89" style="fill:#2e9a89"/>
<path d="M171.1 138h2.8v55.7h-2.8z" fill="#2b8f8b" style="fill:#2b8f8b"/>
<path d="M174.5 143h2.8v48.7h-2.8z" fill="#2d958a" style="fill:#2d958a"/>
<path d="M181.4 157h2.8v13.8h-2.8z" fill="#33798e" style="fill:#33798e"/>
<path d="M184.8 159h2.8v13.8h-2.8zM184.8 253h2.8v11h-2.8z" fill="#35718e" style="fill:#35718e"/>
<path d="M188.2 159.5h2.8v13.3h-2.8z" fill="#36708e" style="fill:#36708e"/>
<path d="M191.7 160h2.8v13.7h-2.8z" fill="#34758e" style="fill:#34758e"/>
<path d="M195.1 168.3h2.8v9h-2.8z" fill="#3b5b8f" style="fill:#3b5b8f"/>
<path d="M198.5 176.2h2.8v8.3h-2.8z" fill="#3b4990" style="fill:#3b4990"/>
<path d="M201.9 178.3h2.8v9.5h-2.8z" fill="#3f3e8e" style="fill:#3f3e8e"/>
<path d="M213.2 117h2.8v7.2h-2.8z" fill="#b0d92e" style="fill:#b0d92e"/>
<path d="M216.7 118h2.8v7.8h-2.8z" fill="#a8d934" style="fill:#a8d934"/>
<path d="M220.1 117h2.8v8.3h-2.8z" fill="#acd832" style="fill:#acd832"/>
<path d="M223.5 118.7h2.8v11h-2.8z" fill="#9fd73a" style="fill:#9fd73a"/>
<path d="M227 125.3h2.8v14.4h-2.8z" fill="#83d24b" style="fill:#83d24b"/>
<path d="M230.4 130h2.8v12.5h-2.8z" fill="#6fca57" style="fill:#6fca57"/>
<path d="M233.8 132h2.8v14.3h-2.8z" fill="#52bb6b" style="fill:#52bb6b"/>
<path d="M237.2 129.7h2.8v17.3h-2.8z" fill="#4fba6d" style="fill:#4fba6d"/>
<path d="M240.7 124.2h2.8v22.5h-2.8z" fill="#48b473" style="fill:#48b473"/>
<path d="M244.1 130h2.8v19.7h-2.8z" fill="#50ba6d" style="fill:#50ba6d"/>
<path d="M251 123h2.8v15.7h-2.8z" fill="#74cc55" style="fill:#74cc55"/>
<path d="M254.4 126.2h2.8v12.5h-2.8z" fill="#6dc959" style="fill:#6dc959"/>
<path d="M257.8 128.7h2.8v23h-2.8zM244.1 224.8h2.8v16.2h-2.8z" fill="#4db86e" style="fill:#4db86e"/>
<path d="M261.2 131.7h2.8v29.5h-2.8z" fill="#3ca886" style="fill:#3ca886"/>
<path d="M264.7 133h2.8v36.5h-2.8z" fill="#3a9e88" style="fill:#3a9e88"/>
<path d="M268.1 143h2.8v41.5h-2.8z" fill="#2f998a" style="fill:#2f998a"/>
<path d="M271.5 147h2.8v29.7h-2.8z" fill="#348d8c" style="fill:#348d8c"/>
<path d="M275 154.7h2.8v24h-2.8z" fill="#33808d" style="fill:#33808d"/>
<path d="M278.4 163.3h2.8v13.4h-2.8z" fill="#34708e" style="fill:#34708e"/>
<path d="M281.8 170.8h2.8v13.7h-2.8z" fill="#3b5a90" style="fill:#3b5a90"/>
<path d="M285.2 173.3h2.8v11.2h-2.8zM285.2 261.3h2.8v15.5h-2.8z" fill="#3d5190" style="fill:#3d5190"/>
<path d="M288.7 173.7h2.8v17h-2.8z" fill="#43398b" style="fill:#43398b"/>
<path d="M292.1 175h2.8v18.7h-2.8z" fill="#462f8a" style="fill:#462f8a"/>
<path d="M295.5 173.3h2.8v22.9h-2.8z" fill="#46298a" style="fill:#46298a"/>
<path d="M298.9 168.7h2.8v23h-2.8z" fill="#3d4d8f" style="fill:#3d4d8f"/>
<path d="M29.6 256.8h2.8v16.7h-2.8z" fill="#3a7a8f" style="fill:#3a7a8f"/>
<path d="M36.5 234h2.8v7.5h-2.8z" fill="#52bc6a" style="fill:#52bc6a"/>
<path d="M43.3 222h2.8v27.3h-2.8z" fill="#56bf69" style="fill:#56bf69"/>
<path d="M46.8 219.8h2.8v23h-2.8zM254.4 220.7h2.8v11.3h-2.8z" fill="#6ac95a" style="fill:#6ac95a"/>
<path d="M50.2 216h2.8v17.7h-2.8z" fill="#8bd448" style="fill:#8bd448"/>
<path d="M53.6 215.2h2.8v17.5h-2.8zM57.1 215.2h2.8v17.5h-2.8z" fill="#94d542" style="fill:#94d542"/>
<path d="M67.3 222.7h2.8v11.3h-2.8z" fill="#6ec858" style="fill:#6ec858"/>
<path d="M70.8 229.8h2.8v47h-2.8z" fill="#2f9a89" style="fill:#2f9a89"/>
<path d="M74.2 230.7h2.8v55h-2.8z" fill="#3b5a91" style="fill:#3b5a91"/>
<path d="M77.6 236.5h2.8v44.2h-2.8z" fill="#2e968a" style="fill:#2e968a"/>
<path d="M81.1 244.8h2.8v27h-2.8zM91.3 247h2.8v13.7h-2.8z" fill="#2f8f8b" style="fill:#2f8f8b"/>
<path d="M84.5 248.2h2.8v14.5h-2.8z" fill="#2d8a8c" style="fill:#2d8a8c"/>
<path d="M94.8 247h2.8v17.7h-2.8z" fill="#30898c" style="fill:#30898c"/>
<path d="M101.6 265.2h2.8v9.1h-2.8z" fill="#3b5b91" style="fill:#3b5b91"/>
<path d="M105.1 271.8h2.8v9.2h-2.8z" fill="#3e488f" style="fill:#3e488f"/>
<path d="M116.2 234.8h2.8v7.2h-2.8z" fill="#3ea879" style="fill:#3ea879"/>
<path d="M119.7 224.8h2.8v13.9h-2.8z" fill="#50b96d" style="fill:#50b96d"/>
<path d="M123.1 230.3h2.8v11.7h-2.8z" fill="#46b273" style="fill:#46b273"/>
<path d="M126.5 222.8h2.8v16.7h-2.8zM133.4 226h2.8v11h-2.8z" fill="#53bd6b" style="fill:#53bd6b"/>
<path d="M130 220.2h2.8v19.6h-2.8z" fill="#55be69" style="fill:#55be69"/>
<path d="M143.7 226h2.8v11h-2.8z" fill="#57bf68" style="fill:#57bf68"/>
<path d="M147.1 222.8h2.8v9.5h-2.8z" fill="#68c85b" style="fill:#68c85b"/>
<path d="M154 215.7h2.8v11.6h-2.8z" fill="#a4d937" style="fill:#a4d937"/>
<path d="M160.8 218.2h2.8v20.8h-2.8z" fill="#7ccf51" style="fill:#7ccf51"/>
<path d="M164.2 225.7h2.8v18h-2.8zM257.8 222.8h2.8v22h-2.8z" fill="#47b472" style="fill:#47b472"/>
<path d="M167.7 224.8h2.8v47h-2.8z" fill="#2fa087" style="fill:#2fa087"/>
<path d="M171.1 234.8h2.8v51.2h-2.8z" fill="#2c908b" style="fill:#2c908b"/>
<path d="M174.5 239.8h2.8v42h-2.8z" fill="#2f988a" style="fill:#2f988a"/>
<path d="M178 247.3h2.8v18.7h-2.8z" fill="#31878c" style="fill:#31878c"/>
<path d="M181.4 250.7h2.8v10h-2.8z" fill="#33778e" style="fill:#33778e"/>
<path d="M188.2 255.7h2.8v11.1h-2.8z" fill="#37688f" style="fill:#37688f"/>
<path d="M191.7 259.3h2.8v9.2h-2.8z" fill="#3a618f" style="fill:#3a618f"/>
<path d="M195.1 266.8h2.8v7.2h-2.8z" fill="#3c4f90" style="fill:#3c4f90"/>
<path d="M198.5 273h2.8v6h-2.8z" fill="#3e3f8e" style="fill:#3e3f8e"/>
<path d="M201.9 276.8h2.8v7.2h-2.8z" fill="#45318b" style="fill:#45318b"/>
<path d="M213.2 211.5h2.8v9.2h-2.8z" fill="#a6d836" style="fill:#a6d836"/>
<path d="M216.7 212.7h2.8v8.5h-2.8z" fill="#a0d83a" style="fill:#a0d83a"/>
<path d="M220.1 213.2h2.8v11.6h-2.8z" fill="#9ed73a" style="fill:#9ed73a"/>
<path d="M223.5 214.8h2.8v11.2h-2.8z" fill="#8fd545" style="fill:#8fd545"/>
<path d="M227 219h2.8v12.5h-2.8z" fill="#7ed04f" style="fill:#7ed04f"/>
<path d="M230.4 223.2h2.8v10.8h-2.8z" fill="#6acb5a" style="fill:#6acb5a"/>
<path d="M233.8 226h2.8v14.7h-2.8z" fill="#4fbb6c" style="fill:#4fbb6c"/>
<path d="M237.2 224h2.8v21.7h-2.8z" fill="#45b274" style="fill:#45b274"/>
<path d="M240.7 220.7h2.8v20.8h-2.8z" fill="#4ab770" style="fill:#4ab770"/>
<path d="M247.5 218.2h2.8v22.8h-2.8z" fill="#5bc364" style="fill:#5bc364"/>
<path d="M251 217h2.8v16.2h-2.8z" fill="#6dca58" style="fill:#6dca58"/>
<path d="M261.2 225.7h2.8v25.6h-2.8z" fill="#3ca885" style="fill:#3ca885"/>
<path d="M264.7 224.8h2.8v36.5h-2.8z" fill="#3aa087" style="fill:#3aa087"/>
<path d="M268.1 237.3h2.8v33.4h-2.8z" fill="#35958a" style="fill:#35958a"/>
<path d="M271.5 241.5h2.8v27.8h-2.8z" fill="#348e8c" style="fill:#348e8c"/>
<path d="M275 248h2.8v14.7h-2.8z" fill="#31868d" style="fill:#31868d"/>
<path d="M278.4 253h2.8v12.7h-2.8z" fill="#33788e" style="fill:#33788e"/>
<path d="M288.7 266h2.8v14.7h-2.8z" fill="#41408c" style="fill:#41408c"/>
<path d="M292.1 271h2.8v14.7h-2.8z" fill="#44348a" style="fill:#44348a"/>
<path d="M295.5 274.3h2.8v14.7h-2.8z" fill="#462a8a" style="fill:#462a8a"/>
<path d="M298.9 276.8h2.8v11.7h-2.8z" fill="#452b89" style="fill:#452b89"/>
<path d="M365.6 72.2h3v21.6h-3zM369.2 67.2h3v25.5h-3zM372.8 66.7h3v21.3h-3zM376.4 62.2h3v25.5h-3zM379.9 57h3v15.6h-3zM383.5 53h3v14.6h-3zM478.9 60.7h3v24.3h-3zM482.5 54.7h3v22.5h-3zM486.1 51h3v21.7h-3zM489.6 48.5h3v20.8h-3zM493.2 46h3v15.8h-3zM496.8 44.3h3v11.4h-3zM591.9 60.7h3v28.1h-3zM595.5 69.3h3v19.5h-3zM599.1 68h3v13h-3zM602.7 63.8h3v20.9h-3zM606.3 58.5h3v14.5h-3zM609.9 56.8h3v14.5h-3zM365.6 170.7h3v18h-3zM369.2 164.5h3v24.2h-3zM372.8 163.3h3v25.4h-3zM376.4 156h3v28h-3zM379.9 149.2h3v13.6h-3zM383.5 144h3v17.7h-3zM478.9 158.3h3v17.9h-3zM482.5 149.2h3v19.5h-3zM486.1 151.3h3v20.4h-3zM489.6 143.3h3v24.5h-3zM493.2 134.7h3v14h-3zM496.8 135.3h3v9.7h-3zM591.9 157h3v30h-3zM595.5 159.2h3v23.6h-3zM599.1 163.7h3v19.1h-3zM602.7 155h3v23.7h-3zM606.3 149.2h3v15.3h-3zM609.9 146.7h3v15.3h-3zM365.6 258.5h3v16.2h-3zM369.2 256h3v17.5h-3zM372.8 256h3v13.3h-3zM376.4 251h3v18.7h-3zM379.9 244h3v14.5h-3zM383.5 239.8h3v14.5h-3zM478.9 238.2h3v23.6h-3zM482.5 242h3v14.8h-3zM486.1 239h3v19.5h-3zM489.6 233.2h3v20.3h-3zM493.2 229h3v17.5h-3zM496.8 231h3v10.5h-3zM591.9 243.2h3v27h-3zM595.5 252.3h3v15.7h-3zM599.1 257.3h3v11.7h-3zM602.7 251.8h3v18.4h-3zM606.3 244.8h3v13.7h-3zM609.9 241h3v15.3h-3z" fill="#f41818" style="fill:#f41818"/>
<path d="M387.1 54.6h3v19.4h-3zM390.7 58h3v18.8h-3zM394.3 52.8h3v29.7h-3zM397.9 55h3v24h-3zM401.5 51h3v26.5h-3zM500.4 43.5h3v14.2h-3zM504 44h3v18.2h-3zM507.6 40.7h3v26.5h-3zM511.1 43.5h3v27h-3zM514.7 41.3h3v24.2h-3zM613.5 59h3v19.8h-3zM617.1 60.7h3v20.6h-3zM620.7 56.8h3v27.5h-3zM624.3 57.7h3v23.6h-3zM627.9 55.2h3v26.1h-3zM387.1 143.3h3v20.5h-3zM390.7 146h3v18.5h-3zM394.3 141.2h3v21.2h-3zM397.9 137.7h3v24.7h-3zM401.5 136.3h3v23.3h-3zM500.4 132h3v16.3h-3zM504 130.3h3v16.4h-3zM507.6 128h3v12.8h-3zM511.1 128h3v20.3h-3zM514.7 127.5h3v16.7h-3zM613.5 146.3h3v12h-3zM617.1 148h3v20.7h-3zM620.7 143h3v15.7h-3zM624.3 140.8h3v17.9h-3zM627.9 137.5h3v21.2h-3zM387.1 238.2h3v21.1h-3zM390.7 240.3h3v21.5h-3zM394.3 237.3h3v22.9h-3zM397.9 234h3v24.5h-3zM401.5 234h3v22h-3zM500.4 226.5h3v16.7h-3zM504 223.7h3v21.1h-3zM507.6 223.7h3v17.8h-3zM511.1 224h3v20.8h-3zM514.7 221.5h3v20h-3zM613.5 241h3v16.7h-3zM617.1 243.7h3v19.8h-3zM620.7 239.8h3v18.7h-3zM624.3 236.5h3v22h-3zM627.9 234h3v25.3h-3z" fill="#e9a6ac" style="fill:#e9a6ac"/>
<path d="M405.1 56.3h3v22.7h-3zM408.6 62h3v23.3h-3zM412.2 58.4h3v25.6h-3zM415.8 56h3v25h-3zM419.4 52h3v22.7h-3zM518.3 46.8h3v12.3h-3zM521.9 51h3v23.7h-3zM525.5 48.5h3v26.2h-3zM529.1 44h3v27.9h-3zM532.6 43h3v19h-3zM631.5 58.5h3v17.8h-3zM635.1 60.7h3v23.1h-3zM638.8 57.3h3v31h-3zM642.4 57.7h3v23.3h-3zM646 54h3v17.3h-3zM405.1 137h3v21.9h-3zM408.6 133.4h3v29h-3zM412.2 131.3h3v29h-3zM415.8 129.2h3v27.6h-3zM419.4 127h3v28.4h-3zM518.3 123.3h3v21.7h-3zM521.9 122.5h3v22.7h-3zM525.5 120.8h3v21.7h-3zM529.1 120.8h3v22.5h-3zM532.6 120.8h3v23.4h-3zM631.5 135h3v23.3h-3zM635.1 130.8h3v27.5h-3zM638.8 127.5h3v28.3h-3zM642.4 125.8h3v30h-3zM646 125.8h3v28.9h-3zM405.1 239.8h3v12.9h-3zM408.6 235.7h3v26.1h-3zM412.2 233.7h3v29h-3zM415.8 228.7h3v30.6h-3zM419.4 224h3v28.7h-3zM518.3 224.8h3v20.9h-3zM521.9 223.2h3v30h-3zM525.5 220.7h3v24.1h-3zM529.1 216h3v28.8h-3zM532.6 215.3h3v26.7h-3zM631.5 235.7h3v23.6h-3zM635.1 231.5h3v28.7h-3zM638.8 228.7h3v36.5h-3zM642.4 227.3h3v35.4h-3zM646 223.7h3v29h-3z" fill="#aadde6" style="fill:#aadde6"/>
<path d="M423 51.8h3v19.4h-3zM426.6 46.8h3v19.4h-3zM430.2 43h3v16h-3zM433.8 39h3v12h-3zM437.3 36.3h3v12.2h-3zM440.9 36h3v18.7h-3zM444.5 36.8h3v15.5h-3zM448.1 41h3v12h-3zM451.7 41h3v7.5h-3zM536.2 42.7h3v19.3h-3zM539.8 37.3h3v19.7h-3zM543.4 36.8h3v12.9h-3zM547 36h3v9.2h-3zM550.6 38h3v6.3h-3zM554.1 41h3v5.8h-3zM557.7 44h3v7.3h-3zM561.3 45.2h3v8.3h-3zM564.9 45.2h3v12.5h-3zM649.6 52.7h3v17.3h-3zM653.2 48.5h3v16h-3zM656.8 44h3v15h-3zM660.4 39h3v11.7h-3zM664 33.5h3v12.2h-3zM667.6 31.8h3v15.9h-3zM671.2 28.5h3v13.3h-3zM674.8 26h3v18.3h-3zM678.4 24h3v7h-3zM423 127.3h3v26.8h-3zM426.6 128h3v20h-3zM430.2 130h3v17h-3zM433.8 130h3v11h-3zM437.3 128h3v16.2h-3zM440.9 131.7h3v19.1h-3zM444.5 133.3h3v13.7h-3zM448.1 133.3h3v9.7h-3zM451.7 137h3v6h-3zM536.2 120.3h3v20.5h-3zM539.8 121.3h3v15.7h-3zM543.4 122.5h3v14.5h-3zM547 123.3h3v13h-3zM550.6 127h3v9.7h-3zM554.1 134.2h3v9.5h-3zM557.7 131.3h3v8.4h-3zM561.3 139.2h3v5.5h-3zM564.9 132.5h3v11.7h-3zM649.6 124.7h3v25.3h-3zM653.2 124.7h3v23.3h-3zM656.8 125h3v17.5h-3zM660.4 125.8h3v13.9h-3zM664 120.3h3v16.4h-3zM667.6 122h3v17.7h-3zM671.2 118h3v17.8h-3zM674.8 117h3v6.7h-3zM678.4 117.5h3v6.2h-3zM423 228.2h3v24.5h-3zM426.6 228.2h3v19.5h-3zM430.2 228.7h3v12.8h-3zM433.8 225.7h3v10.8h-3zM437.3 223.2h3v10.5h-3zM440.9 226h3v14.3h-3zM444.5 227h3v12.3h-3zM448.1 230.3h3v11.2h-3zM451.7 231.5h3v5.5h-3zM536.2 216.5h3v26.2h-3zM539.8 218.2h3v18.8h-3zM543.4 220.7h3v13.3h-3zM547 223.2h3v8.3h-3zM550.6 224h3v7h-3zM554.1 228.2h3v7.5h-3zM557.7 231.5h3v7.8h-3zM561.3 233.2h3v6.1h-3zM564.9 219h3v24.7h-3zM649.6 225.3h3v23.2h-3zM653.2 224.8h3v20h-3zM656.8 224.8h3v15h-3zM660.4 221.5h3v12.2h-3zM664 215.3h3v12h-3zM667.6 214.8h3v15.9h-3zM671.2 212.3h3v15h-3zM674.8 211.5h3v14.2h-3zM678.4 211h3v4.3h-3z" fill="#40a0e8" style="fill:#40a0e8"/>
<path d="M19.4 91.8h2.8M22.8 85h2.8M26.2 85.3h2.8M29.6 80.8h2.8M33.1 59.8h2.8M36.5 54.2h2.8M39.9 57.2h2.8M43.3 54.8h2.8M46.8 50.8h2.8M50.2 37.4h2.8M53.6 35.8h2.8M57.1 34.9h2.8M60.5 35.5h2.8M63.9 35.6h2.8M67.3 40.4h2.8M70.8 65.5h2.8M74.2 68.7h2.8M77.6 69.2h2.8M81.1 68.4h2.8M84.5 65.5h2.8M87.9 64.1h2.8M91.3 62.5h2.8M94.8 63.5h2.8M98.2 68.5h2.8M101.6 78.2h2.8M105.1 85.3h2.8M116.2 52.2h2.8M119.7 44.9h2.8M123.1 45.4h2.8M126.5 43.2h2.8M130 44.9h2.8M133.4 44.4h2.8M136.8 47.6h2.8M140.2 47.9h2.8M143.7 43.1h2.8M147.1 38.9h2.8M150.5 36.5h2.8M154 33.5h2.8M157.4 34.9h2.8M160.8 39.9h2.8M164.2 45.4h2.8M167.7 59h2.8M171.1 69.8h2.8M174.5 70.2h2.8M178 65.6h2.8M181.4 65.6h2.8M184.8 69.9h2.8M188.2 73.2h2.8M191.7 76h2.8M195.1 80.7h2.8M198.5 87.2h2.8M201.9 91.2h2.8M213.2 27.2h2.8M216.7 28.7h2.8M220.1 29h2.8M223.5 31.8h2.8M227 37h2.8M230.4 40.9h2.8M233.8 44.9h2.8M237.2 46.4h2.8M240.7 43.5h2.8M244.1 45.8h2.8M247.5 41.2h2.8M251 39.1h2.8M254.4 40.4h2.8M257.8 45.5h2.8M261.2 53.2h2.8M264.7 54h2.8M268.1 57.3h2.8M271.5 59.1h2.8M275 62.9h2.8M278.4 68.9h2.8M281.8 79.2h2.8M285.2 85.9h2.8M288.7 90h2.8M292.1 93.1h2.8M295.5 95h2.8M298.9 92.8h2.8M19.4 185.6h2.8M22.8 178.4h2.8M26.2 178.8h2.8M29.6 173.8h2.8M33.1 152.9h2.8M36.5 146.8h2.8M39.9 150.8h2.8M43.3 147.8h2.8M46.8 143.5h2.8M50.2 131.4h2.8M53.6 130.2h2.8M57.1 128.9h2.8M60.5 129.8h2.8M63.9 130.6h2.8M67.3 134.4h2.8M70.8 159.8h2.8M74.2 163.3h2.8M77.6 163.7h2.8M81.1 163.3h2.8M84.5 160.2h2.8M87.9 158.8h2.8M91.3 157.9h2.8M94.8 158.8h2.8M98.2 162.7h2.8M101.6 172.7h2.8M105.1 179.5h2.8M116.2 145.4h2.8M119.7 135.9h2.8M123.1 135h2.8M126.5 132.7h2.8M130 138.3h2.8M133.4 139.2h2.8M136.8 142.1h2.8M140.2 141.4h2.8M143.7 137.7h2.8M147.1 134.2h2.8M150.5 131.9h2.8M154 127.1h2.8M157.4 127.1h2.8M160.8 133.8h2.8M164.2 139.3h2.8M167.7 157.2h2.8M171.1 165.8h2.8M174.5 167.3h2.8M178 165h2.8M181.4 163.9h2.8M184.8 165.9h2.8M188.2 166.2h2.8M191.7 166.8h2.8M195.1 172.8h2.8M198.5 180.3h2.8M201.9 183.1h2.8M213.2 120.6h2.8M216.7 121.9h2.8M220.1 121.2h2.8M223.5 124.2h2.8M227 132.5h2.8M230.4 136.2h2.8M233.8 139.2h2.8M237.2 138.3h2.8M240.7 135.4h2.8M244.1 139.8h2.8M247.5 136.5h2.8M251 130.8h2.8M254.4 132.4h2.8M257.8 140.2h2.8M261.2 146.4h2.8M264.7 151.2h2.8M268.1 163.8h2.8M271.5 161.8h2.8M275 166.7h2.8M278.4 170h2.8M281.8 177.7h2.8M285.2 178.9h2.8M288.7 182.2h2.8M292.1 184.3h2.8M295.5 184.8h2.8M298.9 180.2h2.8M19.4 278.6h2.8M22.8 271.9h2.8M26.2 271.6h2.8M29.6 265.1h2.8M33.1 246.7h2.8M36.5 237.8h2.8M39.9 240.4h2.8M43.3 235.7h2.8M46.8 231.3h2.8M50.2 224.8h2.8M53.6 223.9h2.8M57.1 223.9h2.8M60.5 224.4h2.8M63.9 224.6h2.8M67.3 228.3h2.8M70.8 253.3h2.8M74.2 258.2h2.8M77.6 258.6h2.8M81.1 258.3h2.8M84.5 255.4h2.8M87.9 253.3h2.8M91.3 253.8h2.8M94.8 255.8h2.8M98.2 261.4h2.8M101.6 269.8h2.8M105.1 276.4h2.8M116.2 238.4h2.8M119.7 231.8h2.8M123.1 236.2h2.8M126.5 231.2h2.8M130 230h2.8M133.4 231.5h2.8M136.8 234.7h2.8M140.2 233.8h2.8M143.7 231.5h2.8M147.1 227.6h2.8M150.5 225.2h2.8M154 221.5h2.8M157.4 222.6h2.8M160.8 228.6h2.8M164.2 234.7h2.8M167.7 248.3h2.8M171.1 260.4h2.8M174.5 260.8h2.8M178 256.6h2.8M181.4 255.7h2.8M184.8 258.5h2.8M188.2 261.2h2.8M191.7 263.9h2.8M195.1 270.4h2.8M198.5 276h2.8M201.9 280.4h2.8M213.2 216.1h2.8M216.7 216.9h2.8M220.1 219h2.8M223.5 220.4h2.8M227 225.2h2.8M230.4 228.6h2.8M233.8 233.3h2.8M237.2 234.8h2.8M240.7 231.1h2.8M244.1 232.9h2.8M247.5 229.6h2.8M251 225.1h2.8M254.4 226.3h2.8M257.8 233.8h2.8M261.2 238.5h2.8M264.7 243.1h2.8M268.1 254h2.8M271.5 255.4h2.8M275 255.3h2.8M278.4 259.4h2.8M281.8 265.4h2.8M285.2 269.1h2.8M288.7 273.4h2.8M292.1 278.4h2.8M295.5 281.6h2.8M298.9 282.6h2.8M365.7 83h2.8M369.3 80h2.8M372.9 77.3h2.8M376.5 75h2.8M380.1 64.8h2.8M383.6 60.3h2.8M387.2 64.3h2.8M390.8 67.4h2.8M394.4 67.7h2.8M398 67h2.8M401.6 64.2h2.8M405.2 67.7h2.8M408.8 73.7h2.8M412.3 71.2h2.8M415.9 68.5h2.8M419.5 63.4h2.8M423.1 61.5h2.8M426.7 56.5h2.8M430.3 51h2.8M433.9 45h2.8M437.4 42.4h2.8M441 45.4h2.8M444.6 44.5h2.8M448.2 47h2.8M451.8 44.8h2.8M479 72.8h2.8M482.6 66h2.8M486.2 61.9h2.8M489.7 58.9h2.8M493.3 53.9h2.8M496.9 50h2.8M500.5 50.6h2.8M504.1 53.1h2.8M507.7 54h2.8M511.2 57h2.8M514.8 53.4h2.8M518.4 53h2.8M522 62.9h2.8M525.6 61.6h2.8M529.2 58h2.8M532.7 52.5h2.8M536.3 52.4h2.8M539.9 47.1h2.8M543.5 43.2h2.8M547.1 40.6h2.8M550.7 41.1h2.8M554.2 43.9h2.8M557.8 47.6h2.8M561.4 49.4h2.8M565 51.5h2.8M592 74.8h2.8M595.6 79h2.8M599.2 74.5h2.8M602.8 74.2h2.8M606.4 65.8h2.8M610 64h2.8M613.6 68.9h2.8M617.2 71h2.8M620.8 70.5h2.8M624.4 69.5h2.8M628 68.2h2.8M631.6 67.4h2.8M635.2 72.2h2.8M638.9 72.8h2.8M642.5 69.3h2.8M646.1 62.6h2.8M649.7 61.4h2.8M653.3 56.5h2.8M656.9 51.5h2.8M660.5 44.9h2.8M664.1 39.6h2.8M667.7 39.8h2.8M671.3 35.1h2.8M674.9 35.1h2.8M678.5 27.5h2.8M365.7 179.7h2.8M369.3 176.6h2.8M372.9 176h2.8M376.5 170h2.8M380.1 156h2.8M383.6 152.8h2.8M387.2 153.6h2.8M390.8 155.2h2.8M394.4 151.8h2.8M398 150.1h2.8M401.6 147.9h2.8M405.2 147.9h2.8M408.8 147.9h2.8M412.3 145.8h2.8M415.9 143h2.8M419.5 141.2h2.8M423.1 140.7h2.8M426.7 138h2.8M430.3 138.5h2.8M433.9 135.5h2.8M437.4 136.1h2.8M441 141.2h2.8M444.6 140.2h2.8M448.2 138.2h2.8M451.8 140h2.8M479 167.2h2.8M482.6 158.9h2.8M486.2 161.5h2.8M489.7 155.6h2.8M493.3 141.7h2.8M496.9 140.2h2.8M500.5 140.2h2.8M504.1 138.5h2.8M507.7 134.4h2.8M511.2 138.2h2.8M514.8 135.8h2.8M518.4 134.2h2.8M522 133.8h2.8M525.6 131.7h2.8M529.2 132.1h2.8M532.7 132.5h2.8M536.3 130.6h2.8M539.9 129.2h2.8M543.5 129.8h2.8M547.1 129.8h2.8M550.7 131.8h2.8M554.2 138.9h2.8M557.8 135.5h2.8M561.4 141.9h2.8M565 138.3h2.8M592 172h2.8M595.6 171h2.8M599.2 173.2h2.8M602.8 166.8h2.8M606.4 156.8h2.8M610 154.3h2.8M613.6 152.3h2.8M617.2 158.3h2.8M620.8 150.8h2.8M624.4 149.8h2.8M628 148.1h2.8M631.6 146.7h2.8M635.2 144.6h2.8M638.9 141.7h2.8M642.5 140.8h2.8M646.1 140.2h2.8M649.7 137.3h2.8M653.3 136.3h2.8M656.9 133.8h2.8M660.5 132.8h2.8M664.1 128.5h2.8M667.7 130.8h2.8M671.3 126.9h2.8M674.9 120.3h2.8M678.5 120.6h2.8M365.7 266.6h2.8M369.3 264.8h2.8M372.9 262.6h2.8M376.5 260.4h2.8M380.1 251.2h2.8M383.6 247.1h2.8M387.2 248.8h2.8M390.8 251.1h2.8M394.4 248.8h2.8M398 246.2h2.8M401.6 245h2.8M405.2 246.2h2.8M408.8 248.8h2.8M412.3 248.2h2.8M415.9 244h2.8M419.5 238.3h2.8M423.1 240.4h2.8M426.7 237.9h2.8M430.3 235.1h2.8M433.9 231.1h2.8M437.4 228.4h2.8M441 233.2h2.8M444.6 233.2h2.8M448.2 235.9h2.8M451.8 234.2h2.8M479 250h2.8M482.6 249.4h2.8M486.2 248.8h2.8M489.7 243.3h2.8M493.3 237.8h2.8M496.9 236.2h2.8M500.5 234.8h2.8M504.1 234.2h2.8M507.7 232.6h2.8M511.2 234.4h2.8M514.8 231.5h2.8M518.4 235.2h2.8M522 238.2h2.8M525.6 232.8h2.8M529.2 230.4h2.8M532.7 228.7h2.8M536.3 229.6h2.8M539.9 227.6h2.8M543.5 227.3h2.8M547.1 227.3h2.8M550.7 227.5h2.8M554.2 231.9h2.8M557.8 235.4h2.8M561.4 236.2h2.8M565 231.3h2.8M592 256.7h2.8M595.6 260.1h2.8M599.2 263.1h2.8M602.8 261h2.8M606.4 251.7h2.8M610 248.7h2.8M613.6 249.3h2.8M617.2 253.6h2.8M620.8 249.2h2.8M624.4 247.5h2.8M628 246.7h2.8M631.6 247.5h2.8M635.2 245.8h2.8M638.9 246.9h2.8M642.5 245h2.8M646.1 238.2h2.8M649.7 236.9h2.8M653.3 234.8h2.8M656.9 232.3h2.8M660.5 227.6h2.8M664.1 221.3h2.8M667.7 222.8h2.8M671.3 219.8h2.8M674.9 218.6h2.8M678.5 213.2h2.8" stroke="#000" stroke-opacity=".2" stroke-width="0.6"/>
<rect x="365.1" y="58" width="3.6" height="42" fill="url(#g0)"/><rect x="368.7" y="55" width="3.6" height="44.5" fill="url(#g1)"/><rect x="372.3" y="52" width="3.6" height="47" fill="url(#g2)"/><rect x="375.9" y="49" width="3.6" height="49.5" fill="url(#g3)"/><rect x="379.5" y="46" width="3.6" height="52" fill="url(#g4)"/><rect x="383" y="44.1" width="3.6" height="53.7" fill="url(#g5)"/><rect x="386.6" y="42.3" width="3.6" height="55.5" fill="url(#g6)"/><rect x="390.2" y="40.5" width="3.6" height="57.2" fill="url(#g7)"/><rect x="393.8" y="38.6" width="3.6" height="58.9" fill="url(#g8)"/><rect x="397.4" y="35.2" width="3.6" height="62.3" fill="url(#g9)"/><rect x="401" y="31.8" width="3.6" height="65.7" fill="url(#g10)"/><rect x="404.6" y="28.4" width="3.6" height="69.1" fill="url(#g11)"/><rect x="408.2" y="25" width="3.6" height="72.5" fill="url(#g12)"/><rect x="411.7" y="25.4" width="3.6" height="72.1" fill="url(#g13)"/><rect x="415.3" y="25.8" width="3.6" height="71.7" fill="url(#g14)"/><rect x="418.9" y="26.2" width="3.6" height="71.3" fill="url(#g15)"/><rect x="422.5" y="26.6" width="3.6" height="70.9" fill="url(#g16)"/><rect x="426.1" y="27.4" width="3.6" height="69.5" fill="url(#g17)"/><rect x="429.7" y="28.1" width="3.6" height="68.2" fill="url(#g18)"/><rect x="433.3" y="28.9" width="3.6" height="66.8" fill="url(#g19)"/><rect x="436.9" y="29.6" width="3.6" height="65.4" fill="url(#g20)"/><rect x="440.4" y="31.5" width="3.6" height="62.3" fill="url(#g21)"/><rect x="444" y="33.3" width="3.6" height="59.2" fill="url(#g22)"/><rect x="447.6" y="35.1" width="3.6" height="56.1" fill="url(#g23)"/><rect x="451.2" y="37" width="3.6" height="53" fill="url(#g24)"/><rect x="478.4" y="46" width="3.6" height="54" fill="url(#g25)"/><rect x="482" y="43" width="3.6" height="56" fill="url(#g26)"/><rect x="485.6" y="40" width="3.6" height="58" fill="url(#g27)"/><rect x="489.2" y="37" width="3.6" height="60" fill="url(#g28)"/><rect x="492.7" y="34" width="3.6" height="62" fill="url(#g29)"/><rect x="496.3" y="31.4" width="3.6" height="64.2" fill="url(#g30)"/><rect x="499.9" y="28.8" width="3.6" height="66.5" fill="url(#g31)"/><rect x="503.5" y="26.1" width="3.6" height="68.8" fill="url(#g32)"/><rect x="507.1" y="23.5" width="3.6" height="71" fill="url(#g33)"/><rect x="510.7" y="23.5" width="3.6" height="71" fill="url(#g34)"/><rect x="514.2" y="23.5" width="3.6" height="71" fill="url(#g35)"/><rect x="517.8" y="23.5" width="3.6" height="71" fill="url(#g36)"/><rect x="521.4" y="23.5" width="3.6" height="71" fill="url(#g37)"/><rect x="525" y="24.6" width="3.6" height="69.9" fill="url(#g38)"/><rect x="528.6" y="25.8" width="3.6" height="68.8" fill="url(#g39)"/><rect x="532.2" y="26.9" width="3.6" height="67.6" fill="url(#g40)"/><rect x="535.7" y="28" width="3.6" height="66.5" fill="url(#g41)"/><rect x="539.3" y="29.5" width="3.6" height="63.9" fill="url(#g42)"/><rect x="542.9" y="31" width="3.6" height="61.2" fill="url(#g43)"/><rect x="546.5" y="32.5" width="3.6" height="58.6" fill="url(#g44)"/><rect x="550.1" y="34" width="3.6" height="56" fill="url(#g45)"/><rect x="553.7" y="36.2" width="3.6" height="51.2" fill="url(#g46)"/><rect x="557.2" y="38.5" width="3.6" height="46.5" fill="url(#g47)"/><rect x="560.8" y="40.8" width="3.6" height="41.8" fill="url(#g48)"/><rect x="564.4" y="43" width="3.6" height="37" fill="url(#g49)"/><rect x="591.4" y="52" width="3.6" height="48" fill="url(#g50)"/><rect x="595" y="50.2" width="3.6" height="49.3" fill="url(#g51)"/><rect x="598.6" y="48.4" width="3.6" height="50.6" fill="url(#g52)"/><rect x="602.2" y="46.5" width="3.6" height="52" fill="url(#g53)"/><rect x="605.8" y="44.7" width="3.6" height="53.3" fill="url(#g54)"/><rect x="609.4" y="41.3" width="3.6" height="56.2" fill="url(#g55)"/><rect x="613" y="37.9" width="3.6" height="59.1" fill="url(#g56)"/><rect x="616.6" y="34.4" width="3.6" height="62.1" fill="url(#g57)"/><rect x="620.2" y="31" width="3.6" height="65" fill="url(#g58)"/><rect x="623.8" y="29.1" width="3.6" height="66.9" fill="url(#g59)"/><rect x="627.4" y="27.2" width="3.6" height="68.8" fill="url(#g60)"/><rect x="631" y="25.4" width="3.6" height="70.6" fill="url(#g61)"/><rect x="634.6" y="23.5" width="3.6" height="72.5" fill="url(#g62)"/><rect x="638.2" y="23.1" width="3.6" height="72.6" fill="url(#g63)"/><rect x="641.9" y="22.8" width="3.6" height="72.8" fill="url(#g64)"/><rect x="645.5" y="22.4" width="3.6" height="72.9" fill="url(#g65)"/><rect x="649.1" y="22" width="3.6" height="73" fill="url(#g66)"/><rect x="652.7" y="22" width="3.6" height="71.8" fill="url(#g67)"/><rect x="656.3" y="22" width="3.6" height="70.5" fill="url(#g68)"/><rect x="659.9" y="22" width="3.6" height="69.2" fill="url(#g69)"/><rect x="663.5" y="22" width="3.6" height="68" fill="url(#g70)"/><rect x="667.1" y="22.4" width="3.6" height="65.1" fill="url(#g71)"/><rect x="670.7" y="22.8" width="3.6" height="62.2" fill="url(#g72)"/><rect x="674.3" y="23.1" width="3.6" height="59.4" fill="url(#g73)"/><rect x="677.9" y="23" width="3.6" height="57" fill="url(#g74)"/><rect x="365.1" y="161" width="3.6" height="31" fill="url(#g75)"/><rect x="368.7" y="155.8" width="3.6" height="34.8" fill="url(#g76)"/><rect x="372.3" y="150.5" width="3.6" height="39.2" fill="url(#g77)"/><rect x="375.9" y="145.2" width="3.6" height="42.2" fill="url(#g78)"/><rect x="379.5" y="140" width="3.6" height="46" fill="url(#g79)"/><rect x="383" y="136.2" width="3.6" height="48.9" fill="url(#g80)"/><rect x="386.6" y="132.5" width="3.6" height="51.8" fill="url(#g81)"/><rect x="390.2" y="128.8" width="3.6" height="54.6" fill="url(#g82)"/><rect x="393.8" y="125" width="3.6" height="57.5" fill="url(#g83)"/><rect x="397.4" y="123.9" width="3.6" height="58.6" fill="url(#g84)"/><rect x="401" y="122.8" width="3.6" height="59.7" fill="url(#g85)"/><rect x="404.6" y="121.7" width="3.6" height="60.8" fill="url(#g86)"/><rect x="408.2" y="120.6" width="3.6" height="61.9" fill="url(#g87)"/><rect x="411.7" y="120.2" width="3.6" height="62.3" fill="url(#g88)"/><rect x="415.3" y="119.8" width="3.6" height="62.7" fill="url(#g89)"/><rect x="418.9" y="119.4" width="3.6" height="63.1" fill="url(#g90)"/><rect x="422.5" y="119" width="3.6" height="63.5" fill="url(#g91)"/><rect x="426.1" y="119.8" width="3.6" height="59.6" fill="url(#g92)"/><rect x="429.7" y="120.5" width="3.6" height="55.8" fill="url(#g93)"/><rect x="433.3" y="121.2" width="3.6" height="51.9" fill="url(#g94)"/><rect x="436.9" y="122" width="3.6" height="48" fill="url(#g95)"/><rect x="440.4" y="124.2" width="3.6" height="43.2" fill="url(#g96)"/><rect x="444" y="126.5" width="3.6" height="38.5" fill="url(#g97)"/><rect x="447.6" y="128.8" width="3.6" height="33.8" fill="url(#g98)"/><rect x="451.2" y="131" width="3.6" height="29" fill="url(#g99)"/><rect x="478.4" y="146" width="3.6" height="46" fill="url(#g100)"/><rect x="482" y="140" width="3.6" height="49" fill="url(#g101)"/><rect x="485.6" y="134" width="3.6" height="52" fill="url(#g102)"/><rect x="489.2" y="128" width="3.6" height="55" fill="url(#g103)"/><rect x="492.7" y="122" width="3.6" height="58" fill="url(#g104)"/><rect x="496.3" y="120.9" width="3.6" height="58.1" fill="url(#g105)"/><rect x="499.9" y="119.8" width="3.6" height="58.2" fill="url(#g106)"/><rect x="503.5" y="118.6" width="3.6" height="58.4" fill="url(#g107)"/><rect x="507.1" y="117.5" width="3.6" height="58.5" fill="url(#g108)"/><rect x="510.7" y="117.5" width="3.6" height="58.5" fill="url(#g109)"/><rect x="514.2" y="117.5" width="3.6" height="58.5" fill="url(#g110)"/><rect x="517.8" y="117.5" width="3.6" height="58.5" fill="url(#g111)"/><rect x="521.4" y="117.5" width="3.6" height="58.5" fill="url(#g112)"/><rect x="525" y="117.5" width="3.6" height="58.5" fill="url(#g113)"/><rect x="528.6" y="117.5" width="3.6" height="58.5" fill="url(#g114)"/><rect x="532.2" y="117.5" width="3.6" height="58.5" fill="url(#g115)"/><rect x="535.7" y="117.5" width="3.6" height="58.5" fill="url(#g116)"/><rect x="539.3" y="117.9" width="3.6" height="55.4" fill="url(#g117)"/><rect x="542.9" y="118.2" width="3.6" height="52.2" fill="url(#g118)"/><rect x="546.5" y="118.6" width="3.6" height="49.1" fill="url(#g119)"/><rect x="550.1" y="119" width="3.6" height="46" fill="url(#g120)"/><rect x="553.7" y="122" width="3.6" height="40.5" fill="url(#g121)"/><rect x="557.2" y="125" width="3.6" height="35" fill="url(#g122)"/><rect x="560.8" y="128" width="3.6" height="29.5" fill="url(#g123)"/><rect x="564.4" y="131" width="3.6" height="24" fill="url(#g124)"/><rect x="591.4" y="146" width="3.6" height="46" fill="url(#g125)"/><rect x="595" y="143" width="3.6" height="47.2" fill="url(#g126)"/><rect x="598.6" y="140" width="3.6" height="48.5" fill="url(#g127)"/><rect x="602.2" y="137" width="3.6" height="49.8" fill="url(#g128)"/><rect x="605.8" y="134" width="3.6" height="51" fill="url(#g129)"/><rect x="609.4" y="131" width="3.6" height="52.8" fill="url(#g130)"/><rect x="613" y="128" width="3.6" height="54.5" fill="url(#g131)"/><rect x="616.6" y="125" width="3.6" height="56.2" fill="url(#g132)"/><rect x="620.2" y="122" width="3.6" height="58" fill="url(#g133)"/><rect x="623.8" y="120.5" width="3.6" height="59.5" fill="url(#g134)"/><rect x="627.4" y="119" width="3.6" height="61" fill="url(#g135)"/><rect x="631" y="117.5" width="3.6" height="62.5" fill="url(#g136)"/><rect x="634.6" y="116" width="3.6" height="64" fill="url(#g137)"/><rect x="638.2" y="116" width="3.6" height="64" fill="url(#g138)"/><rect x="641.9" y="116" width="3.6" height="64" fill="url(#g139)"/><rect x="645.5" y="116" width="3.6" height="64" fill="url(#g140)"/><rect x="649.1" y="116" width="3.6" height="64" fill="url(#g141)"/><rect x="652.7" y="116" width="3.6" height="61.5" fill="url(#g142)"/><rect x="656.3" y="116" width="3.6" height="59" fill="url(#g143)"/><rect x="659.9" y="116" width="3.6" height="56.5" fill="url(#g144)"/><rect x="663.5" y="116" width="3.6" height="54" fill="url(#g145)"/><rect x="667.1" y="116" width="3.6" height="50.2" fill="url(#g146)"/><rect x="670.7" y="116" width="3.6" height="46.5" fill="url(#g147)"/><rect x="674.3" y="116" width="3.6" height="42.8" fill="url(#g148)"/><rect x="677.9" y="116" width="3.6" height="39" fill="url(#g149)"/><rect x="365.1" y="248" width="3.6" height="38" fill="url(#g150)"/><rect x="368.7" y="245.5" width="3.6" height="39.8" fill="url(#g151)"/><rect x="372.3" y="243" width="3.6" height="41.5" fill="url(#g152)"/><rect x="375.9" y="240.5" width="3.6" height="43.2" fill="url(#g153)"/><rect x="379.5" y="238" width="3.6" height="45" fill="url(#g154)"/><rect x="383" y="234" width="3.6" height="48.9" fill="url(#g155)"/><rect x="386.6" y="230" width="3.6" height="52.8" fill="url(#g156)"/><rect x="390.2" y="226" width="3.6" height="56.6" fill="url(#g157)"/><rect x="393.8" y="222" width="3.6" height="60.5" fill="url(#g158)"/><rect x="397.4" y="219.4" width="3.6" height="63.1" fill="url(#g159)"/><rect x="401" y="216.8" width="3.6" height="65.8" fill="url(#g160)"/><rect x="404.6" y="214.1" width="3.6" height="68.4" fill="url(#g161)"/><rect x="408.2" y="211.5" width="3.6" height="71" fill="url(#g162)"/><rect x="411.7" y="211.6" width="3.6" height="70.9" fill="url(#g163)"/><rect x="415.3" y="211.8" width="3.6" height="70.8" fill="url(#g164)"/><rect x="418.9" y="211.9" width="3.6" height="70.6" fill="url(#g165)"/><rect x="422.5" y="212" width="3.6" height="70.5" fill="url(#g166)"/><rect x="426.1" y="213" width="3.6" height="66.4" fill="url(#g167)"/><rect x="429.7" y="214" width="3.6" height="62.2" fill="url(#g168)"/><rect x="433.3" y="215" width="3.6" height="58.1" fill="url(#g169)"/><rect x="436.9" y="216" width="3.6" height="54" fill="url(#g170)"/><rect x="440.4" y="218.2" width="3.6" height="49.2" fill="url(#g171)"/><rect x="444" y="220.5" width="3.6" height="44.5" fill="url(#g172)"/><rect x="447.6" y="222.8" width="3.6" height="39.8" fill="url(#g173)"/><rect x="451.2" y="225" width="3.6" height="35" fill="url(#g174)"/><rect x="478.4" y="231" width="3.6" height="55" fill="url(#g175)"/><rect x="482" y="227.2" width="3.6" height="56.8" fill="url(#g176)"/><rect x="485.6" y="223.5" width="3.6" height="58.5" fill="url(#g177)"/><rect x="489.2" y="219.8" width="3.6" height="60.2" fill="url(#g178)"/><rect x="492.7" y="216" width="3.6" height="62" fill="url(#g179)"/><rect x="496.3" y="214.9" width="3.6" height="62.8" fill="url(#g180)"/><rect x="499.9" y="213.8" width="3.6" height="63.5" fill="url(#g181)"/><rect x="503.5" y="212.6" width="3.6" height="64.2" fill="url(#g182)"/><rect x="507.1" y="211.5" width="3.6" height="65" fill="url(#g183)"/><rect x="510.7" y="211.5" width="3.6" height="65" fill="url(#g184)"/><rect x="514.2" y="211.5" width="3.6" height="65" fill="url(#g185)"/><rect x="517.8" y="211.5" width="3.6" height="65" fill="url(#g186)"/><rect x="521.4" y="211.5" width="3.6" height="65" fill="url(#g187)"/><rect x="525" y="211.5" width="3.6" height="65" fill="url(#g188)"/><rect x="528.6" y="211.5" width="3.6" height="65" fill="url(#g189)"/><rect x="532.2" y="211.5" width="3.6" height="65" fill="url(#g190)"/><rect x="535.7" y="211.5" width="3.6" height="65" fill="url(#g191)"/><rect x="539.3" y="212.6" width="3.6" height="61" fill="url(#g192)"/><rect x="542.9" y="213.8" width="3.6" height="57" fill="url(#g193)"/><rect x="546.5" y="214.9" width="3.6" height="53" fill="url(#g194)"/><rect x="550.1" y="216" width="3.6" height="49" fill="url(#g195)"/><rect x="553.7" y="216" width="3.6" height="46.5" fill="url(#g196)"/><rect x="557.2" y="216" width="3.6" height="44" fill="url(#g197)"/><rect x="560.8" y="216" width="3.6" height="41.5" fill="url(#g198)"/><rect x="564.4" y="216" width="3.6" height="39" fill="url(#g199)"/><rect x="591.4" y="237" width="3.6" height="49" fill="url(#g200)"/><rect x="595" y="234.8" width="3.6" height="50.2" fill="url(#g201)"/><rect x="598.6" y="232.5" width="3.6" height="51.5" fill="url(#g202)"/><rect x="602.2" y="230.2" width="3.6" height="52.8" fill="url(#g203)"/><rect x="605.8" y="228" width="3.6" height="54" fill="url(#g204)"/><rect x="609.4" y="225.8" width="3.6" height="55.6" fill="url(#g205)"/><rect x="613" y="223.5" width="3.6" height="57.2" fill="url(#g206)"/><rect x="616.6" y="221.2" width="3.6" height="58.9" fill="url(#g207)"/><rect x="620.2" y="219" width="3.6" height="60.5" fill="url(#g208)"/><rect x="623.8" y="217.1" width="3.6" height="62.4" fill="url(#g209)"/><rect x="627.4" y="215.2" width="3.6" height="64.2" fill="url(#g210)"/><rect x="631" y="213.4" width="3.6" height="66.1" fill="url(#g211)"/><rect x="634.6" y="211.5" width="3.6" height="68" fill="url(#g212)"/><rect x="638.2" y="211.1" width="3.6" height="68.4" fill="url(#g213)"/><rect x="641.9" y="210.8" width="3.6" height="68.8" fill="url(#g214)"/><rect x="645.5" y="210.4" width="3.6" height="69.1" fill="url(#g215)"/><rect x="649.1" y="210" width="3.6" height="69.5" fill="url(#g216)"/><rect x="652.7" y="210" width="3.6" height="67.1" fill="url(#g217)"/><rect x="656.3" y="210" width="3.6" height="64.8" fill="url(#g218)"/><rect x="659.9" y="210" width="3.6" height="62.4" fill="url(#g219)"/><rect x="663.5" y="210" width="3.6" height="60" fill="url(#g220)"/><rect x="667.1" y="210" width="3.6" height="56.2" fill="url(#g221)"/><rect x="670.7" y="210" width="3.6" height="52.5" fill="url(#g222)"/><rect x="674.3" y="210" width="3.6" height="48.8" fill="url(#g223)"/><rect x="677.9" y="210" width="3.6" height="45" fill="url(#g224)"/>
<path transform="scale(.5)" d="M0 0m731 123h2m-2 3h2m-2 30h2m-2 174h2m-2 2h2m-2 45h2m-2 5h2m-2 2h2m-3 11h2m-1 119h2m-3 26h2m-1 7h2m-2 6h2m-2 15h2m-2 1h2m1-452h2m-1 15h2m-3 6h2m-3 5h2m-3 24h2m2 18h2m-6 3h2m-2 6h2m0 0h2m-1 11h2m-3 120h2m-3 8h2m-3 5h2m-2 6h2m-2 21h2m-2 0h2m-1 13h2m-2 0h2m-1 2h2m-2 4h2m-2 0h2m-4 129h2m0 2h2m-2 2h2m-3 1h2m0 11h2m-2 8h2m-5 4h2m1 3h2m-4 6h2m-3 1h2m2 2h2m-6 0h2m2 2h2m-3 3h2m-5 7h2m0 3h2m-2 3h2m5-453h2m-1 2h2m-6 5h2m2 25h2m-3 15h2m-2 5h2m-1 4h2m-5 14h2m2 0h2m-3 2h2m-3 2h2m-1 2h2m-6 1h2m0 3h2m-4 114h2m3 4h2m-7 2h2m2 0h2m-4 9h2m-4 1h2m2 21h2m-3 7h2m-1 5h2m-3 2h2m-4 0h2m1 15h2m-6 0h2m0 0h2m-4 1h2m0 1h2m-1 4h2m-1 0h2m-1 0h2m-4 11h2m-1 108h2m-4 5h2m1 4h2m-3 1h2m-3 7h2m-1 8h2m-4 2h2m-1 5h2m-3 1h2m-3 4h2m1 1h2m-5 3h2m-2 2h2m-2 1h2m-1 6h2m-3 0h2m-1 2h2m-4 4h2m1 0h2m-4 6h2m2 0h2m-5 0h2m-2 2h2m-2 4h2m-2 0h2m-4 0h2m5-444h2m-2 6h2m-2 7h2m-1 1h2m-3 32h2m0 5h2m-3 4h2m-1 3h2m-2 3h2m-2 0h2m-2 0h2m-4 0h2m0 6h2m-3 115h2m-2 9h2m0 2h2m-1 7h2m-5 5h2m-1 15h2m-4 7h2m-1 10h2m-1 13h2m-4 1h2m2 0h2m-2 0h2m-3 0h2m-1 0h2m-3 1h2m-3 0h2m-4 16h2m-2 104h2m2 2h2m-4 1h2m-2 3h2m-2 1h2m0 4h2m-3 5h2m-5 12h2m2 1h2m-6 1h2m0 3h2m-1 0h2m-2 0h2m-3 1h2m-1 3h2m-1 0h2m-6 6h2m2 2h2m-3 1h2m-2 2h2m-2 3h2m-3 9h2m0 0h2m-5 6h2m-3 17h2m-1 0h2m7-466h2m-3 3h2m-2 5h2m-6 1h2m2 0h2m-1 4h2m-3 0h2m-6 1h2m2 11h2m-1 2h2m-3 4h2m-2 9h2m-2 0h2m-6 4h2m2 3h2m-1 13h2m-5 0h2m1 4h2m-5 2h2m0 6h2m-2 0h2m-2 6h2m-6 1h2m2 99h2m-1 3h2m-4 8h2m0 3h2m-3 1h2m-1 1h2m-2 1h2m-3 1h2m-3 0h2m-5 7h2m-2 8h2m3 1h2m-7 2h2m1 12h2m-2 3h2m-5 23h2m-2 4h2m1 0h2m0 1h2m-2 0h2m-4 0h2m0 0h2m-7 5h2m3 0h2m-7 6h2m2 11h2m-2 106h2m-6 3h2m1 6h2m-5 2h2m0 0h2m1 1h2m-2 8h2m-7 2h2m0 2h2m0 3h2m-2 0h2m-1 2h2m-7 5h2m3 2h2m-2 2h2m-5 1h2m0 0h2m-3 4h2m-3 1h2m-1 0h2m0 1h2m-4 1h2m-2 1h2m-1 1h2m-1 4h2m-3 0h2m-3 2h2m-2 1h2m-2 0h2m-1 3h2m-3 0h2m-5 6h2m3 0h2m-2 6h2m-7 11h2m8-476h2m-6 3h2m2 5h2m-1 1h2m-2 10h2m-4 3h2m-1 4h2m-3 3h2m-2 9h2m0 1h2m-2 8h2m-6 25h2m1 4h2m-6 1h2m-1 1h2m2 0h2m-3 10h2m-1 94h2m-6 5h2m2 2h2m-7 8h2m2 2h2m-1 5h2m-4 5h2m-5 1h2m-1 5h2m0 1h2m-1 1h2m-1 3h2m-7 1h2m2 0h2m-1 0h2m-2 1h2m-4 2h2m-2 0h2m-1 3h2m-3 6h2m0 1h2m-2 1h2m-2 0h2m-6 7h2m0 2h2m-1 4h2m-6 4h2m2 8h2m-5 4h2m-3 3h2m-1 0h2m1 0h2m-5 1h2m-3 10h2m-1 0h2m2 94h2m-6 4h2m-2 2h2m2 2h2m-7 1h2m3 0h2m-4 4h2m-2 3h2m-5 4h2m-1 1h2m0 6h2m-1 5h2m-1 1h2m-3 6h2m-1 1h2m-4 2h2m-5 5h2m1 1h2m-2 3h2m-5 7h2m1 0h2m-5 3h2m3 1h2m-6 3h2m-3 2h2m1 3h2m-5 2h2m-1 3h2m1 0h2m-3 0h2m0 0h2m-4 6h2m0 1h2m-2 5h2m-4 0h2m6-475h2m-2 4h2m-2 1h2m-2 8h2m-5 1h2m1 1h2m-7 3h2m-1 2h2m-2 2h2m-3 0h2m0 2h2m1 7h2m-6 1h2m-1 9h2m1 3h2m-7 2h2m0 6h2m1 2h2m-5 1h2m-2 0h2m-2 3h2m-4 5h2m-2 2h2m0 11h2m-4 19h2m0 3h2m1 0h2m-3 0h2m-1 0h2m-5 17h2m-4 75h2m1 15h2m0 0h2m-6 3h2m2 7h2m-5 10h2m-4 6h2m-1 2h2m-1 1h2m0 0h2m-1 1h2m-5 3h2m-4 1h2m2 1h2m-1 0h2m-5 1h2m-1 0h2m-5 1h2m0 1h2m1 0h2m-7 2h2m2 2h2m-5 1h2m-3 2h2m3 0h2m-5 6h2m-2 11h2m-3 9h2m-1 0h2m1 0h2m-2 0h2m-2 1h2m-2 6h2m-4 5h2m-1 6h2m-6 11h2m2 0h2m-1 74h2m-2 1h2m-3 3h2m-1 0h2m-2 2h2m-4 4h2m0 1h2m-2 3h2m-7 2h2m-1 2h2m-2 0h2m-3 0h2m0 0h2m-3 1h2m-2 6h2m1 2h2m-5 2h2m-3 2h2m-1 1h2m2 1h2m-2 7h2m-2 2h2m-7 2h2m0 2h2m-2 2h2m-2 0h2m-2 0h2m1 1h2m-5 1h2m1 0h2m-5 1h2m-2 0h2m-4 2h2m-2 3h2m2 0h2m-5 1h2m-3 1h2m2 1h2m-5 4h2m-1 2h2m1 2h2m-5 7h2m1 10h2m-7 1h2m0 5h2m-2 0h2m1 0h2m-5 6h2m-4 0h2m0 0h2m-4 0h2m3 0h2m-6 17h2m2 0h2m-1-491h2m-1 4h2m-1 1h2m-3 6h2m1 0h2m-6 1h2m1 1h2m-2 6h2m-1 10h2m-5 8h2m-1 4h2m-2 3h2m0 0h2m-5 2h2m0 1h2m-3 1h2m-3 3h2m-1 1h2m-4 0h2m-1 4h2m-3 2h2m1 1h2m-3 2h2m-4 0h2m1 7h2m-2 2h2m-3 4h2m-3 2h2m-1 11h2m-2 0h2m-1 4h2m-3 0h2m-2 6h2m-2 85h2m-2 1h2m-2 7h2m-3 2h2m-3 0h2m1 0h2m-4 1h2m1 1h2m-4 2h2m-3 4h2m1 3h2m-3 2h2m-4 1h2m-1 3h2m-4 1h2m1 4h2m-2 3h2m-4 1h2m-3 8h2m2 0h2m-2 1h2m-6 1h2m0 4h2m-3 1h2m0 0h2m-3 4h2m-3 0h2m-1 1h2m0 0h2m-4 2h2m-4 7h2m-2 0h2m0 4h2m-3 2h2m0 10h2m-3 1h2m0 7h2m-3 0h2m-5 0h2m-2 4h2m-1 0h2m-1 0h2m-4 2h2m-2 1h2m0 1h2m-1 8h2m-4 17h2m-2 74h2m-1 3h2m-1 0h2m-2 1h2m-2 1h2m-3 0h2m-4 2h2m-1 0h2m-1 1h2m-2 0h2m-3 0h2m-3 0h2m-2 0h2m-2 0h2m-1 0h2m0 1h2m-4 1h2m-3 1h2m1 3h2m-4 3h2m0 1h2m-2 1h2m-5 0h2m0 8h2m-3 1h2m-1 3h2m-2 0h2m-3 1h2m-1 5h2m-3 2h2m-2 0h2m1 0h2m-5 1h2m-1 6h2m-1 1h2m-4 1h2m-2 0h2m-1 1h2m-1 2h2m-4 6h2m0 5h2m-4 4h2m-3 1h2m2 3h2m-3 0h2m-5 6h2m-1 1h2m-1 1h2m-4 6h2m0 0h2m-4 2h2m0 2h2m-2 0h2m-2 2h2m-2 0h2m-4 0h2m1 2h2m-5 21h2m-2 0h2m6-492h2m-3 5h2m-3 1h2m2 0h2m-6 2h2m-1 2h2m-1 4h2m-3 2h2m2 0h2m-7 1h2m3 1h2m-3 0h2m-4 1h2m-2 0h2m0 6h2m-4 1h2m-2 1h2m-1 7h2m-2 1h2m-5 4h2m-2 0h2m1 8h2m-2 0h2m-2 4h2m-2 1h2m-2 3h2m-4 1h2m2 1h2m-2 1h2m-4 1h2m-4 0h2m-1 1h2m-1 1h2m-1 1h2m-2 0h2m-2 2h2m-5 5h2m-2 2h2m1 0h2m-3 1h2m-1 0h2m-5 6h2m1 8h2m-6 0h2m1 0h2m-4 0h2m2 0h2m-7 2h2m-2 1h2m3 1h2m-7 2h2m-2 0h2m-1 0h2m0 4h2m-1 1h2m-5 1h2m0 0h2m-2 1h2m-5 1h2m1 4h2m-4 0h2m-1 73h2m0 2h2m-3 0h2m-2 1h2m0 0h2m-3 2h2m-2 1h2m-3 1h2m-2 4h2m-4 1h2m-3 1h2m0 0h2m-4 3h2m2 1h2m-2 0h2m-3 2h2m-2 0h2m-3 9h2m-1 1h2m-3 1h2m-2 3h2m-4 0h2m-2 0h2m-1 2h2m-2 3h2m0 0h2m-5 1h2m-2 10h2m2 4h2m-1 2h2m-4 2h2m-1 0h2m-1 2h2m-7 1h2m-1 1h2m1 0h2m-5 0h2m-1 1h2m0 0h2m-2 0h2m-6 1h2m3 0h2m-3 1h2m-5 0h2m2 1h2m-3 1h2m-4 0h2m-4 0h2m3 0h2m-7 2h2m2 0h2m-3 1h2m-3 1h2m0 0h2m-5 1h2m-2 2h2m1 4h2m-4 1h2m-3 1h2m0 1h2m-3 1h2m-4 0h2m-1 0h2m0 4h2m-5 2h2m3 2h2m-5 0h2m1 1h2m-5 1h2m-1 0h2m-5 2h2m1 1h2m-1 0h2m-1 5h2m-2 0h2m-6 0h2m1 0h2m-3 7h2m-4 0h2m0 0h2m-3 5h2m-3 0h2m-1 6h2m1 11h2m-3 66h2m-2 3h2m-4 0h2m1 1h2m-7 2h2m-1 1h2m2 3h2m-7 2h2m1 1h2m-3 1h2m-1 0h2m0 0h2m-3 0h2m-2 1h2m-2 0h2m-1 0h2m-7 0h2m0 1h2m-4 1h2m-1 1h2m-2 2h2m-2 2h2m0 4h2m-4 1h2m0 0h2m-5 0h2m3 2h2m-6 2h2m0 1h2m-1 0h2m-5 3h2m-2 4h2m1 5h2m-2 1h2m-1 1h2m-7 0h2m2 1h2m-4 2h2m-1 1h2m-3 0h2m1 2h2m-7 3h2m1 2h2m-4 1h2m-3 1h2m1 0h2m-1 1h2m-3 0h2m-5 1h2m-1 0h2m2 0h2m-4 0h2m-5 1h2m-2 0h2m1 0h2m-1 0h2m-1 0h2m-5 0h2m-2 0h2m0 1h2m-1 0h2m-6 0h2m0 0h2m-4 1h2m1 2h2m-2 0h2m-4 1h2m-4 1h2m0 0h2m-2 0h2m0 2h2m-4 3h2m-1 1h2m-1 2h2m-5 1h2m1 0h2m-6 0h2m0 0h2m-2 0h2m-1 2h2m-4 2h2m0 1h2m-5 0h2m3 0h2m-7 1h2m1 3h2m-4 0h2m0 1h2m0 0h2m-7 5h2m0 0h2m-1 0h2m-1 0h2m-2 0h2m-6 6h2m2 0h2m-4 0h2m-3 0h2m1 0h2m-3 0h2m-3 6h2m-1 0h2m-3 0h2m-4 0h2m-2 0h2m2 17h2m-3 0h2m4-495h2m-2 2h2m0 4h2m-3 1h2m-1 6h2m-6 3h2m1 8h2m-5 0h2m-2 2h2m-2 3h2m-1 0h2m-3 0h2m2 4h2m-5 1h2m-3 1h2m-2 0h2m0 4h2m-4 0h2m1 1h2m-2 0h2m-2 0h2m-4 1h2m-1 3h2m-3 9h2m-2 2h2m0 0h2m-1 0h2m-2 2h2m-5 2h2m-3 0h2m1 0h2m-1 1h2m-3 1h2m-1 3h2m-5 3h2m-2 0h2m0 3h2m-5 1h2m2 1h2m-4 1h2m-2 0h2m-1 2h2m-5 2h2m-1 1h2m1 1h2m-4 2h2m-1 7h2m-4 1h2m-2 0h2m-3 0h2m-2 0h2m0 0h2m-4 0h2m-1 2h2m0 4h2m-5 0h2m2 5h2m-6 0h2m-1 1h2m-1 0h2m-1 0h2m-4 0h2m-1 6h2m-3 0h2m-2 0h2m-1 0h2m-2 11h2m-4 0h2m-1 58h2m-2 6h2m-2 6h2m-3 3h2m1 0h2m-5 1h2m1 0h2m-5 3h2m0 2h2m0 0h2m-4 2h2m-1 0h2m-4 1h2m1 1h2m-5 1h2m-3 3h2m-1 0h2m0 0h2m-3 3h2m-2 1h2m-1 0h2m-1 2h2m-4 2h2m-3 0h2m1 1h2m-4 1h2m-3 1h2m-2 0h2m1 4h2m-4 1h2m-2 1h2m0 0h2m-6 2h2m0 0h2m-2 1h2m-1 1h2m-4 1h2m-3 2h2m-1 1h2m-2 0h2m-3 0h2m1 2h2m-3 1h2m-3 0h2m-3 3h2m-2 2h2m2 1h2m-4 3h2m-3 0h2m-2 1h2m1 0h2m-3 1h2m-2 0h2m-4 2h2m0 1h2m-2 5h2m-4 2h2m-1 0h2m-3 2h2m-2 0h2m1 0h2m-6 2h2m-2 0h2m0 1h2m0 0h2m-3 2h2m-5 0h2m-1 0h2m-2 0h2m1 1h2m-6 1h2m-1 0h2m-1 1h2m-2 1h2m0 2h2m-6 1h2m2 1h2m-4 1h2m-3 3h2m0 6h2m-4 0h2m-1 0h2m-2 0h2m-4 12h2m-2 0h2m-1 0h2m0 0h2m-1 6h2m-4 0h2m-3 11h2m1 0h2m-6 57h2m-2 4h2m-1 4h2m-2 0h2m1 0h2m-6 1h2m0 1h2m-4 2h2m-1 2h2m1 1h2m-2 2h2m-5 0h2m1 0h2m-5 1h2m1 0h2m-6 1h2m-1 0h2m0 0h2m-2 0h2m-5 1h2m2 1h2m-3 1h2m-5 0h2m-2 2h2m1 0h2m-1 1h2m-2 0h2m-6 1h2m-2 2h2m0 3h2m-4 2h2m0 2h2m-2 3h2m-1 1h2m-3 1h2m-2 2h2m-2 1h2m-2 3h2m-4 0h2m-2 0h2m-1 2h2m-2 2h2m-1 2h2m-3 0h2m-1 0h2m-4 2h2m0 2h2m-3 1h2m0 1h2m-1 2h2m-2 4h2m-2 1h2m-5 0h2m0 1h2m-2 2h2m-5 2h2m0 1h2m0 0h2m-2 1h2m-3 0h2m-2 0h2m-1 1h2m-5 0h2m1 0h2m-5 1h2m-1 0h2m-4 0h2m1 0h2m-1 1h2m-3 0h2m-4 1h2m-2 1h2m0 2h2m-2 1h2m-1 0h2m-3 1h2m-2 2h2m-4 0h2m-1 3h2m-3 0h2m-2 1h2m-2 1h2m-2 2h2m0 0h2m-5 1h2m2 3h2m-5 1h2m0 0h2m-4 6h2m-1 0h2m-3 0h2m-2 0h2m-3 0h2m-1 0h2m-2 0h2m-3 0h2m-1 2h2m-2 0h2m0 4h2m-4 0h2m-2 0h2m-1 6h2m0 0h2m-2 0h2m-4 0h2m-2 0h2m-4 0h2m-2 0h2m-1 0h2m0 0h2m-1 0h2m-2 6h2m-6 0h2m0 11h2m-4 0h2m-1 0h2m5-503h2m0 3h2m-3 3h2m-3 2h2m-1 4h2m-4 1h2m-1 2h2m0 7h2m-3 2h2m-3 1h2m-2 0h2m-1 0h2m-2 0h2m-1 1h2m-5 0h2m-1 0h2m-1 0h2m-4 1h2m-1 3h2m-2 0h2m-1 1h2m-3 1h2m-5 2h2m1 1h2m-5 1h2m-2 2h2m1 1h2m-5 5h2m2 5h2m-2 1h2m-4 3h2m1 15h2m-2 1h2m-5 3h2m-4 3h2m-2 3h2m1 0h2m0 1h2m-7 1h2m3 0h2m-2 2h2m-7 1h2m1 0h2m-3 4h2m1 2h2m-7 1h2m2 1h2m-3 1h2m-1 3h2m-3 2h2m-2 0h2m-3 0h2m0 4h2m-6 2h2m1 0h2m-2 0h2m-1 0h2m-4 0h2m0 6h2m-3 0h2m-1 0h2m-4 0h2m-2 0h2m1 0h2m-4 0h2m-2 4h2m0 1h2m-5 0h2m-1 1h2m-2 0h2m-2 0h2m-2 0h2m-2 0h2m-1 0h2m-1 60h2m-2 2h2m-5 2h2m-2 16h2m-2 1h2m-4 1h2m1 0h2m-1 1h2m-4 5h2m0 0h2m-4 2h2m-2 2h2m1 3h2m-2 0h2m-2 2h2m-7 1h2m1 0h2m-2 0h2m-1 2h2m-1 0h2m-2 1h2m-2 0h2m-7 6h2m-2 1h2m1 1h2m-2 1h2m0 1h2m-3 2h2m-3 1h2m-5 10h2m2 0h2m-3 0h2m-3 0h2m1 1h2m-2 3h2m-7 1h2m-2 1h2m2 1h2m-2 0h2m-3 0h2m-2 0h2m-2 0h2m0 0h2m-5 1h2m-2 0h2m0 1h2m-1 0h2m-4 1h2m0 0h2m-7 1h2m1 1h2m-5 1h2m0 0h2m-4 3h2m2 1h2m-1 1h2m-2 3h2m-5 0h2m1 3h2m-3 0h2m-1 1h2m-2 0h2m-4 1h2m-2 1h2m-1 0h2m-2 0h2m-2 2h2m-2 1h2m-1 0h2m-4 0h2m-2 1h2m-1 5h2m-1 0h2m-2 0h2m-7 1h2m2 0h2m-2 0h2m-6 1h2m-2 1h2m3 2h2m-5 3h2m-4 2h2m-2 2h2m-2 0h2m-2 0h2m1 0h2m-1 0h2m-2 0h2m-2 0h2m-3 12h2m-2 0h2m-2 6h2m-1 0h2m-3 11h2m0 0h2m-4 0h2m-2 0h2m-1 51h2m-4 0h2m-1 1h2m-2 2h2m-1 0h2m-3 3h2m0 2h2m-2 1h2m-7 1h2m3 1h2m-4 3h2m-1 0h2m-3 1h2m-5 2h2m2 1h2m-1 1h2m-5 1h2m-1 2h2m-3 1h2m0 1h2m-2 1h2m-2 0h2m-1 2h2m-3 0h2m-4 0h2m0 0h2m-3 1h2m0 0h2m-5 0h2m0 1h2m-2 0h2m-6 1h2m3 0h2m-7 1h2m-2 0h2m1 1h2m-2 0h2m-1 2h2m-2 1h2m-2 6h2m-6 1h2m3 0h2m-4 1h2m0 2h2m-7 2h2m-2 0h2m-2 0h2m1 0h2m-2 0h2m0 5h2m-4 1h2m-1 1h2m-1 1h2m-2 1h2m-4 0h2m-5 2h2m0 0h2m0 0h2m-3 3h2m-5 1h2m3 0h2m-3 3h2m-2 3h2m-3 2h2m-1 0h2m-2 2h2m-2 0h2m-4 2h2m-2 1h2m0 1h2m-6 2h2m-2 0h2m1 0h2m-5 1h2m-2 0h2m2 0h2m-1 0h2m-4 0h2m-5 1h2m3 0h2m-5 0h2m1 0h2m-4 0h2m-5 2h2m-2 1h2m0 1h2m0 0h2m-1 1h2m-5 0h2m-4 2h2m2 0h2m-2 2h2m-1 0h2m-5 2h2m1 1h2m-4 0h2m0 1h2m-2 0h2m-2 1h2m-5 1h2m1 0h2m-4 0h2m-1 2h2m-3 2h2m-1 0h2m-6 1h2m3 0h2m-4 1h2m0 1h2m-4 0h2m0 1h2m-4 2h2m-3 1h2m0 1h2m-2 0h2m-1 0h2m-3 0h2m-1 0h2m-4 1h2m-5 5h2m0 0h2m-2 0h2m0 0h2m-1 0h2m-3 0h2m-1 0h2m-2 2h2m-3 4h2m-4 0h2m-1 0h2m0 0h2m-2 6h2m-2 11h2m-4 0h2m-3 0h2m6-508h2m-2 5h2m-1 2h2m-3 2h2m-2 0h2m-1 0h2m-2 7h2m-6 4h2m1 1h2m-5 3h2m0 2h2m-4 3h2m-3 0h2m-1 1h2m2 0h2m-6 2h2m2 2h2m-4 7h2m-5 4h2m-2 1h2m-2 6h2m2 0h2m-6 3h2m3 0h2m-4 1h2m-4 1h2m1 3h2m-2 1h2m-6 1h2m1 7h2m-5 1h2m-1 2h2m-3 1h2m3 4h2m-7 2h2m-1 5h2m1 0h2m-1 3h2m-2 1h2m-3 0h2m-3 3h2m0 1h2m-2 1h2m-2 1h2m-7 1h2m3 0h2m-4 4h2m-4 2h2m2 0h2m-6 1h2m-3 0h2m-1 0h2m1 0h2m-6 1h2m-1 1h2m-3 0h2m2 0h2m-6 4h2m3 0h2m-2 6h2m-6 6h2m-3 0h2m-1 0h2m-3 0h2m3 0h2m-3 1h2m-5 10h2m2 44h2m-6 2h2m-3 5h2m1 0h2m-1 1h2m-2 1h2m-2 5h2m-5 1h2m1 0h2m-2 0h2m-5 1h2m2 0h2m-4 3h2m-5 3h2m1 0h2m0 0h2m-2 1h2m-3 1h2m-2 1h2m-2 0h2m-2 0h2m-3 0h2m-1 0h2m-1 1h2m-3 0h2m-1 1h2m-6 1h2m2 0h2m-7 2h2m-1 1h2m1 0h2m-6 1h2m-2 0h2m-2 0h2m-1 0h2m-2 0h2m2 0h2m-7 1h2m1 0h2m-1 2h2m-2 1h2m-1 4h2m-6 3h2m1 2h2m-1 6h2m-6 4h2m-3 0h2m-1 1h2m0 2h2m-5 1h2m-2 2h2m-2 3h2m2 0h2m-3 1h2m-2 3h2m-1 2h2m-2 0h2m-1 0h2m-6 1h2m-2 1h2m-3 2h2m2 1h2m-5 1h2m-2 0h2m-2 0h2m0 0h2m-1 0h2m-1 0h2m-2 0h2m-2 0h2m-4 1h2m0 1h2m-7 1h2m-2 1h2m-1 0h2m2 0h2m-2 1h2m-2 1h2m-2 1h2m-2 0h2m-3 0h2m-3 1h2m-4 1h2m1 0h2m-2 1h2m-3 0h2m-2 1h2m-1 1h2m-1 4h2m-2 0h2m-7 1h2m3 0h2m-2 0h2m-7 1h2m-1 0h2m2 0h2m-6 3h2m2 0h2m-3 1h2m-6 2h2m-1 0h2m-2 0h2m2 0h2m-7 1h2m-1 0h2m-3 0h2m-1 3h2m-3 1h2m2 0h2m-3 1h2m-4 2h2m-3 1h2m2 2h2m-5 3h2m-3 3h2m-2 0h2m-1 0h2m-2 7h2m-2 11h2m2 0h2m-2 0h2m-3 11h2m-2 0h2m-3 44h2m-5 5h2m1 1h2m-1 0h2m-2 2h2m-2 2h2m-3 1h2m-1 1h2m-2 1h2m-2 1h2m-2 6h2m-5 1h2m-2 5h2m2 0h2m-3 1h2m-2 0h2m-5 2h2m-2 1h2m-2 1h2m-3 0h2m-2 2h2m-1 1h2m2 0h2m-7 1h2m-2 0h2m-1 0h2m-3 0h2m-1 0h2m1 0h2m-6 1h2m1 2h2m-2 1h2m-4 1h2m-3 0h2m2 0h2m-6 1h2m3 3h2m-3 0h2m-1 1h2m-3 2h2m-2 0h2m-2 0h2m-1 2h2m-6 1h2m-2 3h2m-3 1h2m2 0h2m-1 3h2m-6 6h2m-3 1h2m3 0h2m-4 4h2m-1 1h2m-1 0h2m-3 2h2m-6 5h2m3 3h2m-3 0h2m-1 2h2m-4 0h2m-5 1h2m-2 0h2m-1 1h2m2 0h2m-2 0h2m-3 0h2m-5 1h2m-3 0h2m-2 0h2m-2 0h2m-1 2h2m2 0h2m-7 2h2m3 0h2m-2 1h2m-6 2h2m2 0h2m-4 0h2m0 0h2m-3 0h2m-6 1h2m3 0h2m-2 0h2m-2 1h2m-7 5h2m3 2h2m-2 0h2m-3 1h2m-5 1h2m-2 2h2m0 0h2m-5 4h2m3 0h2m-2 1h2m-7 4h2m-2 1h2m-2 0h2m-2 0h2m-2 0h2m3 0h2m-3 0h2m-6 6h2m-1 0h2m-3 0h2m-2 0h2m-2 0h2m2 0h2m-2 0h2m-2 0h2m-2 0h2m-3 0h2m-4 2h2m-3 4h2m1 0h2m0 0h2m-4 0h2m-5 6h2m2 0h2m5-507h2m-2 1h2m-2 6h2m-2 1h2m-5 1h2m-4 1h2m3 4h2m-6 1h2m-2 2h2m-1 1h2m1 0h2m-5 1h2m1 2h2m-2 0h2m-6 2h2m0 8h2m-5 4h2m0 3h2m1 0h2m-6 1h2m-3 1h2m-2 1h2m-1 2h2m-1 1h2m-4 0h2m-1 1h2m-2 1h2m-2 1h2m-1 4h2m-2 4h2m-2 3h2m-3 1h2m-3 1h2m1 2h2m-5 2h2m0 4h2m-2 7h2m-2 1h2m0 0h2m-1 0h2m-2 2h2m-7 4h2m-1 2h2m-1 3h2m-3 0h2m-3 1h2m-1 1h2m2 3h2m-3 1h2m-1 0h2m-5 1h2m-4 0h2m-1 1h2m-3 0h2m-1 0h2m-3 1h2m-1 0h2m-3 3h2m0 0h2m-2 1h2m-4 0h2m1 1h2m-5 0h2m3 1h2m-5 1h2m-3 0h2m-2 3h2m-2 0h2m1 0h2m-4 1h2m1 0h2m-6 4h2m-3 1h2m-1 0h2m2 0h2m-2 0h2m-2 4h2m-7 1h2m0 1h2m1 0h2m-7 2h2m-2 3h2m-1 1h2m-3 0h2m0 0h2m-2 0h2m-3 0h2m-3 0h2m-2 6h2m-2 0h2m-1 0h2m-1 0h2m1 0h2m-3 0h2m-2 0h2m-2 11h2m-4 45h2m-4 0h2m3 0h2m-7 1h2m-1 2h2m-1 1h2m-4 1h2m-1 1h2m-1 1h2m-2 4h2m0 3h2m-5 2h2m0 0h2m-3 2h2m1 0h2m-3 0h2m-5 2h2m-1 1h2m1 0h2m-5 1h2m-4 3h2m3 0h2m-2 0h2m-7 2h2m-1 3h2m2 1h2m-2 4h2m-5 1h2m1 0h2m-7 3h2m0 3h2m-2 2h2m-4 0h2m3 0h2m-2 2h2m-4 1h2m-4 2h2m-1 1h2m1 0h2m-3 0h2m-4 1h2m-2 0h2m-2 2h2m1 0h2m-3 0h2m-2 0h2m-5 2h2m2 2h2m-2 0h2m-5 1h2m1 2h2m-5 1h2m-4 1h2m-2 4h2m-2 1h2m3 0h2m-6 3h2m2 0h2m-2 3h2m-5 2h2m-2 0h2m-2 1h2m-2 0h2m-2 0h2m-4 0h2m-1 2h2m1 0h2m-1 0h2m-7 1h2m-1 0h2m-1 0h2m-4 0h2m3 0h2m-2 1h2m-6 2h2m-3 0h2m3 4h2m-2 1h2m-5 1h2m-4 0h2m3 2h2m-6 1h2m-1 1h2m-2 3h2m-4 0h2m-2 2h2m-2 1h2m3 0h2m-3 2h2m-3 6h2m-3 0h2m-3 2h2m-2 0h2m-3 1h2m0 1h2m-3 6h2m2 0h2m-3 7h2m-1 0h2m-7 5h2m-2 0h2m0 0h2m-3 0h2m1 0h2m-4 6h2m-3 0h2m-2 0h2m1 0h2m-1 0h2m-5 11h2m-3 0h2m-3 0h2m-1 47h2m-3 0h2m2 1h2m-5 1h2m2 0h2m-7 2h2m0 0h2m-4 4h2m0 0h2m-2 1h2m-2 0h2m-2 0h2m-1 1h2m-5 0h2m0 1h2m-2 2h2m-2 0h2m-2 1h2m-4 0h2m-2 0h2m-2 0h2m3 0h2m-7 1h2m3 0h2m-3 0h2m-4 1h2m-4 1h2m-1 0h2m2 0h2m-6 1h2m-1 0h2m-2 2h2m-4 1h2m0 0h2m-3 0h2m-1 0h2m-4 0h2m0 1h2m-4 0h2m-2 0h2m0 1h2m-3 1h2m-2 1h2m2 0h2m-5 1h2m1 0h2m-2 1h2m-7 1h2m2 0h2m-1 5h2m-7 1h2m3 2h2m-3 1h2m-5 2h2m-2 1h2m-1 1h2m-1 1h2m0 0h2m-3 0h2m-6 4h2m-2 1h2m-1 3h2m-2 2h2m-2 0h2m-2 1h2m-3 1h2m0 2h2m0 0h2m-2 2h2m-1 3h2m-2 0h2m-2 2h2m-2 1h2m-3 0h2m-4 1h2m0 1h2m-4 1h2m-4 0h2m0 2h2m-4 0h2m3 0h2m-2 2h2m-3 0h2m-1 1h2m-3 0h2m-5 1h2m2 1h2m-6 1h2m-1 0h2m1 0h2m-6 1h2m-1 0h2m-3 0h2m-2 0h2m-2 0h2m2 0h2m-7 1h2m-1 1h2m-3 0h2m-1 0h2m2 0h2m-6 1h2m-3 0h2m-2 1h2m-2 0h2m3 0h2m-7 2h2m2 1h2m-5 1h2m2 0h2m-7 1h2m0 0h2m-4 1h2m-2 1h2m3 0h2m-7 6h2m-1 0h2m0 0h2m0 0h2m-7 1h2m-1 0h2m-3 1h2m0 0h2m-3 0h2m-2 1h2m0 1h2m-4 0h2m2 0h2m-5 1h2m-4 0h2m0 1h2m1 1h2m-7 1h2m-1 0h2m-3 0h2m-2 0h2m3 0h2m-7 1h2m2 0h2m-2 0h2m-4 1h2m-2 2h2m-2 0h2m-2 4h2m-2 2h2m-3 0h2m-3 0h2m-2 0h2m-1 0h2m-3 0h2m3 0h2m-2 0h2m-2 1h2m-2 1h2m-7 1h2m0 0h2m-4 2h2m-1 1h2m-3 0h2m0 0h2m1 0h2m-5 6h2m-4 0h2m3 0h2m-7 6h2m-1 11h2m-2 0h2m-2 0h2m-1 0h2m1 0h2m-2 0h2m0-517h2m-2 5h2m0 1h2m-3 0h2m-2 5h2m-1 1h2m-5 1h2m-1 0h2m-2 7h2m0 4h2m-4 1h2m0 1h2m-2 8h2m-4 0h2m-3 1h2m0 1h2m-3 0h2m-3 1h2m-1 0h2m0 0h2m-5 1h2m-1 1h2m0 1h2m-3 3h2m-4 1h2m0 0h2m1 3h2m-5 5h2m-2 5h2m-1 7h2m-2 0h2m-4 0h2m0 2h2m-3 0h2m-4 3h2m-1 1h2m-2 0h2m-2 0h2m-1 2h2m-2 1h2m-3 3h2m-2 1h2m-1 1h2m-3 3h2m-1 2h2m-2 2h2m-4 3h2m-2 4h2m-1 2h2m0 0h2m-4 1h2m-2 0h2m0 0h2m-3 0h2m-4 1h2m1 0h2m-3 1h2m-3 1h2m-3 1h2m1 2h2m-5 0h2m0 5h2m-3 1h2m-3 3h2m1 1h2m-2 0h2m-2 0h2m-3 0h2m-4 0h2m1 0h2m0 0h2m-7 1h2m2 2h2m-3 3h2m-2 0h2m-4 0h2m1 2h2m-4 4h2m-4 1h2m1 5h2m-4 0h2m-2 0h2m1 0h2m-3 0h2m-3 0h2m-2 0h2m-1 52h2m-4 1h2m-2 2h2m-3 0h2m1 3h2m-5 5h2m0 1h2m-4 2h2m-1 0h2m-3 1h2m1 1h2m-3 1h2m-1 4h2m-4 2h2m0 0h2m-4 1h2m-3 0h2m2 1h2m-3 1h2m-5 0h2m0 0h2m-2 0h2m-1 0h2m-2 1h2m-4 0h2m0 0h2m-4 4h2m0 4h2m-4 0h2m-3 2h2m0 3h2m-2 8h2m-2 0h2m-1 1h2m-5 3h2m-2 1h2m0 0h2m-3 1h2m-1 1h2m-3 1h2m-3 0h2m-1 0h2m-1 1h2m-4 5h2m-1 2h2m0 1h2m-5 2h2m-2 5h2m1 1h2m-4 0h2m-3 0h2m-1 0h2m-1 0h2m-2 1h2m-1 0h2m-2 0h2m-4 0h2m0 0h2m-1 1h2m-4 1h2m-1 0h2m-2 0h2m-2 1h2m-4 1h2m-3 1h2m-2 0h2m1 0h2m-3 1h2m0 1h2m-1 1h2m-6 1h2m-2 1h2m-3 1h2m0 0h2m-3 0h2m-3 1h2m-1 0h2m-3 1h2m0 0h2m1 0h2m-6 3h2m-2 1h2m0 0h2m-3 0h2m-1 1h2m-1 1h2m-3 1h2m-4 0h2m0 3h2m-5 1h2m-1 0h2m0 0h2m-3 1h2m-2 0h2m-2 2h2m-1 2h2m-1 2h2m-4 0h2m-3 3h2m0 3h2m-2 0h2m-4 2h2m-2 3h2m-2 2h2m-2 0h2m-3 2h2m-2 0h2m-2 0h2m-2 7h2m1 5h2m-4 0h2m0 6h2m-2 0h2m-2 0h2m-5 11h2m0 0h2m-3 39h2m-1 1h2m-1 1h2m-3 1h2m-3 4h2m-2 2h2m-3 0h2m-2 1h2m0 0h2m-4 1h2m-1 0h2m-3 2h2m1 2h2m-3 0h2m-1 1h2m-2 4h2m-4 6h2m2 0h2m-4 2h2m-4 0h2m1 0h2m-5 1h2m-3 0h2m1 0h2m-5 0h2m0 0h2m0 1h2m-3 1h2m-4 0h2m-3 0h2m1 1h2m-3 0h2m-3 1h2m-1 0h2m-1 1h2m-2 0h2m-1 0h2m-5 0h2m1 1h2m-4 2h2m0 2h2m-6 0h2m0 1h2m0 0h2m-3 1h2m-4 1h2m-3 1h2m1 2h2m0 2h2m-6 2h2m0 0h2m-3 2h2m-4 1h2m2 6h2m-2 0h2m-5 2h2m-2 0h2m0 0h2m-4 3h2m1 1h2m-1 2h2m-7 1h2m0 1h2m-4 0h2m-1 1h2m2 0h2m-5 1h2m-3 0h2m-1 1h2m-4 3h2m1 0h2m-4 1h2m1 1h2m-6 0h2m1 0h2m-4 1h2m-1 1h2m-4 0h2m-2 0h2m-1 1h2m-2 0h2m-1 1h2m-2 0h2m-1 0h2m-3 1h2m0 0h2m-4 1h2m-4 0h2m0 1h2m-1 1h2m-3 0h2m-4 0h2m1 1h2m-5 1h2m-1 1h2m-3 1h2m-1 1h2m-1 2h2m-1 2h2m-2 1h2m-4 1h2m-2 0h2m-2 2h2m-1 2h2m-3 0h2m1 1h2m-4 1h2m-3 0h2m-2 1h2m-3 1h2m1 0h2m-3 1h2m-3 0h2m-2 0h2m-1 1h2m-2 1h2m-3 0h2m0 1h2m-4 1h2m-1 3h2m-3 0h2m-2 3h2m-3 3h2m-1 2h2m1 0h2m-6 0h2m-1 0h2m1 6h2m-2 0h2m-6 0h2m0 2h2m-3 4h2m-3 0h2m-2 0h2m0 0h2m-2 0h2m-3 0h2m-3 6h2m0 0h2m-4 0h2m0 0h2m-3 0h2m-2 11h2m0 0h2m-5 0h2m-2 0h2m2 0h2m1-524h2m-3 13h2m-2 0h2m2 0h2m-6 1h2m1 3h2m-1 1h2m-3 4h2m-1 1h2m-1 2h2m-7 3h2m0 0h2m-4 1h2m2 7h2m-4 0h2m0 2h2m-3 4h2m-5 1h2m-2 2h2m2 6h2m-4 0h2m1 1h2m-4 1h2m-5 0h2m2 1h2m-3 0h2m-5 1h2m0 4h2m-1 1h2m-2 0h2m-3 2h2m-3 0h2m-1 1h2m-2 2h2m-1 1h2m-5 1h2m-2 2h2m-2 1h2m2 2h2m-4 1h2m0 1h2m-4 2h2m-2 4h2m1 1h2m-2 4h2m-2 2h2m-4 0h2m-1 1h2m-3 1h2m-3 6h2m0 2h2m-2 3h2m-3 0h2m-2 0h2m0 0h2m-7 1h2m-1 0h2m1 0h2m-3 0h2m-2 1h2m0 0h2m-6 0h2m-1 1h2m-1 0h2m-3 0h2m-1 1h2m-4 0h2m-1 1h2m-4 1h2m1 0h2m-2 1h2m-3 2h2m-4 2h2m-1 1h2m-3 0h2m2 4h2m-6 2h2m3 0h2m-5 0h2m0 0h2m-2 0h2m-3 0h2m-1 0h2m-6 0h2m2 0h2m-2 2h2m-2 4h2m-1 0h2m-3 0h2m-3 0h2m-5 0h2m3 3h2m-2 2h2m-2 1h2m-7 0h2m-2 0h2m1 4h2m-1 0h2m-1 2h2m-3 0h2m-4 0h2m1 11h2m-4 0h2m-2 0h2m0 40h2m-6 5h2m-1 0h2m0 1h2m-2 1h2m-3 3h2m-2 0h2m-4 1h2m0 4h2m-5 1h2m-2 0h2m2 1h2m-5 2h2m-1 1h2m-4 0h2m0 2h2m1 1h2m-5 1h2m-4 0h2m-1 1h2m-2 1h2m-2 0h2m-1 0h2m-1 0h2m-1 2h2m-4 1h2m0 0h2m-5 1h2m0 0h2m-1 0h2m-4 3h2m0 0h2m-2 1h2m-5 0h2m-2 1h2m-2 1h2m-3 1h2m-2 1h2m-1 2h2m-3 1h2m0 1h2m0 1h2m-2 0h2m-6 0h2m3 1h2m-5 1h2m-1 2h2m0 0h2m-3 2h2m-4 1h2m1 4h2m-5 2h2m-1 2h2m-2 3h2m-1 0h2m-4 0h2m-2 1h2m-3 1h2m-2 2h2m0 0h2m-1 1h2m-3 0h2m-5 0h2m2 1h2m-5 1h2m0 3h2m0 2h2m-6 0h2m-2 0h2m1 1h2m-6 0h2m-2 0h2m1 0h2m-2 0h2m-1 1h2m-2 1h2m-2 1h2m-3 0h2m-4 1h2m1 0h2m-6 2h2m-1 0h2m1 2h2m-5 0h2m-3 1h2m-1 0h2m2 1h2m-5 0h2m0 0h2m-5 1h2m-1 0h2m-1 0h2m-3 0h2m-1 1h2m0 2h2m-3 0h2m-1 2h2m-7 1h2m0 2h2m0 0h2m-3 0h2m0 1h2m-2 1h2m-6 0h2m0 0h2m-2 1h2m-1 1h2m-4 0h2m0 0h2m-3 1h2m-2 2h2m-5 1h2m-2 0h2m1 0h2m-2 2h2m-2 1h2m-4 1h2m-1 1h2m-4 4h2m-1 1h2m1 1h2m-1 0h2m-2 0h2m-5 1h2m-4 0h2m2 2h2m-6 1h2m-1 3h2m-3 2h2m-1 0h2m0 0h2m-2 0h2m-1 0h2m-3 7h2m-5 0h2m-1 0h2m1 0h2m-6 5h2m3 6h2m-7 0h2m1 11h2m-4 0h2m0 0h2m-5 0h2m0 36h2m-3 4h2m-3 1h2m-2 0h2m2 3h2m-4 1h2m-4 3h2m0 5h2m-3 0h2m-1 4h2m0 1h2m-6 1h2m2 0h2m-5 6h2m-3 1h2m0 0h2m-4 0h2m1 1h2m-1 1h2m-2 1h2m-6 1h2m0 1h2m-4 0h2m2 1h2m-3 3h2m-2 1h2m-2 3h2m-3 0h2m-1 0h2m-2 0h2m-4 2h2m-3 0h2m0 1h2m-4 1h2m-1 1h2m1 0h2m-5 0h2m1 0h2m-1 0h2m-2 1h2m-5 0h2m-4 0h2m-2 0h2m-2 0h2m0 0h2m-3 1h2m0 0h2m-2 1h2m-4 0h2m-3 0h2m-2 1h2m1 1h2m-5 0h2m0 1h2m-3 0h2m1 0h2m-4 1h2m-3 0h2m-2 0h2m2 0h2m-4 1h2m-4 0h2m-1 0h2m-1 0h2m-5 0h2m3 1h2m-5 2h2m-3 1h2m2 0h2m-3 1h2m-4 0h2m-3 0h2m2 0h2m-3 2h2m-6 0h2m-2 0h2m-2 0h2m-2 1h2m-1 1h2m-3 1h2m-1 1h2m-2 1h2m0 0h2m-3 2h2m0 0h2m-5 0h2m0 1h2m-4 2h2m-1 1h2m-2 0h2m-2 0h2m-2 0h2m-1 1h2m-1 0h2m-2 1h2m-1 0h2m-4 1h2m-3 1h2m-4 0h2m0 1h2m1 1h2m-6 0h2m1 1h2m-2 0h2m-2 0h2m-5 0h2m-3 0h2m1 1h2m-2 1h2m-5 1h2m3 0h2m-6 0h2m0 2h2m-4 0h2m1 2h2m-2 1h2m-1 1h2m-3 0h2m-2 1h2m-2 1h2m-5 0h2m1 0h2m-6 0h2m-2 1h2m-2 1h2m2 2h2m-3 1h2m-2 0h2m-2 1h2m-4 0h2m2 1h2m-3 3h2m-3 0h2m-1 1h2m-5 0h2m-3 0h2m0 1h2m-2 0h2m0 6h2m-5 0h2m1 2h2m-5 0h2m-2 1h2m-1 2h2m-2 1h2m-1 0h2m-3 2h2m-4 1h2m1 1h2m-1 2h2m-2 0h2m-6 0h2m-2 1h2m-2 5h2m-1 0h2m-1 0h2m1 0h2m-7 0h2m1 0h2m-3 0h2m-1 0h2m-2 0h2m-1 0h2m-4 0h2m1 3h2m-5 1h2m-4 0h2m0 2h2m0 0h2m-6 0h2m-1 0h2m-3 0h2m-2 0h2m2 0h2m-3 6h2m-1 0h2m-5 0h2m2 0h2m-4 11h2m-5 0h2m-2 0h2m2 0h2m-2 0h2m3-496h2m-2 10h2m-3 4h2m-3 4h2m2 0h2m-5 14h2m0 1h2m-4 1h2m-3 0h2m-1 1h2m-2 0h2m-3 1h2m1 2h2m-1 2h2m-5 0h2m-1 2h2m0 3h2m-4 1h2m-1 3h2m-5 0h2m-2 3h2m-2 0h2m2 0h2m-2 5h2m-2 4h2m-3 2h2m-5 2h2m2 0h2m-2 0h2m-2 1h2m-5 1h2m-2 3h2m0 1h2m-5 1h2m1 3h2m-3 0h2m-2 6h2m-1 2h2m-3 2h2m-3 0h2m-1 0h2m-3 0h2m-3 0h2m-2 0h2m2 0h2m-4 1h2m-3 1h2m-3 1h2m1 2h2m-1 0h2m-5 0h2m-2 0h2m0 0h2m-1 0h2m-2 0h2m-6 0h2m-2 0h2m1 2h2m-1 0h2m-6 1h2m-1 3h2m-1 0h2m-3 0h2m0 0h2m-2 0h2m-4 0h2m-1 0h2m0 0h2m-2 5h2m-6 0h2m-1 1h2m0 0h2m-1 0h2m-3 0h2m-2 0h2m-4 0h2m0 0h2m-1 5h2m-6 1h2m-1 0h2m-1 0h2m-1 0h2m-5 0h2m-1 1h2m1 10h2m-3 38h2m-3 0h2m-2 1h2m-3 0h2m-2 2h2m-3 4h2m-2 0h2m2 1h2m-3 3h2m-2 0h2m-2 0h2m-5 0h2m2 0h2m-4 1h2m-1 1h2m-4 0h2m0 1h2m-1 0h2m-3 1h2m-5 1h2m0 1h2m-2 1h2m0 0h2m-2 2h2m-2 0h2m-6 1h2m2 0h2m-5 1h2m0 0h2m-1 1h2m-2 1h2m-2 0h2m-4 4h2m-2 0h2m-1 2h2m-3 1h2m0 6h2m-4 1h2m0 0h2m-5 2h2m-3 5h2m2 0h2m-5 2h2m-3 0h2m2 1h2m-2 5h2m-4 1h2m-4 1h2m0 2h2m-2 2h2m-3 1h2m-3 5h2m2 4h2m-3 1h2m-5 1h2m2 0h2m-6 1h2m-1 1h2m-3 1h2m1 2h2m-4 1h2m1 0h2m-3 5h2m-3 0h2m-2 0h2m-2 0h2m-2 1h2m0 0h2m-2 0h2m-2 0h2m-5 0h2m1 1h2m-3 0h2m-3 1h2m-4 0h2m2 1h2m-5 1h2m-2 1h2m1 1h2m-4 2h2m-3 1h2m-3 1h2m0 0h2m-3 1h2m-1 1h2m-2 1h2m-4 1h2m1 2h2m-1 0h2m-6 0h2m-1 3h2m0 3h2m-1 4h2m-5 4h2m1 0h2m-4 1h2m-4 1h2m1 1h2m-1 0h2m-5 2h2m-2 1h2m0 2h2m-5 1h2m2 1h2m-4 0h2m-1 0h2m-5 0h2m1 0h2m-3 7h2m-1 0h2m-2 0h2m-2 11h2m-5 0h2m1 0h2m-5 0h2m1 11h2m-4 0h2m-2 0h2m0 0h2m-1 30h2m-5 2h2m-1 3h2m-4 0h2m-2 3h2m1 0h2m-4 9h2m-2 9h2m1 0h2m-5 1h2m-1 3h2m0 0h2m-5 1h2m-3 3h2m-1 2h2m-3 3h2m2 1h2m-4 0h2m-2 1h2m0 0h2m-6 1h2m1 1h2m-4 0h2m-1 1h2m-1 0h2m-1 0h2m-4 1h2m-4 0h2m2 1h2m-4 0h2m-4 0h2m2 2h2m-4 1h2m-2 1h2m-4 0h2m-2 2h2m0 3h2m-4 4h2m-1 1h2m-1 1h2m-2 1h2m-3 3h2m0 2h2m-1 0h2m-2 1h2m-3 0h2m-2 2h2m-5 0h2m1 1h2m-4 1h2m0 4h2m-2 4h2m-3 1h2m0 1h2m-4 2h2m-4 2h2m-1 0h2m-2 0h2m0 1h2m-4 1h2m-2 4h2m1 1h2m-5 1h2m0 2h2m-1 0h2m-6 1h2m1 1h2m-4 0h2m1 1h2m-3 0h2m-2 1h2m-2 0h2m-5 1h2m2 0h2m-3 0h2m-5 0h2m1 1h2m-5 0h2m0 1h2m-2 0h2m-4 1h2m-1 0h2m-3 2h2m1 0h2m-4 0h2m-1 2h2m0 0h2m-2 1h2m-4 0h2m-3 1h2m1 1h2m-3 0h2m-3 1h2m-2 3h2m-4 1h2m-1 1h2m-2 0h2m0 1h2m-3 3h2m0 0h2m-6 0h2m1 1h2m-3 0h2m-2 0h2m-3 1h2m-2 0h2m0 5h2m-3 0h2m-2 0h2m-2 0h2m-2 0h2m-1 0h2m-4 0h2m-3 0h2m0 0h2m0 5h2m-3 1h2m-4 0h2m1 0h2m-5 0h2m0 0h2m-2 0h2m-2 0h2m-4 0h2m-2 0h2m-2 0h2m-1 1h2m-3 0h2m0 1h2m-5 4h2m1 0h2m-1 0h2m-4 0h2m-1 0h2m-3 0h2m-3 0h2m-2 0h2m-2 0h2m-2 6h2m0 0h2m-4 0h2m-2 11h2m5-517h2m-2 8h2m-2 3h2m-3 7h2m-1 2h2m-1 2h2m-2 13h2m-3 3h2m-2 3h2m-1 3h2m-1 4h2m-5 4h2m-1 1h2m-2 6h2m-1 2h2m-6 5h2m3 8h2m-5 2h2m-1 5h2m-3 1h2m-2 3h2m-1 2h2m-5 1h2m1 2h2m-5 2h2m3 1h2m-2 0h2m-7 5h2m3 0h2m-4 5h2m-1 0h2m-3 0h2m-1 1h2m-3 0h2m-2 0h2m-1 2h2m-4 0h2m-4 2h2m1 0h2m-5 3h2m-2 0h2m0 0h2m-1 0h2m-2 0h2m-3 0h2m0 1h2m-2 3h2m-6 2h2m2 0h2m-4 0h2m0 0h2m-1 0h2m-7 2h2m-2 4h2m1 0h2m0 0h2m-4 0h2m-1 0h2m-2 0h2m-3 5h2m0 1h2m-3 0h2m-1 0h2m-5 11h2m-4 37h2m1 5h2m-3 2h2m0 0h2m-3 1h2m-1 1h2m-2 2h2m-6 1h2m3 0h2m-7 3h2m2 0h2m-3 2h2m-1 0h2m-4 1h2m0 2h2m-1 0h2m-4 0h2m-3 2h2m-4 2h2m0 1h2m-1 3h2m-2 1h2m-3 5h2m1 2h2m-7 3h2m0 0h2m-2 1h2m1 7h2m-5 0h2m0 2h2m-6 2h2m-2 2h2m1 4h2m-1 1h2m-6 2h2m1 5h2m0 1h2m-5 0h2m1 0h2m-3 11h2m-1 1h2m-5 2h2m0 1h2m-2 0h2m-6 3h2m3 0h2m-2 0h2m-2 0h2m-2 1h2m-3 1h2m-4 1h2m1 1h2m-2 2h2m-3 1h2m-1 0h2m-5 1h2m-2 2h2m1 0h2m-7 2h2m2 0h2m-1 1h2m-7 1h2m3 0h2m-3 0h2m-3 1h2m-2 0h2m-1 3h2m-4 0h2m1 0h2m-4 1h2m-2 0h2m-3 3h2m-4 1h2m2 4h2m-2 2h2m-3 0h2m-2 2h2m-2 3h2m-3 6h2m-2 0h2m-1 0h2m-3 18h2m0 11h2m-1 0h2m-3 37h2m-6 2h2m3 5h2m-5 4h2m-2 3h2m0 4h2m-3 4h2m0 0h2m-5 0h2m-4 1h2m0 5h2m0 0h2m-3 1h2m0 1h2m-7 5h2m1 0h2m0 0h2m-4 0h2m-2 3h2m-5 1h2m-2 1h2m3 2h2m-4 0h2m-1 3h2m-3 1h2m-2 0h2m-5 6h2m2 1h2m-3 0h2m-3 3h2m-4 3h2m3 0h2m-7 1h2m2 0h2m-3 5h2m-1 0h2m-2 0h2m-4 1h2m-2 1h2m-4 1h2m2 0h2m-4 2h2m1 1h2m-7 2h2m0 2h2m-4 17h2m-2 0h2m3 0h2m-7 2h2m0 0h2m-1 0h2m-1 0h2m-2 0h2m-2 0h2m-1 0h2m-7 1h2m3 0h2m-7 1h2m2 0h2m-2 1h2m-3 1h2m-1 0h2m-1 0h2m-4 1h2m0 0h2m-4 0h2m-1 1h2m-3 0h2m-2 0h2m-3 1h2m-1 0h2m-3 0h2m-4 2h2m-2 0h2m-2 3h2m2 0h2m-3 0h2m0 1h2m-5 2h2m-1 1h2m-1 2h2m-2 1h2m-6 1h2m0 0h2m1 0h2m-3 1h2m-2 1h2m-4 2h2m-4 3h2m0 0h2m-2 0h2m-1 0h2m-1 0h2m-1 5h2m-7 1h2m-2 0h2m2 0h2m-4 0h2m0 0h2m-3 0h2m-1 0h2m-3 1h2m-2 0h2m-5 5h2m-2 0h2m1 0h2m0 0h2m-2 6h2m-2 0h2m-3 0h2m-4 0h2m6-515h2m-2 7h2m-5 9h2m2 18h2m-2 1h2m-3 2h2m-1 3h2m-2 1h2m-2 6h2m-6 9h2m-3 1h2m3 1h2m-6 8h2m-3 3h2m2 1h2m-2 4h2m-6 1h2m-2 11h2m-2 3h2m-2 0h2m-2 2h2m3 9h2m-7 2h2m2 1h2m-1 3h2m-3 2h2m-1 0h2m-2 1h2m-2 2h2m-2 0h2m-6 3h2m-2 0h2m-3 3h2m-1 1h2m-3 0h2m-1 2h2m-3 0h2m-2 0h2m2 0h2m-3 0h2m0 0h2m-4 0h2m0 0h2m-6 2h2m2 1h2m-7 1h2m-1 1h2m-3 1h2m2 0h2m-2 0h2m-2 0h2m-6 5h2m1 1h2m-1 1h2m-2 5h2m-6 47h2m-1 0h2m2 1h2m-3 1h2m-1 7h2m-4 1h2m-1 3h2m-6 1h2m3 2h2m-2 1h2m-6 2h2m-3 2h2m-2 0h2m-2 0h2m-2 6h2m-2 1h2m-2 1h2m-1 0h2m-3 4h2m2 0h2m-6 1h2m-1 0h2m2 0h2m-2 2h2m-7 2h2m1 1h2m-1 1h2m-2 1h2m-1 1h2m-4 2h2m-5 3h2m3 0h2m-3 1h2m-5 7h2m2 0h2m-4 4h2m-5 1h2m-1 2h2m1 4h2m-2 2h2m-3 5h2m-2 0h2m-1 1h2m-2 1h2m-2 2h2m-5 1h2m-3 3h2m-2 2h2m-2 4h2m-2 1h2m-1 3h2m1 0h2m-2 0h2m-2 1h2m-5 3h2m2 0h2m-2 0h2m-6 1h2m-2 2h2m-3 0h2m1 0h2m-5 7h2m1 4h2m-4 4h2m0 5h2m-2 3h2m-4 4h2m-2 0h2m0 7h2m-1 0h2m-6 5h2m-2 0h2m2 0h2m-2 0h2m-6 6h2m3 42h2m-2 1h2m-6 5h2m-3 2h2m-2 3h2m3 0h2m-2 2h2m-4 0h2m-2 9h2m-1 1h2m-1 1h2m-2 0h2m-6 2h2m1 0h2m-1 0h2m-7 3h2m-2 1h2m-1 1h2m-3 0h2m-2 2h2m-1 2h2m-2 0h2m-2 2h2m-3 4h2m-2 0h2m-2 0h2m-1 8h2m0 2h2m-5 3h2m-2 2h2m1 2h2m0 2h2m-4 3h2m-5 2h2m-1 2h2m-3 2h2m1 0h2m-4 4h2m1 0h2m-1 4h2m-4 0h2m-5 1h2m2 1h2m-5 1h2m-3 1h2m-1 0h2m2 6h2m-4 2h2m-5 5h2m1 0h2m0 1h2m-2 1h2m-2 1h2m-3 0h2m-5 2h2m-3 0h2m2 0h2m-3 1h2m-5 1h2m2 0h2m-6 1h2m-2 0h2m3 0h2m-6 1h2m-2 1h2m-2 0h2m-2 2h2m1 0h2m-5 1h2m0 2h2m-1 1h2m-2 0h2m-6 5h2m3 2h2m-6 1h2m2 0h2m-6 3h2m-2 0h2m1 0h2m-6 6h2m-2 0h2m-1 0h2m2 0h2m-2 0h2m-3 0h2m-2 2h2m-6 4h2m-1 0h2m-3 0h2m3 0h2m-3 0h2m-1 3h2m-7 1h2m-2 0h2m1 0h2m-5 2h2m3 0h2m-2 0h2m-4 0h2m-1 6h2m-2 0h2m1-519h2m-1 6h2m-4 6h2m0 4h2m0 20h2m-5 3h2m-1 12h2m-4 4h2m3 1h2m-6 3h2m-2 0h2m-3 1h2m0 4h2m-2 6h2m-3 3h2m2 2h2m-2 1h2m-2 2h2m-2 4h2m-7 5h2m0 2h2m-4 2h2m0 5h2m0 3h2m-2 4h2m-1 2h2m-2 1h2m-6 4h2m-2 1h2m-3 1h2m0 2h2m-2 1h2m-2 1h2m-3 1h2m-2 1h2m-2 11h2m-2 1h2m-3 0h2m-2 0h2m-1 0h2m-1 58h2m1 1h2m-7 1h2m-2 3h2m0 2h2m-2 4h2m0 1h2m-5 1h2m2 1h2m-5 1h2m-3 1h2m-1 2h2m-3 0h2m-3 4h2m-2 8h2m2 3h2m-6 7h2m3 3h2m-6 8h2m-2 4h2m-1 3h2m-3 7h2m-1 4h2m-3 2h2m-2 0h2m2 1h2m-2 3h2m-7 1h2m-1 0h2m2 0h2m-2 0h2m-5 1h2m-4 2h2m0 3h2m1 0h2m-7 7h2m-2 0h2m0 6h2m1 2h2m-6 4h2m-3 0h2m-1 1h2m-3 0h2m-1 2h2m-2 1h2m-2 3h2m2 0h2m-5 1h2m1 3h2m-6 1h2m-2 1h2m-2 3h2m-1 4h2m-3 5h2m2 0h2m-5 7h2m1 0h2m-6 5h2m-1 0h2m-3 6h2m1 0h2m-1 0h2m-2 11h2m-5 38h2m0 7h2m-1 2h2m-2 1h2m-6 1h2m2 1h2m-5 1h2m0 6h2m-5 1h2m-3 2h2m-1 1h2m-3 1h2m-1 0h2m-2 10h2m-2 1h2m2 2h2m-6 1h2m2 0h2m-6 2h2m2 6h2m-2 5h2m-7 1h2m-1 0h2m1 0h2m-2 4h2m-5 6h2m-2 1h2m-1 3h2m0 0h2m-2 1h2m-4 3h2m-3 5h2m1 6h2m-6 5h2m0 1h2m-2 0h2m-4 1h2m0 1h2m-4 1h2m3 0h2m-6 1h2m-1 0h2m-3 0h2m-1 1h2m-4 1h2m-1 1h2m-2 2h2m-2 0h2m2 1h2m-5 1h2m-3 1h2m-3 2h2m-1 1h2m-1 0h2m-2 0h2m-2 1h2m-2 1h2m-2 3h2m-2 2h2m-2 3h2m-2 0h2m-4 0h2m-1 1h2m-1 3h2m-2 4h2m-2 0h2m-3 0h2m-2 0h2m2 0h2m-5 6h2m-4 0h2m3 0h2m-7 6h2m3 0h2m-3 6h2m-6 11h2m6-513h2m-4 5h2m-1 7h2m-2 2h2m-2 5h2m-3 13h2m-1 2h2m-1 1h2m-2 0h2m-3 1h2m-2 4h2m0 3h2m-1 1h2m-6 6h2m-1 27h2m-3 0h2m-2 3h2m0 2h2m-4 1h2m-2 0h2m0 1h2m-2 1h2m-2 3h2m-4 5h2m1 2h2m-2 1h2m-2 11h2m-3 6h2m-2 0h2m0 1h2m-6 5h2m-1 3h2m-1 3h2m-4 0h2m-1 52h2m0 2h2m-4 0h2m2 0h2m-7 2h2m1 1h2m-2 2h2m-5 1h2m1 0h2m0 0h2m-6 5h2m-3 2h2m0 11h2m-2 0h2m1 7h2m-7 6h2m-2 5h2m-1 0h2m-3 3h2m-2 4h2m-1 7h2m1 2h2m-1 3h2m-6 2h2m-2 1h2m0 0h2m-4 0h2m0 1h2m0 0h2m-5 2h2m-3 1h2m-3 1h2m0 1h2m-1 3h2m-5 3h2m-1 0h2m0 1h2m0 0h2m-5 3h2m-1 1h2m0 1h2m-6 1h2m-3 1h2m-2 12h2m1 3h2m-3 3h2m-4 2h2m0 8h2m-3 5h2m0 19h2m-4 11h2m-3 30h2m0 2h2m-1 2h2m-2 3h2m-4 3h2m0 3h2m-4 4h2m-3 6h2m-1 0h2m-1 4h2m-3 3h2m-1 0h2m-3 9h2m-2 1h2m1 2h2m-5 0h2m-2 0h2m-1 0h2m-1 1h2m-4 2h2m-2 8h2m-2 2h2m0 2h2m-5 8h2m1 0h2m-5 4h2m-2 3h2m3 0h2m-4 1h2m-4 1h2m-3 0h2m3 1h2m-2 4h2m-4 2h2m-2 0h2m-5 0h2m1 0h2m-4 1h2m0 3h2m-3 7h2m-4 4h2m-1 3h2m-2 5h2m-3 5h2m1 2h2m-5 3h2m0 0h2m-2 2h2m-1 0h2m-4 5h2m-3 2h2m0 1h2m-1 2h2m-4 2h2m-2 4h2m-1 2h2m1 0h2m-5 2h2m-2 1h2m-4 3h2m1 6h2m-5 0h2m-1 11h2m3-505h2m2 16h2m-4 1h2m-4 2h2m2 7h2m-4 0h2m-4 0h2m-1 1h2m0 3h2m-2 11h2m-2 17h2m-1 7h2m-5 1h2m1 0h2m-2 2h2m-1 3h2m-6 0h2m-1 2h2m-2 1h2m-3 2h2m1 1h2m-5 3h2m0 2h2m-3 1h2m0 2h2m-2 1h2m-6 4h2m1 21h2m-5 0h2m2 6h2m-4 0h2m-1 11h2m-5 35h2m-1 1h2m0 0h2m-2 6h2m-2 1h2m-3 2h2m-2 2h2m-4 1h2m2 1h2m-6 0h2m0 2h2m-1 2h2m-3 0h2m-3 20h2m-2 1h2m-1 14h2m-2 16h2m-2 3h2m-2 1h2m-4 0h2m0 1h2m0 1h2m-3 4h2m-2 7h2m-4 1h2m2 3h2m-3 0h2m-4 1h2m-4 5h2m-1 8h2m-2 3h2m1 5h2m-3 6h2m-1 15h2m-4 0h2m-1 11h2m-1 11h2m-5 29h2m-3 1h2m1 1h2m-1 8h2m-2 4h2m-3 0h2m-4 6h2m-2 1h2m-1 1h2m0 3h2m-6 0h2m1 2h2m0 0h2m-4 3h2m-4 1h2m-3 0h2m0 0h2m-4 1h2m-1 13h2m-1 0h2m-3 11h2m1 2h2m-1 0h2m-2 4h2m-5 3h2m1 9h2m-3 10h2m-2 0h2m-3 1h2m-2 0h2m-1 1h2m-1 0h2m-4 1h2m-4 2h2m2 1h2m-6 3h2m2 1h2m-5 2h2m-3 7h2m0 9h2m-5 0h2m2 4h2m-2 1h2m-3 3h2m-3 1h2m-3 2h2m0 6h2m-3 6h2m-2 0h2m-1 1h2m-5 4h2m1 18h2m-5 0h2m8-521h2m-4 28h2m-2 3h2m0 1h2m-2 26h2m-4 4h2m0 1h2m-4 8h2m-3 3h2m-1 9h2m0 3h2m-1 4h2m-4 5h2m-1 4h2m-5 6h2m1 2h2m-4 8h2m-2 18h2m-3 11h2m0 35h2m-1 2h2m-3 1h2m-4 6h2m-2 3h2m0 0h2m0 5h2m-6 10h2m2 3h2m-3 4h2m-3 1h2m-1 2h2m-1 12h2m-5 4h2m1 1h2m-6 2h2m1 1h2m-1 4h2m-6 0h2m0 2h2m-2 5h2m-2 14h2m0 5h2m-4 5h2m-4 5h2m2 7h2m-2 8h2m-6 14h2m-2 0h2m2 18h2m-2 60h2m-6 4h2m1 1h2m-1 4h2m-5 3h2m1 0h2m-3 6h2m-5 7h2m0 2h2m-2 12h2m-4 0h2m1 12h2m-5 1h2m-2 6h2m0 2h2m-2 1h2m-4 2h2m-1 4h2m-1 0h2m-1 1h2m-2 0h2m-5 3h2m0 5h2m-4 2h2m-2 9h2m-2 0h2m-2 8h2m-2 2h2m0 6h2m0 6h2m-3 0h2m-2 0h2m-5 0h2m2 0h2m-3 5h2m-1 1h2m-6 6h2m0 6h2m3-514h2m-4 25h2m1 0h2m0 4h2m-3 5h2m-6 3h2m0 4h2m-2 15h2m-4 20h2m-2 6h2m2 2h2m-4 6h2m1 41h2m-3 17h2m-2 41h2m-6 10h2m2 2h2m-3 2h2m-3 2h2m1 13h2m-2 0h2m-7 3h2m3 4h2m-2 31h2m-5 3h2m1 5h2m-4 3h2m-3 6h2m-1 3h2m-3 2h2m-1 43h2m0 17h2m-2 40h2m-7 3h2m2 1h2m-4 11h2m1 7h2m-4 11h2m-2 2h2m-2 10h2m0 3h2m-4 4h2m-3 3h2m1 6h2m-7 2h2m2 9h2m-4 12h2m-2 3h2m1 13h2m-3 0h2m-4 14h2m0 4h2m-6 6h2m0 23h2m2-507h2m-2 5h2m-2 2h2m1 0h2m0 1h2m-2 1h2m-2 4h2m-6 4h2m-3 9h2m3 8h2m-4 1h2m-1 18h2m-5 17h2m-3 7h2m2 8h2m-2 22h2m-1 6h2m-2 60h2m-4 1h2m-1 4h2m-1 5h2m-7 1h2m1 0h2m-5 12h2m1 0h2m-4 3h2m1 0h2m-5 6h2m0 11h2m-5 4h2m-2 0h2m2 6h2m-6 17h2m-1 1h2m2 13h2m-3 5h2m-6 100h2m-1 10h2m-2 2h2m2 1h2m-3 4h2m-6 3h2m-1 1h2m-2 10h2m-2 4h2m-3 4h2m-2 2h2m2 6h2m-5 1h2m2 5h2m-3 5h2m-1 2h2m-3 2h2m-6 6h2m2 20h2m-5 2h2m-2 38h2m8-494h2m-2 0h2m-2 0h2m-6 4h2m-2 2h2m2 11h2m-5 18h2m-2 23h2m1 53h2m-6 63h2m1 1h2m-5 2h2m1 8h2m-2 0h2m-4 4h2m1 13h2m-6 20h2m-3 25h2m-1 4h2m1 18h2m-6 1h2m-1 25h2m-1 7h2m1 5h2m-5 53h2m1 3h2m-7 2h2m2 1h2m-1 2h2m-3 1h2m-2 6h2m-1 0h2m-5 4h2m-3 0h2m-1 1h2m-3 6h2m-3 8h2m-2 1h2m0 8h2m-4 1h2m-2 12h2m-2 3h2m0 4h2m1 19h2m-6 2h2m-2 11h2m-3 6h2m3 21h2m-6 12h2m-3 17h2m4-520h2m1 1h2m-2 7h2m0 1h2m-5 9h2m-1 0h2m0 4h2m-7 9h2m1 6h2m-2 31h2m0 38h2m-6 79h2m-3 3h2m0 5h2m-3 3h2m-2 5h2m-2 6h2m-1 1h2m-4 5h2m-1 17h2m2 12h2m-6 2h2m-1 6h2m1 8h2m-5 117h2m-1 3h2m-5 1h2m-2 2h2m1 2h2m-5 1h2m-1 10h2m0 6h2m-4 8h2m0 22h2m-3 8h2m-1 3h2m-4 12h2m0 12h2m-4 38h2m5-499h2m-2 11h2m0 4h2m-4 1h2m0 4h2m-3 18h2m-4 5h2m1 65h2m-4 8h2m-2 76h2m0 0h2m-6 2h2m2 2h2m-3 0h2m-3 1h2m-4 8h2m0 6h2m-3 3h2m0 2h2m-4 1h2m2 17h2m-4 9h2m0 6h2m-3 69h2m-3 64h2m-2 2h2m-3 1h2m-3 1h2m-1 0h2m-4 2h2m2 1h2m-4 5h2m-3 2h2m-2 7h2m-3 21h2m-1 1h2m-1 1h2m-2 6h2m-4 0h2m-2 3h2m1 2h2m-1 1h2m-2 11h2m-6 15h2m-1 23h2m1 12h2m2-498h2m-2 2h2m-2 3h2m-1 2h2m-3 14h2m-2 6h2m-3 13h2m-3 19h2m0 11h2m0 30h2m-1 9h2m-4 29h2m-1 53h2m-2 5h2m-5 1h2m1 2h2m-3 2h2m-1 1h2m-4 20h2m0 9h2m-2 0h2m-4 4h2m1 5h2m-5 5h2m0 7h2m-3 1h2m-3 2h2m0 56h2m-2 67h2m-4 6h2m-4 3h2m2 15h2m-4 2h2m-2 9h2m0 11h2m-1 5h2m-6 3h2m-1 3h2m0 5h2m-2 3h2m-3 3h2m-3 6h2m-3 8h2m2 26h2m-3 29h2m2-491h2m-2 12h2m0 1h2m-3 29h2m0 16h2m-4 26h2m-3 30h2m1 54h2m-3 7h2m-3 8h2m-3 1h2m1 3h2m-3 4h2m-3 2h2m-3 12h2m-1 3h2m-2 3h2m-1 5h2m-1 88h2m-3 53h2m-1 0h2m-2 0h2m-2 4h2m-2 3h2m-2 2h2m-5 2h2m0 0h2m-1 4h2m-7 2h2m3 1h2m-7 17h2m3 4h2m-4 10h2m-5 4h2m2 7h2m-4 9h2m-4 5h2m2 43h2m-3 6h2m5-495h2m-3 4h2m-4 2h2m0 4h2m-4 6h2m2 5h2m-3 4h2m-1 3h2m-4 10h2m-1 5h2m-6 7h2m-2 35h2m-1 10h2m2 5h2m-6 83h2m-3 0h2m2 23h2m-2 5h2m-6 4h2m2 0h2m-1 1h2m-2 3h2m-2 5h2m-2 17h2m-7 7h2m1 60h2m-2 67h2m-5 2h2m-2 4h2m-2 7h2m3 9h2m-4 1h2m-5 13h2m3 13h2m-2 13h2m-7 4h2m2 48h2m0-478h2m-1 33h2m-2 38h2m-3 106h2m0 2h2m-2 6h2m-3 9h2m-3 9h2m-2 1h2m0 1h2m-4 13h2m-1 145h2m-3 3h2m-2 3h2m0 6h2m-3 0h2m-1 2h2m-3 4h2m-2 1h2m-1 3h2m-2 3h2m-4 1h2m-2 4h2m-1 11h2m-3 16h2m-1 46h2m49-438h2m-1 27h2m-2 2h2m-4 17h2m0 44h2m-2 93h2m-2 32h2m-4 11h2m-1 2h2m-3 21h2m-1 0h2m-3 13h2m-1 0h2m-2 96h2m-2 3h2m-2 0h2m-1 6h2m-3 16h2m-2 38h2m-3 1h2m-2 22h2m-1 11h2m4-476h2m-6 18h2m0 1h2m-3 7h2m-1 3h2m1 21h2m-2 15h2m-6 1h2m-1 5h2m-3 15h2m1 0h2m-5 19h2m2 99h2m-4 9h2m-5 6h2m3 0h2m-5 23h2m1 7h2m-3 6h2m-5 2h2m-2 6h2m-2 1h2m2 1h2m-2 5h2m-7 13h2m-2 0h2m-1 92h2m-3 3h2m3 2h2m-7 20h2m3 3h2m-6 3h2m-3 2h2m-1 9h2m2 3h2m-2 2h2m-7 8h2m-2 13h2m-2 0h2m-1 7h2m0 2h2m-2 7h2m0 12h2m-6 3h2m-2 1h2m3-479h2m-2 16h2m-1 8h2m2 3h2m-5 11h2m-2 15h2m-4 11h2m-2 5h2m-1 0h2m-1 0h2m-1 15h2m-2 122h2m-3 5h2m-4 2h2m1 5h2m-4 2h2m-1 5h2m-2 23h2m-3 0h2m-1 0h2m-3 5h2m2 6h2m-4 15h2m-4 0h2m-2 0h2m-1 95h2m0 2h2m-3 18h2m-2 5h2m-1 9h2m-6 2h2m1 4h2m-4 9h2m-3 4h2m1 1h2m-4 2h2m0 1h2m-3 12h2m-2 3h2m-4 6h2m-1 9h2m-3 4h2m1 2h2m-3 0h2m-1 0h2m0 5h2m-4 8h2m4-469h2m-3 3h2m-2 0h2m-4 1h2m-2 0h2m-1 5h2m1 5h2m-3 1h2m-5 3h2m1 6h2m-5 21h2m2 5h2m-5 1h2m1 4h2m-6 36h2m1 2h2m-4 100h2m0 11h2m-3 1h2m1 1h2m-4 0h2m-1 1h2m-3 5h2m-5 5h2m-2 1h2m-1 4h2m-2 16h2m-1 2h2m-3 13h2m-1 0h2m-3 0h2m-2 5h2m2 3h2m-4 7h2m-4 0h2m-1 6h2m-3 25h2m-2 57h2m-1 5h2m-2 3h2m-1 10h2m-3 3h2m-1 5h2m-2 4h2m-3 2h2m-3 8h2m1 1h2m-5 6h2m-3 0h2m-2 7h2m0 11h2m-2 0h2m-3 1h2m2 1h2m-4 0h2m-4 2h2m-1 2h2m-3 2h2m-1 0h2m0 2h2m-3 1h2m-2 1h2m-3 8h2m1 0h2m-7 0h2m-2 0h2m1 19h2m-4 9h2m5-491h2m-3 3h2m0 1h2m-2 2h2m-4 8h2m1 4h2m-4 3h2m1 8h2m-5 4h2m-1 12h2m-1 3h2m-4 5h2m1 3h2m-3 7h2m-1 3h2m-6 2h2m-1 13h2m-3 12h2m1 7h2m-1 13h2m-2 0h2m-6 2h2m-2 80h2m2 1h2m-4 7h2m-2 2h2m-2 4h2m0 2h2m-6 0h2m0 1h2m0 0h2m-4 0h2m-4 0h2m-1 1h2m1 4h2m-4 2h2m0 12h2m-6 6h2m1 7h2m-1 11h2m-5 1h2m0 2h2m-2 14h2m-1 3h2m-2 0h2m-3 15h2m-1 76h2m-2 2h2m-6 7h2m-1 1h2m1 1h2m-2 8h2m-4 1h2m-4 3h2m-1 2h2m-1 1h2m0 2h2m-5 3h2m0 3h2m-3 4h2m0 0h2m-5 1h2m1 4h2m-5 16h2m1 8h2m-3 5h2m-5 3h2m1 0h2m-3 3h2m-4 6h2m2 2h2m-6 1h2m-1 2h2m-2 8h2m-3 0h2m2 0h2m-2 15h2m-4 0h2m-4 0h2m0 13h2m-1 0h2m-5 18h2m5-509h2m1 11h2m-2 1h2m-5 1h2m-1 2h2m-2 1h2m-5 2h2m3 2h2m-5 2h2m1 15h2m-5 10h2m1 1h2m-2 2h2m-2 0h2m-5 1h2m1 0h2m-5 9h2m-1 2h2m-2 7h2m-2 6h2m-2 25h2m-3 5h2m-1 69h2m0 2h2m-5 5h2m-2 2h2m-4 6h2m1 1h2m-2 3h2m-1 1h2m-1 7h2m-2 3h2m-5 0h2m0 2h2m-1 2h2m-2 6h2m-2 11h2m-2 2h2m-2 1h2m-3 6h2m-4 1h2m1 2h2m-3 9h2m-1 1h2m-5 1h2m-1 4h2m-5 10h2m-2 12h2m1 1h2m-2 0h2m-2 6h2m-5 8h2m-2 1h2m3 0h2m-2 0h2m-7 13h2m1 18h2m-2 46h2m-2 8h2m-2 2h2m-3 0h2m1 1h2m-4 2h2m-1 2h2m-1 1h2m-5 1h2m-1 0h2m0 0h2m-7 4h2m0 1h2m-4 1h2m0 1h2m-4 1h2m-2 0h2m1 6h2m0 5h2m-3 2h2m-2 2h2m-2 13h2m-3 0h2m-3 2h2m-2 1h2m0 3h2m-2 3h2m-6 2h2m2 1h2m-4 6h2m1 6h2m-2 19h2m-3 0h2m-3 0h2m0 5h2m-5 1h2m1 8h2m-5 14h2m0 0h2m-4 18h2m7-517h2m-6 2h2m1 7h2m-1 2h2m-4 1h2m-1 1h2m-3 1h2m0 5h2m-2 1h2m-2 0h2m-6 2h2m1 1h2m-6 1h2m1 1h2m-2 2h2m-1 0h2m-3 9h2m-4 8h2m0 2h2m0 5h2m-2 0h2m-6 4h2m2 0h2m-3 1h2m-6 2h2m2 3h2m-6 4h2m-2 28h2m1 0h2m-5 15h2m-2 0h2m-2 13h2m2 0h2m-1 0h2m-2 18h2m-3 0h2m-6 42h2m3 3h2m-4 0h2m-2 17h2m-1 3h2m-1 0h2m-6 3h2m-3 7h2m3 0h2m-3 1h2m-3 1h2m-1 3h2m-3 3h2m-4 1h2m2 1h2m-2 9h2m-7 1h2m3 2h2m-4 1h2m-2 1h2m-1 1h2m-5 4h2m2 3h2m-7 1h2m1 10h2m-4 2h2m0 0h2m-5 6h2m3 0h2m-7 2h2m-2 5h2m2 0h2m-1 8h2m-3 9h2m-6 4h2m3 5h2m-6 77h2m-2 7h2m2 1h2m-4 3h2m0 1h2m-7 1h2m2 1h2m-6 2h2m-2 0h2m-1 1h2m2 1h2m-6 1h2m2 0h2m-3 0h2m-1 1h2m-3 0h2m-2 1h2m-3 1h2m-1 0h2m-6 3h2m1 0h2m-2 1h2m-2 5h2m0 1h2m-2 1h2m-2 1h2m-4 1h2m-1 0h2m-2 1h2m-2 1h2m-3 0h2m-1 1h2m-6 1h2m2 1h2m-6 1h2m1 1h2m-1 0h2m-1 1h2m-2 2h2m-7 7h2m-1 1h2m-3 0h2m-2 0h2m3 0h2m-7 12h2m-2 1h2m-2 3h2m3 1h2m-6 1h2m2 2h2m-3 4h2m-2 2h2m-6 3h2m2 0h2m-5 1h2m0 4h2m-4 9h2m1 0h2m-1 5h2m-4 23h2m-5 18h2m8-511h2m-5 3h2m1 4h2m-1 2h2m-2 1h2m-2 1h2m-5 1h2m1 3h2m-2 4h2m-2 4h2m-3 2h2m-1 7h2m-2 3h2m-2 2h2m-6 3h2m-2 3h2m2 1h2m-5 3h2m1 2h2m-7 1h2m0 1h2m1 1h2m-5 2h2m-3 1h2m1 7h2m-6 3h2m0 0h2m-4 5h2m0 2h2m-3 0h2m-3 3h2m2 5h2m-4 1h2m0 0h2m-6 6h2m3 0h2m-6 7h2m-3 8h2m3 0h2m-2 0h2m-3 69h2m-4 7h2m-2 1h2m-4 5h2m3 5h2m-2 0h2m-2 0h2m-2 1h2m-3 1h2m-1 0h2m-3 1h2m-5 6h2m-3 0h2m-2 4h2m3 0h2m-6 3h2m-2 0h2m-1 2h2m-4 1h2m0 0h2m-4 3h2m2 6h2m-2 0h2m-5 3h2m-1 1h2m0 0h2m-5 1h2m-1 0h2m1 3h2m-2 0h2m-3 0h2m-5 1h2m-1 2h2m-3 11h2m-2 0h2m-3 3h2m0 2h2m-3 1h2m-2 0h2m1 7h2m-5 6h2m-1 1h2m1 7h2m-3 10h2m-4 1h2m-3 0h2m-2 8h2m-2 20h2m-3 0h2m0 18h2m-4 0h2m2 0h2m-1 0h2m-2 38h2m-6 4h2m-3 1h2m3 0h2m-2 1h2m-2 3h2m-6 1h2m2 7h2m-2 2h2m-2 0h2m-6 1h2m-2 0h2m-2 4h2m1 0h2m-6 3h2m2 2h2m-5 3h2m1 1h2m-5 1h2m-3 3h2m-2 1h2m3 1h2m-6 3h2m-1 2h2m1 0h2m-5 1h2m-3 0h2m-2 0h2m-1 1h2m-3 3h2m-3 1h2m0 1h2m-2 1h2m1 0h2m-2 1h2m-7 1h2m-2 14h2m0 4h2m1 0h2m-3 0h2m-4 1h2m-4 6h2m2 4h2m-6 1h2m3 5h2m-6 4h2m-1 0h2m1 1h2m-2 4h2m-6 6h2m-3 0h2m0 0h2m1 0h2m-7 4h2m0 1h2m1 2h2m-3 3h2m-6 5h2m0 0h2m-2 0h2m1 0h2m-2 2h2m-6 1h2m-3 10h2m2 0h2m-5 18h2m2 0h2m-2 0h2m-1-525h2m-2 10h2m0 6h2m-2 3h2m-3 1h2m-1 2h2m-2 2h2m-3 2h2m0 3h2m-2 0h2m-3 0h2m-4 0h2m1 6h2m-4 1h2m-3 4h2m1 2h2m-3 2h2m-3 1h2m-2 2h2m-2 7h2m-3 4h2m1 13h2m-4 2h2m0 3h2m-5 1h2m0 2h2m0 0h2m-6 5h2m-2 5h2m-1 2h2m-3 5h2m-1 5h2m0 0h2m-4 9h2m-3 6h2m0 13h2m-3 0h2m0 18h2m-5 0h2m1 0h2m-4 38h2m-2 1h2m-2 1h2m-1 3h2m-1 1h2m-2 4h2m-3 1h2m-4 5h2m3 1h2m-2 0h2m-7 1h2m-2 1h2m-2 0h2m-1 2h2m2 1h2m-6 2h2m0 1h2m0 1h2m-4 6h2m-2 0h2m-4 2h2m-2 3h2m0 0h2m-2 5h2m-4 0h2m-1 1h2m1 4h2m-7 2h2m1 2h2m-2 2h2m-3 1h2m-4 0h2m-1 5h2m-1 1h2m-1 1h2m-1 1h2m-1 0h2m-4 1h2m-5 2h2m1 1h2m-3 1h2m-4 1h2m3 1h2m-5 3h2m-4 1h2m0 0h2m-3 1h2m-2 0h2m-2 2h2m2 0h2m-5 3h2m-4 9h2m0 2h2m-2 3h2m-3 1h2m-1 1h2m1 4h2m-2 3h2m-7 4h2m0 0h2m-3 0h2m-3 15h2m1 0h2m-2 0h2m-2 13h2m-4 18h2m-2 33h2m-3 4h2m3 1h2m-5 2h2m-3 0h2m-2 2h2m2 1h2m-4 2h2m-5 1h2m1 2h2m-5 2h2m3 0h2m-6 1h2m-1 1h2m-4 1h2m-2 2h2m1 0h2m-2 0h2m-3 1h2m-3 0h2m0 1h2m-4 0h2m-3 1h2m2 0h2m-4 1h2m-3 1h2m-2 4h2m-3 0h2m2 2h2m-6 1h2m-1 0h2m0 2h2m-3 0h2m-2 2h2m-2 1h2m-2 0h2m-4 1h2m1 2h2m-5 3h2m0 0h2m-1 0h2m-2 0h2m-5 1h2m0 0h2m0 3h2m-3 3h2m-5 0h2m0 0h2m-1 6h2m-5 1h2m-1 2h2m-1 1h2m-2 0h2m-3 1h2m-1 0h2m-4 2h2m3 0h2m-5 6h2m-1 1h2m-4 5h2m0 1h2m-1 1h2m-6 1h2m3 1h2m-5 2h2m-2 5h2m-2 2h2m-2 5h2m-1 5h2m-5 2h2m1 7h2m-5 0h2m0 0h2m-1 0h2m-3 0h2m1 0h2m-6 5h2m0 3h2m0 0h2m-4 1h2m-3 4h2m-1 2h2m-5 1h2m1 12h2m-1 18h2m-6 0h2m5-528h2m-3 1h2m3 1h2m-3 4h2m-2 0h2m-4 5h2m-2 10h2m-1 2h2m-2 0h2m-4 3h2m-2 1h2m-2 2h2m0 1h2m0 2h2m-3 0h2m-4 0h2m0 1h2m-6 6h2m-1 2h2m1 3h2m-3 1h2m-1 0h2m-5 1h2m1 5h2m-2 1h2m-2 2h2m-5 2h2m-1 2h2m-1 3h2m0 2h2m-5 2h2m-2 0h2m-1 1h2m-2 0h2m-5 1h2m2 0h2m-6 1h2m0 0h2m-3 3h2m1 2h2m-3 1h2m-1 3h2m-3 1h2m-1 0h2m-5 0h2m-1 1h2m0 0h2m-1 1h2m-7 2h2m0 5h2m1 1h2m-3 1h2m-4 2h2m-1 0h2m-2 2h2m-1 3h2m-3 8h2m-3 0h2m0 0h2m-2 0h2m-3 7h2m-2 0h2m-2 3h2m-2 5h2m-3 0h2m-3 0h2m0 0h2m-2 0h2m-2 0h2m-1 0h2m-6 13h2m1 0h2m-2 0h2m-2 0h2m-2 0h2m-5 0h2m0 18h2m-4 0h2m1 34h2m-3 0h2m-4 3h2m-2 0h2m0 1h2m0 3h2m-4 0h2m-4 0h2m1 0h2m-3 1h2m-1 3h2m-3 3h2m-2 3h2m-1 1h2m-4 1h2m-2 0h2m-2 0h2m-1 1h2m-1 1h2m-2 1h2m-2 1h2m-2 1h2m-4 0h2m-2 1h2m0 2h2m-3 2h2m-1 1h2m-5 4h2m-1 2h2m-1 3h2m-1 0h2m-1 0h2m-3 0h2m-5 4h2m-2 0h2m-2 1h2m2 0h2m-6 3h2m1 1h2m-3 2h2m-2 0h2m-4 2h2m0 0h2m0 3h2m-1 1h2m-6 1h2m1 1h2m-2 0h2m-2 0h2m-3 3h2m-2 0h2m-3 3h2m-2 0h2m-3 3h2m-1 0h2m-1 2h2m-1 0h2m-4 1h2m-1 3h2m-2 1h2m-5 0h2m-1 1h2m-1 2h2m-3 5h2m0 0h2m-5 1h2m-2 0h2m2 2h2m-2 0h2m-5 2h2m1 2h2m-6 2h2m0 3h2m-2 1h2m0 1h2m-1 3h2m-2 5h2m-4 1h2m-3 5h2m-3 15h2m0 0h2m-2 0h2m-1 13h2m-4 0h2m-3 0h2m-2 0h2m1 18h2m-3 0h2m-4 31h2m-2 0h2m1 1h2m-5 1h2m-2 0h2m-2 1h2m-1 0h2m-4 2h2m1 1h2m-2 0h2m-3 0h2m-3 1h2m0 0h2m-4 1h2m-2 1h2m1 1h2m-4 1h2m0 2h2m-4 1h2m-2 2h2m-4 1h2m1 0h2m-2 2h2m-1 1h2m-4 0h2m-1 0h2m-4 1h2m0 0h2m-3 0h2m-1 0h2m-5 0h2m2 0h2m-1 0h2m-4 1h2m-4 4h2m-1 1h2m0 1h2m-2 1h2m-6 1h2m1 2h2m-2 1h2m-4 2h2m0 2h2m-2 4h2m0 0h2m-3 0h2m-6 4h2m-2 2h2m2 0h2m-2 2h2m-6 1h2m2 0h2m-6 1h2m1 1h2m-2 4h2m-1 2h2m-3 0h2m-5 2h2m-1 0h2m-3 0h2m2 2h2m-4 0h2m-2 1h2m-2 1h2m0 0h2m-6 1h2m-2 0h2m2 0h2m-2 1h2m-2 0h2m-4 0h2m-4 0h2m-1 0h2m1 2h2m-2 1h2m-2 0h2m-5 0h2m-3 1h2m2 1h2m-5 2h2m-2 1h2m-2 1h2m-2 1h2m1 1h2m-5 0h2m-2 2h2m-3 1h2m-1 0h2m-3 0h2m2 0h2m-3 1h2m-4 0h2m-3 2h2m-1 2h2m1 5h2m-1 0h2m-6 4h2m-3 1h2m-2 1h2m2 2h2m-1 6h2m-7 2h2m0 1h2m-3 4h2m-2 0h2m-3 0h2m2 0h2m-5 0h2m-2 0h2m-1 0h2m-2 0h2m-3 0h2m1 0h2m-2 0h2m-2 2h2m-3 3h2m-2 1h2m-4 2h2m-2 2h2m-1 3h2m-1 2h2m-2 0h2m-2 0h2m-2 0h2m-5 0h2m1 0h2m-3 31h2m-1 0h2m-3 0h2m-4 0h2m8-536h2m-2 5h2m-3 2h2m-2 7h2m-4 2h2m1 0h2m-4 2h2m1 1h2m-4 1h2m-1 2h2m-1 1h2m-2 4h2m-5 1h2m-3 0h2m-1 1h2m-3 2h2m0 2h2m-1 1h2m-2 0h2m-5 0h2m1 3h2m-3 0h2m0 2h2m-2 1h2m-5 0h2m0 2h2m-5 2h2m-2 2h2m0 0h2m-3 0h2m0 6h2m-4 1h2m-3 1h2m1 3h2m-2 2h2m-1 0h2m-4 5h2m-3 3h2m1 1h2m-5 4h2m-2 8h2m0 2h2m-6 1h2m-1 0h2m-1 0h2m-1 4h2m-2 0h2m0 1h2m-3 0h2m-3 0h2m-2 1h2m0 0h2m-3 2h2m-2 3h2m-5 1h2m-1 1h2m0 0h2m-5 2h2m2 3h2m-2 1h2m-4 0h2m-4 0h2m2 1h2m-4 1h2m-1 3h2m-1 5h2m-4 0h2m-1 0h2m-5 0h2m2 0h2m-6 0h2m1 0h2m-5 7h2m-1 3h2m-4 4h2m-1 1h2m-2 0h2m1 0h2m-5 0h2m-1 7h2m-1 0h2m-3 6h2m0 0h2m-5 0h2m0 0h2m-2 0h2m0 18h2m-5 0h2m-1 33h2m0 2h2m-6 2h2m0 0h2m-3 0h2m-3 1h2m2 1h2m-3 1h2m-4 0h2m-2 0h2m1 0h2m-5 3h2m-3 1h2m0 0h2m-1 2h2m-4 0h2m1 0h2m-3 1h2m-3 0h2m-3 0h2m0 0h2m-2 0h2m-4 1h2m-1 1h2m0 0h2m-5 1h2m0 0h2m-3 0h2m-3 0h2m1 1h2m-4 0h2m-2 0h2m-4 0h2m-1 3h2m-1 0h2m-4 1h2m2 0h2m-2 2h2m-4 0h2m-4 1h2m-2 0h2m1 0h2m-3 0h2m-3 1h2m1 0h2m-5 1h2m-3 0h2m1 0h2m-1 1h2m-6 0h2m-1 1h2m-3 2h2m2 0h2m-2 1h2m-5 0h2m1 1h2m-3 2h2m-3 0h2m-3 2h2m-3 3h2m-1 2h2m-2 1h2m-2 0h2m-1 1h2m-4 2h2m-1 0h2m1 3h2m-2 1h2m-2 3h2m-3 1h2m-5 1h2m2 1h2m-4 0h2m-4 1h2m-1 1h2m1 1h2m-4 2h2m-3 2h2m-4 3h2m2 1h2m-3 0h2m-4 2h2m-2 0h2m2 1h2m-5 4h2m-2 0h2m0 1h2m-4 7h2m-3 1h2m-2 1h2m-2 2h2m1 4h2m-5 8h2m1 6h2m-2 1h2m-1 0h2m-3 2h2m-2 4h2m-6 0h2m2 15h2m-2 0h2m-3 0h2m-1 0h2m-3 13h2m-4 0h2m-1 0h2m1 0h2m-4 18h2m-5 0h2m0 31h2m-2 1h2m0 3h2m-5 1h2m1 1h2m-4 1h2m-3 1h2m0 4h2m-2 1h2m-3 1h2m-2 0h2m0 1h2m-5 1h2m1 0h2m-6 3h2m1 0h2m-1 0h2m-3 0h2m-1 1h2m-5 0h2m-1 0h2m-2 0h2m0 0h2m-3 1h2m-4 1h2m-2 1h2m-1 0h2m-3 1h2m0 1h2m-4 1h2m2 0h2m-6 0h2m1 2h2m-5 1h2m-2 0h2m-1 1h2m-2 0h2m-3 1h2m1 0h2m-3 1h2m-4 1h2m1 1h2m-3 0h2m-1 1h2m-3 2h2m-2 0h2m-2 1h2m0 2h2m-6 1h2m-1 1h2m-1 1h2m-3 1h2m-4 0h2m2 1h2m-5 0h2m1 1h2m-1 0h2m-5 0h2m-1 0h2m-4 0h2m-1 1h2m0 1h2m-4 2h2m-2 1h2m0 1h2m-2 1h2m-4 1h2m1 0h2m-6 0h2m-2 0h2m-2 1h2m1 0h2m-2 2h2m-2 0h2m-1 0h2m-5 1h2m1 0h2m-7 0h2m0 1h2m-3 1h2m0 1h2m-2 3h2m-3 1h2m0 0h2m-1 1h2m-5 1h2m0 1h2m-4 0h2m0 2h2m-1 0h2m-6 1h2m-1 1h2m-1 1h2m-2 0h2m-2 1h2m-4 2h2m-2 0h2m0 1h2m-1 3h2m-5 2h2m1 0h2m-6 0h2m3 2h2m-3 1h2m-1 2h2m-5 1h2m-2 3h2m-3 1h2m0 0h2m-1 0h2m-1 1h2m-4 1h2m-1 1h2m-5 2h2m1 0h2m-1 1h2m-7 2h2m-1 0h2m1 0h2m-1 3h2m-3 5h2m-4 3h2m-1 0h2m-2 0h2m0 0h2m-5 0h2m0 0h2m-1 0h2m-2 1h2m-2 1h2m-5 3h2m-1 2h2m-3 0h2m-1 1h2m-3 4h2m-2 2h2m-1 1h2m-4 0h2m1 0h2m-5 0h2m2 0h2m-2 0h2m-4 0h2m-3 0h2m1 13h2m-2 0h2m-4 0h2m-1 0h2m-3 18h2m-1 0h2m-4 0h2m2-535h2m3 0h2m-3 2h2m-3 1h2m0 6h2m-5 4h2m-2 8h2m0 1h2m-1 4h2m-3 1h2m-3 0h2m0 1h2m-2 3h2m-2 3h2m-5 3h2m-1 1h2m0 1h2m-2 0h2m-5 1h2m1 7h2m-5 1h2m-4 2h2m3 3h2m-4 7h2m-1 5h2m-4 2h2m1 0h2m-2 1h2m-3 4h2m-4 1h2m0 2h2m-4 0h2m1 1h2m-2 1h2m-5 1h2m0 1h2m-1 0h2m-2 2h2m-2 3h2m-7 4h2m2 1h2m-2 0h2m-2 0h2m-6 1h2m-2 3h2m0 0h2m0 0h2m-4 0h2m-2 1h2m-2 0h2m-2 2h2m-1 0h2m-1 0h2m-2 1h2m-3 0h2m-2 1h2m-1 1h2m-3 0h2m-1 2h2m-1 0h2m-4 1h2m-1 0h2m-2 3h2m-1 2h2m-7 4h2m0 0h2m-2 0h2m-1 0h2m-1 0h2m-3 0h2m0 0h2m-3 0h2m-1 1h2m-2 8h2m-2 1h2m-3 2h2m-6 3h2m3 0h2m-2 0h2m-4 0h2m0 0h2m-4 13h2m-2 18h2m-1 0h2m-4 32h2m-2 0h2m1 1h2m-3 2h2m-1 1h2m-2 2h2m-3 1h2m-4 2h2m0 2h2m-4 0h2m-1 1h2m-2 1h2m-3 0h2m-1 1h2m0 1h2m-7 1h2m-2 2h2m2 0h2m-1 0h2m-5 0h2m-2 0h2m1 1h2m-4 0h2m-2 0h2m0 0h2m-3 1h2m-1 1h2m-3 5h2m-2 1h2m-4 1h2m-1 1h2m-2 3h2m0 1h2m-3 1h2m-3 1h2m0 2h2m-2 1h2m-3 0h2m-6 1h2m-2 1h2m2 0h2m-4 3h2m-2 1h2m0 0h2m-4 2h2m0 1h2m-6 3h2m1 0h2m-3 4h2m-1 4h2m-5 1h2m1 1h2m-3 0h2m0 0h2m-4 1h2m1 0h2m-3 0h2m-2 0h2m-1 0h2m-3 2h2m-1 0h2m-7 4h2m0 1h2m-2 1h2m-2 0h2m-2 1h2m-1 3h2m-2 0h2m-1 1h2m-1 0h2m-4 1h2m-3 1h2m-1 0h2m-5 1h2m1 3h2m-2 1h2m-3 0h2m0 1h2m-3 3h2m-1 0h2m-5 3h2m2 3h2m-5 0h2m0 1h2m-2 1h2m-3 2h2m-3 2h2m-2 0h2m-2 0h2m-2 2h2m-2 1h2m0 2h2m-3 10h2m-3 0h2m0 0h2m-4 0h2m-1 0h2m-1 1h2m-6 14h2m1 0h2m-1 0h2m-3 0h2m0 0h2m-5 13h2m-1 0h2m-3 18h2m0 0h2m-3 34h2m-3 0h2m1 1h2m-3 0h2m-4 1h2m0 0h2m-3 0h2m-2 0h2m-3 1h2m-2 2h2m-4 1h2m1 0h2m-1 1h2m-1 0h2m-4 2h2m-5 2h2m-2 0h2m-2 0h2m0 3h2m-1 0h2m-1 1h2m-3 0h2m-2 1h2m-2 1h2m0 1h2m-2 0h2m-5 0h2m0 0h2m-4 1h2m0 0h2m-2 0h2m-2 0h2m-4 1h2m-1 1h2m-2 0h2m-2 1h2m-5 1h2m-2 1h2m2 0h2m-3 1h2m-1 0h2m-3 1h2m-1 1h2m-3 0h2m-3 1h2m1 1h2m-5 2h2m1 1h2m-5 2h2m1 2h2m-5 0h2m-2 1h2m0 0h2m-4 2h2m-2 0h2m-1 1h2m-5 1h2m0 0h2m-4 4h2m2 0h2m-2 1h2m-3 2h2m-3 0h2m-1 0h2m-2 1h2m-1 0h2m-1 2h2m-2 0h2m-4 2h2m-3 0h2m-4 1h2m1 2h2m-1 0h2m-4 1h2m-1 0h2m-5 1h2m2 0h2m-4 1h2m-2 1h2m0 1h2m-2 0h2m-4 0h2m1 0h2m-2 1h2m-7 1h2m0 0h2m-1 1h2m-1 0h2m-1 0h2m-4 2h2m-2 0h2m-5 2h2m2 0h2m-4 0h2m1 0h2m-3 1h2m-3 0h2m-2 1h2m-1 0h2m-6 1h2m3 0h2m-4 0h2m-2 0h2m-3 0h2m-1 1h2m-2 1h2m-3 1h2m1 2h2m-3 2h2m-6 1h2m3 8h2m-3 3h2m-1 1h2m-5 0h2m1 0h2m-3 0h2m-4 0h2m0 2h2m-4 4h2m-1 0h2m-2 0h2m0 2h2m-3 4h2m-6 5h2m0 0h2m-1 0h2m-2 0h2m-3 0h2m0 0h2m-2 0h2m-3 0h2m-3 0h2m0 0h2m-1 0h2m-5 0h2m-1 6h2m-1 2h2m-3 2h2m-3 5h2m-2 0h2m0 0h2m-4 0h2m0 13h2m-4 0h2m1 0h2m-5 18h2m6-534h2m-2 0h2m-6 1h2m1 1h2m-5 4h2m3 7h2m-7 3h2m1 1h2m0 4h2m-6 3h2m0 2h2m0 2h2m-6 1h2m2 2h2m-2 0h2m-3 0h2m-3 0h2m-5 1h2m1 0h2m0 0h2m-4 1h2m0 3h2m-6 1h2m-3 0h2m-1 1h2m2 6h2m-6 1h2m2 3h2m-2 3h2m-2 1h2m-2 1h2m-3 1h2m-2 9h2m-6 2h2m1 0h2m-5 3h2m-1 3h2m2 4h2m-7 2h2m-1 1h2m2 0h2m-3 2h2m-5 1h2m1 0h2m-5 1h2m1 0h2m-1 1h2m-2 1h2m-2 2h2m-3 1h2m-2 0h2m-2 5h2m-2 3h2m-3 3h2m0 1h2m-7 3h2m1 1h2m0 2h2m-6 1h2m1 4h2m-1 0h2m-4 0h2m-5 3h2m-2 3h2m-2 0h2m1 1h2m0 1h2m-4 0h2m-4 3h2m0 0h2m-5 4h2m-2 0h2m1 0h2m0 0h2m-3 0h2m-1 0h2m-7 3h2m-1 4h2m1 1h2m-1 5h2m-3 0h2m-2 0h2m-3 0h2m0 0h2m-7 18h2m-2 0h2m3 0h2m-3 30h2m-3 0h2m-2 5h2m-1 1h2m-2 1h2m-6 1h2m-2 2h2m-1 3h2m1 0h2m-6 1h2m3 0h2m-4 0h2m-4 1h2m0 0h2m-1 2h2m-6 1h2m2 0h2m-2 0h2m-1 1h2m-4 0h2m-5 1h2m-2 0h2m3 0h2m-6 1h2m2 0h2m-2 0h2m-2 2h2m-7 1h2m3 0h2m-3 4h2m-2 1h2m-2 2h2m-2 0h2m-3 7h2m-2 1h2m0 0h2m-3 5h2m-1 0h2m-6 1h2m0 0h2m0 1h2m-7 2h2m-2 0h2m2 1h2m-6 1h2m1 1h2m-2 0h2m-5 1h2m2 0h2m-1 1h2m-3 0h2m-3 0h2m-5 1h2m2 0h2m-2 0h2m-1 1h2m-4 0h2m-4 7h2m2 1h2m-3 0h2m-3 1h2m-2 1h2m-5 1h2m-2 0h2m-1 1h2m-3 1h2m1 0h2m-2 2h2m-1 1h2m-1 0h2m-6 2h2m1 1h2m-1 2h2m-4 5h2m-2 0h2m-5 3h2m-1 1h2m-3 2h2m-2 4h2m-2 0h2m1 1h2m0 1h2m-4 0h2m-5 2h2m-1 1h2m1 3h2m-6 1h2m-2 3h2m2 0h2m-2 5h2m-6 6h2m-2 0h2m-2 0h2m-2 0h2m3 0h2m-2 0h2m-3 0h2m-1 0h2m-2 1h2m-3 45h2m-2 0h2m-2 0h2m-2 32h2m-5 7h2m1 1h2m-1 1h2m-3 1h2m-2 0h2m-2 0h2m-2 1h2m-5 2h2m0 0h2m-2 1h2m-2 0h2m0 0h2m-4 0h2m-4 1h2m2 0h2m-2 0h2m-3 0h2m-1 0h2m-3 0h2m-3 0h2m0 1h2m-2 0h2m-2 0h2m-4 0h2m-4 1h2m1 0h2m-6 2h2m-2 0h2m-2 0h2m-2 1h2m-1 0h2m-3 1h2m2 0h2m-3 0h2m-1 1h2m-2 1h2m-1 0h2m-6 1h2m-3 0h2m1 0h2m-2 1h2m-1 2h2m-2 0h2m-6 2h2m3 1h2m-2 1h2m-7 2h2m1 0h2m-4 1h2m1 0h2m-3 0h2m-1 1h2m-5 5h2m-3 1h2m2 1h2m-6 1h2m3 1h2m-7 1h2m2 1h2m-2 0h2m-2 1h2m-6 3h2m-2 2h2m-2 1h2m-2 0h2m1 0h2m-1 0h2m-6 1h2m2 1h2m-1 0h2m-3 1h2m-3 0h2m-1 1h2m-3 0h2m-1 2h2m-3 0h2m-1 3h2m-1 0h2m-2 0h2m-4 2h2m0 1h2m-7 2h2m-2 0h2m-2 1h2m1 0h2m-5 1h2m1 0h2m-1 0h2m-5 2h2m0 0h2m-1 0h2m-6 1h2m-2 0h2m3 0h2m-7 1h2m1 0h2m-1 3h2m-1 0h2m-3 3h2m-3 1h2m-1 4h2m-5 1h2m-3 1h2m-2 0h2m-1 2h2m1 1h2m-6 1h2m3 0h2m-3 3h2m-6 1h2m3 0h2m-7 2h2m-2 2h2m-2 2h2m-1 0h2m-3 0h2m1 2h2m-4 1h2m2 0h2m-6 6h2m-2 1h2m-3 0h2m1 0h2m-2 0h2m-2 0h2m-1 0h2m-3 0h2m-1 0h2m-2 0h2m-3 0h2m-5 3h2m-2 5h2m-1 2h2m0 0h2m-1 4h2m-6 1h2m-1 0h2m0 0h2m-1 0h2m-2 0h2m-2 0h2m-5 13h2m-3 0h2m-2 0h2m-1 0h2m1 0h2m-3 0h2m-2 0h2m0 0h2m-4 0h2m-2 18h2m0 0h2m-3 0h2m5-535h2m-7 4h2m-1 0h2m-2 4h2m-3 1h2m-2 9h2m2 0h2m-5 1h2m-2 2h2m1 3h2m-6 1h2m0 4h2m-3 1h2m-3 0h2m-1 2h2m-2 0h2m-3 0h2m2 1h2m-6 5h2m3 0h2m-5 2h2m-4 1h2m-1 0h2m-1 4h2m1 0h2m-2 1h2m-2 1h2m-7 2h2m-2 0h2m0 3h2m1 1h2m-7 1h2m0 0h2m0 1h2m-2 1h2m-1 1h2m-3 0h2m-1 10h2m-6 8h2m1 5h2m-5 1h2m2 2h2m-6 1h2m-1 0h2m-2 1h2m-2 2h2m-2 0h2m-2 2h2m-3 2h2m-2 1h2m-3 2h2m-2 2h2m3 0h2m-2 1h2m-2 1h2m-6 2h2m-3 0h2m3 2h2m-5 1h2m1 2h2m-3 1h2m-6 1h2m-2 0h2m2 1h2m-1 3h2m-5 8h2m-3 2h2m-1 5h2m-4 0h2m3 0h2m-3 0h2m-2 0h2m-2 0h2m-1 0h2m-3 0h2m-4 1h2m-2 5h2m-3 2h2m-3 5h2m-2 0h2m-1 1h2m-2 17h2m2 32h2m-2 1h2m-3 0h2m-2 0h2m-2 1h2m-4 2h2m-3 0h2m-2 0h2m-1 1h2m1 0h2m-6 1h2m2 0h2m-3 1h2m-2 0h2m-1 0h2m-6 1h2m1 0h2m-1 0h2m-7 1h2m0 2h2m-2 0h2m-4 2h2m0 1h2m1 0h2m-5 2h2m-4 0h2m0 1h2m-4 0h2m-1 0h2m2 3h2m-6 1h2m-3 2h2m-2 3h2m2 0h2m-2 0h2m-6 1h2m-1 2h2m-2 0h2m-2 0h2m1 1h2m-6 2h2m2 1h2m-2 4h2m-5 1h2m-1 0h2m1 0h2m-7 1h2m3 2h2m-7 1h2m-1 0h2m-3 2h2m-1 0h2m-2 3h2m-3 1h2m2 0h2m-2 1h2m-1 1h2m-7 1h2m-2 1h2m-2 0h2m-1 1h2m2 0h2m-6 1h2m2 0h2m-2 1h2m-5 2h2m0 1h2m-1 1h2m-5 1h2m-3 1h2m-3 0h2m-1 0h2m1 0h2m-1 1h2m-2 0h2m-7 1h2m-1 0h2m-3 6h2m-1 1h2m-1 2h2m-4 0h2m-2 0h2m-1 1h2m-3 1h2m-1 8h2m-2 0h2m2 4h2m-6 4h2m-1 0h2m-3 4h2m-2 1h2m-1 2h2m-2 0h2m1 0h2m-5 1h2m-2 2h2m1 0h2m-7 6h2m-2 6h2m-2 0h2m-1 0h2m1 0h2m-6 15h2m-2 0h2m3 0h2m-2 0h2m-7 13h2m3 0h2m-2 0h2m-5 18h2m-3 0h2m-2 29h2m2 1h2m-5 1h2m1 0h2m-2 1h2m-7 1h2m-1 0h2m-1 2h2m1 2h2m-5 1h2m-4 0h2m3 0h2m-5 1h2m-3 2h2m-1 0h2m-3 3h2m-1 0h2m1 0h2m-5 1h2m-4 2h2m-1 1h2m-3 0h2m-2 0h2m2 0h2m-2 0h2m-6 1h2m2 1h2m-1 1h2m-3 1h2m-1 1h2m-3 0h2m-6 1h2m0 0h2m-2 0h2m-3 1h2m-3 0h2m-2 1h2m-1 3h2m-2 0h2m-1 1h2m-2 1h2m-3 1h2m2 0h2m-6 1h2m-2 1h2m1 5h2m-4 1h2m-2 1h2m-4 0h2m-1 0h2m1 0h2m-1 0h2m-2 2h2m-7 2h2m0 1h2m0 1h2m-4 3h2m-3 0h2m-2 1h2m-2 2h2m-1 2h2m1 0h2m-7 1h2m2 0h2m-2 0h2m-6 1h2m2 0h2m-2 0h2m-6 1h2m2 0h2m-2 0h2m-5 1h2m-1 0h2m-4 0h2m0 1h2m-2 0h2m-2 0h2m1 1h2m-6 1h2m-2 0h2m-1 0h2m0 1h2m-5 1h2m-3 1h2m0 1h2m1 2h2m-2 0h2m-6 1h2m1 1h2m-1 0h2m-7 3h2m2 1h2m-1 0h2m-5 1h2m0 0h2m-4 1h2m-4 1h2m2 0h2m-4 1h2m-4 0h2m3 0h2m-3 1h2m-4 1h2m-2 1h2m1 2h2m-6 1h2m-3 0h2m0 0h2m-2 0h2m-2 2h2m-3 2h2m-3 4h2m0 3h2m-2 1h2m-3 2h2m-3 0h2m3 4h2m-3 1h2m-6 2h2m-2 0h2m2 0h2m-2 0h2m-4 3h2m-2 2h2m-3 2h2m-1 0h2m-3 0h2m-3 0h2m-1 0h2m2 0h2m-2 0h2m-2 0h2m-2 2h2m-5 2h2m-4 2h2m3 3h2m-6 6h2m-2 0h2m-2 0h2m2 0h2m-3 0h2m-1 0h2m-7 13h2m0 0h2m-4 0h2m2 0h2m-5 18h2m3-532h2m1 1h2m-3 0h2m-3 3h2m2 0h2m-4 2h2m-5 7h2m0 6h2m-1 9h2m-3 1h2m-1 7h2m-3 3h2m-4 0h2m1 2h2m-2 1h2m-3 0h2m-2 1h2m-3 1h2m-1 0h2m1 0h2m-7 1h2m0 1h2m-3 0h2m0 1h2m-4 1h2m-3 0h2m-1 1h2m0 2h2m-3 1h2m-1 2h2m0 2h2m-4 1h2m-2 0h2m-3 1h2m-2 1h2m-2 0h2m-3 0h2m-2 2h2m-3 1h2m3 0h2m-2 1h2m-6 1h2m-1 1h2m-3 3h2m-1 1h2m-1 1h2m-3 1h2m-2 8h2m-4 1h2m-1 3h2m0 3h2m-2 2h2m-2 0h2m-5 0h2m1 1h2m-5 1h2m-1 5h2m0 2h2m-5 0h2m3 0h2m-6 2h2m0 1h2m0 0h2m-4 1h2m-5 2h2m3 0h2m-2 0h2m-4 5h2m-4 0h2m0 0h2m0 0h2m-2 6h2m-6 1h2m-3 1h2m3 0h2m-7 2h2m-2 5h2m-2 0h2m1 0h2m-3 4h2m-2 4h2m-2 1h2m-4 2h2m-1 2h2m0 0h2m-5 0h2m0 0h2m-1 18h2m0 0h2m-2 0h2m-6 31h2m-3 0h2m3 0h2m-6 1h2m-3 1h2m-1 1h2m-3 1h2m-1 1h2m-3 0h2m1 0h2m-4 0h2m-2 1h2m-2 0h2m0 0h2m-4 1h2m2 1h2m-4 1h2m-4 0h2m0 0h2m-5 0h2m3 0h2m-5 1h2m-1 0h2m-2 0h2m-3 0h2m-2 0h2m-3 0h2m0 1h2m-2 0h2m-2 0h2m-2 0h2m-2 1h2m-2 4h2m-5 2h2m-1 3h2m-2 1h2m-1 3h2m-1 1h2m-3 2h2m-1 2h2m-4 2h2m-3 0h2m-1 1h2m2 0h2m-4 3h2m-3 6h2m-3 0h2m2 1h2m-5 2h2m-2 0h2m-2 1h2m-4 3h2m1 1h2m0 1h2m-7 1h2m0 2h2m-4 1h2m0 0h2m-2 1h2m-3 0h2m2 0h2m-4 2h2m-5 0h2m3 0h2m-6 1h2m0 0h2m-2 0h2m-2 1h2m-5 3h2m1 1h2m-4 0h2m-3 0h2m0 1h2m-2 0h2m-3 2h2m-3 1h2m-1 2h2m0 0h2m-3 4h2m1 0h2m-6 6h2m-1 3h2m-1 0h2m0 0h2m-6 2h2m0 3h2m0 3h2m-7 2h2m3 0h2m-4 1h2m0 1h2m-7 2h2m-2 4h2m1 4h2m-5 1h2m-1 1h2m-2 6h2m-1 0h2m-3 0h2m-2 0h2m-3 0h2m3 0h2m-4 15h2m-3 0h2m-4 0h2m1 13h2m-3 0h2m1 18h2m-2 30h2m-4 1h2m-4 1h2m-2 2h2m-2 0h2m2 0h2m-7 1h2m-1 1h2m2 0h2m-6 3h2m-2 1h2m-3 1h2m3 1h2m-7 2h2m-1 2h2m-3 1h2m-2 0h2m0 1h2m-1 1h2m-4 0h2m-2 0h2m0 2h2m0 0h2m-4 1h2m-2 0h2m-3 1h2m-2 0h2m-2 0h2m-3 1h2m0 0h2m-5 0h2m-1 0h2m-1 1h2m-1 0h2m-4 0h2m-3 0h2m1 0h2m-2 1h2m-3 5h2m-4 0h2m-1 1h2m0 0h2m-2 2h2m-4 2h2m-3 1h2m-1 1h2m-2 1h2m2 0h2m-6 3h2m0 1h2m-4 2h2m-3 0h2m-1 0h2m0 0h2m-3 1h2m-2 1h2m-2 0h2m-3 1h2m0 1h2m-5 0h2m-1 0h2m-2 4h2m0 0h2m-2 1h2m-3 0h2m-3 1h2m-3 0h2m-2 1h2m-2 3h2m-1 1h2m-3 2h2m-2 1h2m-1 1h2m-3 1h2m1 0h2m-5 1h2m-1 0h2m-1 0h2m-1 0h2m-5 1h2m-2 0h2m0 1h2m-3 0h2m0 2h2m-5 0h2m-2 2h2m-2 0h2m-2 2h2m-1 2h2m-1 1h2m-4 1h2m1 0h2m-4 1h2m2 1h2m-7 2h2m0 2h2m-1 0h2m-2 1h2m-3 0h2m-2 1h2m-1 1h2m-4 4h2m2 0h2m-5 2h2m-2 0h2m1 0h2m-7 1h2m-2 2h2m-1 1h2m-3 2h2m-1 0h2m0 0h2m-3 0h2m-1 1h2m0 2h2m-6 1h2m2 0h2m-7 1h2m0 0h2m-2 1h2m-3 1h2m-2 0h2m-2 6h2m-3 0h2m0 0h2m-4 0h2m0 0h2m-4 0h2m0 0h2m1 0h2m-5 7h2m1 0h2m-5 2h2m-3 1h2m-2 5h2m-2 0h2m-1 0h2m-3 0h2m2 0h2m-4 13h2m-5 0h2m1 0h2m-4 0h2m2 0h2m-5 18h2m-1 0h2m-3 0h2m-1 0h2m-3 0h2m-3 0h2m2 0h2m3-535h2m-4 5h2m-1 5h2m-3 0h2m-1 1h2m-5 3h2m1 5h2m-3 15h2m-3 3h2m-1 9h2m-2 4h2m0 3h2m-5 1h2m-2 3h2m-1 3h2m-1 2h2m-2 2h2m-3 0h2m0 1h2m-4 1h2m-4 1h2m1 1h2m-2 1h2m-2 3h2m-3 5h2m-4 2h2m-2 2h2m1 1h2m-4 1h2m1 2h2m-3 0h2m-3 1h2m-3 2h2m0 1h2m-1 5h2m-5 1h2m-3 0h2m-2 2h2m0 0h2m-3 1h2m2 0h2m-4 0h2m-5 1h2m-1 1h2m-2 2h2m1 0h2m-4 0h2m-1 0h2m-5 1h2m-1 1h2m-1 2h2m-3 0h2m1 0h2m-3 1h2m-3 3h2m-3 1h2m-2 0h2m-1 0h2m-2 0h2m-4 0h2m0 0h2m-3 0h2m1 0h2m-5 0h2m1 0h2m-3 3h2m-4 1h2m-2 1h2m-2 1h2m-3 5h2m2 2h2m-3 2h2m-1 0h2m-5 0h2m-1 0h2m-3 2h2m-3 8h2m2 3h2m-5 2h2m0 16h2m-3 0h2m-2 32h2m-4 1h2m-2 0h2m0 1h2m-3 1h2m0 0h2m-3 0h2m-1 1h2m-5 1h2m1 0h2m-2 1h2m-4 0h2m-3 0h2m2 1h2m-5 0h2m-1 0h2m-1 1h2m-1 0h2m-6 0h2m-2 1h2m1 5h2m-4 1h2m1 1h2m-5 3h2m1 1h2m-2 1h2m-2 3h2m-2 1h2m-2 3h2m-2 3h2m-2 2h2m-6 2h2m2 0h2m-2 1h2m-3 2h2m-5 1h2m-2 2h2m2 2h2m-6 0h2m1 1h2m-5 0h2m1 1h2m-1 2h2m-2 0h2m-6 1h2m0 1h2m-4 2h2m-1 1h2m-2 1h2m-3 0h2m-1 1h2m1 0h2m-6 0h2m-2 1h2m-2 0h2m-2 1h2m-1 0h2m-2 0h2m-3 1h2m1 0h2m-3 1h2m0 1h2m-4 0h2m-3 0h2m-2 3h2m1 3h2m-3 5h2m-1 1h2m-3 1h2m-3 1h2m-1 0h2m-1 1h2m-6 3h2m1 1h2m-2 1h2m-1 2h2m-6 1h2m2 2h2m-3 2h2m-3 2h2m-3 1h2m-1 3h2m-2 2h2m-2 1h2m-1 4h2m-1 4h2m-5 1h2m1 0h2m-2 1h2m-6 5h2m-2 2h2m-1 0h2m-1 0h2m-4 0h2m2 0h2m-2 0h2m-2 0h2m-3 15h2m-2 0h2m-1 0h2m-6 13h2m-1 18h2m-3 0h2m2 31h2m-3 1h2m-3 0h2m-4 3h2m0 1h2m-3 0h2m0 0h2m-3 3h2m0 1h2m-3 2h2m-1 1h2m-4 0h2m-2 1h2m-2 1h2m-3 0h2m-1 1h2m-4 0h2m-2 0h2m2 1h2m-1 1h2m-3 2h2m-5 0h2m-1 0h2m0 1h2m-4 0h2m0 0h2m-5 0h2m1 0h2m-2 0h2m-2 0h2m-2 0h2m-2 0h2m-5 0h2m-3 0h2m2 1h2m-4 1h2m-1 0h2m-1 2h2m-3 0h2m-3 3h2m-4 1h2m-1 0h2m-1 1h2m-1 2h2m-5 1h2m-2 1h2m1 1h2m-5 1h2m2 1h2m-4 0h2m0 1h2m-6 4h2m2 1h2m-4 1h2m0 0h2m-5 1h2m-3 3h2m1 4h2m-1 1h2m-3 3h2m-4 5h2m0 0h2m-4 2h2m-1 0h2m-3 4h2m-1 1h2m-4 0h2m-2 1h2m-1 0h2m-3 2h2m1 0h2m-3 2h2m-2 3h2m-4 1h2m2 3h2m-2 0h2m-5 1h2m1 0h2m-3 0h2m0 1h2m-3 0h2m-4 0h2m-1 0h2m-5 1h2m2 1h2m-5 1h2m-2 1h2m-1 0h2m-3 0h2m-2 1h2m-1 0h2m-1 0h2m-4 1h2m-3 0h2m1 1h2m-4 0h2m1 1h2m-4 2h2m-1 0h2m-2 0h2m-1 2h2m-6 0h2m1 1h2m-1 1h2m-2 1h2m-6 0h2m0 0h2m-3 1h2m-1 1h2m-2 1h2m-1 0h2m-1 0h2m-3 0h2m-2 2h2m-1 0h2m-4 1h2m-1 2h2m-2 1h2m-2 1h2m-1 0h2m-2 2h2m-2 2h2m-2 1h2m-6 0h2m1 0h2m-1 0h2m-3 0h2m-3 0h2m-1 0h2m-3 0h2m0 2h2m-4 1h2m-3 2h2m-2 2h2m1 2h2m-2 3h2m-3 3h2m-2 0h2m-2 0h2m-1 0h2m-5 0h2m-3 0h2m1 0h2m-4 0h2m-1 13h2m-2 0h2m-1 18h2m-1 0h2m-3 0h2m0 0h2m3-533h2m-3 3h2m-1 7h2m-1 0h2m-4 0h2m0 2h2m-2 5h2m-5 9h2m-2 2h2m-1 1h2m-2 4h2m0 1h2m-2 1h2m-6 0h2m-1 9h2m1 1h2m-2 0h2m-6 1h2m0 0h2m-3 7h2m-3 1h2m-1 11h2m0 1h2m-3 3h2m-3 6h2m0 3h2m-5 1h2m1 3h2m-1 3h2m-3 2h2m-3 1h2m-2 6h2m-1 4h2m-3 1h2m-3 1h2m-3 1h2m2 1h2m-5 0h2m1 1h2m-2 1h2m-6 0h2m0 3h2m-3 2h2m-2 0h2m-2 0h2m-2 0h2m-1 0h2m-5 0h2m0 0h2m0 0h2m-1 0h2m-3 0h2m-2 6h2m-2 2h2m-4 2h2m-3 5h2m1 0h2m-4 0h2m0 0h2m-1 0h2m-6 0h2m1 0h2m-3 0h2m-3 1h2m-3 0h2m-1 4h2m1 8h2m-6 0h2m0 0h2m-1 2h2m-1 16h2m-4 0h2m-4 30h2m-3 1h2m2 1h2m-6 1h2m-1 0h2m-1 1h2m1 0h2m-3 1h2m-3 0h2m-5 0h2m-1 1h2m-2 0h2m2 0h2m-2 0h2m-3 0h2m-4 1h2m0 0h2m-1 0h2m-5 0h2m0 7h2m-5 1h2m0 1h2m-2 0h2m-4 0h2m-1 1h2m-2 1h2m0 2h2m-2 3h2m-2 1h2m-4 1h2m-2 3h2m1 0h2m-5 2h2m-1 0h2m-3 0h2m0 1h2m-4 1h2m1 1h2m-5 1h2m0 2h2m-1 1h2m-5 1h2m-2 2h2m-4 1h2m1 0h2m0 1h2m-3 0h2m-3 1h2m-2 0h2m-2 2h2m-4 1h2m-1 1h2m1 1h2m-4 2h2m-2 0h2m-4 0h2m2 2h2m-7 2h2m2 1h2m-4 2h2m1 1h2m-7 2h2m3 0h2m-3 0h2m-6 1h2m0 2h2m1 0h2m-5 2h2m-1 2h2m-5 5h2m-1 1h2m0 7h2m-3 2h2m-3 0h2m-1 1h2m-3 3h2m2 1h2m-2 6h2m-3 2h2m-2 3h2m-3 1h2m-3 1h2m-4 1h2m2 10h2m-5 2h2m-1 1h2m-3 0h2m-2 15h2m2 0h2m-5 0h2m-4 13h2m2 0h2m-4 18h2m1 0h2m-6 29h2m2 2h2m-5 0h2m0 1h2m-4 0h2m-3 2h2m-2 2h2m2 1h2m-6 0h2m-1 1h2m-3 1h2m1 0h2m-4 3h2m0 0h2m-3 1h2m-3 0h2m0 1h2m-1 1h2m-2 0h2m-3 0h2m-5 0h2m-2 0h2m-1 1h2m0 0h2m-6 0h2m-1 0h2m2 0h2m-3 2h2m-2 2h2m-2 3h2m-2 0h2m-4 2h2m1 0h2m-4 0h2m-3 1h2m0 1h2m-1 3h2m-3 1h2m-2 0h2m-3 3h2m-4 1h2m1 0h2m-5 2h2m-3 0h2m0 0h2m0 1h2m-2 1h2m-4 0h2m0 4h2m-3 0h2m-1 5h2m-4 1h2m1 2h2m-6 2h2m-2 1h2m2 2h2m-6 0h2m1 3h2m-2 1h2m-2 1h2m-2 1h2m-1 1h2m-6 2h2m-1 0h2m-3 1h2m2 0h2m-2 0h2m-3 1h2m-5 2h2m1 0h2m-3 0h2m-2 1h2m-3 0h2m-1 1h2m0 1h2m-7 0h2m3 0h2m-4 0h2m-1 1h2m-1 1h2m-3 1h2m-2 1h2m-4 0h2m-1 2h2m0 2h2m-4 5h2m-4 0h2m-2 3h2m1 2h2m-1 1h2m-4 0h2m-4 0h2m0 1h2m-3 0h2m-2 1h2m0 0h2m-3 1h2m-4 0h2m1 1h2m-5 1h2m-3 1h2m2 4h2m-2 1h2m-1 2h2m-2 2h2m-3 6h2m-1 0h2m-6 0h2m0 0h2m-4 0h2m-1 1h2m-2 5h2m-3 1h2m-1 0h2m-3 1h2m0 0h2m-4 1h2m-1 5h2m-1 1h2m-3 0h2m-1 0h2m0 0h2m-5 0h2m-3 13h2m-2 18h2m-1 0h2m-2 0h2m1 0h2m-6 0h2m2 0h2m3-529h2m-4 4h2m-3 3h2m0 5h2m-1 5h2m-3 2h2m-1 0h2m-1 7h2m-4 2h2m-2 4h2m-1 3h2m-4 3h2m-1 3h2m-1 4h2m-2 1h2m-1 16h2m-3 0h2m-4 3h2m-1 6h2m-1 1h2m-2 4h2m-2 9h2m-2 5h2m-4 1h2m1 1h2m-2 1h2m-7 3h2m0 0h2m-4 1h2m-2 1h2m2 0h2m-4 1h2m-1 0h2m-5 3h2m-2 3h2m-2 0h2m0 0h2m-1 0h2m-3 1h2m-3 9h2m1 0h2m-1 5h2m-3 0h2m-4 0h2m-2 4h2m0 2h2m-1 7h2m-4 18h2m-1 31h2m-4 0h2m-2 1h2m-2 0h2m-2 0h2m1 0h2m-3 0h2m-2 0h2m-4 1h2m-1 0h2m-1 1h2m-3 0h2m0 1h2m-3 1h2m-3 0h2m0 0h2m-4 0h2m0 0h2m-2 1h2m-4 1h2m-5 3h2m0 3h2m-2 0h2m1 1h2m-5 2h2m1 1h2m-2 2h2m-2 4h2m-5 6h2m-2 2h2m0 9h2m-1 6h2m-3 4h2m-4 2h2m-1 1h2m-3 0h2m0 0h2m-1 1h2m-7 1h2m1 2h2m0 1h2m-3 1h2m-3 2h2m-1 2h2m-3 1h2m-3 2h2m-1 1h2m-1 9h2m-2 5h2m-1 2h2m-5 0h2m-1 10h2m0 1h2m-7 4h2m0 2h2m-1 2h2m0 5h2m-2 1h2m-4 1h2m-3 4h2m-1 0h2m-2 1h2m0 0h2m-7 14h2m1 0h2m0 13h2m-6 0h2m-1 18h2m0 0h2m-3 28h2m-1 1h2m-1 0h2m-7 1h2m0 0h2m-2 0h2m-1 1h2m0 1h2m-5 0h2m-2 1h2m-2 0h2m-2 1h2m1 1h2m-2 1h2m-4 0h2m-1 0h2m-3 1h2m-3 3h2m-4 5h2m0 6h2m0 4h2m-2 1h2m-2 3h2m-4 0h2m-2 2h2m1 1h2m-5 3h2m-4 1h2m1 1h2m-4 8h2m-3 7h2m2 2h2m-4 0h2m-4 7h2m3 0h2m-3 0h2m-3 3h2m-1 1h2m-1 1h2m-2 0h2m-5 0h2m1 2h2m-2 0h2m-3 2h2m-3 0h2m-4 1h2m-1 2h2m1 1h2m-5 0h2m-4 1h2m1 0h2m-3 4h2m0 5h2m-4 1h2m-2 0h2m-4 2h2m0 2h2m1 2h2m-2 2h2m-6 1h2m-2 1h2m2 2h2m-4 2h2m-3 2h2m-1 3h2m-2 1h2m-3 6h2m-1 1h2m-4 0h2m1 0h2m-3 0h2m0 0h2m-3 0h2m-2 0h2m-2 0h2m-2 1h2m-2 5h2m-1 5h2m-5 4h2m0 13h2m-2 0h2m-2 0h2m-3 18h2m2-528h2m0 2h2m-2 1h2m-5 4h2m-1 3h2m-3 5h2m-1 1h2m2 0h2m-2 1h2m-3 5h2m-3 1h2m-1 1h2m-1 3h2m-2 5h2m-7 19h2m2 1h2m-2 2h2m-3 0h2m-1 1h2m-6 12h2m3 2h2m-7 3h2m-2 0h2m2 3h2m-2 1h2m-1 1h2m-2 1h2m-2 1h2m-2 7h2m-7 8h2m1 0h2m-5 1h2m-1 1h2m0 5h2m-2 2h2m-5 1h2m-1 0h2m-3 0h2m-2 7h2m-1 3h2m1 0h2m-6 5h2m2 13h2m-3 0h2m-5 18h2m-2 31h2m3 2h2m-3 0h2m-2 1h2m-2 1h2m-5 1h2m-2 0h2m0 0h2m-5 6h2m3 5h2m-7 1h2m2 10h2m-1 0h2m-3 1h2m-3 1h2m-4 16h2m2 2h2m-3 0h2m-6 3h2m3 2h2m-2 1h2m-3 1h2m-2 4h2m-2 1h2m-3 0h2m0 6h2m-7 1h2m2 2h2m-1 1h2m-3 9h2m-6 3h2m1 3h2m-1 4h2m-3 0h2m-2 4h2m0 3h2m-3 0h2m-2 4h2m-2 1h2m-3 1h2m0 2h2m-4 2h2m-5 3h2m3 5h2m-7 28h2m3 0h2m-2 18h2m-7 29h2m-1 0h2m-3 1h2m-2 1h2m-2 0h2m2 0h2m-3 0h2m-4 1h2m0 0h2m-5 1h2m3 0h2m-4 1h2m-1 1h2m-6 1h2m-1 0h2m-2 0h2m-3 0h2m3 0h2m-2 0h2m-4 3h2m-1 6h2m-5 1h2m2 0h2m-2 1h2m-2 1h2m-2 2h2m-3 1h2m-2 2h2m-6 2h2m1 5h2m0 4h2m-4 0h2m-1 2h2m-1 4h2m-7 6h2m-2 1h2m3 3h2m-2 3h2m-7 6h2m2 1h2m-1 2h2m-2 1h2m-3 3h2m-3 1h2m-1 3h2m-1 5h2m-7 1h2m-2 6h2m3 0h2m-3 4h2m-1 1h2m-3 1h2m-6 3h2m1 0h2m-5 1h2m-2 3h2m3 1h2m-4 1h2m0 2h2m-7 8h2m-2 5h2m-2 0h2m-2 0h2m3 0h2m-6 1h2m-3 5h2m1 2h2m-2 2h2m-4 1h2m0 4h2m-2 0h2m-5 13h2m-2 18h2m-2 0h2m2 0h2m-3 0h2m6-518h2m-2 2h2m-6 3h2m-3 5h2m-2 8h2m-1 1h2m2 2h2m-2 0h2m-7 6h2m-2 6h2m3 0h2m-3 3h2m-2 11h2m-6 2h2m-2 1h2m-2 1h2m3 3h2m-2 1h2m-7 8h2m0 3h2m-4 1h2m3 1h2m-2 17h2m-7 9h2m3 6h2m-5 9h2m-2 0h2m-3 0h2m1 0h2m-5 13h2m-2 0h2m-3 49h2m0 1h2m-3 2h2m1 1h2m-1 0h2m-6 3h2m1 7h2m-1 7h2m-5 14h2m-4 8h2m3 1h2m-2 4h2m-7 2h2m-1 5h2m1 0h2m-1 0h2m-7 4h2m3 5h2m-2 2h2m-6 3h2m1 1h2m-6 2h2m3 2h2m-7 1h2m-1 5h2m-1 7h2m-3 8h2m-2 1h2m1 3h2m-5 4h2m2 3h2m-7 7h2m-1 15h2m-3 0h2m-2 31h2m2 0h2m-2 31h2m-5 1h2m-3 2h2m3 0h2m-2 1h2m-6 1h2m-2 0h2m1 0h2m-6 3h2m0 0h2m-3 1h2m-3 0h2m-1 2h2m-3 4h2m0 4h2m-4 2h2m-2 1h2m3 7h2m-2 4h2m-7 1h2m-1 3h2m-2 13h2m-3 3h2m3 2h2m-6 4h2m-3 4h2m0 1h2m0 0h2m-2 0h2m-4 2h2m1 0h2m-7 2h2m-2 1h2m2 0h2m-4 4h2m1 2h2m-6 9h2m-1 2h2m-4 2h2m-1 2h2m-3 1h2m3 0h2m-3 9h2m-4 5h2m1 1h2m-3 5h2m-6 9h2m-2 6h2m2 0h2m-2 0h2m-5 13h2m-3 18h2m3 0h2m4-521h2m-4 3h2m-5 1h2m3 0h2m-6 2h2m0 11h2m-4 0h2m0 24h2m-4 21h2m0 1h2m-5 6h2m-2 3h2m-1 3h2m-3 6h2m1 6h2m-4 10h2m-2 0h2m-2 15h2m-1 0h2m-2 9h2m-2 4h2m-2 48h2m-1 1h2m-4 0h2m0 1h2m-2 2h2m-4 4h2m-1 11h2m-4 2h2m3 20h2m-5 2h2m-3 1h2m-2 3h2m-2 0h2m0 11h2m0 9h2m-6 1h2m-2 2h2m-1 7h2m-4 1h2m0 1h2m-2 6h2m-4 9h2m3 4h2m-5 6h2m-2 1h2m-4 1h2m1 8h2m-4 15h2m0 31h2m-3 29h2m-4 0h2m0 5h2m-3 0h2m-3 1h2m-1 0h2m-2 2h2m-2 1h2m-3 0h2m-1 0h2m-1 0h2m-3 9h2m-1 4h2m-4 0h2m1 1h2m-3 10h2m-2 1h2m-4 2h2m-2 12h2m3 3h2m-5 2h2m-2 5h2m-3 5h2m-1 1h2m-4 18h2m0 1h2m-4 1h2m0 4h2m-3 7h2m-3 2h2m1 7h2m-2 9h2m-3 0h2m-1 0h2m-2 15h2m-4 0h2m-3 0h2m1 0h2m-4 0h2m3-492h2m-1 0h2m0 0h2m-4 2h2m-2 8h2m1 1h2m-5 4h2m-2 6h2m1 6h2m-2 13h2m-5 17h2m0 1h2m-1 5h2m-3 6h2m-2 1h2m-1 29h2m-3 0h2m-3 8h2m0 16h2m-3 4h2m-5 18h2m-1 32h2m0 2h2m-2 3h2m-5 1h2m-1 10h2m-1 9h2m-2 3h2m-2 1h2m-3 2h2m-2 3h2m-1 3h2m-4 2h2m0 0h2m0 1h2m-4 1h2m-4 28h2m1 4h2m-5 1h2m-2 6h2m0 0h2m0 6h2m-6 0h2m-2 3h2m1 17h2m-2 21h2m-4 31h2m-1 0h2m-4 31h2m-2 1h2m2 2h2m-2 0h2m-4 2h2m-3 0h2m0 0h2m-5 3h2m-1 1h2m1 1h2m-3 2h2m-2 5h2m-1 3h2m-2 3h2m-5 3h2m-3 2h2m0 12h2m0 0h2m-3 1h2m-3 1h2m-1 0h2m-3 1h2m-2 1h2m-1 0h2m-4 0h2m-3 4h2m0 8h2m-2 5h2m0 19h2m-5 6h2m-3 25h2m0 2h2m-2 4h2m-3 0h2m-2 0h2m-1 3h2m-1 6h2m-1 13h2m-5 0h2m-3 0h2m9-502h2m-2 1h2m-4 6h2m-5 4h2m-1 3h2m2 9h2m-6 8h2m0 17h2m-2 4h2m-4 4h2m-2 6h2m0 1h2m-2 9h2m-2 39h2m-3 0h2m0 9h2m-2 22h2m-2 33h2m-2 2h2m-6 3h2m0 1h2m1 1h2m-5 1h2m-2 3h2m-1 4h2m-4 0h2m2 6h2m-2 9h2m-4 4h2m-1 3h2m-2 4h2m-2 2h2m-6 23h2m1 6h2m-2 1h2m-2 30h2m-2 23h2m-3 13h2m-3 56h2m0 5h2m-5 1h2m0 1h2m-2 1h2m1 4h2m-3 0h2m-1 0h2m-4 3h2m-4 1h2m-2 1h2m-3 3h2m1 2h2m-2 1h2m-1 3h2m-3 1h2m-1 2h2m-1 2h2m-6 3h2m-2 1h2m2 16h2m-3 0h2m-4 7h2m-1 10h2m-1 12h2m-1 14h2m-7 3h2m-1 5h2m-2 2h2m-1 15h2m-3 0h2m-3 13h2m7-496h2m-2 3h2m0 22h2m-5 9h2m-2 28h2m1 8h2m-6 5h2m-1 1h2m0 3h2m-3 26h2m-2 71h2m-3 0h2m0 1h2m-5 1h2m-1 4h2m-4 11h2m0 2h2m-2 1h2m-1 4h2m-2 1h2m-1 12h2m-3 4h2m-3 25h2m1 9h2m-3 6h2m-4 51h2m1 0h2m-2 54h2m-2 1h2m-6 3h2m1 10h2m-1 0h2m-3 1h2m-4 0h2m0 3h2m-4 1h2m-1 1h2m0 1h2m-4 1h2m-1 3h2m-1 2h2m-5 1h2m1 2h2m-3 4h2m-2 8h2m-4 55h2m-2 9h2m-2 28h2m5-497h2m-2 1h2m0 6h2m-3 4h2m-1 4h2m-7 2h2m-2 6h2m3 1h2m-7 7h2m1 10h2m-5 9h2m1 17h2m-3 28h2m1 24h2m-4 58h2m-4 2h2m1 7h2m-3 13h2m-1 2h2m-3 2h2m-1 5h2m-6 6h2m1 27h2m0 4h2m-7 9h2m3 42h2m-7 81h2m-2 1h2m3 2h2m-4 6h2m-5 3h2m2 1h2m-6 1h2m2 15h2m-2 7h2m-2 12h2m-3 44h2m-5 15h2m9-468h2m-5 5h2m-4 9h2m-2 15h2m3 46h2m-2 0h2m-6 85h2m1 22h2m-6 2h2m0 7h2m0 4h2m-5 19h2m2 1h2m-6 3h2m-3 9h2m3 5h2m-5 5h2m-4 113h2m-2 5h2m-2 9h2m-2 0h2m0 0h2m-4 1h2m-2 2h2m-1 3h2m-2 5h2m-2 3h2m1 0h2m-2 2h2m-2 1h2m-2 5h2m-6 1h2m-2 12h2m-1 8h2m1 0h2m-5 2h2m-3 2h2m3 3h2m-3 3h2m-5 82h2m4-509h2m-1 6h2m-3 3h2m2 0h2m-4 1h2m-3 5h2m1 7h2m-7 1h2m1 4h2m0 14h2m-2 0h2m-4 17h2m-2 27h2m0 93h2m-7 10h2m-1 6h2m2 4h2m-5 1h2m-3 1h2m-1 0h2m-4 2h2m3 3h2m-7 9h2m1 20h2m0 6h2m-7 1h2m0 7h2m-3 55h2m2 18h2m-6 40h2m-1 9h2m-3 12h2m-2 0h2m0 4h2m-4 6h2m2 5h2m-2 1h2m-2 1h2m-2 5h2m-5 2h2m-1 1h2m-3 1h2m-4 6h2m-1 2h2m0 8h2m0 7h2m-5 4h2m-4 28h2m0 28h2m3-487h2m-2 6h2m-1 4h2m-2 1h2m-2 4h2m0 1h2m-3 3h2m-3 90h2m0 65h2m-5 6h2m-1 2h2m-4 1h2m-2 6h2m-1 5h2m0 8h2m-3 4h2m-1 5h2m-4 15h2m-1 134h2m0 16h2m-3 0h2m-4 0h2m-2 11h2m-1 11h2m-1 5h2m-4 3h2m-1 0h2m-4 1h2m-1 1h2m0 9h2m-3 10h2m-4 1h2m-1 59h2m0 0h2m1-476h2m0 1h2m0 7h2m-1 0h2m-4 4h2m-3 6h2m-1 7h2m-5 9h2m2 9h2m-2 4h2m-2 5h2m-1 18h2m-5 107h2m-2 1h2m-2 5h2m-3 1h2m-3 2h2m1 6h2m-1 1h2m-5 2h2m-1 6h2m-2 2h2m0 0h2m-3 20h2m-3 1h2m-4 1h2m0 50h2m1 70h2m-4 9h2m-2 15h2m-3 3h2m-4 8h2m1 2h2m0 1h2m-3 2h2m-6 1h2m1 1h2m-4 0h2m-3 13h2m-1 0h2m0 2h2m-1 6h2m-1 0h2m-3 4h2m-3 1h2m-3 3h2m-3 32h2m-3 0h2m9-448h2m-2 8h2m-2 11h2m-4 18h2m-3 5h2m-3 2h2m1 1h2m-3 1h2m0 52h2m-5 75h2m0 1h2m-3 1h2m-3 1h2m-1 0h2m-1 0h2m-3 11h2m-1 2h2m-1 6h2m-2 9h2m-3 5h2m-3 1h2m-4 10h2m0 86h2m-3 38h2m-3 2h2m0 2h2m-3 0h2m1 9h2m-2 13h2m-2 1h2m-5 7h2m-3 9h2m-1 11h2m-1 1h2m-2 2h2m0 1h2m-2 8h2m-3 2h2m-4 36h2m-1 46h2m1-495h2m-2 43h2m-2 2h2m-2 132h2m-2 186h2m-2 45h2m-2 0h2m-2 3h2m51-391h2m-2 1h2m-6 41h2m2 7h2m-4 23h2m-3 10h2m1 0h2m-4 9h2m-3 0h2m-2 7h2m0 90h2m-3 2h2m0 3h2m-5 9h2m-1 3h2m-2 3h2m-3 6h2m-1 21h2m-3 12h2m-2 8h2m0 15h2m-4 0h2m-2 99h2m1 3h2m-5 6h2m-1 0h2m-3 10h2m0 6h2m-1 16h2m-5 8h2m-1 1h2m0 17h2m-3 1h2m-2 4h2m-2 1h2m-1 17h2m-4 1h2m6-429h2m-4 3h2m0 36h2m-7 2h2m3 10h2m-3 0h2m-6 6h2m1 10h2m-5 107h2m2 4h2m-1 4h2m-2 20h2m-3 8h2m-4 2h2m1 14h2m-2 3h2m-3 0h2m-2 0h2m-2 0h2m-1 0h2m-2 12h2m-7 3h2m-2 11h2m3 83h2m-7 14h2m-2 1h2m2 16h2m-1 8h2m-3 4h2m-3 2h2m0 10h2m-3 8h2m-2 3h2m-6 2h2m1 0h2m0 0h2m-7 12h2m0 7h2m1 19h2m4-459h2m-6 4h2m-2 7h2m2 0h2m-6 6h2m1 0h2m-1 5h2m-2 12h2m-5 11h2m-4 11h2m-1 0h2m1 0h2m-1 0h2m-6 10h2m2 1h2m-3 94h2m-2 39h2m-5 22h2m2 0h2m-7 20h2m-1 2h2m2 0h2m-3 4h2m-6 6h2m2 0h2m-5 16h2m-3 97h2m3 10h2m-6 3h2m-1 1h2m0 8h2m-1 4h2m-2 4h2m-2 16h2m-6 3h2m-2 3h2m-3 1h2m0 1h2m-3 0h2m1 0h2m-1 0h2m-7 1h2m2 3h2m-1 8h2m-2 0h2m-3 0h2m-1 7h2m-1-465h2m-2 14h2m-2 13h2m-2 36h2m0 0h2m-2 2h2m-3 4h2m-3 0h2m3 12h2m-2 10h2m-5 90h2m1 7h2m-2 18h2m-6 6h2m-2 3h2m2 1h2m-5 3h2m1 10h2m-4 6h2m-5 9h2m0 6h2m1 7h2m-2 4h2m-2 7h2m-5 1h2m-3 0h2m-2 0h2m2 0h2m-2 0h2m-2 0h2m-7 3h2m-1 2h2m-1 5h2m-3 0h2m-3 16h2m-2 83h2m3 1h2m-4 1h2m0 8h2m-5 21h2m-2 3h2m-2 3h2m-2 17h2m1 3h2m-7 4h2m-1 7h2m2 0h2m-2 0h2m-2 0h2m-6 7h2m0 4h2m-3 1h2m-3 0h2m-1 26h2m2-480h2m-1 1h2m-1 18h2m-2 2h2m0 13h2m-5 6h2m-2 1h2m0 7h2m-5 4h2m-1 13h2m-1 0h2m-1 0h2m-2 5h2m-3 1h2m-3 1h2m1 6h2m-4 2h2m-2 10h2m-3 0h2m1 13h2m-4 81h2m-3 10h2m-2 18h2m1 11h2m-3 15h2m-2 4h2m-3 6h2m-4 5h2m1 1h2m-2 1h2m-3 1h2m-2 5h2m-4 4h2m-2 1h2m2 1h2m-3 24h2m-2 0h2m-2 0h2m-1 84h2m-3 13h2m-2 5h2m-2 2h2m-4 4h2m-3 8h2m2 1h2m-6 1h2m0 2h2m-3 3h2m0 5h2m-1 2h2m-2 8h2m-2 13h2m-3 0h2m-5 0h2m0 0h2m-1 0h2m-4 6h2m1 6h2m-3 0h2m-3 1h2m-4 4h2m-2 1h2m0 4h2m-4 0h2m2 0h2m-3 0h2m1-470h2m1 10h2m-4 3h2m-2 4h2m-2 0h2m-2 7h2m-3 2h2m-1 2h2m1 1h2m-6 8h2m1 1h2m-4 1h2m-2 6h2m-2 3h2m0 2h2m-2 2h2m-4 7h2m-2 0h2m-2 2h2m0 10h2m-3 0h2m-2 0h2m-3 0h2m1 2h2m-6 4h2m3 6h2m-4 3h2m-4 7h2m-1 0h2m1 0h2m-4 87h2m-5 1h2m-2 4h2m2 2h2m-6 3h2m0 2h2m-3 1h2m-3 3h2m2 1h2m-3 1h2m-3 1h2m-2 1h2m-3 0h2m1 9h2m-3 0h2m-2 3h2m-4 3h2m2 0h2m-2 3h2m-4 8h2m-2 6h2m-3 1h2m-2 0h2m-4 1h2m2 0h2m-6 0h2m1 1h2m-4 2h2m1 3h2m-5 3h2m-1 3h2m-4 1h2m-2 6h2m2 6h2m-4 0h2m-1 6h2m-3 3h2m0 3h2m-5 10h2m0 84h2m-1 13h2m-4 7h2m-2 1h2m1 1h2m-2 1h2m-6 2h2m0 2h2m-4 1h2m-1 0h2m-4 2h2m0 4h2m-1 0h2m0 3h2m-4 0h2m-4 3h2m2 4h2m-5 2h2m1 1h2m-5 1h2m-3 1h2m2 3h2m-3 3h2m-5 1h2m-2 1h2m2 1h2m-4 0h2m-1 6h2m-6 2h2m0 5h2m-3 0h2m0 0h2m-2 2h2m-3 3h2m-3 1h2m-1 1h2m-2 5h2m-2 0h2m-3 0h2m0 0h2m0 6h2m-6 6h2m1 0h2m-5 0h2m2 10h2m-3 16h2m-2 0h2m4-496h2m-2 7h2m-4 14h2m-1 0h2m-3 4h2m-1 1h2m-1 4h2m-1 1h2m-2 2h2m-5 1h2m0 2h2m-1 4h2m-4 13h2m-2 1h2m-2 5h2m-1 1h2m-5 0h2m-1 3h2m-2 1h2m-3 4h2m-1 1h2m1 12h2m-5 0h2m-1 9h2m-2 3h2m-1 3h2m-1 2h2m-5 5h2m-1 3h2m0 78h2m-3 4h2m-2 3h2m-1 7h2m-2 1h2m-3 2h2m-1 4h2m-5 1h2m-1 0h2m-3 1h2m-1 5h2m-3 4h2m-1 3h2m-4 10h2m1 1h2m-3 3h2m-1 3h2m-3 2h2m-1 1h2m-1 0h2m-2 8h2m-2 1h2m-2 2h2m-3 0h2m-3 1h2m-4 3h2m0 1h2m-1 2h2m-1 0h2m-6 0h2m-1 1h2m0 1h2m-4 10h2m-3 0h2m-2 0h2m0 0h2m-3 4h2m-2 34h2m1 58h2m-3 7h2m-4 1h2m0 5h2m-2 8h2m-5 1h2m0 2h2m-1 1h2m-1 5h2m-3 0h2m-5 4h2m-2 1h2m-1 5h2m-2 0h2m-2 0h2m0 2h2m-5 5h2m1 3h2m-2 1h2m-1 1h2m-4 4h2m-3 4h2m0 1h2m-1 1h2m-5 0h2m1 2h2m-2 2h2m-4 3h2m-4 5h2m1 1h2m-3 0h2m-2 5h2m-2 1h2m-3 0h2m-2 0h2m1 0h2m-5 0h2m-1 0h2m-2 2h2m-1 9h2m-5 1h2m2 2h2m-3 0h2m-4 10h2m0 10h2m-2 0h2m-4 16h2m7-500h2m-6 5h2m0 12h2m0 6h2m-4 1h2m-2 2h2m-2 0h2m-5 2h2m-2 4h2m1 0h2m-3 3h2m1 2h2m-7 2h2m0 9h2m0 4h2m-6 3h2m-1 2h2m0 0h2m-1 0h2m-6 13h2m1 0h2m-2 0h2m-5 3h2m-2 0h2m2 0h2m-3 4h2m-1 2h2m-6 6h2m2 0h2m-1 0h2m-4 0h2m0 0h2m-4 0h2m-1 0h2m-6 7h2m-2 4h2m1 1h2m0 0h2m-5 0h2m1 0h2m-6 10h2m1 0h2m-3 0h2m-3 0h2m-1 1h2m-3 15h2m1 0h2m-2 0h2m-4 51h2m-2 1h2m-5 21h2m-2 1h2m1 0h2m-3 5h2m-2 2h2m1 1h2m-4 0h2m0 1h2m-2 1h2m-7 1h2m1 1h2m-5 1h2m-2 0h2m0 0h2m0 2h2m-1 2h2m-7 2h2m-2 2h2m3 4h2m-5 4h2m1 0h2m-2 2h2m-3 0h2m-3 1h2m-1 0h2m-6 5h2m0 0h2m-1 0h2m-5 1h2m3 0h2m-3 0h2m-1 1h2m-3 0h2m-3 0h2m-5 1h2m2 0h2m-3 5h2m-1 5h2m-6 1h2m1 1h2m-1 3h2m-6 9h2m2 0h2m-3 0h2m-5 9h2m-2 3h2m3 0h2m-3 0h2m-2 0h2m-2 0h2m-3 12h2m-5 10h2m1 16h2m-3 0h2m1 64h2m-4 5h2m-5 1h2m1 0h2m0 4h2m-7 1h2m3 5h2m-4 2h2m0 1h2m-4 0h2m-5 1h2m2 2h2m-6 2h2m2 0h2m-3 1h2m-2 0h2m-1 1h2m-6 1h2m-2 2h2m3 0h2m-3 1h2m-1 2h2m-2 0h2m-7 2h2m-2 0h2m-2 0h2m1 1h2m0 2h2m-4 0h2m-3 2h2m-4 2h2m3 4h2m-5 3h2m-1 3h2m-1 3h2m-6 1h2m2 3h2m-5 1h2m1 0h2m-6 2h2m3 0h2m-7 3h2m3 0h2m-7 3h2m0 1h2m-3 7h2m0 0h2m-3 0h2m-1 0h2m-1 0h2m-3 0h2m-2 0h2m0 0h2m-3 0h2m-1 4h2m-2 1h2m-7 1h2m3 2h2m-2 4h2m-4 0h2m0 0h2m-4 0h2m-1 8h2m-2 4h2m-3 2h2m-2 8h2m0 16h2m0-498h2m-2 7h2m1 1h2m-6 2h2m-1 1h2m1 1h2m-1 12h2m-6 7h2m1 5h2m-1 6h2m-6 2h2m1 0h2m-2 0h2m-1 0h2m-5 2h2m0 2h2m-2 6h2m-2 3h2m-3 2h2m-5 4h2m3 3h2m-7 5h2m3 0h2m-6 2h2m-3 1h2m0 1h2m-2 3h2m1 0h2m-2 0h2m-3 1h2m-6 1h2m-1 3h2m-2 0h2m1 0h2m-1 0h2m-4 0h2m-1 2h2m-6 6h2m2 1h2m-2 2h2m-2 0h2m-6 1h2m-2 0h2m-2 0h2m0 0h2m0 0h2m-2 0h2m-2 5h2m-6 5h2m-2 69h2m2 9h2m-2 2h2m-1 3h2m-2 1h2m-5 1h2m-3 2h2m1 0h2m-5 6h2m-2 5h2m-3 3h2m0 2h2m0 1h2m-2 1h2m-6 1h2m-2 4h2m-1 1h2m2 0h2m-5 1h2m-3 2h2m-3 1h2m-1 3h2m1 0h2m-1 4h2m-3 1h2m-5 1h2m1 0h2m-5 1h2m-2 1h2m-2 1h2m2 0h2m-6 3h2m2 1h2m-3 1h2m-4 4h2m-2 1h2m0 1h2m-4 1h2m-4 2h2m2 0h2m-2 5h2m-1 2h2m-2 1h2m-2 0h2m-5 2h2m-2 3h2m-4 0h2m3 0h2m-2 0h2m-3 0h2m-2 0h2m-2 0h2m-6 2h2m-1 10h2m-2 0h2m-3 0h2m2 0h2m-2 0h2m-2 0h2m-2 5h2m-6 17h2m3 16h2m-3 52h2m-1 6h2m-7 2h2m-2 0h2m2 2h2m-5 1h2m1 7h2m-2 1h2m-4 2h2m-3 5h2m-3 1h2m3 0h2m-3 1h2m-1 0h2m-7 1h2m-2 1h2m-1 4h2m-2 1h2m-3 1h2m-1 0h2m-1 0h2m-3 2h2m1 0h2m-5 1h2m1 2h2m-1 3h2m-2 1h2m-6 10h2m1 1h2m-6 1h2m2 1h2m-1 2h2m-2 0h2m-2 1h2m-7 1h2m-1 0h2m2 2h2m-7 6h2m3 0h2m-3 0h2m-6 1h2m3 1h2m-7 1h2m-1 1h2m2 0h2m-2 1h2m-7 1h2m3 0h2m-3 1h2m-1 1h2m-6 2h2m-2 0h2m1 0h2m-1 1h2m-3 1h2m-6 5h2m-1 0h2m-2 0h2m2 0h2m-2 0h2m-3 0h2m-2 0h2m-2 0h2m-3 0h2m0 1h2m-6 1h2m1 1h2m-1 4h2m-5 3h2m-4 2h2m-1 0h2m2 0h2m-2 5h2m-2 1h2m-2 1h2m-6 1h2m-1 4h2m0 0h2m-6 10h2m-1 0h2m-3 16h2m7-506h2m-3 4h2m1 1h2m-6 3h2m2 5h2m-4 4h2m-5 5h2m0 2h2m1 6h2m-4 3h2m0 2h2m-5 11h2m-2 1h2m1 0h2m-4 2h2m-2 1h2m-5 3h2m3 2h2m-2 3h2m-6 4h2m-1 4h2m-3 7h2m-1 6h2m-2 6h2m-2 1h2m-2 0h2m-1 0h2m-3 1h2m-1 3h2m-4 1h2m0 0h2m-3 0h2m-2 0h2m-4 0h2m0 0h2m-4 0h2m-1 0h2m-3 0h2m3 0h2m-2 0h2m-2 1h2m-4 1h2m-5 0h2m1 1h2m-4 9h2m-3 0h2m0 0h2m1 0h2m-2 0h2m-2 0h2m-6 3h2m-2 2h2m2 0h2m-5 5h2m-3 0h2m0 0h2m-4 0h2m-1 0h2m1 0h2m-4 16h2m-5 0h2m3 46h2m-2 7h2m-5 4h2m-2 4h2m-3 0h2m-1 9h2m-2 3h2m-4 0h2m3 0h2m-2 0h2m-5 2h2m-2 3h2m-3 0h2m2 1h2m-2 0h2m-2 1h2m-5 3h2m1 0h2m-4 3h2m-4 1h2m2 1h2m-6 3h2m-2 0h2m-2 1h2m-3 0h2m3 0h2m-2 2h2m-6 4h2m-3 0h2m3 0h2m-7 1h2m3 0h2m-2 0h2m-2 1h2m-6 2h2m-1 4h2m1 0h2m-6 1h2m2 0h2m-6 2h2m0 1h2m-3 0h2m-4 1h2m1 1h2m0 0h2m-6 1h2m-2 1h2m2 1h2m-6 1h2m-1 2h2m-3 5h2m-1 4h2m-1 4h2m-3 0h2m-4 1h2m-1 0h2m0 0h2m-4 1h2m-2 2h2m-1 3h2m-1 0h2m-4 0h2m-3 0h2m-2 6h2m0 1h2m1 0h2m-5 1h2m-4 4h2m0 0h2m-4 0h2m-1 0h2m-1 0h2m-3 0h2m-2 0h2m-3 0h2m3 0h2m-2 0h2m-6 1h2m0 3h2m-3 0h2m-2 1h2m1 7h2m-6 10h2m-2 0h2m-1 0h2m1 0h2m-5 16h2m-2 50h2m1 4h2m-6 1h2m-1 0h2m1 8h2m-6 2h2m-1 2h2m-4 0h2m0 6h2m-3 4h2m-2 5h2m2 2h2m-5 2h2m-3 0h2m-2 4h2m-1 1h2m-4 1h2m-1 1h2m0 0h2m-2 0h2m-4 5h2m-3 4h2m-1 4h2m-3 0h2m-2 2h2m-1 1h2m-2 0h2m-2 2h2m-3 0h2m-1 0h2m2 7h2m-5 1h2m-4 1h2m1 1h2m-3 1h2m1 2h2m-2 1h2m-2 0h2m-2 2h2m-2 0h2m-2 4h2m-2 0h2m-7 1h2m1 1h2m-3 1h2m-2 0h2m-4 1h2m0 3h2m-3 1h2m-2 0h2m-1 0h2m-1 0h2m-5 0h2m1 0h2m-5 0h2m0 0h2m-3 0h2m2 0h2m-5 1h2m-3 4h2m-3 0h2m0 1h2m1 0h2m-2 0h2m-5 3h2m-4 3h2m1 0h2m-3 0h2m-3 0h2m-1 0h2m-4 0h2m0 0h2m-1 0h2m-3 0h2m1 0h2m-4 6h2m-3 3h2m-3 2h2m-1 1h2m-4 0h2m0 0h2m1 0h2m-6 1h2m-3 9h2m0 16h2m-1 0h2m0 0h2m-2 0h2m0-520h2m-2 1h2m-1 1h2m0 13h2m-5 8h2m1 1h2m-2 1h2m-2 7h2m-3 5h2m-2 1h2m-2 1h2m-4 2h2m1 0h2m-3 1h2m-2 1h2m-4 0h2m-1 1h2m-2 1h2m-4 4h2m1 1h2m-5 0h2m0 3h2m-1 8h2m-1 3h2m-3 3h2m-2 5h2m-4 5h2m-1 1h2m-1 9h2m-1 1h2m-3 5h2m-5 2h2m-2 0h2m1 1h2m-4 2h2m-1 4h2m-3 3h2m-3 0h2m2 0h2m-2 0h2m-2 0h2m-5 1h2m-3 0h2m-2 0h2m-1 0h2m0 3h2m-5 2h2m2 4h2m-5 1h2m-3 1h2m2 0h2m-4 0h2m0 0h2m-5 0h2m-2 0h2m-1 0h2m-4 0h2m1 3h2m-3 0h2m-3 2h2m-3 1h2m-1 4h2m1 0h2m-6 0h2m-1 0h2m1 0h2m-4 0h2m-2 0h2m0 0h2m-2 1h2m-5 15h2m-1 0h2m-2 0h2m-1 38h2m-3 3h2m-4 1h2m1 1h2m-4 2h2m-1 4h2m-1 2h2m-4 2h2m1 1h2m-4 0h2m-4 4h2m-1 3h2m-1 0h2m0 4h2m-2 8h2m-2 2h2m-5 0h2m-1 1h2m-3 1h2m-1 1h2m-4 0h2m-1 1h2m-3 1h2m1 0h2m-3 1h2m-2 1h2m-2 2h2m-1 0h2m-2 1h2m-3 2h2m-1 1h2m-1 1h2m-2 1h2m-5 1h2m1 1h2m-3 0h2m-5 1h2m-1 0h2m-1 1h2m-4 1h2m2 5h2m-5 0h2m0 1h2m-1 2h2m-5 1h2m-3 1h2m-1 0h2m-1 0h2m-1 1h2m-3 3h2m-2 1h2m-2 1h2m-3 1h2m-1 0h2m-2 0h2m-3 0h2m0 2h2m-2 1h2m-1 2h2m-4 2h2m-1 1h2m-2 1h2m-2 1h2m-1 2h2m-5 1h2m1 1h2m-2 3h2m-6 2h2m1 5h2m-1 2h2m-5 0h2m-3 0h2m-1 0h2m1 0h2m-3 0h2m-4 5h2m0 1h2m-5 6h2m0 0h2m-4 0h2m-2 0h2m-2 0h2m-1 3h2m-2 9h2m-2 0h2m-1 0h2m-1 0h2m-3 10h2m-2 16h2m-3 46h2m-2 5h2m0 1h2m-4 5h2m-3 1h2m0 1h2m-3 1h2m-2 0h2m-1 3h2m0 1h2m-4 1h2m0 4h2m-2 2h2m-2 1h2m-4 2h2m0 0h2m-6 1h2m1 3h2m-5 0h2m-2 2h2m1 4h2m-2 1h2m-1 0h2m-3 0h2m-1 1h2m-6 0h2m0 0h2m0 0h2m-4 2h2m-2 0h2m-4 0h2m-1 2h2m0 1h2m-3 1h2m-4 1h2m-1 1h2m-3 0h2m2 2h2m-4 2h2m-3 2h2m-2 2h2m-2 1h2m1 4h2m-2 0h2m-2 1h2m-5 0h2m-3 0h2m-1 0h2m-3 0h2m-1 1h2m-1 1h2m-1 1h2m-1 1h2m-4 2h2m-1 1h2m-2 1h2m-4 3h2m-2 2h2m-2 1h2m-1 0h2m-2 0h2m-1 1h2m-3 0h2m-2 1h2m-2 0h2m-2 0h2m-4 3h2m-2 0h2m-1 0h2m1 0h2m-6 3h2m1 1h2m-5 1h2m1 0h2m-2 0h2m-4 4h2m-3 0h2m-2 3h2m-2 0h2m2 0h2m-5 0h2m-1 0h2m-1 0h2m-4 0h2m0 1h2m-5 1h2m1 1h2m-5 0h2m-1 1h2m-1 5h2m0 0h2m-5 1h2m1 0h2m-2 2h2m-3 0h2m-3 0h2m-1 0h2m-3 0h2m-3 0h2m-1 0h2m-3 0h2m0 0h2m-3 0h2m-3 0h2m0 0h2m-3 0h2m-1 0h2m-1 2h2m-5 1h2m0 2h2m-2 1h2m-5 6h2m2 0h2m-2 0h2m-4 0h2m-3 0h2m0 0h2m-5 26h2m5-523h2m-3 1h2m1 6h2m-2 8h2m-2 6h2m0 4h2m-4 2h2m-4 5h2m2 1h2m-2 0h2m-5 1h2m-2 4h2m-2 5h2m-1 4h2m0 1h2m-7 2h2m3 1h2m-4 0h2m-2 1h2m-2 1h2m0 1h2m-4 0h2m-5 1h2m3 6h2m-7 1h2m3 3h2m-4 1h2m-5 1h2m-1 1h2m-3 2h2m2 0h2m-4 1h2m1 7h2m-3 2h2m-1 1h2m-7 2h2m3 1h2m-6 1h2m2 1h2m-4 3h2m-3 4h2m-1 0h2m-4 0h2m-2 1h2m2 0h2m-4 3h2m-4 2h2m-2 0h2m0 1h2m-3 0h2m-2 0h2m0 0h2m-1 3h2m-6 0h2m0 0h2m-3 0h2m-2 1h2m-4 0h2m3 1h2m-3 0h2m-1 3h2m-2 0h2m-2 0h2m-3 0h2m-4 0h2m-2 0h2m-2 0h2m1 0h2m-5 0h2m-1 0h2m-4 0h2m-1 0h2m-1 2h2m-1 1h2m-5 7h2m-3 1h2m0 1h2m-2 0h2m-2 0h2m-3 0h2m1 0h2m-2 0h2m-5 3h2m2 5h2m-4 2h2m-5 0h2m1 0h2m-5 0h2m3 0h2m-6 0h2m0 0h2m-5 0h2m2 0h2m-3 0h2m0 16h2m-3 0h2m-5 0h2m-2 0h2m1 0h2m-6 36h2m3 1h2m-5 1h2m-4 2h2m-1 2h2m2 3h2m-5 4h2m-1 0h2m-1 5h2m-5 1h2m2 1h2m-2 2h2m-3 1h2m-2 0h2m-4 5h2m0 1h2m-6 0h2m1 1h2m-3 0h2m-1 2h2m0 1h2m-2 2h2m-2 1h2m-3 3h2m-5 0h2m-1 5h2m-2 2h2m-1 2h2m-5 5h2m-1 1h2m-2 1h2m2 1h2m-7 1h2m2 0h2m-6 0h2m-2 1h2m0 0h2m-3 2h2m0 1h2m-1 4h2m-4 2h2m-4 0h2m2 1h2m-4 1h2m1 0h2m-6 1h2m0 0h2m-1 3h2m-1 1h2m-4 0h2m-5 2h2m3 0h2m-2 1h2m-2 0h2m-5 1h2m-2 0h2m-3 0h2m0 0h2m-5 1h2m2 1h2m-1 0h2m-4 0h2m-1 1h2m-5 0h2m0 2h2m-1 0h2m-4 0h2m-4 2h2m1 0h2m-5 0h2m1 1h2m-3 0h2m-3 3h2m-2 0h2m-1 0h2m1 1h2m-3 0h2m-4 1h2m1 0h2m-2 1h2m-6 0h2m-2 1h2m-2 0h2m1 1h2m-2 0h2m-4 4h2m-4 3h2m-1 1h2m-1 0h2m-3 0h2m-1 0h2m1 0h2m-5 0h2m0 0h2m-2 0h2m-1 0h2m-5 0h2m-3 0h2m-1 0h2m-3 0h2m-1 1h2m-4 1h2m0 0h2m1 2h2m-3 0h2m-4 3h2m-2 2h2m-2 1h2m1 2h2m-6 0h2m1 0h2m-4 0h2m1 0h2m-7 0h2m-1 0h2m0 0h2m-4 0h2m0 0h2m-1 12h2m-2 0h2m-5 10h2m-2 0h2m0 0h2m0 16h2m-4 0h2m-2 0h2m0 40h2m-5 7h2m-3 0h2m0 4h2m-5 0h2m2 0h2m-3 1h2m0 1h2m-7 1h2m1 2h2m-2 0h2m-4 1h2m-1 1h2m-2 3h2m1 3h2m-2 1h2m-6 0h2m-2 0h2m-3 0h2m3 2h2m-7 2h2m2 2h2m-1 2h2m-3 1h2m-2 1h2m-6 1h2m-2 0h2m-1 2h2m0 0h2m-5 0h2m-2 1h2m0 0h2m-2 0h2m-1 0h2m0 1h2m-3 2h2m-2 0h2m-5 1h2m1 2h2m-2 1h2m-5 2h2m-3 1h2m-2 3h2m1 1h2m0 2h2m-2 3h2m-5 0h2m-4 2h2m0 0h2m-3 1h2m-2 2h2m-1 0h2m-3 2h2m2 1h2m-6 2h2m-2 1h2m2 1h2m-2 1h2m-3 0h2m-2 1h2m-2 0h2m-4 1h2m-2 0h2m-3 0h2m-1 0h2m-2 1h2m0 0h2m-5 2h2m0 6h2m0 1h2m-2 0h2m-3 0h2m-2 1h2m-3 0h2m-4 0h2m1 1h2m-4 0h2m0 1h2m-1 0h2m-4 0h2m0 0h2m-7 0h2m0 1h2m1 0h2m-4 0h2m-3 0h2m-3 1h2m0 1h2m-2 1h2m0 0h2m-2 0h2m-5 0h2m-2 1h2m1 1h2m-5 1h2m-1 0h2m-5 1h2m3 0h2m-4 0h2m-5 1h2m0 2h2m-4 2h2m3 0h2m-4 0h2m-1 0h2m-2 0h2m-3 0h2m-1 0h2m-5 0h2m-2 0h2m1 0h2m-4 0h2m-4 1h2m-1 2h2m1 2h2m-1 0h2m-3 0h2m-1 1h2m-4 1h2m-2 4h2m-1 1h2m-4 0h2m1 0h2m-6 0h2m-2 0h2m-3 0h2m3 0h2m-5 0h2m-4 0h2m-2 1h2m1 4h2m-1 0h2m-1 1h2m-7 0h2m-1 0h2m2 1h2m-7 1h2m3 2h2m-7 2h2m-1 0h2m1 0h2m-4 0h2m-3 0h2m1 0h2m-3 0h2m-4 0h2m2 0h2m-5 0h2m-3 2h2m2 8h2m-4 0h2m-1 0h2m-4 16h2m4-527h2m0 1h2m-3 12h2m-2 1h2m0 0h2m-5 8h2m-2 2h2m0 0h2m-1 2h2m-5 2h2m-1 3h2m-2 4h2m-1 2h2m-2 2h2m-3 5h2m-1 2h2m-1 3h2m-2 1h2m-4 2h2m-2 1h2m-1 1h2m-4 5h2m0 3h2m-1 0h2m-6 1h2m1 1h2m-2 8h2m-5 7h2m0 10h2m-1 2h2m-1 0h2m-5 2h2m-1 2h2m-1 12h2m-4 0h2m-1 0h2m0 0h2m-3 0h2m-1 1h2m-3 1h2m-1 2h2m-6 1h2m1 0h2m-2 0h2m-3 0h2m-1 0h2m-5 0h2m2 0h2m-5 0h2m-2 0h2m-1 0h2m0 0h2m-5 0h2m1 0h2m-2 0h2m-3 2h2m-1 0h2m-5 2h2m1 2h2m-6 0h2m1 0h2m-2 1h2m-3 3h2m-2 2h2m-4 0h2m1 0h2m-2 0h2m-2 0h2m-3 0h2m-4 0h2m1 2h2m-3 3h2m-3 0h2m-2 5h2m0 0h2m-1 0h2m-2 0h2m-2 0h2m-5 0h2m0 2h2m-1 14h2m-3 0h2m-2 35h2m-3 0h2m-3 4h2m1 1h2m-5 5h2m-1 0h2m-2 0h2m0 3h2m-3 1h2m-1 2h2m-5 1h2m-2 7h2m-1 1h2m-4 0h2m-1 0h2m-1 2h2m-3 1h2m0 0h2m-3 1h2m-1 1h2m-2 0h2m-4 2h2m-2 0h2m1 0h2m-5 1h2m-3 0h2m2 0h2m-4 1h2m-3 0h2m-3 1h2m2 7h2m-5 2h2m-3 0h2m-1 1h2m-1 0h2m-3 1h2m-3 4h2m-2 2h2m2 0h2m-5 2h2m-2 2h2m0 1h2m-5 2h2m1 2h2m-5 2h2m1 2h2m-1 6h2m-4 2h2m0 3h2m-4 0h2m0 0h2m-4 0h2m-3 1h2m1 0h2m-5 0h2m0 2h2m-1 0h2m-3 1h2m-4 0h2m-2 2h2m-1 1h2m-3 4h2m-1 0h2m-3 0h2m-3 1h2m0 3h2m-1 0h2m-1 1h2m-5 3h2m1 0h2m-3 1h2m-4 0h2m1 0h2m-6 0h2m-1 2h2m1 2h2m-5 2h2m-1 1h2m-1 0h2m-3 0h2m-2 0h2m0 0h2m-3 0h2m-4 0h2m-2 0h2m1 0h2m-2 4h2m-3 1h2m-3 0h2m-1 2h2m-4 1h2m-3 0h2m-2 4h2m-1 0h2m-1 0h2m-1 0h2m-2 12h2m-1 0h2m-3 10h2m-1 16h2m-2 0h2m-5 38h2m-1 1h2m-2 1h2m-4 7h2m0 0h2m-3 1h2m-1 3h2m-2 2h2m-3 1h2m-2 0h2m-2 3h2m-2 1h2m-1 1h2m-4 2h2m2 2h2m-5 1h2m-2 0h2m-2 1h2m1 1h2m-4 0h2m-1 3h2m-3 1h2m-2 1h2m0 1h2m-3 0h2m-3 0h2m-1 1h2m-1 0h2m-4 0h2m-2 1h2m-3 0h2m-1 1h2m-1 1h2m-2 0h2m-4 8h2m-3 1h2m-2 0h2m2 0h2m-3 1h2m-3 1h2m-2 1h2m-2 0h2m-2 2h2m0 1h2m-5 1h2m-1 6h2m0 0h2m-3 3h2m-2 0h2m-2 1h2m-3 1h2m-4 2h2m-1 1h2m0 1h2m-1 3h2m-3 2h2m-3 0h2m-1 3h2m-4 2h2m1 1h2m-4 4h2m-3 0h2m-2 0h2m0 3h2m-3 0h2m-3 0h2m-1 0h2m-1 0h2m-2 1h2m-4 0h2m0 0h2m-3 1h2m0 0h2m-3 1h2m-1 1h2m-3 0h2m-5 0h2m2 0h2m-4 1h2m-3 0h2m0 0h2m-4 1h2m-2 0h2m0 1h2m-5 1h2m0 0h2m-2 0h2m-3 0h2m-2 1h2m0 4h2m-4 1h2m-1 0h2m-1 0h2m-4 0h2m-1 0h2m-2 0h2m-1 0h2m-1 0h2m-5 0h2m-2 0h2m-2 0h2m-1 0h2m-3 5h2m-2 1h2m-3 0h2m2 6h2m-5 0h2m1 0h2m-4 0h2m-1 1h2m-4 3h2m1 0h2m-4 2h2m-3 3h2m-1 3h2m-2 0h2m-1 0h2m-5 0h2m0 0h2m-3 10h2m1 0h2m-5 0h2m0 0h2m-3 0h2m0 0h2m-5 16h2m-1 0h2m1-521h2m3 0h2m-3 6h2m-3 15h2m-1 0h2m-6 6h2m2 0h2m-1 5h2m-2 1h2m-5 3h2m-4 1h2m1 0h2m-2 3h2m-5 1h2m1 1h2m-2 4h2m-2 0h2m-5 2h2m-1 0h2m0 2h2m-3 2h2m-2 2h2m0 0h2m-6 3h2m1 0h2m-5 1h2m1 1h2m-5 4h2m1 0h2m0 7h2m-2 1h2m-3 1h2m-1 1h2m-7 2h2m1 1h2m-1 1h2m-3 0h2m-5 1h2m1 1h2m0 2h2m-3 0h2m-1 0h2m-2 1h2m-3 0h2m-2 2h2m-1 7h2m-2 1h2m-3 0h2m-3 1h2m0 1h2m-5 0h2m1 0h2m-3 0h2m-6 3h2m3 3h2m-2 2h2m-4 0h2m-4 4h2m-3 0h2m-2 0h2m3 0h2m-4 0h2m-2 0h2m-1 0h2m-3 0h2m-2 6h2m-2 2h2m-5 4h2m-2 0h2m-2 0h2m1 0h2m-1 0h2m-3 4h2m-5 2h2m1 2h2m-5 2h2m-2 0h2m-2 1h2m3 15h2m-2 0h2m-2 32h2m-2 0h2m-4 2h2m-3 0h2m1 3h2m-3 3h2m-2 0h2m-1 1h2m-2 6h2m-2 0h2m-4 1h2m-2 2h2m-3 0h2m0 1h2m-4 1h2m1 1h2m-4 2h2m0 1h2m-4 1h2m-5 4h2m2 0h2m-2 0h2m-6 1h2m1 1h2m-2 2h2m-3 2h2m-3 1h2m-3 3h2m-2 2h2m-2 1h2m-2 2h2m-2 1h2m-2 1h2m2 0h2m-1 0h2m-3 3h2m-3 6h2m0 0h2m-4 1h2m-5 1h2m2 1h2m-3 1h2m-5 1h2m-1 1h2m-3 3h2m-2 1h2m2 2h2m-3 2h2m-2 2h2m0 3h2m-4 3h2m0 1h2m-7 1h2m2 0h2m-3 0h2m-5 1h2m-1 2h2m1 0h2m-3 0h2m0 0h2m-5 1h2m-4 1h2m-1 0h2m1 1h2m-1 0h2m-7 2h2m3 0h2m-7 3h2m1 2h2m-5 4h2m1 0h2m0 0h2m-3 1h2m-3 3h2m0 0h2m-6 3h2m2 1h2m-4 1h2m-5 1h2m1 0h2m-2 0h2m-1 0h2m-2 2h2m-1 0h2m-3 8h2m-6 2h2m3 0h2m-2 0h2m-4 4h2m-5 8h2m2 0h2m-2 0h2m-2 10h2m-5 16h2m-3 0h2m-2 0h2m-2 0h2m2 42h2m-3 0h2m0 8h2m-2 1h2m-3 7h2m-2 2h2m-1 1h2m-7 1h2m-2 0h2m-2 2h2m1 0h2m-5 1h2m-2 0h2m-2 2h2m0 0h2m1 0h2m-6 1h2m-3 2h2m0 3h2m-1 0h2m-2 0h2m-5 1h2m1 0h2m-1 2h2m-1 0h2m-2 1h2m-4 1h2m0 2h2m-4 0h2m0 0h2m-2 0h2m-2 1h2m-2 2h2m-4 0h2m-3 3h2m-3 4h2m1 2h2m-3 3h2m-2 0h2m0 1h2m-2 2h2m-3 2h2m-2 2h2m-2 2h2m-3 1h2m-5 1h2m1 5h2m0 0h2m-4 2h2m-2 0h2m-1 1h2m-6 6h2m3 0h2m-7 1h2m-2 0h2m-2 2h2m-2 2h2m-1 0h2m0 0h2m-5 1h2m3 0h2m-7 1h2m1 0h2m0 0h2m-7 2h2m1 0h2m-2 0h2m-3 2h2m1 1h2m-7 1h2m2 3h2m-3 2h2m-1 0h2m-6 1h2m-2 0h2m-2 0h2m-2 0h2m3 0h2m-4 0h2m-1 0h2m-1 0h2m-3 0h2m-1 0h2m-2 0h2m-3 0h2m-1 0h2m-3 0h2m-2 0h2m-1 0h2m-3 4h2m-1 2h2m-3 3h2m-2 1h2m-6 2h2m-1 0h2m1 0h2m-2 1h2m-2 7h2m-1 3h2m-6 1h2m0 0h2m-1 0h2m-1 0h2m-3 0h2m-1 0h2m-7 1h2m3 9h2m-4 0h2m-5 16h2m-1 0h2m-2 0h2m1 0h2m-1 0h2m-4 0h2m0 0h2m0-528h2m1 6h2m-2 8h2m-5 12h2m-2 7h2m2 7h2m-7 11h2m-2 5h2m-1 0h2m-2 1h2m1 0h2m-2 2h2m-2 2h2m-4 2h2m-3 0h2m-2 0h2m1 2h2m-1 1h2m-6 9h2m-2 2h2m-1 1h2m-3 1h2m-3 2h2m3 0h2m-7 1h2m0 6h2m1 1h2m-5 5h2m0 1h2m-2 0h2m-6 1h2m-1 1h2m-3 0h2m-1 1h2m1 1h2m-5 2h2m-2 0h2m-2 0h2m2 1h2m-6 2h2m2 0h2m-2 1h2m-6 1h2m1 0h2m-6 7h2m-1 0h2m-3 0h2m-2 0h2m-1 0h2m-2 0h2m-2 0h2m1 1h2m-2 2h2m-1 1h2m-3 4h2m-2 0h2m-6 4h2m-1 0h2m-2 0h2m2 0h2m-2 0h2m-2 0h2m-3 0h2m-2 0h2m-2 0h2m-1 0h2m-3 0h2m-1 0h2m-2 0h2m-6 1h2m1 0h2m-5 2h2m2 7h2m-2 0h2m-3 0h2m-6 16h2m-1 0h2m2 0h2m-2 27h2m-7 8h2m0 2h2m0 1h2m-5 3h2m1 1h2m-2 0h2m-5 1h2m2 5h2m-2 2h2m-6 3h2m-2 4h2m-3 3h2m-1 2h2m-2 0h2m-3 0h2m-2 0h2m-1 1h2m2 8h2m-7 3h2m3 0h2m-2 2h2m-3 1h2m-4 1h2m0 1h2m-1 0h2m-6 3h2m-2 1h2m-2 1h2m2 0h2m-6 4h2m1 0h2m-6 2h2m0 4h2m-2 2h2m-3 3h2m-2 4h2m-2 1h2m1 1h2m-6 1h2m-1 1h2m-1 4h2m-4 0h2m3 0h2m-2 0h2m-3 0h2m-6 1h2m0 1h2m-4 0h2m-1 0h2m2 0h2m-2 0h2m-7 1h2m0 0h2m1 1h2m-2 1h2m-2 0h2m-2 1h2m-6 1h2m-2 1h2m-2 1h2m-3 1h2m-2 0h2m0 2h2m-3 1h2m-3 0h2m-1 1h2m-1 2h2m-4 1h2m0 1h2m1 0h2m-3 3h2m-6 6h2m-1 0h2m-1 0h2m-4 0h2m0 0h2m0 0h2m-2 0h2m-1 0h2m-2 0h2m-2 0h2m-2 6h2m-2 0h2m-3 1h2m-6 5h2m0 0h2m-4 0h2m-2 0h2m3 0h2m-5 12h2m-2 0h2m-4 10h2m-2 0h2m3 45h2m-6 8h2m1 0h2m-6 2h2m3 2h2m-7 7h2m-1 2h2m-2 0h2m2 2h2m-2 1h2m-3 0h2m-2 4h2m-1 0h2m-7 4h2m0 0h2m1 3h2m-7 2h2m3 1h2m-3 0h2m-4 1h2m1 0h2m-2 0h2m-3 1h2m-2 4h2m-6 1h2m-2 0h2m-2 0h2m-2 3h2m-1 0h2m-3 0h2m-2 0h2m2 0h2m-2 2h2m-6 1h2m2 0h2m-5 3h2m1 1h2m-2 4h2m-5 1h2m-2 1h2m-3 1h2m-1 1h2m2 0h2m-5 1h2m1 0h2m-6 1h2m2 0h2m-7 1h2m-1 1h2m1 0h2m-2 1h2m-5 3h2m-2 2h2m2 0h2m-6 1h2m-1 0h2m0 0h2m-2 0h2m-1 1h2m-3 1h2m-5 1h2m-3 1h2m-1 2h2m-2 5h2m-3 0h2m-2 3h2m0 1h2m-3 1h2m2 0h2m-6 2h2m2 0h2m-6 4h2m-1 0h2m-3 0h2m-2 0h2m-2 1h2m-1 1h2m-3 0h2m-2 1h2m2 0h2m-2 0h2m-6 1h2m2 2h2m-3 0h2m-6 3h2m2 0h2m-6 1h2m-2 4h2m-1 0h2m-2 0h2m1 0h2m-2 0h2m-2 0h2m-1 0h2m-3 0h2m-2 0h2m-2 1h2m-4 1h2m-3 1h2m-3 1h2m2 2h2m-4 2h2m0 1h2m-4 3h2m-4 0h2m0 0h2m-4 0h2m-2 0h2m3 0h2m-2 0h2m-2 0h2m-3 0h2m-2 0h2m-1 4h2m-7 2h2m2 0h2m-6 1h2m-2 4h2m-2 1h2m-2 0h2m3 0h2m-2 0h2m-3 0h2m-5 2h2m-3 8h2m3 0h2m-7 16h2m2 0h2m0-524h2m3 3h2m-6 6h2m0 41h2m-3 3h2m-4 5h2m-2 2h2m-2 2h2m0 0h2m-2 3h2m-2 1h2m-4 1h2m-1 2h2m-3 12h2m3 4h2m-4 4h2m-5 1h2m0 1h2m-2 0h2m-4 5h2m-2 8h2m-1 2h2m0 1h2m-2 2h2m-2 0h2m-5 0h2m-2 0h2m-1 0h2m-2 0h2m2 0h2m-6 1h2m0 2h2m-3 4h2m-1 1h2m0 1h2m-6 1h2m2 0h2m-5 2h2m-2 0h2m-4 0h2m-2 0h2m0 0h2m-2 0h2m-1 0h2m-3 0h2m-4 0h2m-2 0h2m0 0h2m1 0h2m-2 0h2m-2 4h2m-7 3h2m-1 3h2m-1 0h2m-4 0h2m-1 0h2m2 0h2m-2 0h2m-6 16h2m-2 0h2m-1 0h2m1 0h2m-5 26h2m1 1h2m-7 3h2m-2 1h2m-1 0h2m-1 10h2m-3 2h2m2 1h2m-7 2h2m-1 2h2m-3 1h2m3 0h2m-4 3h2m-2 0h2m-4 1h2m-1 0h2m-2 0h2m-4 1h2m-1 0h2m-3 0h2m-2 0h2m0 1h2m-3 0h2m-3 0h2m-2 9h2m-1 3h2m-1 5h2m-4 2h2m3 0h2m-4 3h2m-2 3h2m-5 0h2m-1 2h2m0 1h2m-5 1h2m0 5h2m-2 1h2m1 0h2m-5 10h2m-2 2h2m1 1h2m-6 1h2m2 3h2m-2 1h2m-6 3h2m0 0h2m-2 0h2m-5 0h2m1 0h2m-4 0h2m-2 1h2m0 1h2m-2 0h2m0 0h2m-6 2h2m-3 1h2m0 1h2m-3 0h2m-3 2h2m-1 0h2m0 1h2m-4 2h2m-3 0h2m-1 1h2m-3 1h2m0 1h2m-1 3h2m-3 2h2m-2 1h2m-3 2h2m2 2h2m-6 3h2m2 0h2m-5 3h2m1 3h2m-7 3h2m1 3h2m-4 0h2m0 0h2m-4 0h2m-2 2h2m0 1h2m-5 9h2m-1 0h2m-2 0h2m-3 0h2m0 26h2m-1 0h2m-2 0h2m-4 0h2m-3 29h2m-2 2h2m0 3h2m-2 3h2m-2 1h2m-4 6h2m3 5h2m-2 1h2m-4 2h2m-5 2h2m-1 0h2m-3 1h2m-1 8h2m2 1h2m-5 1h2m-2 0h2m-3 0h2m-2 2h2m-2 0h2m0 1h2m-3 0h2m-2 1h2m-4 0h2m-2 0h2m3 1h2m-2 5h2m-6 2h2m-3 1h2m-1 1h2m-3 2h2m3 1h2m-5 2h2m-4 8h2m0 0h2m-2 2h2m-4 0h2m1 1h2m-2 1h2m-2 5h2m-5 1h2m0 5h2m-2 0h2m-1 1h2m-4 2h2m-2 2h2m-1 3h2m-2 1h2m-1 10h2m-5 1h2m-2 0h2m0 0h2m-4 1h2m-1 0h2m-1 1h2m-3 0h2m-2 0h2m-2 1h2m-1 0h2m-4 1h2m0 1h2m-1 2h2m-5 0h2m0 1h2m-4 4h2m-2 0h2m0 0h2m-2 0h2m-1 0h2m-2 0h2m-3 0h2m-3 0h2m2 0h2m-2 3h2m-5 3h2m1 2h2m-5 4h2m-1 0h2m-4 0h2m2 0h2m-2 0h2m-2 0h2m-2 0h2m-7 1h2m3 7h2m-7 1h2m-2 3h2m-1 0h2m2 0h2m-5 10h2m-3 0h2m-3 0h2m0 0h2m-2 16h2m3-528h2m-3 1h2m1 5h2m-1 30h2m-3 5h2m-5 0h2m1 2h2m-4 9h2m1 1h2m-2 1h2m-5 1h2m-1 3h2m-2 0h2m-2 0h2m-2 1h2m-2 1h2m-1 2h2m-3 2h2m0 5h2m-3 1h2m-2 1h2m-4 7h2m-1 2h2m0 1h2m-6 1h2m0 0h2m-1 1h2m-5 3h2m1 2h2m-1 13h2m-4 4h2m-1 0h2m-1 2h2m-2 5h2m-3 7h2m-4 3h2m-1 2h2m-1 1h2m-5 0h2m-1 0h2m-3 0h2m-1 0h2m0 0h2m-2 0h2m-3 0h2m-3 0h2m-3 0h2m0 0h2m-4 0h2m0 1h2m0 0h2m-5 1h2m-2 2h2m1 2h2m-6 2h2m2 0h2m-4 2h2m-1 0h2m-4 0h2m-3 0h2m-1 16h2m0 0h2m-3 27h2m0 0h2m-5 3h2m-2 1h2m-2 2h2m-2 1h2m1 0h2m-3 1h2m-3 1h2m-4 0h2m2 1h2m-5 0h2m-3 0h2m0 1h2m-3 2h2m1 0h2m-4 1h2m-1 2h2m-4 1h2m-3 1h2m-2 1h2m-1 1h2m-3 0h2m0 0h2m-4 1h2m1 0h2m-1 0h2m-2 0h2m-4 0h2m-1 1h2m-1 10h2m-5 4h2m-3 1h2m2 3h2m-3 3h2m-3 2h2m-4 11h2m0 4h2m0 3h2m-4 1h2m0 7h2m-4 1h2m-2 3h2m-2 1h2m0 2h2m-6 1h2m0 0h2m-4 0h2m2 0h2m-3 2h2m-4 0h2m1 1h2m-5 1h2m-1 1h2m-3 0h2m1 2h2m-5 1h2m-1 1h2m0 5h2m-3 7h2m-3 4h2m-1 0h2m-4 3h2m1 2h2m-2 0h2m-3 2h2m-3 0h2m-4 0h2m-1 0h2m-1 0h2m-1 1h2m-4 4h2m0 1h2m-2 6h2m-1 3h2m-6 19h2m2 0h2m-6 0h2m-2 0h2m-2 0h2m-2 16h2m-1 0h2m0 30h2m-1 1h2m-3 1h2m-2 2h2m-3 2h2m0 1h2m-6 2h2m2 8h2m-6 3h2m-2 0h2m-2 0h2m-2 2h2m0 3h2m-2 2h2m-4 1h2m0 1h2m-4 1h2m-2 0h2m-1 2h2m-2 0h2m-1 1h2m-1 0h2m-5 2h2m-1 1h2m0 10h2m-5 0h2m1 2h2m-4 5h2m1 2h2m-5 3h2m1 3h2m-2 1h2m-3 1h2m-4 1h2m-3 6h2m2 1h2m-3 0h2m-3 6h2m0 0h2m-2 0h2m-3 0h2m-5 2h2m0 5h2m-3 2h2m-2 10h2m-2 0h2m-2 3h2m0 1h2m-4 6h2m-3 0h2m1 2h2m-3 1h2m-1 0h2m-2 0h2m-1 0h2m-2 0h2m-2 0h2m-2 0h2m-5 0h2m0 0h2m-5 0h2m-2 0h2m0 0h2m0 0h2m-6 0h2m0 0h2m-4 1h2m1 1h2m-4 2h2m-2 2h2m1 0h2m-3 0h2m-3 1h2m-2 3h2m-1 1h2m-2 1h2m-5 0h2m-1 0h2m0 0h2m-4 0h2m-1 0h2m-3 0h2m0 0h2m-5 0h2m2 1h2m-6 0h2m1 5h2m-3 0h2m-3 5h2m-2 1h2m-1 0h2m0 0h2m-5 0h2m-1 0h2m-4 2h2m0 24h2m-4 0h2m0 0h2m6-530h2m-2 8h2m-2 0h2m-5 22h2m-2 5h2m-2 3h2m2 1h2m-6 15h2m-2 2h2m0 3h2m-4 1h2m1 0h2m-4 1h2m-1 1h2m-3 0h2m-2 2h2m0 2h2m-5 1h2m1 3h2m-3 2h2m-4 2h2m-1 5h2m-2 2h2m-2 1h2m1 14h2m-3 2h2m-2 1h2m-2 6h2m-2 4h2m-5 0h2m0 0h2m-2 1h2m-4 0h2m-1 1h2m-4 4h2m2 0h2m-3 0h2m-5 0h2m0 0h2m-3 0h2m0 0h2m-5 5h2m3 1h2m-2 1h2m-3 5h2m-5 0h2m-1 0h2m-4 0h2m1 0h2m0 0h2m-4 0h2m-2 9h2m-1 1h2m-3 0h2m-1 0h2m-1 16h2m-6 0h2m1 27h2m-2 1h2m-4 0h2m-4 3h2m-1 1h2m0 2h2m0 0h2m-4 1h2m-3 2h2m-2 0h2m0 1h2m-3 2h2m-1 1h2m-5 0h2m-1 3h2m-2 0h2m-1 2h2m-2 0h2m-4 1h2m1 5h2m-6 3h2m-1 7h2m2 8h2m-6 0h2m-3 3h2m0 1h2m-3 4h2m0 2h2m-3 3h2m0 6h2m-4 3h2m1 4h2m-6 5h2m2 5h2m-6 0h2m2 0h2m-6 2h2m2 1h2m-6 1h2m0 0h2m-2 1h2m-4 1h2m-3 1h2m3 0h2m-4 1h2m-3 0h2m-2 1h2m-2 4h2m-3 1h2m-1 1h2m1 2h2m-2 4h2m-5 1h2m-1 0h2m-4 4h2m-1 2h2m0 1h2m-4 3h2m-3 0h2m2 0h2m-6 0h2m-1 6h2m-1 1h2m0 5h2m-3 0h2m-2 0h2m-3 0h2m-1 2h2m-1 10h2m-4 10h2m-3 0h2m-3 16h2m-2 28h2m-3 3h2m3 1h2m-2 1h2m-6 2h2m0 3h2m-1 1h2m-2 0h2m-5 3h2m1 3h2m-2 0h2m-6 1h2m-2 0h2m0 1h2m1 1h2m-5 3h2m-4 1h2m0 2h2m-4 0h2m1 0h2m0 2h2m-2 1h2m-2 1h2m-2 0h2m-4 0h2m-3 0h2m1 2h2m-7 3h2m3 4h2m-2 1h2m-5 0h2m-1 2h2m-5 1h2m0 3h2m0 5h2m-3 2h2m-3 5h2m-1 4h2m-3 0h2m-3 5h2m2 2h2m-3 11h2m-2 4h2m-3 6h2m-3 1h2m1 7h2m-5 4h2m-1 1h2m-2 0h2m0 1h2m-4 0h2m-1 1h2m-4 0h2m-1 1h2m0 2h2m-5 2h2m0 1h2m-3 0h2m-2 0h2m-4 0h2m-3 0h2m3 0h2m-4 0h2m-3 0h2m0 0h2m-1 0h2m-5 0h2m1 0h2m-2 2h2m-3 4h2m-1 4h2m-6 0h2m-1 2h2m1 0h2m-3 0h2m-4 0h2m-3 0h2m-2 0h2m1 0h2m-3 6h2m-3 1h2m-2 4h2m-3 1h2m2 10h2m-6 0h2m-3 0h2m2 0h2m-4 16h2m5-537h2m-1 17h2m-4 16h2m-1 16h2m-1 13h2m-4 0h2m1 3h2m-4 3h2m-2 0h2m0 1h2m-2 1h2m-5 26h2m-1 4h2m-2 0h2m-1 1h2m-5 6h2m0 0h2m-2 3h2m-2 2h2m-1 9h2m-1 1h2m-4 0h2m0 1h2m-2 5h2m-3 0h2m-2 1h2m-4 0h2m-2 5h2m1 0h2m-6 0h2m1 0h2m-2 2h2m-5 3h2m-2 5h2m0 45h2m0 2h2m-6 7h2m0 1h2m-4 1h2m1 1h2m-2 0h2m-3 4h2m0 0h2m-3 0h2m-1 0h2m-2 7h2m-3 1h2m-2 1h2m-3 10h2m-2 8h2m-3 8h2m0 2h2m-4 1h2m-1 0h2m-2 5h2m-1 4h2m-1 3h2m-4 9h2m-2 2h2m-2 0h2m-2 1h2m-1 3h2m-5 5h2m2 5h2m-4 1h2m-3 0h2m-2 3h2m-1 9h2m-2 3h2m-4 2h2m-1 0h2m1 6h2m-4 6h2m-3 0h2m-1 0h2m-3 22h2m-1 16h2m0 29h2m-6 4h2m0 2h2m0 1h2m-4 3h2m-3 2h2m-3 5h2m2 3h2m-2 1h2m-3 0h2m-1 3h2m-4 5h2m-2 1h2m-4 4h2m-1 1h2m-3 6h2m-2 6h2m0 2h2m-4 2h2m-1 16h2m-1 1h2m-3 1h2m0 3h2m-1 0h2m-4 0h2m-4 0h2m-1 0h2m-2 1h2m0 8h2m-2 6h2m-1 1h2m-3 2h2m-4 1h2m-1 2h2m0 5h2m-2 6h2m-2 0h2m-4 6h2m-1 0h2m-2 2h2m-5 10h2m1 4h2m-5 1h2m2 7h2m-2 0h2m-2 0h2m-5 0h2m0 10h2m-3 0h2m-3 16h2m0 0h2m5-502h2m-4 8h2m-2 4h2m0 3h2m-7 3h2m1 0h2m-5 22h2m-2 4h2m-2 12h2m1 4h2m-1 0h2m-5 3h2m-3 6h2m-2 4h2m3 2h2m-2 0h2m-3 0h2m-3 0h2m0 16h2m-3 2h2m-2 15h2m-6 1h2m1 51h2m-5 5h2m3 0h2m-2 1h2m-4 0h2m-1 0h2m-5 2h2m-3 1h2m-2 8h2m-2 8h2m2 0h2m-2 3h2m-2 2h2m-3 11h2m-2 7h2m-2 15h2m-1 2h2m-6 5h2m-2 0h2m3 1h2m-2 1h2m-5 1h2m0 3h2m-3 6h2m0 1h2m-7 1h2m2 2h2m-2 1h2m-1 4h2m-2 4h2m-2 8h2m-7 5h2m-1 2h2m2 17h2m-2 0h2m-4 26h2m-1 28h2m-6 10h2m1 1h2m-1 2h2m-6 3h2m1 1h2m-1 3h2m-6 2h2m-2 3h2m-2 1h2m3 0h2m-3 1h2m-3 12h2m-4 12h2m1 2h2m-1 11h2m-2 4h2m-4 4h2m-1 1h2m-6 1h2m2 1h2m-1 4h2m-2 1h2m-2 9h2m-3 1h2m-6 5h2m1 1h2m-5 3h2m1 2h2m-4 8h2m-3 2h2m2 0h2m-3 0h2m0 7h2m-2 4h2m-7 1h2m-1 0h2m2 0h2m-4 0h2m-1 12h2m-1 26h2m0-533h2m2 18h2m-7 17h2m-2 17h2m-1 3h2m2 3h2m-6 10h2m2 12h2m-7 1h2m-1 0h2m-1 3h2m-3 7h2m-3 15h2m0 0h2m-3 0h2m-1 0h2m1 0h2m-6 19h2m-3 12h2m-1 3h2m2 0h2m-3 0h2m-6 48h2m3 11h2m-3 0h2m-6 1h2m0 2h2m1 16h2m-2 13h2m-3 7h2m-4 3h2m-2 0h2m-3 0h2m2 1h2m-3 4h2m-6 5h2m-2 3h2m2 1h2m-6 10h2m0 0h2m-3 4h2m-1 8h2m-4 17h2m3 0h2m-3 6h2m-1 6h2m-5 68h2m1 2h2m-3 9h2m-4 11h2m1 2h2m-5 2h2m-2 29h2m-3 3h2m-3 0h2m2 8h2m-2 10h2m-4 1h2m-4 0h2m0 4h2m-4 2h2m-2 2h2m-2 1h2m-1 10h2m-2 0h2m2 4h2m-2 3h2m-7 6h2m-2 1h2m0 11h2m1 0h2m-3 0h2m-4 12h2m-4 10h2m2 16h2m2-503h2m-4 6h2m-2 4h2m-2 5h2m-1 7h2m-3 1h2m-1 6h2m0 1h2m-2 4h2m0 2h2m-6 8h2m-1 7h2m-3 7h2m2 5h2m-7 4h2m-2 9h2m-1 17h2m0 7h2m-3 55h2m-2 4h2m-1 0h2m-5 5h2m-1 1h2m-3 4h2m1 0h2m-4 24h2m-2 16h2m-2 9h2m-2 2h2m-2 1h2m0 3h2m-5 9h2m-1 7h2m2 6h2m-6 30h2m-2 22h2m2 0h2m-2 45h2m-6 1h2m-2 3h2m2 0h2m-6 2h2m-1 9h2m-4 11h2m3 3h2m-4 8h2m-2 8h2m-4 1h2m-1 0h2m-2 12h2m1 2h2m-7 3h2m-2 9h2m-2 15h2m-1 2h2m-3 2h2m-1 3h2m0 5h2m-4 1h2m0 1h2m-2 2h2m-4 7h2m-1 0h2m-2 11h2m-4 1h2m8-497h2m-5 8h2m-1 13h2m-2 8h2m-2 12h2m-2 0h2m-2 13h2m-2 24h2m-1 21h2m-5 0h2m2 2h2m-2 19h2m-3 0h2m-2 0h2m-1 71h2m-6 3h2m2 7h2m-2 1h2m-4 0h2m-2 6h2m-3 0h2m-3 9h2m0 11h2m0 3h2m-5 4h2m1 0h2m-4 5h2m-3 2h2m-3 7h2m-1 4h2m-1 19h2m-1 14h2m-4 44h2m-3 48h2m2 2h2m-4 1h2m-4 16h2m2 6h2m-6 12h2m2 2h2m-5 1h2m0 8h2m-1 6h2m-6 6h2m1 12h2m-2 2h2m-5 9h2m-1 7h2m-3 4h2m-2 1h2m-1 1h2m-1 6h2m-3 29h2m-1 0h2m4-491h2m-1 7h2m-1 5h2m-3 17h2m-2 6h2m0 8h2m-6 2h2m1 5h2m-3 7h2m-1 6h2m-1 16h2m-2 8h2m-7 15h2m-1 66h2m2 1h2m-5 7h2m-1 19h2m-1 1h2m-4 1h2m-3 1h2m2 2h2m-6 8h2m0 0h2m-3 10h2m0 9h2m-5 15h2m2 24h2m-3 3h2m-2 9h2m-2 24h2m-4 55h2m-3 1h2m-2 4h2m1 11h2m-5 3h2m-2 1h2m-3 0h2m2 12h2m-3 2h2m-3 2h2m-3 5h2m-3 9h2m-1 2h2m-3 0h2m3 8h2m-4 7h2m-4 26h2m1 1h2m-5 0h2m-1 28h2m-2 22h2m5-515h2m0 1h2m-4 5h2m-1 27h2m-3 3h2m-2 14h2m-2 7h2m0 40h2m-5 7h2m1 82h2m-2 2h2m-6 2h2m2 3h2m-4 0h2m0 2h2m-5 7h2m1 0h2m-5 26h2m-2 3h2m1 9h2m-3 64h2m-4 74h2m-1 6h2m-3 7h2m-1 2h2m-1 7h2m-4 5h2m1 1h2m-4 0h2m0 2h2m-3 15h2m-1 13h2m-4 18h2m-4 9h2m-1 52h2m5-514h2m-5 9h2m2 0h2m-2 27h2m-5 45h2m-2 22h2m2 12h2m-7 65h2m-1 7h2m1 1h2m-1 3h2m-2 8h2m-4 9h2m0 1h2m-2 31h2m-5 9h2m-4 4h2m3 20h2m-7 95h2m0 4h2m1 21h2m-4 6h2m-4 3h2m1 5h2m-3 0h2m-1 2h2m-1 9h2m-4 4h2m-1 1h2m-3 6h2m-2 3h2m-1 13h2m-6 21h2m-2 14h2m-2 34h2m4-506h2m-2 2h2m-1 1h2m2 2h2m-2 1h2m-5 4h2m1 2h2m-6 21h2m-2 12h2m2 33h2m-6 20h2m1 77h2m-2 5h2m-5 2h2m2 36h2m-6 8h2m-3 3h2m-1 34h2m-2 3h2m-3 17h2m3 78h2m-3 2h2m-4 7h2m1 7h2m-7 42h2m3 2h2m-3 3h2m-6 18h2m-1 4h2m-2 76h2m3-531h2m0 3h2m-3 2h2m0 18h2m-4 1h2m-2 8h2m-3 96h2m3 52h2m-5 4h2m-2 2h2m-4 4h2m0 5h2m1 6h2m-6 23h2m-2 2h2m-2 4h2m-1 25h2m-2 0h2m-3 11h2m-2 26h2m-3 78h2m0 1h2m-4 0h2m-2 1h2m-1 0h2m2 1h2m-6 10h2m2 2h2m-7 20h2m-2 2h2m-1 8h2m2 36h2m-6 1h2m-1 7h2m-3 56h2m5-519h2m0 25h2m-4 3h2m-4 15h2m-1 0h2m-1 5h2m-3 7h2m-1 7h2m-1 12h2m-4 29h2m1 39h2m-3 42h2m-2 2h2m-4 1h2m-1 4h2m-4 2h2m0 2h2m-3 3h2m1 14h2m-4 3h2m-2 28h2m-4 0h2m-2 65h2m-2 66h2m2 0h2m-4 7h2m-1 4h2m-2 2h2m-3 15h2m-1 1h2m-1 0h2m-3 7h2m-3 2h2m0 2h2m-6 33h2m1 10h2m-5 62h2m5-521h2m-3 1h2m0 1h2m-3 0h2m2 1h2m-3 10h2m-1 23h2m-4 12h2m-5 39h2m2 8h2m-4 65h2m-1 27h2m-1 1h2m-1 6h2m-6 0h2m1 2h2m-1 7h2m-7 1h2m3 1h2m-4 4h2m-2 2h2m-1 12h2m-3 22h2m-3 13h2m-2 40h2m-1 77h2m-3 0h2m-3 0h2m-2 0h2m-2 1h2m-2 5h2m0 3h2m-5 1h2m1 2h2m-2 0h2m-4 15h2m-2 13h2m0 10h2m-1 12h2m-2 17h2m-5 67h2m3-143h2" stroke="#505050" stroke-opacity=".22" stroke-width="1.4"/>
<text x="0" y="6.8" style="text-anchor:start;font-weight:bold;stroke-width:0" font-size="9.7">a</text>
<text x="323" y="6.8" style="text-anchor:start;font-weight:bold;stroke-width:0" font-size="9.7">b</text>
<text x="61.2" y="12.15" font-size="9.2">Alpha diversity</text>
<text x="161.25" y="12.15" font-size="9.2">Contribution to gamma</text>
<text x="258.35" y="12.15" font-size="9.2">Complementarity</text>
<text x="408.55" y="12.15" font-size="9.2">Absolute range size</text>
<text x="521.8" y="12.15" font-size="9.2">Latitudinal range</text>
<text x="635" y="12.15" font-size="9.2">Longitudinal range</text>
<text transform="translate(13 61.2) rotate(-90)" font-size="8.6">Taxonomic richness</text>
<text transform="translate(13 156.5) rotate(-90)" font-size="8.6">Functional diversity</text>
<text transform="translate(13 251.4) rotate(-90)" font-size="8.6">Phylogenetic diversity</text>
<text transform="translate(336.4 59.2) rotate(-90)" font-size="9.2">Species</text>
<text transform="translate(336.4 154.3) rotate(-90)" font-size="9.2">Trait combinations</text>
<text transform="translate(336.4 252.2) rotate(-90)" font-size="9.2">Phylogenetic lineages</text>
<text transform="translate(347.9 67.7) rotate(-90)" font-size="6.6">Range size</text>
<text transform="translate(347.9 159.2) rotate(-90)" font-size="6.6">Range size</text>
<text transform="translate(347.9 253.6) rotate(-90)" font-size="6.6">Range size</text>
<text transform="translate(466.2 65.25) rotate(-90)" font-size="6.7">Latitudinal range</text>
<text transform="translate(466.2 159.6) rotate(-90)" font-size="6.7">Latitudinal range</text>
<text transform="translate(466.2 253.9) rotate(-90)" font-size="6.7">Latitudinal range</text>
<text transform="translate(580.3 64.5) rotate(-90)" font-size="6.75">Longitudinal range</text>
<text transform="translate(580.3 157.5) rotate(-90)" font-size="6.75">Longitudinal range</text>
<text transform="translate(580.3 251.8) rotate(-90)" font-size="6.75">Longitudinal range</text>
<text x="23.8" y="302" font-size="6.6">-57.5</text>
<text x="60.1" y="302" font-size="6.6">0</text>
<text x="103.1" y="302" font-size="6.6">67.5</text>
<text x="64.35" y="315.7" font-size="8.7">Latitude (°)</text>
<text x="120.7" y="302" font-size="6.6">-57.5</text>
<text x="157" y="302" font-size="6.6">0</text>
<text x="200.1" y="302" font-size="6.6">67.5</text>
<text x="161.3" y="315.7" font-size="8.7">Latitude (°)</text>
<text x="217.7" y="302" font-size="6.6">-57.5</text>
<text x="254" y="302" font-size="6.6">0</text>
<text x="297" y="302" font-size="6.6">67.5</text>
<text x="258.25" y="315.7" font-size="8.7">Latitude (°)</text>
<text x="367.2" y="302" font-size="6.6">-52.5</text>
<text x="404.7" y="302" font-size="6.6">0</text>
<text x="451.8" y="302" font-size="6.6">67.5</text>
<text x="408.5" y="315.7" font-size="8.7">Latitude (°)</text>
<text x="480.8" y="302" font-size="6.6">-52.5</text>
<text x="518.15" y="302" font-size="6.6">0</text>
<text x="564.8" y="302" font-size="6.6">67.5</text>
<text x="521.8" y="315.7" font-size="8.7">Latitude (°)</text>
<text x="593.8" y="302" font-size="6.6">-52.5</text>
<text x="630.9" y="302" font-size="6.6">0</text>
<text x="678.8" y="302" font-size="6.6">67.5</text>
<text x="635.3" y="315.7" font-size="8.7">Latitude (°)</text>
<text x="363.8" y="105.1" style="text-anchor:end" font-size="6.6">0.0</text>
<text x="363.8" y="82.9" style="text-anchor:end" font-size="6.6">2.5</text>
<text x="363.8" y="60.7" style="text-anchor:end" font-size="6.6">5.0</text>
<text x="363.8" y="38.5" style="text-anchor:end" font-size="6.6">7.5</text>
<text x="363.8" y="200.2" style="text-anchor:end" font-size="6.6">0.0</text>
<text x="363.8" y="178.4" style="text-anchor:end" font-size="6.6">2.5</text>
<text x="363.8" y="156.6" style="text-anchor:end" font-size="6.6">5.0</text>
<text x="363.8" y="134.9" style="text-anchor:end" font-size="6.6">7.5</text>
<text x="363.8" y="293.6" style="text-anchor:end" font-size="6.6">0.0</text>
<text x="363.8" y="272.6" style="text-anchor:end" font-size="6.6">2.5</text>
<text x="363.8" y="251.6" style="text-anchor:end" font-size="6.6">5.0</text>
<text x="363.8" y="230.1" style="text-anchor:end" font-size="6.6">7.5</text>
<text x="363.8" y="208.6" style="text-anchor:end" font-size="6.6">10.0</text>
<text x="477.4" y="105.3" style="text-anchor:end" font-size="6.6">0</text>
<text x="477.4" y="90.4" style="text-anchor:end" font-size="6.6">1</text>
<text x="477.4" y="75.5" style="text-anchor:end" font-size="6.6">2</text>
<text x="477.4" y="60.6" style="text-anchor:end" font-size="6.6">3</text>
<text x="477.4" y="45.7" style="text-anchor:end" font-size="6.6">4</text>
<text x="477.4" y="30.8" style="text-anchor:end" font-size="6.6">5</text>
<text x="477.4" y="200.2" style="text-anchor:end" font-size="6.6">0</text>
<text x="477.4" y="185.2" style="text-anchor:end" font-size="6.6">1</text>
<text x="477.4" y="170.2" style="text-anchor:end" font-size="6.6">2</text>
<text x="477.4" y="155.2" style="text-anchor:end" font-size="6.6">3</text>
<text x="477.4" y="140.2" style="text-anchor:end" font-size="6.6">4</text>
<text x="477.4" y="125.2" style="text-anchor:end" font-size="6.6">5</text>
<text x="477.4" y="294.2" style="text-anchor:end" font-size="6.6">0</text>
<text x="477.4" y="279.3" style="text-anchor:end" font-size="6.6">1</text>
<text x="477.4" y="264.4" style="text-anchor:end" font-size="6.6">2</text>
<text x="477.4" y="249.5" style="text-anchor:end" font-size="6.6">3</text>
<text x="477.4" y="234.6" style="text-anchor:end" font-size="6.6">4</text>
<text x="477.4" y="219.7" style="text-anchor:end" font-size="6.6">5</text>
<text x="590.6" y="105.8" style="text-anchor:end" font-size="6.6">0</text>
<text x="590.6" y="77.9" style="text-anchor:end" font-size="6.6">2</text>
<text x="590.6" y="50" style="text-anchor:end" font-size="6.6">4</text>
<text x="590.6" y="22.1" style="text-anchor:end" font-size="6.6">6</text>
<text x="590.6" y="199.6" style="text-anchor:end" font-size="6.6">0</text>
<text x="590.6" y="185.55" style="text-anchor:end" font-size="6.6">1</text>
<text x="590.6" y="171.5" style="text-anchor:end" font-size="6.6">2</text>
<text x="590.6" y="157.45" style="text-anchor:end" font-size="6.6">3</text>
<text x="590.6" y="143.4" style="text-anchor:end" font-size="6.6">4</text>
<text x="590.6" y="129.35" style="text-anchor:end" font-size="6.6">5</text>
<text x="590.6" y="115.3" style="text-anchor:end" font-size="6.6">6</text>
<text x="590.6" y="294.2" style="text-anchor:end" font-size="6.6">0</text>
<text x="590.6" y="280.05" style="text-anchor:end" font-size="6.6">1</text>
<text x="590.6" y="265.9" style="text-anchor:end" font-size="6.6">2</text>
<text x="590.6" y="251.75" style="text-anchor:end" font-size="6.6">3</text>
<text x="590.6" y="237.6" style="text-anchor:end" font-size="6.6">4</text>
<text x="590.6" y="223.45" style="text-anchor:end" font-size="6.6">5</text>
<text x="590.6" y="209.3" style="text-anchor:end" font-size="6.6">6</text>
</svg></body></html>
